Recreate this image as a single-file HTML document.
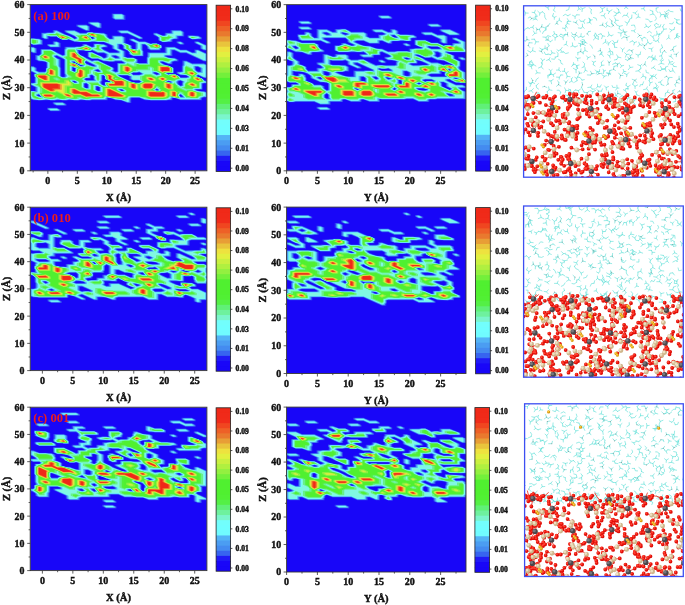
<!DOCTYPE html><html><head><meta charset="utf-8"><style>html,body{margin:0;padding:0;background:#fff;}svg{display:block;}</style></head><body><svg width="685" height="605" viewBox="0 0 685 605" font-family="'Liberation Serif', 'Times New Roman', serif">
<rect width="685" height="605" fill="#ffffff"/>
<clipPath id="cp0L"><rect x="30.20" y="4.60" width="176.70" height="166.20"/></clipPath>
<g clip-path="url(#cp0L)"><rect x="30.20" y="4.60" width="176.70" height="166.20" fill="#1806f8"/>
<path transform="scale(.25)" d="M462 54l24 0 16 7 0 19-40 0-15-8 0-18zM368 87l24 0 15 7 0 19-15 0-40-19 0-7zM321 98l24 0 15 8 0 18-15 0-40-18 0-8zM227 120l39 19 8 2 24 13 5-2 0-2-5-4-40-18 0-8 40 0 23 11 24 0 2-2 68 2 16 8 0 7 3 4 5 4 8 0 0-12 39 0 16 8 0 22 26 11 0 11 10 3 3-3 0-22-24-11 0-7 16 0 24 11 23 0 24 9 3-1 20 0 21 10 0 10-5 1 0 8-39 0-16-8 0-7-2-4-6-4-8 0 0 23 3 3 0 20-42 0-18-9 0-8-5-5-19-9 0-11-5-4-8 0 0 15 24 11 0 22 8 3 23 0 18 8 0 9-2 3 8 2 29 0 0-22 2-3 0-18 71 0 0-22 39 0 24 11 23 0 24 11 8 0 0-11 15 0 40 18 0 30-16 0-71-33-23 0-24-11-8 0 0 22-23 0 0 3 15 4 16 0 16 7 0 8-16 0-5 1-3 3 0 7-16 0-23-10-5 0 0 3 21 11 7 1 21 10 0 21-23 0-3 1 5 2 3-1 21 0 21 10 3 4 23 0 5-2 0-2-5-3-23-1-16-7 0-8 16 0 5-1 0-22 2-2 0-19 16 0 24 11 47 0 16 8 0 51-16 0-24-11-5 4 26 11 3 4 16 7 0 7-16 0-5 2 0 22-24 0-3 2 16 4 16 0 16 7 0 19-16 0-5 1-3 3 0 7-86 0-16-7-13-3-3 3 0 7-16 0-5 1-65 0-24-1-23-10-29 0-3 3 0 18-15 0-24-10-24-1-15-7-13-3-3 3 0 7-63 0-5 1-26-1-16 0-5 1-26-1-16 0-5 1-26-1-16 0-5 1-27-1-39 1-23-1-16-7 0-8-3-4 0-19 26 1 0-15-23-11 0-7 16 0 5-1 0-23-3-2 0-10 5-1-23-11 0-19 16 0 15 8 0 11 8 3 24 0 3-2 0-11 2-1 0-22-5-3-8-1-16 0-16-8 0-18 16 0 5-4 0-19 42 0 47 23 6-1 0-22 2-3 0-7 63-1 8-3 0-7 16 0 23 11 5-1 0-12 19 0 23 2 16 7 0 7-16 0-5 2 0 2 29 15 31 0 0-4-23-11 0-11-32-14-23 0-8-1-63 1-23-1-24-10-3 2-21 0-20-10-3-3-24 0-8-1 0 11-15 0-16-7 0-19 45-1 2-2 0-8zM486 120l24 0 62 30 0 7-15 0-47-22-24 0-16-7 0-8zM698 120l24 0 15 8 0 18-23 0 0 11-16 0-5 1-3 3 0 7-39 1-18-8 0-11-21-11 0-8 15 0 16 8 8 2 5 0 3-2 0-8 23 0 0-11zM360 146l8 8 5-2 0-2zM769 141l23 1 16 8 0 7-39 1-19-8 0-9zM133 152l23 2 16 7 0 18-39 2-19-9 0-20zM227 165l16 7 0 18-40 0-15-7 0-7 23 0 0-11zM722 165l15 7 0 7-15 0-16-7 0-7zM792 165l40 18 0 19-16 0-16-8 0-11-23-11 0-7zM133 187l15 7 0 19-15 0-16-8 0-18zM313 202l3 3 0 9 5 5 47 23 5-1 19 0 65 31 0 8-2 3 7 3 6-1 0-33 23 0 3-2-8-4-24 0-5 1-42-1-23-10-24 0-18-9 0-19 18 0 42 19 5 4 6-1 2-3 0-11-8-3-23 0-24-11-3 2-20 0zM222 225l0 2 5 4 16 7 0 30 2 4 0 33 5 2 6 0 2-2 0-7-2-4 0-56-29-14zM455 224l0 3 7 4 8 0 0-4-8-3zM292 247l0 3 26 11 3 2 5 0 3-2-8-2-21-9-2-3zM342 248l3 5 15 8 16 3 0-3-31-15zM292 269l0 14 6 2 2-1 0-11 3-1zM784 268l0 11 3 4 5 3 8 0 0-14-8-4zM386 280l-2 3 8 2 5 0 0-2-5-4zM530 293l-2 1 5 4 24 0 5-2 3-2-8-4-6 1-18 0zM619 290l0 4 8 4 6-2 0-2-6-3zM363 302l0 12-18 0-6 2 6 4 31 0-3-4 0-11-5-4zM410 302l0 23-3 2 0 7 3 4 5 3 6 0-3-3 0-10 24 0 0-1-24-11 0-11-3-3zM478 301l3 4 47 22 10 3 19 0 5-3-5-4-24 0-16-7 0-11-7-3-24 0zM292 325l6 5 5 0 0-3-5-2zM672 326l-3 1 11 3 2-3-8-2zM716 325l-2 2 0 7 2 4 6 4 5-1 0-11 2-3-7-4zM339 336l0 13 6 3 5 0 0-14-5-4zM386 347l0 13 6 3 5 0 0-14-5-2zM481 358l0 2 5 3 5 0 0-3-5-2zM625 359l-3 1 5 2 6-2-6-3zM151 380l0 2 5 3 8 1-8-7zM719 381l3 5 7 0-2-4-5-3zM227 408l23 0 16 8 0 7-39 0-16-7 0-8zM203 431l24 0 16 7 0 7-40 0-15-7 0-7z" fill="#2c40f0" fill-rule="evenodd"/>
<path transform="scale(.25)" d="M462 56l24 0 11 5 0 17-35 0-11-6 0-16zM368 89l24 0 11 5 0 17-11 0-35-17 0-5zM321 100l24 0 11 6 0 16-11 0-35-16 0-6zM227 122l35 17 12 4 15 7 9 6 8-2 0-4-8-6-36-16 0-6 36 0 23 11 24 0 4-3 19 0 8 1 39 2 12 6 0 5 4 6 8 6 12 0 0-12 35 0 11 6 0 22 13 4 15 7 0 11 16 4 4-4 0-22-23-11 0-5 11 0 24 11 23 0 24 9 4-2 19 0 20 9 0 9-8 2 0 6-35 0-12-6 0-5-4-6-8-6-12 0 0 23 4 5 0 19-39 0-15-8 0-7-4-4-4-4-16-7 0-11-8-6-12 0 0 17 23 11 0 22 13 4 23 0 16 7 0 8-4 4 12 3 31 0 0-22 4-4 0-16 71 0 0-22 35 0 24 11 23 0 24 11 12 0 0-11 11 0 35 16 0 28-11 0-71-33-23 0-24-11-12 0 0 22-24 0 0 5 12 4 13 2 11 0 11 5 0 6-11 0-8 2-4 4 0 5-12 0-23-9-8 0 0 4 8 5 11 6 12 2 20 9 0 20-24 0-4 2 8 4 5-2 19 0 19 9 5 6 23 0 8-2 0-4-8-4-12-2-11 0-12-5 0-6 12 0 8-1 0-23 4-3 0-17 11 0 24 11 47 0 11 6 0 49-11 0-24-11-8 6 8 2 19 9 5 6 11 5 0 5-11 0-8 2 0 23-24 0-4 3 12 4 12 2 12 0 11 5 0 17-11 0-8 2-4 4 0 5-82 0-12-5-20-4-4 4 0 5-12 0-8 2-62 0-12-2-12 0-23-9-32 0-4 4 0 16-11 0-24-9-12-2-12 0-11-5-20-4-4 4 0 5-59 0-8 2-15 0-12-2-12 0-8 2-15 0-13-2-11 0-8 2-16 0-12-2-11 0-8 2-16 0-12-2-35 2-12-2-11 0-12-5 0-6-4-5 0-19 16 0 12 2 0-17-24-11 0-5 12 0 8-2 0-22-4-4 0-9 8-2-24-11 0-17 12 0 11 6 0 11 12 5 24 0 4-3 0-11 4-2 0-22-8-4-12-2-12 0-11-6 0-16 11 0 8-6 0-18 39 0 47 24 9-2 0-22 3-4 0-5 36 0 8-2 15 0 12-4 0-5 12 0 23 11 8-2 0-11 16 0 12 2 11 0 12 5 0 5-12 0-8 2 0 4 8 6 24 11 36 0 0-6-24-11 0-11-24-11-12-4-23 0-12-2-12 0-8 2-39 0-12-2-11 0-24-9-4 2-20 0-19-9-4-4-24 0-12-2 0 11-11 0-12-5 0-17 12 0 8-2 23 0 4-3 0-6zM486 122l24 0 58 28 0 5-11 0-47-22-24 0-11-5 0-6zM698 122l24 0 11 6 0 16-24 0 0 11-11 0-8 2-4 4 0 5-35 2-16-7 0-11-8-6-11-5 0-6 11 0 24 10 8 0 4-4 0-6 24 0 0-11zM356 144l8 6 4 6 8-2 0-4zM769 143l12 1 11 0 12 6 0 5-35 2-16-7 0-7zM133 154l12 2 11 0 12 5 0 16-35 2-16-7 0-18zM227 167l11 5 0 16-35 0-11-5 0-5 23 0 0-11zM722 167l11 5 0 5-11 0-12-5 0-5zM792 167l35 16 0 17-11 0-12-6 0-11-23-11 0-5zM133 189l11 5 0 17-11 0-12-6 0-16zM309 200l4 5 0 7 8 8 47 24 8-2 16 0 62 30 0 7-4 4 12 5 9-1 0-34 23 0 4-3-12-6-24 0-8 2-15 0-12-2-12 0-23-9-24 0-15-8 0-18 15 0 39 18 8 6 8-2 4-4 0-11-12-5-23 0-24-11-4 3-19 0-9-2-15 0zM219 224l0 3 8 6 11 5 0 28 4 6 0 33 8 4 9 0 3-4 0-5-3-6 0-56-9-5-23-11zM450 222l0 5 12 6 13 0 0-6-13-5zM289 246l0 4 9 2 19 9 4 3 8 0 4-3-12-2-19-9-4-4zM340 247l0 3 5 5 23 9 12 2 0-5-35-17zM289 268l0 15 9 4 4-2 0-11 4-2zM780 266l0 11 4 6 8 5 12 0 0-16-12-6zM384 279l-4 4 12 4 8 0 0-4-8-6zM529 292l-4 2 8 6 24 0 8-2 4-4-12-6-8 2-16 0zM615 288l0 6 12 6 8-2 0-4-8-4zM360 301l0 11-15 0-9 4 9 6 35 0-4-6 0-11-8-6zM407 301l0 22-4 4 0 5 4 6 8 4 8 0-3-4 0-9 23 0 0-2-23-11 0-11-5-4zM474 299l4 6 47 22 16 4 16 0 8-4-8-6-24 0-11-5 0-11-12-4-24 0zM289 323l3 4 6 4 8 0 0-4-8-4zM670 325l-4 2 17 4 4-4-13-4zM713 323l-4 4 0 5 4 6 9 6 8-2 0-11 4-4-12-6zM336 334l0 15 9 4 8 0 0-15-8-6zM384 345l0 15 8 4 8 0 0-15-8-4zM478 357l0 3 8 4 8 0 0-4-8-3zM623 358l-4 2 8 2 5 0 3-2-8-5zM148 379l0 4 8 3 12 2-7-5-5-6zM717 380l0 3 5 5 12 0-4-5-8-6zM227 410l23 0 12 6 0 5-35 0-12-5 0-6zM203 433l24 0 11 5 0 5-35 0-11-5 0-5z" fill="#4793f0" fill-rule="evenodd"/>
<path transform="scale(.25)" d="M462 57l24 0 8 4 0 15-32 0-7-4 0-15zM368 91l24 0 8 3 0 15-8 0-32-15 0-3zM321 102l24 0 7 4 0 14-7 0-32-14 0-4zM227 124l31 15 16 5 13 6 11 7 10-2 0-5-10-8-32-14 0-4 32 0 23 11 24 0 5-5 18 0 11 3 36 2 8 4 0 3 5 8 11 7 16 0 0-11 31 0 8 4 0 22 16 5 13 6 0 11 21 5 5-5 0-22-24-11 0-4 8 0 24 11 23 0 24 9 5-2 18 0 18 8 0 8-10 3 0 4-31 0-8-4 0-4-5-7-11-7-15 0 0 22 5 7 0 17-37 0-13-6 0-6-10-10-13-6 0-11-11-7-16 0 0 18 24 11 0 22 16 5 23 0 13 6 0 7-5 5 16 5 34 0 0-23 5-5 0-14 71 0 0-23 31 0 24 12 23 0 24 11 15 0 0-11 8 0 32 14 0 26-8 0-71-33-23 0-24-11-16 0 0 22-23 0 0 7 15 5 24 3 8 3 0 4-8 0-11 3-5 5 0 3-8 0-23-8-11 0 0 5 11 7 8 4 15 2 18 9 0 19-23 0-5 3 10 5 6-2 18 0 18 8 6 7 23 0 11-2 0-5-11-5-23-2-8-4 0-4 8 0 10-2 0-22 5-5 0-15 8 0 24 11 47 0 8 4 0 48-8 0-24-11-10 7 10 3 18 8 6 7 8 4 0 4-8 0-11 2 0 22-23 0-5 5 15 5 24 3 8 3 0 15-8 0-11 3-5 5 0 3-78 0-8-3-27-5-5 5 0 3-8 0-10 3-60 0-24-3-23-8-34 0-6 5 0 14-7 0-24-8-24-3-7-3-27-5-5 5 0 3-55 0-10 3-13 0-16-3-8 0-11 3-12 0-16-3-8 0-11 3-13 0-15-3-8 0-11 3-13 0-15-3-8 0-11 3-13 0-23-3-8-3 0-4-5-7 0-18 13 0 15 3 0-19-23-11 0-4 8 0 10-2 0-22-5-5 0-8 10-3-23-11 0-15 8 0 7 4 0 11 16 7 24 0 5-5 0-11 5-2 0-22-10-5-24-3-8-4 0-14 8 0 11-8 0-17 36 0 13 6 11 8 23 11 11-3 0-22 5-5 0-4 32 0 10-2 13 0 16-5 0-4 8 0 23 11 11-2 0-11 13 0 23 2 8 4 0 4-8 0-10 2 0 5 10 8 24 11 39 0 0-8-23-11 0-11-24-11-16-5-23 0-16-2-8 0-10 2-37 0-23-2-24-9-6 2-18 0-18-8-5-5-24 0-15-3 0 12-8 0-8-4 0-15 8 0 10-2 24 0 5-5 0-4zM486 124l24 0 55 26 0 4-8 0-47-23-24 0-8-3 0-4zM698 124l24 0 7 4 0 14-23 0 0 12-8 0-11 2-5 5 0 4-8 0-10 2-13 0-13-6 0-11-11-8-8-3 0-4 8 0 24 9 10 0 6-5 0-4 23 0 0-11zM352 142l11 8 5 7 11-2 0-5zM769 144l23 2 8 4 0 4-8 0-10 2-13 0-13-6 0-6zM133 155l23 2 8 4 0 15-8 0-10 2-13 0-13-6 0-17zM227 168l8 4 0 15-32 0-8-4 0-4 24 0 0-11zM722 168l7 4 0 4-7 0-8-4 0-4zM792 168l32 15 0 15-8 0-8-4 0-11-24-11 0-4zM133 190l7 4 0 15-7 0-8-4 0-15zM305 198l5 7 0 6 11 10 13 6 11 8 23 11 11-3 13 0 60 29 0 6-5 5 15 7 11-2 0-33 24 0 5-5-16-8-24 0-10 3-13 0-24-3-23-9-24 0-13-6 0-17 13 0 37 17 10 8 11-3 5-5 0-11-16-7-23 0-24-11-5 5-18 0-11-3-13 0zM216 222l0 5 11 8 8 3 0 26 5 8 0 33 10 5 11 0 5-5 0-4-5-7 0-56-11-7-23-11zM447 220l0 7 15 8 16 0 0-8-16-7zM287 245l0 5 11 2 17 9 6 5 11 0 5-5-16-3-18-8-5-5zM339 247l0 3 6 7 23 9 16 2 0-7-39-19zM287 267l0 16 11 5 5-3 0-11 5-2zM777 264l0 11 5 8 10 7 16 0 0-18-16-8zM381 278l-5 5 16 5 10 0 0-5-10-8zM527 291l-4 3 10 7 24 0 10-2 5-5-15-8-11 3-13 0zM612 286l0 8 15 7 11-2 0-5-11-5zM358 300l0 11-13 0-11 5 11 7 39 0-5-7 0-11-11-7zM405 300l0 22-5 5 0 4 5 7 10 5 11 0-5-5 0-8 24 0 0-3-24-11 0-11-6-5zM470 298l5 7 48 22 21 5 13 0 10-5-10-7-24 0-8-4 0-11-15-5-24 0zM287 322l3 5 8 5 10 0 0-5-10-5zM669 324l-5 3 21 5 5-5-16-5zM711 322l-5 5 0 4 5 7 11 8 10-3 0-11 5-5-15-7zM334 333l0 16 11 5 10 0 0-16-10-7zM381 344l0 16 11 5 10 0 0-16-10-5zM475 355l0 5 11 5 11 0 0-5-11-5zM622 358l-5 2 10 3 6 0 5-3-11-7zM146 378l0 5 10 4 16 3-10-7-6-8zM716 380l0 3 6 7 15 0-5-7-10-8zM227 412l23 0 8 4 0 3-31 0-8-3 0-4zM203 434l24 0 8 4 0 4-32 0-8-4 0-4z" fill="#5bc7f7" fill-rule="evenodd"/>
<path transform="scale(.25)" d="M462 59l24 0 4 2 0 13-28 0-4-2 0-13zM368 92l24 0 4 2 0 13-4 0-28-13 0-2zM321 104l24 0 4 1 0 14-4 0-28-14 0-1zM227 126l28 13 19 6 11 5 13 9 12-3 0-6-12-9-28-13 0-2 28 0 23 11 24 0 7-6 16 0 13 3 11 0 23 3 5 2 0 2 6 9 13 9 19 0 0-11 28 0 4 2 0 22 20 6 10 5 0 11 26 6 6-6 0-22-23-11 0-2 4 0 24 11 23 0 24 8 7-3 16 0 17 8 0 8-12 3 0 2-28 0-4-2 0-2-7-9-13-9-19 0 0 22 6 9 0 16-34 0-10-5 0-5-6-6-7-6-11-5 0-11-13-9-19 0 0 20 23 11 0 22 20 6 23 0 11 5 0 5-7 7 20 6 36 0 0-23 7-6 0-13 70 0 0-22 28 0 24 11 23 0 24 11 19 0 0-11 4 0 28 13 0 24-4 0-71-33-23 0-24-11-19 0 0 22-24 0 0 9 19 6 24 3 4 2 0 2-17 3-6 7 0 2-5 0-23-9-13 0 0 7 17 11 19 3 17 8 0 19-24 0-6 3 13 6 7-3 17 0 17 8 7 9 23 0 13-3 0-6-13-6-23-3-5-2 0-2 18-3 0-22 6-6 0-13 4 0 24 11 47 0 4 2 0 46-4 0-24-11-13 9 13 3 17 8 7 9 4 2 0 2-17 3 0 22-24 0-6 6 19 6 24 3 4 2 0 13-17 3-7 7 0 2-74 0-5-2-32-7-6 7 0 2-18 3-57 0-24-3-23-9-37 0-6 7 0 13-4 0-24-8-24-3-4-2-32-7-6 7 0 2-52 0-13 3-10 0-20-3-17 3-10 0-20-3-17 3-11 0-19-3-17 3-11 0-19-3-17 3-11 0-23-3-5-2 0-2-6-9 0-17 11 0 19 3 0-20-24-11 0-2 18-3 0-22-6-6 0-8 12-3-24-11 0-13 5 0 4 2 0 11 19 9 24 0 7-6 0-11 6-3 0-22-13-7-24-3-4-2 0-13 4 0 13-9 0-16 34 0 11 5 13 9 23 11 13-3 0-22 7-6 0-2 28 0 12-3 11 0 19-6 0-2 5 0 23 11 13-3 0-11 11 0 23 3 5 2 0 2-18 3 0 6 13 9 24 11 43 0 0-9-24-11 0-11-23-11-20-6-23 0-20-3-17 3-34 0-23-3-24-8-7 3-17 0-16-8-7-6-24 0-19-3 0 11-4 0-5-2 0-13 18-3 23 0 7-6 0-2zM486 126l24 0 51 24 0 2-4 0-47-22-24 0-4-2 0-2zM698 126l24 0 4 2 0 13-24 0 0 11-17 3-6 6 0 2-18 3-10 0-11-5 0-11-17-11 0-2 4 0 24 8 13 0 6-6 0-2 24 0 0-11zM349 141l12 9 7 9 13-3 0-6zM769 145l23 3 4 2 0 2-17 3-10 0-11-5 0-5zM133 156l23 3 4 2 0 13-17 3-10 0-11-5 0-16zM227 170l4 2 0 13-28 0-4-2 0-2 24 0 0-11zM722 170l4 2 0 2-4 0-5-2 0-2zM792 170l28 13 0 13-4 0-4-2 0-11-24-11 0-2zM133 192l4 2 0 13-4 0-5-2 0-13zM302 196l6 9 0 5 6 6 7 6 11 5 13 9 23 12 13-3 11 0 57 27 0 5-6 6 19 9 13-3 0-33 24 0 6-6-19-10-24 0-13 3-10 0-24-3-23-8-24 0-10-5 0-16 10 0 34 16 13 9 13-3 7-6 0-11-20-9-23 0-24-11-7 6-16 0-13-3-11 0zM214 221l0 6 17 11 0 25 6 9 0 33 13 6 13 0 7-6 0-2-7-9 0-56-13-9-23-11zM443 218l0 9 19 9 20 0 0-9-20-9zM285 243l0 7 13 3 16 8 7 6 13 0 6-6-19-4-17-7-6-7zM338 246l0 4 7 9 4 2 19 6 20 3 0-9-43-21zM285 266l0 17 13 6 6-3 0-11 6-3zM773 263l0 11 6 9 13 9 20 0 0-20-20-9zM379 277l-7 6 20 6 13 0 0-6-13-9zM526 291l-6 3 13 9 24 0 13-3 6-6-19-9-13 3-11 0zM608 285l0 9 19 9 13-3 0-6-13-6zM355 299l0 11-10 0-13 6 13 9 43 0-7-9 0-11-13-9zM402 299l0 22-6 6 0 2 6 9 13 6 13 0-6-6 0-8 24 0 0-3-24-11 0-11-7-6zM467 296l6 9 47 22 26 6 11 0 13-6-13-9-24 0-4-2 0-11-19-6-24 0zM285 321l3 6 10 6 12 0 0-6-12-6zM667 324l-6 3 26 6 7-6-20-6zM709 321l-7 6 0 2 7 9 13 9 13-3 0-11 6-6-19-9zM332 332l0 17 13 6 13 0 0-17-13-9zM379 343l0 17 13 6 13 0 0-17-13-6zM473 354l0 6 13 6 13 0 0-6-13-6zM620 357l-6 3 13 4 7 0 6-4-13-9zM143 376l0 7 13 6 19 3-12-10-7-9zM715 379l0 3 7 10 19 0-6-9-13-10zM227 414l23 0 5 2 0 2-28 0-4-2 0-2zM203 436l24 0 4 2 0 2-28 0-4-2 0-2z" fill="#70feff" fill-rule="evenodd"/>
<path transform="scale(.25)" d="M462 61l25 0 0 12-26-1 0-11zM368 94l25 0 0 12-26-12zM321 105l25 1 0 11-26-11zM227 127l25 12 22 7 8 4 16 10 15-3 0-7-15-11-25-12 25 0 23 11 24 0 8-7 15 0 15 4 9 0 23 3 9 12 15 10 22 0 0-11 25 0 1 1 0 22 23 7 8 4 0 11 30 7 7-7 0-22-23-12 25 11 23 0 24 8 8-3 15 0 16 7 0 7-14 5-25 0-9-12-15-10-22 0 0 22 7 10 0 15-32 0-8-4 0-4-15-14-9-4 0-11-15-10-22 0 0 21 23 11 0 22 23 7 23 0 9 4 0 4-8 8 23 7 38 0 0-23 8-7 0-11 70 0 0-22 25 0 24 11 23 0 24 11 22 0 0-11 1 0 25 11 0 23-1 0-71-33-23 0-24-11-22 0 0 22-24 0 0 10 22 7 24 4 1 1-16 3-7 8-25-8-15 0 0 8 16 11 22 3 16 8 0 18-24 0-7 4 15 7 9-3 15 0 16 7 8 10 23 0 15-3 0-7-15-7-25-4 17-4 0-22 7-7 0-12 25 11 48 1 0 45-25-12-15 11 15 4 16 7 9 12-16 3 0 22-24 0-7 7 22 7 25 4 0 12-16 4-8 7-71 0-39-7-7 7-17 4-55 0-24-4-23-7-39 0-7 7 0 11-25-7-62-11-7 7-49 0-15 4-8 0-23-4-16 4-8 0-23-4-16 4-9 0-22-4-16 4-9 0-22-4-16 4-9 0-23-4-9-11 0-16 9 0 22 4 0-22-24-11 17-4 0-22-7-7 0-7 14-4-24-11 0-12 3 1 0 11 22 10 24 0 8-6 0-12 7-3 0-22-15-8-25-4 0-11 16-11 0-15 32 0 9 4 15 11 23 11 15-4 0-22 8-7 25 0 15-4 8 0 22-8 25 12 15-4 0-11 9 0 25 4-17 4 0 7 15 11 24 11 46 0 0-11-24-11 0-11-23-11-23-7-23 0-23-4-16 4-32 0-23-4-24-7-8 3-16 0-15-7-8-7-24 0-22-4 0 11-1 0-2 0 0-12 17-3 23 0zM486 127l24 0 48 23-48-22-24 0-1 0zM698 127l25 1 0 11-24 0 0 11-16 4-7 7-17 4-8 0-9-4 0-11-16-11 25 7 15 0 7-8 24 0 0-11zM346 139l14 11 8 10 15-3 0-7zM769 146l23 3 1 1-16 4-8 0-9-4 0-4zM133 157l24 4 0 12-16 3-8 0-9-4 0-15zM227 171l1 1 0 12-26-1 24-1 0-11zM722 171l1 2-3-1zM792 171l25 12 0 12-2-1 0-11-24-11zM133 194l1 0 0 12-3-1 0-11zM299 195l7 10 0 4 7 7 8 7 9 4 15 11 23 11 15-3 9 0 32 15 23 11 0 4-7 7 22 10 15-3 0-33 24 0 7-7-22-11-24 0-15 3-8 0-24-3-23-8-24 0-8-4 0-15 8 0 32 15 15 11 15-4 8-7 0-11-23-10-23 0-24-11-8 6-15 0-15-3-9 0zM212 220l0 7 16 11 0 23 7 11 0 33 15 7 15 0 8-7-8-11 0-56-15-10-23-11zM440 217l0 10 22 11 23 0 0-11-23-10zM282 242l0 8 16 3 15 8 8 7 15 0 7-7-22-4-15-7-8-8zM337 246l0 4 9 11 22 7 23 3 0-10-46-22zM282 265l0 18 16 7 8-3 0-12 7-3zM770 261l0 11 7 11 15 10 23 0 0-21-23-11zM377 276l-8 7 23 7 15 0 0-7-15-11zM525 290l-7 4 15 10 24 0 15-3 7-7-22-11-15 4-9 0zM605 283l0 11 22 10 15-3 0-7-15-7zM353 298l0 11-8 0-15 7 15 11 46 0-8-11 0-11-15-11zM400 298l0 22-7 8 7 10 15 7 15 0-7-7 0-7 24 0 0-4-24-11 0-11-8-7zM464 294l7 11 47 22 30 7 9 0 15-7-15-10-25-1 0-11-22-7-24 0zM282 320l5 7 11 7 15 0 0-7-15-7zM666 323l-7 4 30 7 8-7-23-7zM707 320l-8 7 8 11 15 11 15-4 0-11 7-7-22-10zM330 331l0 18 15 7 15 0 0-18-15-10zM377 342l0 18 15 7 15 0 0-18-15-7zM471 353l0 7 15 7 15 0 0-7-15-7zM619 357l-7 3 15 4 8 0 7-4-15-10zM141 375l0 8 15 7 22 3-14-10-8-11zM714 379l0 4 8 10 22 0-7-10-15-11zM227 415l23 0 2 1-25 0-1 0zM203 437l24 0 1 1-25 0-1 0z" fill="#80f8e2" fill-rule="evenodd"/>
<path transform="scale(.25)" d="M203 136l17 0 7-7 20 10 27 8 20 12-20-6-9 4-15 0-14-7-9-8-24 0-20-3 14-3zM368 132l17 4 27 3 3 1 7 10 13 9 0 11-20-6-23 0-20-3 13-3 0-8-39-11 8-7zM321 140l1-1 23 0 14 11 8 10-16 4-30 0-20-3 14-3 0-8-14-10zM651 147l17 0 6-7 20 10-13 3-7 6-3 0 0 2-14 3-6 0-7-3 0-11-13-10zM769 147l20 3-14 3-6 0-7-3 0-3zM133 158l19 3 0 11-13 3-6 0-7-3 0-14zM392 180l20 3-14 3 0 8 14 9-20 0-20-9 13-3 0-11zM510 180l6 3 0 11 34 8 7-6 6 9 0 14-30 0-6-3 0-3-8-8-9-8-7-3 0-11-13-9zM604 180l9-4 14 0 15 7 0 7-15 4-3-2-20 0-7-9-13-9zM321 191l24-7 22 10-8 7-14 0-17-4-27-3 14-3zM180 202l23 0 20 13 0 1-13 3 0 8 13 10 0 24 4 1 6 10 0 33 17 8 17 0 7-6 4 0 0-2-4-2-7-9 0-56-13-9 0-2 13-3 0-22 7-6 24 0 6 9 0 3 8 8 9 8 23 14-9 7 0 5 9 10-23-4-14-6-9-8-18 0 0 8 18 4 14 7 9 8 17 0 7-7 3 0 20 7 20 3-13 3-7 6-4 0 0 13-13 3 0 11-6 0-17 8 13 9 0 2-13 3 0 19 17 8 17 0 0-19-14-9 44 0 6 9 17 8 17 0-8-8 0-7 24 0 0-4-24-11 0-11-9-8-17 0 0 22-6 6-7-9 0-11-13-9 0-11 20 6 17 0 0-8-14-10 0-12-23-11 13-4 7 0 53 26 0 3-6 6-4 0 0 2 27 13 7 9 47 22 34 8 7 0 17-8-14-9 0-13 14-3 6-6 24 0 23 11 1-2 16-3 0-8-17-8-19-3 0-11-4-2-4 0 0 11-47 0 0 2-13 3-7 0-9 4-8 4 13 9-19-6-24 0-20-3 13-3 0-33 24 0 7-7 23 11 4 0 0-11 20 7 40 0 0-23 7-6 51 0 19 6 20 3-13 4-7 6-3 0-20-6-17 0 0 8 13 9 0 2 27 4 15 7 0 18-24 0-8 4 17 8 10-4 14 0 14 7 9 11-16 3-7 6-4 0-20-6-17 8 35 8 6-6 7 9 13 10 0 1 27 13 1-1 23 0 23 7 20 3 0 12-13 3-8 7-46-1-6-9-14-10 0-2-7-1 3 1-9 7 0 5 9 10-40-7-8 7-16 4-53 0-20-3-27-8-41 0-7 7-3 1 0 9-20-6-64-11-8 7-47 0-16 4-26-3-4-2-4 0 0 2-13 3-6 0-28-5 0 2-13 3-26-3-4-2-1 1-16 4-30-4-15-10-8-11 3-1 0-20-4-3-20-10 14-3 0-22-8-8 0-7 14-4 24 0 3 2-2-2 8-7 0-11 8-4 0-22-17-8-20-4 0-9-3-2 8-6 8-5 0-14zM368 213l30 14 14 10-20-7-24 0-6-3 0-14zM439 229l20 9-14 4-26-4 13-3zM510 235l23 0 7 3 0 4-7 6-23 0-20-10 0-9zM280 264l0 19 18 8 9-4 0-11 8-4zM745 262l24 11 6 10 16 11-8 7-8 4 17 4 15 7 8 11-16 3 0 22-24 0-6 7-24 0-20-10 14-3 0-11 7-7 3-1 0-11 13-3 0-8-17-8-20-3 14-3 0-22zM223 314l0 2 4 2 4 0 0-2zM461 316l5 0-4-2zM280 319l5 8 13 8 17 0 0-8-17-8zM375 341l0 19 17 8 17 0 0-19-17-8zM626 349l-8 7-8 4 17 5 10 0 7-5-13-9 0-2-4-1zM469 352l0 8 17 8 17 0 0-8-17-8zM133 368l19 3-13 3 0 9 17 8 20 3-13 3-7 0-20-3-3-2-7-9 0-15z" fill="#67f18b" fill-rule="evenodd"/>
<path transform="scale(.25)" d="M203 137l20 0 4-4 11 6 12 1 24 8 11 7-11-3-11 4-13 0-12-6-11-10-24 0-11-1zM368 133l35 6 12 6 4 5 7 5 0 11-11-3-23 0-11-2 7-2 0-9-40-11 7-6zM321 145l3-5 21 0 12 10 8 9-17 4-27 0-11-2 7-2 0-9-7-5zM651 148l20 0 3-3 12 5-8 2-4 3-12 0 0 6-11 2-4-2 0-11-7-5zM769 148l11 2-11 2-4-2 0-2zM133 159l11 2 0 11-8 2-7-2 0-13zM392 181l11 2-8 2 0 9 8 5-11 0-11-5 7-2 0-11zM510 181l3 2 0 11 40 10 4-4 3 5 0 13-27 0-4-2 0-1-9-10-14-11 0-11-8-5zM604 181l10-4 13 0 13 6 0 6-13 4-12-5-11 0-4-5-7-5zM321 192l24-7 20 9-8 6-12 0-35-6zM180 204l23 0 11 6 0 6-7 2 0 9 7 6 0 28 13 5 3 6 0 33 20 9 20 0 4-3 12 0 0-6-12-6-4-5 0-56-7-5 0-6 7-1 0-22 4-4 24 0 3 7 9 9 11 10 20 12-7 7 0 5 7 9-20-3-13-6-10-10-20 0 0 10 20 5 12 6 11 9 20 0 4-4 12 0 11 4 11 2-7 1-4 4-12 0 0 17-8 2 0 11-3 0-20 9 7 5 0 6-7 2 0 20 20 10 20 0 0-21-8-5 35 0 3 5 20 10 20 0-9-10 0-6 24 0 0-5-24-11 0-11-11-9-20 0 0 22-3 3-4-5 0-11-7-5 0-11 11 3 20 0 0-9-8-5 0-17-23-11 11-2 51 24 0 1-4 4-13 0 0 6 36 17 4 5 47 22 44 9 20-9-8-5 0-17 8-2 3-3 24 0 23 11 4-4 16-4 0-9-20-10-11-1 0-11-12-6-13 0 0 11-47 0 0 6-11 1-20 10 8 5-11-3-24 0-11-2 7-2 0-33 24 0 4-4 23 11 13 0 0-11 11 4 43 0 0-22 4-4 59 0 11 4 12 1-8 2-4 4-12 0-11-4-20 0 0 10 7 5 0 6 36 5 13 6 0 17-23 0-9 5 19 9 11-4 13 0 13 6 7 9-16 4-4 3-12 0-12-3-19 9 39 9 4-3 4 5 7 5 0 6 36 17 4-4 20 0 23 8 11 1 0 12-7 1-7 8-20 0-13-4-11 0-4-5-7-6 0-6-12-5-13 0 9 5-7 6 0 6 7 9-40-8-7 8-16 3-51 0-11-1-13-6-12 0-11-4-44 0-7 8-9 2 0 5-11-4-27-3-40-8-7 8-47 0-17 3-15-1-12-6-12 0 0 6-8 1-27-3-12-4 0 6-8 1-15-1-12-6-4 4-16 3-27-3-13-9-7-10 9-2 0-16-9-6-4-6-11-5 7-2 0-22-9-9 0-6 13-4 24 0 12 5-9-6 7-6 0-11 10-5 0-22-20-10-11-2 0-5-9-6 7-6 9-5 0-12zM368 215l27 12 8 6-11-4-24 0-3-2 0-12zM439 233l11 5-7 2-15-2 7-1zM510 237l23 0 4 1 0 2-4 4-23 0-12-6 0-5zM278 262l0 21 20 9 10-4 0-11 9-5zM745 266l24 12 3 5 17 11-7 6-10 5 20 5 13 6 7 9-16 4 0 22-24 0-3 4-24 0-11-6 7-1 0-12 8-7 9-2 0-11 7-2 0-9-20-9-11-2 7-2 0-22zM214 310l0 6 13 6 12 0 0-6-12-6zM459 314l0 2 3 2 13-2-13-6zM278 318l5 9 15 9 19 0 0-9-19-9zM372 340l0 20 20 10 20 0 0-21-20-9zM624 348l0 1-7 6-10 5 20 5 11 0 9-5-7-5 0-6-13-6zM466 351l0 9 20 10 20 0 0-10-20-9zM133 370l11 1-8 2 0 10 20 9 11 2-7 1-15-1-12-6-4-5 0-13z" fill="#52f03b" fill-rule="evenodd"/>
<path transform="scale(.25)" d="M203 138l23 0 1-1 4 2 19 2 28 11-4-2-12 5-12 0-11-5-12-11-24 0-3 0zM368 133l27 6 20 9 4 4 0 11-4-2-27 0 3-1 0-10-41-11 7-6zM321 148l6-7 18 0 11 9 7 8-17 3-29 0 3-1 0-10-3-2zM651 149l22 0 1-1 4 2-4 2-19 0 0 9-4 0-1 0 0-11-3-2zM769 149l3 1-3 0-2 0zM133 160l3 1 0 11-2 1-3-1 0-12zM392 182l3 1-2 1 0 10 2 2-7-2 3 0 0-12zM510 182l1 1 0 11 44 11 2-2 1 2 0 12-26-1-10-11-14-11 0-11-2-2zM604 182l12-4 11 0 12 5 0 5-12 4-19-7-4 0-4-4zM321 194l24-8 18 8-7 6-11 0-28-6zM180 205l23 0 4 2 0 9-3 1 0 10 3 2 0 32 20 9 1 2 0 33 22 10 44-1 0-9-20-9-1-2 0-56-3-1 0-10 3 0 0-22 1-2 24 0 11 13 12 11 18 11-6 6 0 6 6 8-18-3-12-5-11-11-23 0 0 11 23 5 11 6 12 10 43-1 8 2-4 1-20 0 0 21-2 0 0 12-13 4-11 6 3 2 0 9-3 1 0 21 23 11 22 0 0-22-3-2 28 0 1 2 22 11 23 0-11-11 0-5 24 0 0-6-24-11 0-11-12-11-22 0 0 23-1 1-1-2 0-11-3-2 0-11 4 1 22 0 0-10-2-2 0-20-24-11 4-1 48 23-1 1-20 0 0 10 92 44 46 11 22-11-3-2 0-20 4-2 24 0 23 11 6-6 17-4 0-10-23-11-3 0 0-11-20-10-20 0 0 11-47 0 0 10-16 5-10 6 2 2-3-2-28 0 3-1 0-33 23 0 2-1 23 11 20 0 0-11 4 1 46 0 0-22 1-1 67 0 7 1-4 2-45-1 0 11 2 1 0 10 43 5 12 6 0 16-24 0-10 6 22 10 12-4 12 0 12 5 6 8-18 5-20 0-4-1-22 10 45 11 1-2 4 4 0 9 43 21 6-7 18 0 27 8 0 12-3 0-6 8-18 0-20-7-4 0-4-3 0-10-19-9-20 0 14 9-6 6 0 6 6 8-40-8-7 8-17 3-48 0-4 0-20-10-20 0-3-1-46 0-7 8-14 3 0 1-33-4-40-8-7 8-47 0-17 3-5 0-20-10-20 0 0 10-2 0-25-3-20-7 0 10-2 0-5 0-20-10-6 7-17 3-24-3-12-8-6-9 14-3 0-12-14-10-6-9-4-2 3 0 0-23-10-10 0-5 11-4 24 0 20 7-15-9 7-6 0-11 10-5 0-22-22-11-4-1 0-1-14-10 6-5 10-6 0-11zM368 216l27 13-3-1-25-1 0-11zM439 237l4 1-8 0zM510 238l23 0 1 1-1 1-23 0-4-2 0-1zM275 261l0 22 23 10 11-5 0-11 11-5zM745 270l24 11 18 13-7 5-10 6 22 6 12 5 6 9-17 3 0 22-48 1-4-2 3 0 0-11 7-8 14-3 0-11 2-1 0-10-22-11-4 0 3-1 0-22zM207 307l0 9 20 9 20 0 0-9-20-9zM457 313l0 3 5 3 20-3-20-9zM275 317l6 10 17 11 22 0 0-11-22-10zM369 339l0 21 23 11 22 0 0-22-22-10zM622 347l0 2-7 6-10 5 22 6 12 0 11-6-3-1 0-10-20-9zM464 350l0 10 22 11 22 0 0-11-22-10zM133 371l3 0-2 1 0 11 22 10 4 1-8 0-19-10-2-1 0-12z" fill="#50f030" fill-rule="evenodd"/>
<path transform="scale(.25)" d="M368 134l21 5 0 9-36-9 6-5zM250 143l21 7-11 4-10 0-9-4-11-10zM345 143l9 7 6 7-15 3-21-10 6-7zM627 179l10 4 0 5-10 2-20-7 11-4zM345 187l15 7-6 5-9 0-21-5zM533 201l21 4 0 10-21 0-21-20zM298 207l20 19 0 1 18 11-5 5 0 7 5 7-15-3-10-4-11-10 0-2-23-11 0-20zM180 218l20 9 0 10-20 0-15-10zM298 256l9 5 11 9-41-9 0-10zM510 262l20 10 0 11-20 10-21-10 0-21zM651 265l8 0 15 2 10 5 0 15-24 0-9 6-21-10 0-21zM203 273l21 10 0 21-21 0-15-10 6-5 0-11zM321 273l21 10 0 22-21 10-21-10 0-11 11-5 0-11zM769 284l15 10-15 10-21-10 0-10zM156 298l24 0 20 7 0 21-20 0-24-11-9-10 0-5zM439 295l21 10-6 7 0 4 8 4 9 0 15-3 21 10 0 21-68 0-10-10 0-4 24 0 0-7-24-11 0-11-11-10zM698 300l10 5 5 7-15 3-21-10 11-5zM604 306l21 10 0 10-21 0-21-10 0-10zM651 306l21 10-21 10-21-10 6-7zM792 312l10 4 5 7-15 3-20-10 0-10zM274 319l5 8 12 8 0 11-23 0 0 25 6 2 21 10 0 9-21-2-21-7-3-4-23-11-3 2-21 0-23-11-15-10-6-9 0-12 68 0 6 2 24 0 0-11zM533 334l21 4 0 21-21 0-21-10 0-21zM580 328l24 0 21 10-6 7 0 4-15 10-24 0-21-10 0-11zM674 334l21 4 0 21-21 0-20-10 0-21zM769 328l20 10 0 10-20 0-21-10 6-7zM298 351l23 11 24 0 23 11 24 0 20 10-5 7-47 0-15 2-24-11-23 0-21-10 0-20zM439 351l68 32-6 7-15 2-32-2-36-7 0-32zM604 362l23 5 14 0 10-5 21 9 0 12-6 7-15 2-47 0-21-9 0-21zM698 362l15 9-5 5 0 7 5 7-36-7 0-21zM769 364l20 7 0 12-5 7-15 0-21-7 0-12 6-7zM180 373l23 0 21 10-6 7-15 2-23-2-10-7-5-8z" fill="#8bf040" fill-rule="evenodd"/>
<path transform="scale(.25)" d="M368 135l17 4 0 8-29-8 4-4zM250 144l17 6-9 4-8 0-7-4-10-8zM345 144l7 6 5 6-12 2-17-8 4-6zM627 179l8 4 0 4-8 2-17-6 9-4zM345 188l12 6-5 4-7 0-17-4zM533 202l17 3 0 8-17 0-17-16zM298 208l16 16 0 3 19 11-4 4 0 8 4 5-12-2-8-3-9-8 0-4-23-11 0-19zM180 219l17 8 0 8-17 0-13-8zM298 257l7 4 9 8-33-8 0-8zM510 264l17 8 0 11-17 8-17-8 0-19zM651 266l11 0 12 2 8 4 0 14-23 0-8 5-17-8 0-19zM203 275l17 8 0 19-17 0-12-8 4-4 0-11zM321 275l17 8 0 22-17 8-17-8 0-11 9-4 0-11zM769 286l12 8-12 8-17-8 0-8zM156 299l24 0 17 6 0 19-17 0-24-11-8-8 0-4zM439 297l17 8-5 6 0 5 11 5 12 0 12-2 17 8 0 19-64 0-8-8 0-4 24 0 0-7-24-11 0-11-9-8zM698 301l8 4 4 6-12 2-17-8 9-4zM604 308l17 8 0 8-17 0-17-8 0-8zM651 308l17 8-17 8-17-8 5-6zM792 312l8 4 5 6-13 2-17-8 0-8zM274 323l2 4 7 4 0 11-24 0 0 29 15 4 17 8 0 7-17-2-17-5-7-8-23-11-7 4-17 0-23-11-13-8-4-8 0-11 64 0 15 4 23 0 0-11zM533 334l17 4 0 19-17 0-17-8 0-19zM580 330l24 0 17 8-5 6 0 5-12 8-24 0-17-8 0-11zM674 334l17 4 0 19-17 0-17-8 0-19zM769 330l17 8 0 8-17 0-17-8 4-6zM298 352l23 11 24 0 23 12 24 0 17 8-5 5-47 0-12 2-24-11-23 0-17-8 0-19zM439 352l64 31-5 5-12 2-35-2-29-5 0-31zM604 363l6 0 17 5 16 0 8-5 17 8 0 12-5 5-12 2-47 0-17-7 0-20zM698 363l12 8-4 4 0 8 4 5-29-5 0-20zM769 366l17 5 0 12-5 5-12 0-17-5 0-12 4-5zM180 375l23 0 17 8-4 5-13 2-23-2-8-5-5-6z" fill="#c8f040" fill-rule="evenodd"/>
<path transform="scale(.25)" d="M368 136l14 3 0 6-24-6 4-3zM250 145l15 5-8 3-7 0-6-3-8-7zM345 145l6 5 4 5-10 1-15-6 4-5zM627 180l7 3 0 3-7 2-14-5 8-3zM345 189l10 5-4 3-6 0-15-3zM533 202l14 3 0 7-14 0-14-13zM298 210l14 13 0 4 19 11-3 4 0 8 3 4-10-1-6-3-8-7 0-5-24-11 0-17zM180 221l14 6 0 7-14 0-11-7zM298 258l6 3 8 6-29-6 0-7zM510 265l14 7 0 11-14 6-15-6 0-18zM651 267l13 0 10 2 7 3 0 14-24 0-6 3-14-6 0-18zM203 276l14 7 0 18-14 0-10-7 4-3 0-11zM321 276l14 7 0 22-14 7-14-7 0-11 8-3 0-11zM769 287l10 7-10 7-14-7 0-7zM156 300l24 0 14 5 0 18-14 0-24-11-6-7 0-3zM439 298l14 7-4 5 0 6 13 6 14 0 10-2 14 7 0 18-61 0-7-7 0-3 24 0 0-8-24-11 0-11-7-7zM698 302l7 3 3 5-10 2-14-7 7-3zM604 309l14 7 0 7-14 0-14-7 0-7zM651 309l14 7-14 7-14-7 4-5zM792 313l7 3 4 5-11 2-14-7 0-7zM274 326l2 2 0 11-23 0 0 32 21 5 14 7 0 6-14-2-14-4-10-11-23-11-10 6-14 0-23-11-11-7-3-6 0-11 61 0 21 5 24 0 0-11zM533 335l14 3 0 18-14 0-14-7 0-17zM580 332l24 0 14 6-4 5 0 6-10 7-24 0-14-7 0-11zM674 335l15 3 0 18-15 0-14-7 0-17zM769 332l14 6 0 7-14 0-14-7 3-5zM298 354l23 11 24 0 23 11 24 0 14 7-4 4-47 0-10 2-24-11-23 0-15-7 0-17zM439 354l61 29-4 4-10 2-37-2-24-4 0-29zM604 365l9 0 14 3 17 0 7-3 14 6 0 12-4 4-10 2-47 0-14-6 0-18zM698 365l10 6-3 3 0 9 3 4-24-4 0-18zM769 367l14 4 0 12-4 4-10 0-14-4 0-12 3-4zM180 376l23 0 14 7-3 4-11 2-23-2-7-4-4-5z" fill="#eee63f" fill-rule="evenodd"/>
<path transform="scale(.25)" d="M368 136l11 3 0 5-19-5 3-3zM250 146l12 4-6 2-6 0-5-2-6-5zM345 146l8 8-8 1-12-5 3-4zM627 181l6 2 0 3-6 1-11-4 6-2zM345 190l8 4-3 3-17-3zM533 203l11 2 0 6-11 0-11-11zM298 211l11 11 0 5 20 11-3 3 0 9 3 3-8-1-5-2-6-6 0-6-24-11 0-16zM180 222l11 5 0 6-11 0-8-6zM298 258l5 3 6 5-23-5 0-6zM510 266l11 6 0 11-11 5-12-5 0-17zM651 268l15 0 8 1 6 3 0 13-24 0-5 3-11-5 0-17zM203 277l12 6 0 16-12 0-8-5 3-3 0-11zM321 277l11 6 0 22-11 5-11-5 0-11 6-3 0-11zM769 289l8 5-8 5-12-5 0-5zM156 301l24 0 11 4 0 16-11 0-24-11-5-5 0-3zM439 300l11 5-3 4 0 7 15 7 16 0 8-1 11 5 0 16-58 0-5-5 0-2 23 0 0-9-23-11 0-11-6-5zM698 302l5 3 3 4-8 1-11-5 6-3zM604 311l11 5 0 5-11 0-12-5 0-5zM651 311l11 5-11 5-11-5 3-4zM792 314l5 2 3 4-8 1-11-5 0-5zM180 333l47 0 20 5 0 21-24 0 0 1-8 6-12 0-23-11-8-6-4-5 0-11zM533 336l11 2 0 17-11 0-11-6 0-16zM580 333l24 0 11 5-3 4 0 7-8 6-24 0-11-6 0-11zM674 336l12 2 0 17-12 0-11-6 0-16zM769 333l11 5 0 5-11 0-12-5 4-4zM298 355l23 11 24 0 23 11 24 0 11 6-3 3-47 0-8 2-24-11-23 0-12-6 0-16zM439 355l58 28-3 3-8 2-39-2-19-3 0-28zM604 366l12 0 11 3 19 0 5-3 11 5 0 12-3 3-8 2-47 0-12-5 0-17zM698 366l8 5-3 3 0 9 3 3-19-3 0-17zM769 368l11 3 0 12-3 3-8 0-12-3 0-12 4-3zM180 377l23 0 12 6-4 3-8 2-23-2-8-7zM274 377l11 6 0 5-11-2-11-3-9-10z" fill="#e89a35" fill-rule="evenodd"/>
<path transform="scale(.25)" d="M368 137l8 2 0 3-13-3 2-2zM250 147l8 3-8 1-7-5zM345 147l5 5-5 1-8-3 2-3zM627 181l4 2 0 2-4 1-7-3zM345 192l5 2-2 2-11-2zM533 204l8 1 0 4-8 0-7-7zM298 213l7 7 0 7 22 11-2 2 0 10 2 2-9-2-4-4 0-8-24-11 0-14zM180 224l7 3 0 4-7 0-6-4zM298 259l7 5-15-3 0-4zM510 268l7 4 0 11-7 3-8-3 0-15zM651 269l18 0 9 3 0 12-24 0-3 2-8-3 0-15zM203 279l8 4 0 14-8 0-5-3 2-2 0-11zM321 279l8 4 0 22-8 3-7-3 0-11 4-2 0-11zM769 290l5 4-5 3-8-3 0-4zM156 302l24 0 7 3 0 15-7 0-24-12-3-3 0-2zM439 301l7 4-2 3 0 8 18 9 24-1 8 3 0 15-55 0-4-4 0-1 24 0 0-10-24-11 0-11-4-4zM698 303l5 5-5 0-8-3zM604 312l7 4 0 4-7 0-8-4 0-4zM651 312l7 4-7 4-8-4 2-3zM792 314l6 5-6 1-7-4 0-4zM180 335l47 0 13 3 0 18-23 0 0 4-6 4-8 0-29-15-2-3 0-11zM533 337l8 1 0 15-8 0-7-4 0-14zM580 335l24 0 7 3-2 3 0 8-5 4-24 0-7-4 0-11zM674 337l8 1 0 15-8 0-7-4 0-14zM769 335l7 3 0 4-7 0-8-4 2-2zM298 357l23 11 24 0 23 11 24 0 7 4-2 2-52 1-24-11-23 0-8-4 0-14zM439 357l55 26-3 2-5 1-42-1-13-2 0-26zM604 368l16 0 7 2 20 0 4-2 7 3 0 12-2 2-5 1-47 0-8-3 0-15zM698 368l5 3-1 2 0 10 1 2-13-2 0-15zM769 369l7 2 0 12-2 2-5 0-8-2 0-12 2-2zM180 379l23 0 8 4-2 2-6 1-16 0-7-1-4-2-2-3zM274 379l7 4 0 3-7-1-8-2-6-7z" fill="#f04f22" fill-rule="evenodd"/>
<path transform="scale(.25)" d="M368 138l4 1 0 2-7-2zM250 149l4 1-4 1-3-3zM345 149l2 2-2 1-4-2 1-1zM627 182l2 1-2 1-3-1zM345 193l2 1-1 1-5-1zM533 204l4 1 0 2-4 0-4-4zM298 215l3 3 0 9 23 11-1 1 1 12-7-3 0-10-23-11 0-12zM180 226l3 1 0 2-3 0-3-2zM298 260l3 2-7-1 0-2zM510 270l3 2 0 11-3 2-4-2 0-13zM651 270l21 0 4 2 0 12-23 0-2 1-4-2 0-13zM203 281l4 2 0 13-4 0-2-2 1-1 0-11zM321 281l4 2 0 22-4 2-4-2 0-11 2-1 0-11zM769 292l2 2-2 2-4-2 0-2zM156 304l24 0 3 1 0 13-3 0-24-11-2-2zM439 303l4 2-1 1 0 10 20 10 24-1 4 2 0 13-51 0-2-3 24 0 0-10-24-11 0-11-2-2zM698 304l3 2-3 1-4-2zM604 314l4 2 0 2-8-2 0-2zM651 314l4 2-4 2-4-2zM792 315l3 2-3 1-4-2 0-2zM180 336l47 0 7 2 0 14-24 0 0 8-3 2-4 0-26-13-1-2 0-11zM533 337l4 1 0 13-8-2 0-13zM580 336l24 0 4 2-1 1 0 10-3 2-24 0-4-2 0-11zM674 337l4 1 0 13-7-2 0-13zM769 336l3 2 0 2-7-2zM298 359l23 11 24 0 23 11 24 0 4 2-2 1-49 0-24-11-23 0-4-2 0-12zM439 359l51 24-4 1-44 0-7-1 0-24zM604 370l23 1 22 0 2-1 4 1 0 12-4 1-47 0-4-1 0-13zM698 370l3 1-1 1 1 12-7-1 0-13zM769 370l3 1 0 12-1 1-6-1 0-12 1-1zM180 381l23 0 4 2-4 1-20 0-5-1-1-2zM274 381l4 2 0 1-4 0-4-1-3-4z" fill="#f02b19" fill-rule="evenodd"/>
<path transform="scale(.25)" d="M368 138l2 2-3-1zM345 149l1 1-3 0zM627 183l0 1-1-1zM533 205l2 1-2 0-2-2zM298 216l1 1 0 10 23 11 0 12-3-1 0-11-23-11 0-11zM180 227l1 1-2-1zM298 260l1 1-3 0zM510 271l1 1 0 11-1 1-2-1 0-12zM651 271l24 1 0 11-26 0 0-12zM203 282l2 1 0 12-3-1zM321 282l2 1 0 22-2 1-2-1zM769 293l1 1-1 1-2-1zM156 304l25 1 0 12-25-11zM439 304l2 1-1 11 22 11 26 0 0 12-49 0-1-1 24 0 0-11-24-11-1-12zM698 305l1 1-3-1zM604 315l1 2-3-1zM651 315l2 1-4 0zM792 316l1 1-1 0-1-2zM180 337l50 1 0 13-24 0 0 9-3 1-24-12-1-12zM533 338l2 0 0 12-4-1 0-12zM580 337l25 1 0 11-26 0 0-11zM674 338l2 0 0 12-3-1 0-12zM769 337l1 2-3-1zM298 360l23 11 24 0 23 11 25 1-48 0-24-11-23 0-2-1 0-11zM439 360l49 23-51 0 0-23zM604 371l47 0 2 0 0 12-49 0-2 0 0-12zM698 371l1 0 0 12-3 0 0-12zM769 371l1 0 0 12-3 0 0-12zM180 382l25 1-24 0-2 0zM274 382l2 1-2 0-3-2z" fill="#f02818" fill-rule="evenodd"/>
</g>
<rect x="30.20" y="4.60" width="176.70" height="166.20" fill="none" stroke="#333" stroke-width="0.9"/>
<line x1="27.20" y1="170.80" x2="30.20" y2="170.80" stroke="#333" stroke-width="0.8"/>
<text x="24.40" y="174.20" font-size="9.9" text-anchor="end" fill="#111" stroke="#111" stroke-width="0.42" font-weight="bold">0</text>
<line x1="28.60" y1="156.95" x2="30.20" y2="156.95" stroke="#333" stroke-width="0.8"/>
<line x1="27.20" y1="143.10" x2="30.20" y2="143.10" stroke="#333" stroke-width="0.8"/>
<text x="24.40" y="146.50" font-size="9.9" text-anchor="end" fill="#111" stroke="#111" stroke-width="0.42" font-weight="bold">10</text>
<line x1="28.60" y1="129.25" x2="30.20" y2="129.25" stroke="#333" stroke-width="0.8"/>
<line x1="27.20" y1="115.40" x2="30.20" y2="115.40" stroke="#333" stroke-width="0.8"/>
<text x="24.40" y="118.80" font-size="9.9" text-anchor="end" fill="#111" stroke="#111" stroke-width="0.42" font-weight="bold">20</text>
<line x1="28.60" y1="101.55" x2="30.20" y2="101.55" stroke="#333" stroke-width="0.8"/>
<line x1="27.20" y1="87.70" x2="30.20" y2="87.70" stroke="#333" stroke-width="0.8"/>
<text x="24.40" y="91.10" font-size="9.9" text-anchor="end" fill="#111" stroke="#111" stroke-width="0.42" font-weight="bold">30</text>
<line x1="28.60" y1="73.85" x2="30.20" y2="73.85" stroke="#333" stroke-width="0.8"/>
<line x1="27.20" y1="60.00" x2="30.20" y2="60.00" stroke="#333" stroke-width="0.8"/>
<text x="24.40" y="63.40" font-size="9.9" text-anchor="end" fill="#111" stroke="#111" stroke-width="0.42" font-weight="bold">40</text>
<line x1="28.60" y1="46.15" x2="30.20" y2="46.15" stroke="#333" stroke-width="0.8"/>
<line x1="27.20" y1="32.30" x2="30.20" y2="32.30" stroke="#333" stroke-width="0.8"/>
<text x="24.40" y="35.70" font-size="9.9" text-anchor="end" fill="#111" stroke="#111" stroke-width="0.42" font-weight="bold">50</text>
<line x1="28.60" y1="18.45" x2="30.20" y2="18.45" stroke="#333" stroke-width="0.8"/>
<line x1="27.20" y1="4.60" x2="30.20" y2="4.60" stroke="#333" stroke-width="0.8"/>
<text x="24.40" y="8.00" font-size="9.9" text-anchor="end" fill="#111" stroke="#111" stroke-width="0.42" font-weight="bold">60</text>
<line x1="47.87" y1="170.80" x2="47.87" y2="173.80" stroke="#333" stroke-width="0.8"/>
<text x="47.87" y="184.20" font-size="10.0" text-anchor="middle" fill="#111" stroke="#111" stroke-width="0.42" font-weight="bold">0</text>
<line x1="77.32" y1="170.80" x2="77.32" y2="173.80" stroke="#333" stroke-width="0.8"/>
<text x="77.32" y="184.20" font-size="10.0" text-anchor="middle" fill="#111" stroke="#111" stroke-width="0.42" font-weight="bold">5</text>
<line x1="106.77" y1="170.80" x2="106.77" y2="173.80" stroke="#333" stroke-width="0.8"/>
<text x="106.77" y="184.20" font-size="10.0" text-anchor="middle" fill="#111" stroke="#111" stroke-width="0.42" font-weight="bold">10</text>
<line x1="136.22" y1="170.80" x2="136.22" y2="173.80" stroke="#333" stroke-width="0.8"/>
<text x="136.22" y="184.20" font-size="10.0" text-anchor="middle" fill="#111" stroke="#111" stroke-width="0.42" font-weight="bold">15</text>
<line x1="165.67" y1="170.80" x2="165.67" y2="173.80" stroke="#333" stroke-width="0.8"/>
<text x="165.67" y="184.20" font-size="10.0" text-anchor="middle" fill="#111" stroke="#111" stroke-width="0.42" font-weight="bold">20</text>
<line x1="195.12" y1="170.80" x2="195.12" y2="173.80" stroke="#333" stroke-width="0.8"/>
<text x="195.12" y="184.20" font-size="10.0" text-anchor="middle" fill="#111" stroke="#111" stroke-width="0.42" font-weight="bold">25</text>
<line x1="33.14" y1="170.80" x2="33.14" y2="172.40" stroke="#333" stroke-width="0.8"/>
<line x1="62.59" y1="170.80" x2="62.59" y2="172.40" stroke="#333" stroke-width="0.8"/>
<line x1="92.05" y1="170.80" x2="92.05" y2="172.40" stroke="#333" stroke-width="0.8"/>
<line x1="121.50" y1="170.80" x2="121.50" y2="172.40" stroke="#333" stroke-width="0.8"/>
<line x1="150.94" y1="170.80" x2="150.94" y2="172.40" stroke="#333" stroke-width="0.8"/>
<line x1="180.40" y1="170.80" x2="180.40" y2="172.40" stroke="#333" stroke-width="0.8"/>
<text x="118.55" y="201.20" font-size="10.6" text-anchor="middle" fill="#111" stroke="#111" stroke-width="0.42" font-weight="bold">X (Å)</text>
<text x="0" y="0" font-size="10.6" font-weight="bold" text-anchor="middle" fill="#111" stroke="#111" stroke-width="0.42" transform="translate(10.30,87.70) rotate(-90)">Z (Å)</text>
<clipPath id="cp0R"><rect x="286.60" y="4.65" width="179.40" height="166.15"/></clipPath>
<g clip-path="url(#cp0R)"><rect x="286.60" y="4.65" width="179.40" height="166.15" fill="#1806f8"/>
<path transform="scale(.25)" d="M1528 61l25 0 16 7 0 8-41 0-16-8 0-7zM1208 83l25 0 16 7 0 8-41 0-16-8 0-7zM1726 94l24 0 17 8 0 7-41 0-17-7 0-8zM1208 105l25 0 16 8 0 7-41 0-16-7 0-8zM1282 116l25 0 24 11 8 0 0-11 17 0 5-1 20 0 24 12 49 0 17 8 0 11 8 4 33 0 0-12 16 0 6-1 3-2-9-4-24 0-17-7 0-8 41 0 25 11 8 0 0-11 17 0 16 8 0 11 8 2 50 1 16 8 0 7-16 0-6 1 0 11-27-1-47 1-3 3 0 7-16 0-25-11-8 0 0 11-41 0-25-11-24 0-6 1-2 3 24 11 17 4 16 0 25 10 24 1 25 11 25 0 5-1 44 0 8 1 0-11 47-1 2-3-27-11 0-20 44 0 25 11 24 0 25 12 3-2 21 0 6 2 3-3 0-7 24 0 0-4-24-11 0-7 16 0 41 18 0 30 3 3 0 9-69 0-8-1 0 3 28 11 0 11 24 12 0 19-2 3 0 7 2 4 6 3 16 8 0 29 5 4 0 10-46-1-25-13-8 0 0 4 33 15 25 0 16 7 0 8-24 0 2 3 6 4 16 7 0 30-115 0-5 1-25 0-3 3 0 7-41 0-24-11-25 0-6 1-93 0-8-1 0 11-41 0-25-10-5 0-3 3 0 7-41 0-16-7-8-3-6 0-3 3 0 7-49 0 0 11-41 0-25-11-74 0-5 1-19 0-19-8 0-9 2-2 0-8-2-3 0-9 2-3 0-7-2-4 0-8 19 0 3-1 2-2 0-8 25 0 0-3-6-2-24 0-19-9 0-20 2-2 0-41 17 0 5-1 3-2 0-11-27-12 0-8 2-3 0-18 17 0 16 7 0 19 3 3 22 12 0 11 27 11 0 8 6 6 33 0 0-11 16 0 5-1 0-2-5-4-16-7 0-8 24 0 0-33 17 0 24 10 6 0 2-3 0-7 42 0 16 7 0 11 8 4 49-1 50 23 5-1 28 1 41 0 5-1 0-11 3-2-17-4-16 0-16-8 0-7 16 0 6-1 0-3-6-3-25-11-5 1 0 11-25 0-2 2 0 8-42 0-16-8 0-7 25 0-3-4-6-3-5 1-27-1-66 1-19-9 0-19 19 0 8-3 0-7 17 0 24 10 6 0 2-3-24-11 0-7-3-4-5-4-83 0 0 4 25 11 0 7-16 0-25-11-74 0-16-7 0-7-3-4 0-9 25 0 2-2 0-8 17 0 16 8 0 7 3 4 5 4 9 0 0-34zM1775 116l24 0 42 19 0 7-42 0-41-18 0-8zM1298 131l0 4 9 3 8 0 0-3-8-4zM1372 131l0 4 9 3 5-1 3-2zM1701 127l25 0 24 11 25 0 16 8 0 29-16 0-17-7 0-11-32-15-25 0-17-7 0-8zM1569 142l3 4 6 2 8 2-3-4-5-4zM1159 159l24 2 25 9 49 0 19 9 0 9 6 6 16 7 0 8-46 1-3 2 0 8-16 0-25-10-25-1-43-19 0-8 2-3 0-7-2-4 0-9zM1627 172l16 7 0 7-16 0-16-7 0-7zM1175 186l3 4 5 4 6-1 0-3-6-4zM1717 186l0 4 9 4 32 0-2-4-6-2-24 0zM1742 209l3 3 0 9-3 2 8 4 6-1 2-3 0-11-8-3zM1668 220l0 3 27 11 6 4 25 11 24 0 25 10 3-1 21 0 9 2-3-3-30-14-25-1-24-11-6 1-19 0-25-11zM1621 232l0 2 6 3 5 0 3-3-8-2zM1849 227l16 7 0 8-16 0-17-8 0-7zM1323 242l0 15 8 2 50 1 16 8 0 18-16 0-4 2-25 0-4 2 33 13 8 2 24 0 0-23 41 0 6-1 27 1 0-3-57-26-8 0 0 4 24 11 0 7-16 0-41-18 0-11-8-4-6 1-44 0zM1528 238l17 8 0 7-17 0-16-7 0-8zM1668 242l3 4 0 8-25 0-3 3 9 3 54-1 3-2-25-11zM1520 275l0 4 8 2 25 0 8 1 0-3-8-4-6 1zM1794 276l5 5 6-2zM1175 286l0 15 14 2 3-2 0-7 16 0 16 7 0 7 3 4 0 11 26 11 4 4 25 0 16 7 0 8 3 3 6 4 5-1 0-25-5-2-9-2-16 0-41-18 0-7-3-4-22-11-14-3zM1298 286l0 11 3 4 6 1 8-1 0-11zM1619 286l0 15 8 2 5 0 3-2 0-11-8-4zM1767 286l0 11-41 0-6 1-3 3 9 4 57 0-5-4 0-10 2-1zM1276 310l-2 2 8 4 5-1-5-5zM1446 308l0 15 14 3 0-14-6-4zM1496 308l2 4 6 4 5-1 0-3-5-4zM1547 310l0 2 6 4 6-1 2-3zM1821 311l-5 1 8 3 8-3zM1594 319l3 4 0 9-3 2 11 2 0-12 3-1zM1695 321l0 2 6 3 3-2 22 0 5 2 3-3-8-4-25 0zM1673 333l-2 1 5 3 6-3-6-2zM1767 330l2 4 0 11 30 14 6-3-22-11 0-11-8-4zM1424 354l0 2 6 3 5-3zM1575 355l-3 1 6 3 5-3-5-3zM1671 354l0 2 5 3 8 1 17 0 5-1 0-3-11-2zM1304 377l-3 2 0 11 6 3 8 0-3-3 0-11-5-4zM1791 375l3 4 5 3 9 0 0-3zM1282 427l25 0 16 7 0 7-41 0-16-7 0-7z" fill="#2c40f0" fill-rule="evenodd"/>
<path transform="scale(.25)" d="M1528 63l25 0 12 5 0 6-37 0-12-6 0-5zM1208 85l25 0 12 5 0 6-37 0-12-6 0-5zM1726 96l24 0 12 6 0 5-36 0-12-5 0-6zM1208 107l25 0 12 6 0 5-37 0-12-5 0-6zM1282 118l25 0 24 11 13 0 0-11 37-2 16 8 8 5 49 0 12 6 0 11 13 6 37 0 0-12 12 0 9-1 4-4-13-6-24 0-12-5 0-6 36 0 25 11 13 0 0-11 12 0 12 6 0 11 12 4 25 0 13 1 12 0 12 6 0 5-12 0-9 2 0 11-16 0-13-2-12 0-8 2-25 0-4 4 0 5-12 0-25-11-12 0 0 11-37 0-25-11-24 0-9 2-4 4 25 11 12 4 13 2 12 0 25 9 12 2 12 0 25 11 25 0 8-2 41 0 13 2 0-11 12 0 8-2 25 0 4-4-13-4-16-7 0-18 41 0 25 11 24 0 25 11 4-2 20 0 9 2 4-4 0-5 25 0 0-6-25-11 0-5 12 0 37 16 0 28 4 5 0 7-66 0-12-1 0 5 12 4 17 7 0 11 24 12 0 18-4 4 0 5 4 6 9 5 12 6 0 27 8 6 0 9-45-2-16-7-9-6-12 0 0 6 37 17 25 0 12 5 0 6-25 0 4 5 9 6 12 5 0 28-111 0-8 2-25 0-4 4 0 5-37 0-24-11-25 0-9 2-90 0-12-2 0 11-37 0-25-9-8 0-4 4 0 5-37 0-24-9-9 0-4 4 0 5-49 0 0 11-37 0-25-11-74 0-8 2-16 0-16-7 0-8 4-3 0-6-4-5 0-8 4-4 0-5-4-6 0-7 16 0 4-2 4-2 0-7 25 0 0-4-9-4-24 0-16-7 0-18 4-4 0-39 12 0 8-2 4-3 0-11-12-4-16-8 0-7 4-4 0-16 12 0 12 5 0 17 4 5 8 6 12 6 0 11 13 3 16 8 0 7 9 9 37 0 0-11 12 0 8-1 0-4-8-6-12-5 0-6 25 0 0-33 12 0 24 9 9 0 4-4 0-5 37 0 12 5 0 11 12 6 25 0 8-2 16 0 50 24 8-2 16 0 13 2 37 0 8-2 0-11 4-3-12-4-13-2-12 0-12-6 0-5 12 0 9-2 0-4-9-5-25-11-8 1 0 12-25 0-4 3 0 6-37 0-12-6 0-5 25 0-4-6-9-5-8 1-16 0-13-1-12 0-8 1-41 0-16-7 0-18 16 0 13-4 0-5 12 0 24 9 9 0 4-4-25-11 0-5-4-6-8-6-87 0 0 6 25 11 0 5-12 0-25-11-74 0-12-5 0-5-4-6 0-7 25 0 4-4 0-6 12 0 12 6 0 5 4 6 8 6 13 0 0-34zM1775 118l24 0 37 17 0 5-37 0-36-16 0-6zM1294 129l0 6 13 5 12 0 0-5-12-6zM1368 129l0 6 13 5 8-1 4-4-12-4zM1701 129l25 0 24 11 25 0 12 6 0 27-12 0-12-5 0-11-37-17-25 0-12-5 0-6zM1565 140l4 6 9 4 12 2-4-6-8-6zM1159 161l12 2 12 0 25 9 49 0 16 7 0 7 9 10 12 5 0 6-12 0-9 1-24 0-4 4 0 6-12 0-25-10-13-1-12 0-40-17 0-7 4-4 0-5-4-6 0-7zM1627 174l12 5 0 5-12 0-12-5 0-5zM1171 184l4 6 8 6 9-2 0-4-9-6zM1713 184l0 6 13 6 37 0-4-6-9-4-24 0zM1738 207l4 5 0 8-4 3 12 6 9-2 4-4 0-11-13-5zM1664 218l0 5 12 4 16 7 9 6 25 11 24 0 25 9 4-1 20 0 13 3-4-5-33-15-13-2-12 0-24-11-9 2-16 0-25-11zM1618 231l0 3 9 4 8 0 5-4-13-3zM1849 229l12 5 0 6-12 0-12-6 0-5zM1319 240l0 17 12 3 25 0 13 2 12 0 12 6 0 16-12 0-7 3-24 0-7 3 25 11 13 4 12 2 25 0 0-23 36 0 9-1 16 0 13 1 0-5-62-28-13 0 0 6 25 11 0 5-12 0-37-16 0-11-12-6-9 2-41 0zM1528 240l12 6 0 5-12 0-12-5 0-6zM1664 240l4 6 0 7-25 0-4 4 13 5 57-2 5-3-25-11-13-4zM1516 273l0 6 12 4 25 0 13 1 0-5-13-6-8 2-17 0zM1791 275l8 8 9-4zM1171 284l0 17 21 4 4-4 0-5 12 0 12 5 0 5 4 6 0 11 27 11 6 6 25 0 12 5 0 6 4 5 9 6 8-2 0-26-8-4-13-2-12 0-37-16 0-5-4-6-8-6-12-5-21-4-17 0zM1294 284l0 11 4 6 9 2 12-2 0-11-12-4zM1614 284l0 17 13 4 8 0 5-4 0-11-13-6zM1762 284l0 11-36 0-9 2-4 4 13 6 61 0-8-6 0-9 4-2zM1273 308l-4 4 13 6 8-2-8-8zM1442 306l0 17 21 4 0-15-9-6zM1491 306l4 6 9 6 8-2 0-4-8-6zM1545 308l0 4 8 6 9-2 4-4zM1820 310l-9 2 13 4 13-4zM1590 317l4 6 0 7-4 4 17 2 0-11 4-2zM1692 319l0 4 9 4 4-2 21 0 8 2 4-4-12-6-25 0zM1672 332l-4 2 8 4 9-4-9-4zM1762 328l4 6 0 11 33 15 9-4-9-5-12-6 0-11-12-6zM1421 353l0 3 9 4 8-4zM1573 354l-4 2 9 4 8-4-8-5zM1668 353l0 3 8 4 13 2 12 0 8-2 0-4-17-3zM1302 376l-4 3 0 11 9 5 12 0-4-5 0-11-8-6zM1787 373l4 6 8 5 13 0 0-6-13-3zM1282 429l25 0 12 5 0 5-37 0-12-5 0-5z" fill="#4793f0" fill-rule="evenodd"/>
<path transform="scale(.25)" d="M1528 65l25 0 8 3 0 4-33 0-8-4 0-3zM1208 87l25 0 8 3 0 4-33 0-8-4 0-3zM1726 98l24 0 8 4 0 3-32 0-9-3 0-4zM1208 109l25 0 8 4 0 3-33 0-8-3 0-4zM1282 120l25 0 24 11 17 0 0-11 8 0 11-2 14 0 13 6 11 7 49 0 9 4 0 11 16 7 41 0 0-11 8 0 11-2 6-5-17-8-24 0-8-3 0-4 32 0 25 11 16 0 0-11 9 0 8 4 0 11 16 5 25 0 25 2 8 4 0 4-8 0-11 2 0 11-14 0-16-2-9 0-11 2-24 0-6 5 0 4-8 0-25-11-16 0 0 11-33 0-25-11-24 0-11 2-6 5 25 11 16 5 25 2 25 9 24 3 25 11 25 0 11-3 38 0 16 3 0-11 9 0 11-3 24 0 6-5-17-5-13-6 0-17 38 0 25 11 24 0 25 11 6-2 18 0 11 2 6-5 0-4 25 0 0-7-25-11 0-4 8 0 33 15 0 26 5 7 0 6-63 0-16-2 0 7 16 5 14 6 0 11 25 12 0 17-6 5 0 3 6 8 11 7 8 4 0 26 10 7 0 9-18 0-11-3-14 0-14-6-11-7-16 0 0 7 41 19 25 0 8 3 0 4-25 0 6 7 11 8 8 3 0 26-107 0-11 3-25 0-5 5 0 3-33 0-24-11-25 0-11 3-88 0-16-3 0 11-33 0-25-8-11 0-5 5 0 3-33 0-24-8-12 0-5 5 0 3-49 0 0 11-33 0-25-11-74 0-11 3-13 0-14-6 0-6 6-5 0-4-6-7 0-7 6-5 0-3-6-8 0-6 14 0 6-2 5-3 0-6 24 0 0-5-11-5-24 0-14-6 0-17 6-5 0-37 8 0 11-2 5-5 0-11-16-5-14-7 0-6 6-5 0-14 8 0 8 3 0 15 5 7 11 8 9 4 0 11 16 5 14 6 0 6 3 5 8 7 41 0 0-11 8 0 11-2 0-5-11-8-8-3 0-4 24 0 0-33 9 0 24 8 11 0 6-5 0-3 33 0 8 3 0 11 16 8 25 0 11-3 13 0 14 7 11 7 25 11 11-2 13 0 17 2 33 0 11-2 0-11 5-5-16-5-25-3-8-4 0-3 8 0 11-3 0-5-11-7-25-11-11 2 0 11-24 0-6 5 0 4-33 0-8-4 0-3 25 0-6-8-11-7-11 2-13 0-17-2-8 0-11 2-38 0-14-6 0-17 14 0 16-5 0-4 9 0 24 9 11 0 6-5-25-11 0-4-5-7-11-7-91 0 0 7 25 11 0 4-8 0-25-11-74 0-8-4 0-4-6-7 0-6 25 0 5-5 0-4 9 0 8 4 0 3 5 8 11 7 17 0 0-33zM1775 120l24 0 33 15 0 3-33 0-32-14 0-4zM1290 127l0 8 17 7 16 0 0-7-16-8zM1364 127l0 8 17 7 11-2 5-5-16-5zM1701 131l25 0 24 11 25 0 8 4 0 26-8 0-8-4 0-11-41-19-25 0-8-3 0-4zM1561 138l6 8 11 5 16 2-5-7-11-8zM1159 162l24 2 25 9 49 0 14 6 0 6 11 13 8 3 0 4-8 0-11 2-25 0-5 5 0 4-8 0-25-9-25-2-38-15 0-6 6-5 0-4-6-7 0-6zM1627 175l8 4 0 4-8 0-8-4 0-4zM1167 183l5 7 11 8 11-3 0-5-11-7zM1709 183l0 7 17 8 41 0-6-8-11-5-24 0zM1734 205l5 7 0 6-5 5 16 8 11-3 6-5 0-11-17-7zM1660 216l0 7 16 5 14 6 11 8 25 11 24 0 25 9 6-3 18 0 17 5-6-7-35-16-25-3-24-11-12 2-13 0-25-11zM1616 229l0 5 11 5 11 0 5-5-16-5zM1849 231l8 3 0 4-8 0-8-4 0-3zM1315 238l0 19 16 5 25 0 25 2 8 4 0 14-8 0-9 4-24 0-9 4 25 11 17 5 16 2 25 0 0-22 32 0 11-2 14 0 17 2 0-7-66-30-17 0 0 8 25 11 0 3-8 0-33-14 0-11-16-8-12 3-38 0zM1528 242l9 4 0 3-9 0-8-3 0-4zM1660 238l5 8 0 6-24 0-6 5 17 7 24 0 11-2 25 0 5-5-24-11-17-5zM1512 271l0 8 16 5 25 0 16 2 0-7-16-8-11 3-14 0zM1788 274l11 10 11-5zM1167 282l0 19 27 5 6-5 0-4 8 0 8 4 0 4 6 7 0 11 27 11 8 8 25 0 8 3 0 4 6 7 11 8 11-3 0-27-11-5-25-2-33-15 0-4-5-7-11-7-9-4-16-4-25-1zM1290 282l0 12 6 7 11 3 6 0 10-3 0-11-16-5zM1611 282l0 19 16 5 11 0 5-5 0-11-16-8zM1758 282l0 12-32 0-12 2-5 5 17 7 65 0-10-7 0-8 5-3zM1271 307l-5 5 16 7 11-2-11-10zM1438 305l0 18 27 5 0-16-11-7zM1487 305l6 7 11 7 11-2 0-5-11-7zM1542 307l0 5 11 7 11-2 5-5zM1818 309l-10 3 16 5 17-5zM1586 316l5 7 0 6-5 5 22 3 0-11 5-3zM1690 318l0 5 11 5 6-2 19 0 11 2 5-5-16-7-25 0zM1670 332l-5 2 11 5 11-5-11-5zM1758 327l6 7 0 11 35 16 11-5-11-7-8-4 0-11-16-7zM1419 351l0 5 11 5 11-5zM1572 354l-5 2 11 5 11-5-11-7zM1665 351l0 5 11 5 17 3 8 0 11-3 0-5-11-2-11-3zM1301 376l-5 3 0 11 11 7 16 0-5-7 0-11-11-8zM1783 371l5 8 11 7 17 0 0-7-17-5zM1282 430l25 0 8 4 0 4-33 0-8-4 0-4z" fill="#5bc7f7" fill-rule="evenodd"/>
<path transform="scale(.25)" d="M1528 66l25 0 4 2 0 2-29 0-4-2 0-2zM1208 88l25 0 4 2 0 2-29 0-4-2 0-2zM1726 100l24 0 5 2 0 1-29 0-5-1 0-2zM1208 111l25 0 4 2 0 2-29 0-4-2 0-2zM1282 122l25 0 24 11 20 0 0-11 18-3 12 0 11 5 13 9 49 0 5 2 0 11 20 9 45 0 0-11 18-3 7-6-21-9-24 0-5-2 0-2 29 0 25 11 20 0 0-11 5 0 4 2 0 11 20 6 25 0 25 3 4 2 0 2-18 3 0 11-11 0-20-3-18 3-25 0-7 6 0 2-4 0-25-11-20 0 0 11-29 0-25-11-24 0-14 3-6 6 24 11 20 6 25 3 25 8 24 3 25 11 25 0 13-3 36 0 20 3 0-11 18-3 25 0 6-6-20-6-11-5 0-16 36 0 25 11 24 0 25 11 7-3 17 0 14 3 7-6 0-2 24 0 0-9-24-11 0-2 4 0 29 13 0 24 7 9 0 5-61 0-20-3 0 9 20 6 11 5 0 11 25 12 0 16-6 6 0 2 6 9 18 11 0 24 13 9 0 8-17 0-14-3-11 0-11-5-14-9-20 0 0 9 45 20 25 0 4 2 0 2-24 0 6 9 18 11 0 25-103 0-13 3-25 0-7 6 0 2-29 0-24-11-25 0-14 3-85 0-20-3 0 11-29 0-25-8-13 0-7 6 0 2-29 0-24-8-14 0-7 6 0 2-49 0 0 11-29 0-25-11-74 0-13 3-11 0-11-5 0-5 6-6 0-2-6-9 0-5 6-7 0-2-6-9 0-5 11 0 7-2 6-4 0-5 25 0 0-6-14-6-24 0-11-5 0-16 6-6 0-35 18-3 7-6 0-11-20-7-11-5 0-5 6-6 0-13 5 0 4 2 0 13 7 9 18 12 0 11 20 6 11 5 0 5 4 6 10 9 45 0 0-11 18-3 0-6-18-11 0-2 24 0 0-34 5 0 24 8 14 0 6-6 0-2 30 0 4 2 0 11 20 10 25 0 13-3 11 0 11 5 14 9 25 11 13-3 11 0 21 3 29 0 13-3 0-11 7-6-20-7-25-3-4-2 0-2 18-3 0-6-14-9-25-11-13 3 0 11-25 0-6 6 0 2-30 0-4-2 0-2 25 0-7-9-14-9-13 3-11 0-20-3-18 3-36 0-11-5 0-16 11 0 20-6 0-2 5 0 24 8 14 0 6-6-24-11 0-2-7-9-13-9-95 0 0 9 25 11 0 2-4 0-25-11-74 0-4-2 0-2-7-9 0-5 25 0 6-6 0-2 5 0 4 2 0 2 7 9 13 9 21 0 0-33zM1775 122l24 0 30 13 0 2-30 0-29-13 0-2zM1286 126l0 9 21 9 20 0 0-9-20-9zM1360 126l0 9 21 9 13-3 7-6-20-6zM1701 133l25 0 24 11 25 0 4 2 0 24-4 0-5-2 0-11-44-20-25 0-5-2 0-2zM1557 137l7 9 14 6 20 3-7-9-13-9zM1159 163l24 3 25 8 49 0 11 5 0 5 14 15 4 2 0 2-18 3-24 0-7 6 0 2-4 0-25-8-25-3-35-13 0-5 6-6 0-2-6-9 0-5zM1627 177l4 2 0 2-4 0-4-2 0-2zM1163 181l7 9 13 9 14-3 0-6-14-9zM1705 181l0 9 21 9 44 0-6-9-14-6-24 0zM1730 203l7 9 0 5-7 6 20 9 14-3 6-6 0-11-20-9zM1656 214l0 9 20 6 11 5 14 10 25 11 24 0 25 8 7-3 17 0 21 6-7-9-38-18-25-3-24-11-14 3-11 0-25-11zM1613 228l0 6 14 7 14 0 6-7-20-6zM1849 232l4 2 0 2-4 0-5-2 0-2zM1311 236l0 21 20 6 25 0 25 3 4 2 0 13-4 0-10 4-25 0-10 5 24 11 21 6 20 3 24 0 0-22 29 0 14-3 11 0 20 3 0-9-69-31-20 0 0 9 24 11 0 2-4 0-29-13 0-11-20-10-14 3-36 0zM1528 244l5 2 0 2-5 0-4-2 0-2zM1656 236l7 10 0 5-25 0-7 6 21 9 24 0 14-3 24 0 7-6-25-11-20-7zM1508 270l0 9 20 6 25 0 20 3 0-9-20-9-14 3-11 0zM1786 273l13 12 14-6zM1163 281l0 20 34 6 7-6 0-2 4 0 4 2 0 2 7 9 0 11 28 11 10 9 25 0 4 2 0 2 7 9 14 9 13-3 0-28-13-6-25-3-29-13 0-2-7-9-18-11-20-5zM1286 281l0 11 7 9 14 3 7 0 13-3 0-11-20-6zM1607 281l0 20 20 6 14 0 6-6 0-11-20-9zM1755 281l0 11-29 0-14 3-7 6 21 9 69 0-13-9 0-8 6-3zM1268 306l-6 6 20 9 14-3-14-12zM1434 303l0 20 34 6 0-17-14-9zM1484 303l6 9 14 9 13-3 0-6-13-9zM1539 306l0 6 14 9 14-3 6-6zM1817 309l-13 3 20 6 20-6zM1582 314l7 9 0 5-7 6 28 3 0-11 6-3zM1687 317l0 6 14 6 7-3 18 0 13 3 7-6-20-9-25 0zM1669 331l-6 3 13 6 14-6-14-6zM1755 325l6 9 0 11 38 17 14-6-18-11 0-11-20-9zM1416 350l0 6 14 6 13-6zM1570 353l-6 3 14 6 13-6-13-9zM1663 350l0 6 13 6 20 3 18-3 0-6-13-3-14-3zM1299 375l-6 4 0 11 14 9 20 0-7-9 0-11-13-10zM1779 369l7 10 13 9 21 0 0-9-21-7zM1282 432l25 0 4 2 0 2-29 0-4-2 0-2z" fill="#70feff" fill-rule="evenodd"/>
<path transform="scale(.25)" d="M1528 68l25 0 1 1-26 0-1-1zM1208 90l25 0 1 1-26 0-1-1zM1726 101l24 0 1 1-25 0-2 0zM1208 112l25 0 1 1-26 0-1 0zM1282 123l25 0 24 11 24 0 0-11 17-3 9 0 8 4 16 10 49 0 2 1 0 11 23 10 48 0 0-11 17-3 8-7-24-11-24 0-2-1 26 0 25 11 23 0 0-11 2 0 1 1 0 11 23 7 25 0 25 3 1 1-17 4 0 11-9 0-23-4-17 4-25 0-8 8-26-12-23 0 0 12-26 0-25-12-24 0-16 4-8 7 25 11 23 7 25 4 25 7 24 4 25 11 25 0 15-4 34 0 23 4 0-11 17-4 25 0 8-7-24-7-9-4 0-15 34 0 25 11 24 0 25 11 8-3 16 0 16 3 8-8 24 0 0-10-24-12 27 12 0 23 8 10 0 4-59 0-23-3 0 10 23 7 9 4 0 11 25 12 0 15-8 7 8 11 17 11 0 23 15 10 0 7-16 0-16-3-9 0-9-4-16-10-23 0 0 10 48 22 26 0-25 1 8 10 17 11 0 23-100 0-16 4-24 0-8 7-26 0-24-11-25 0-16 4-83 0-23-4 0 11-26 0-25-7-15 0-8 7-26 0-24-7-16 0-8 7-49 0 0 11-26 0-25-11-74 0-15 4-9 0-9-4 0-4 7-7-7-11 0-5 7-7-7-11 0-4 9 0 8-3 7-4 0-4 25 0 0-7-16-7-24 0-9-4 0-15 7-7 0-34 17-3 8-7 0-11-23-8-9-4 0-4 7-7 0-11 3 0 0 12 8 10 17 12 0 11 23 7 9 4 0 4 4 7 12 10 48 0 0-11 17-3 0-7-17-12 24 0 0-33 26 7 16 0 8-7 26 0 1 0 0 11 23 11 25 0 16-3 8 0 9 4 16 10 25 11 15-3 9 0 24 3 26 0 15-3 0-11 8-7-23-8-26-4 17-4 0-7-16-10-25-11-15 3 0 11-25 0-8 8-26 0-1-1 25 0-8-11-16-10-15 3-9 0-24-3-17 3-33 0-9-4 0-15 9 0 23-8 26 8 16 0 8-7-25-11-8-11-15-11-98 0 0 11 25 12-26-12-75 0-8-11 0-4 25 0 7-8 3 1 8 11 15 10 24 0 0-33zM1775 123l24 0 26 12-26 0-25-11zM1283 124l0 11 24 10 23 0 0-10-23-11zM1357 124l0 11 24 10 15-3 8-7-23-7zM1701 134l25 0 24 11 26 1 0 23-2-1 0-11-48-22-25 0-1 0zM1554 135l8 11 16 7 23 3-8-10-15-11zM1159 164l24 3 25 8 49 0 9 4 0 4 17 19-17 3-24 0-8 8-26-8-25-3-33-12 0-4 7-7-7-11 0-4zM1627 178l1 2-2-1zM1160 180l8 10 15 11 16-4 0-7-16-10zM1702 180l0 10 24 11 48 0-8-11-16-7-24 0zM1727 202l7 10 0 4-7 7 23 11 16-4 8-7 0-11-24-10zM1653 213l0 10 23 7 9 4 16 11 25 11 24 0 25 8 8-4 16 0 24 7-8-10-40-19-25-3-24-11-16 3-9 0-25-11zM1611 227l0 7 16 8 16 0 7-8-23-7zM1849 234l1 1-3-1zM1308 235l0 22 23 7 25 0 26 4 0 11-13 6-25 0-12 5 25 11 24 7 23 3 25 0 0-22 25 0 16-3 9 0 23 3 0-10-72-33-24 0 0 11 25 11-1 0-26-11 0-11-23-11-16 3-34 0zM1528 245l2 1-3 0zM1653 235l8 11 0 4-25 0-8 7 24 10 24 0 16-3 25 0 7-7-24-11-24-8zM1505 268l0 11 23 7 25 0 23 3 0-10-23-11-16 4-9 0zM1784 272l15 14 16-7zM1160 279l0 22 39 7 9-8 9 12 0 11 29 11 11 11 26 0 8 11 16 11 15-4 0-29-15-7-25-3-26-12-8-11-17-11-23-5zM1283 279l0 11 8 11 16 4 8 0 15-4 0-11-23-7zM1604 279l0 22 23 7 16 0 7-7 0-11-23-11zM1751 279l0 11-25 0-16 4-8 7 24 10 72 0-15-10 0-7 8-4zM1266 305l-7 7 23 11 16-4-16-14zM1431 302l0 21 39 7 0-18-16-10zM1480 302l8 10 16 11 15-4 0-7-15-10zM1537 305l0 7 16 11 16-4 7-7zM1816 308l-15 4 23 7 23-7-23-4zM1579 313l8 10 0 4-8 7 23 4 9 0 0-11 7-4zM1685 316l0 7 16 7 8-3 17 0 15 3 8-7-23-10-25 0zM1668 330l-7 4 15 7 16-7-16-7zM1751 324l8 10 0 11 40 18 16-7-17-11 0-11-23-10zM1414 349l0 7 16 7 16-7zM1569 353l-7 3 16 7 15-7-15-10zM1661 349l0 7 15 7 24 4 17-4 0-7-32-7zM1298 375l-7 4 0 11 16 10 23 0-8-10 0-11-15-11zM1776 368l8 11 15 10 24 0 0-10-24-8zM1282 433l25 0 1 1-26 0-1 0z" fill="#80f8e2" fill-rule="evenodd"/>
<path transform="scale(.25)" d="M1381 121l20 12-20-6-21-3 14-3zM1208 143l18 0 7-7 6 10 14 9-45 0-7-9 0-3zM1405 136l25 0 21 10 0 9-25 0 0 2-14 3-7 6-7-9-14-9 0-2 14-3zM1553 136l7 10 18 8 20 3-14 3-24 0-7 6-21-9 0-11 14-3zM1602 143l25 0 21 3-14 3 0 11-7 0-21-3-4-2-7-9-13-10zM1159 165l20 3 0 9-20 0-7-9 0-3zM1676 165l25 0 25 11 24 0 25 11 9-4 15 0 18 4 7-6 25 11 7 9 0 3-57 0-20-3-4-2-7-9-18-8-24 0-29-5 0 11-28-9 0-14zM1208 176l49 0 7 3 0 3 17 19-17 3-25 0-6 7-4 0-21-7-21-3 14-3 0-8-14-9 0-11zM1159 181l7 9 13 9-27-9 0-3zM1356 187l25-7 24 7 18 0 7-6 4 0 20 6 21 3 0 9-24 0 0 2-14 3-28-3-4-2-1 2-17 3-31 0-7-3 0-14zM1504 198l20 3-13 3 0 11-25 0-7 7-7-10-14-9 25 0 0-11zM1676 198l18 0 7-6 25 11 6 9 0 3-6 7-4 0 0 1-14 3-7 0-25-11-21-3 0-11 14-3zM1602 209l25 0 21 3 0 21-21-7-18 0 0 8 18 8 18 0 7-6 6 10 0 3-24 0-7 6-25-11-4 0-20-6-21-4 14-3 0-8-14-9 25 0 0-2 13-3zM1799 220l7 3 0 11 25 12 0 14-7 6-7-9-18-8-24-11-21-4 14-3 7-6 4 0 0-11zM1159 225l7 9 13 10-27-10 0-3zM1331 231l18 0 7-6 21 9-14 4-32 0-21-4 0-9zM1676 231l21 13-21-6-21-4 0-9zM1454 242l21 13-21 0-20-9 14-4zM1602 247l21 10 0 20-21 0-20-9 13-3 0-11zM1183 258l4 0 28 10 0 3 5 8 11 10-23-5-45-5 0-11 14-3zM1307 258l3 0 21 7 25 0 21 3 0 9 2 2-11 5-25 0-12 5-24-7-21-3 14-3 0-8-14-10zM1528 265l21 3-14 3-27-3 14-3zM1701 265l18 0 7-7 20 10 0 20-20 0-2 1-16 4-7 6-25 0-21-9 0-9 25 0-3-2 0-11 17-3zM1775 265l9-4 15 0 24 7 8 11 17 11 0 22-24-4-10 0-15 4-15-11 0-7 9-4-42-11 0-11 3 0 0-10zM1782 271l17 16 18-8zM1479 287l21 3 0 9-21 0-21-9 14-3zM1528 287l25 0 21 3 24 11 29 8 18 0 7-6 24 0 21 9-14 3 0 8 18 8 9-4 16 0 17 4 7-6 7 9 0 11 42 19 18-8-14-9 21 0 7 9 17 11 0 11-24 0-25-8-28-4 0 1 4 2 7 9 14 10-46 0-1 1-17 4-24 0-7 6-25 0-24-11-29 0 0 2-14 3-81 0-20-3-4-2-4 2 0 9-25 0-21-6-17 0-7 6-29 0-20-6-18 0-7 6-25 0-7-9 0-12-14-9 0-2 14-3 0-30-17-8-21-3 14-3-18-16-18 0-7 6-7-9-13-9 45 0 7 9 18 4 9 0 15-4 4 2 25 0 21 6 20 3 0 9 4 4 1-1 25 0 41 7 0-19-14-9 21 0 7 9 14 9 0 2 8 2 0-2 14-3 0-8-14-9 0-22zM1159 303l1-2 41 8 7-6 7 9 0 11 29 11 11 10-2 1 4 2 25 0 7 9 17 11-9 7-8 4 0 12 14 9-70 0-21-9 0-11-25-12-8-1-20 0-7-10 0-3 7 0 9-3 9-5 0-3 24 0 0-8-18-8-24 0-7-3 0-14zM1535 304l0 8 14 9 0 2 25 11 0 10 3 1-9 7-8 4 18 8 17-8-16-11 0-10 23 3 10 0 0-11 8-4-41-11-1-2-1 2zM1578 314l6 9 0 3-6 6-21-9 14-3zM1824 320l25-7 15 10 0 7-15 0-18-4-7 0-21-12zM1667 330l-9 4 18 8 18-8-18-8zM1412 348l0 8 18 8 18-8zM1500 355l0 11 4 3 4 0 0-13zM1658 348l0 8 18 8 21 3 4 2 1-1 17-4 0-8-36-8zM1159 369l20 10 0 9-20 0-7-10 0-3zM1159 391l20 10-13 3-7 0-7-3 0-3z" fill="#67f18b" fill-rule="evenodd"/>
<path transform="scale(.25)" d="M1381 122l11 7-11-4-12-1zM1208 144l21 0 4-3 3 5 8 5-36 0-4-5 0-2zM1405 141l25 0 11 5 0 5-24 0 0 6-8 2-4 3-4-5-8-5 0-6 8-2zM1553 141l4 5 21 9 11 2-8 2-24 0-4 3-12-5 0-11 8-2zM1602 144l25 0 12 2-8 2 0 11-4 0-12-2-13-6-4-5-7-5zM1159 166l11 2 0 5-11 0-4-5 0-2zM1676 166l25 0 25 11 24 0 25 11 11-4 13 0 21 4 4-3 25 11 4 7-54 0-11-2-13-6-4-5-21-9-24 0-12-2-13-6-13 0 0 11-16-5 0-13zM1208 177l49 0 4 2 0 2 17 19-17 3-25 0-3 3-13 0-12-3-12-2 8-1 0-10-8-5 0-11zM1159 185l4 5 7 5-15-5 0-2zM1356 188l25-7 24 7 21 0 4-3 13 0 11 3 12 2 0 5-25 0 0 6-7 2-16-2-13-6-3 5-18 3-28 0-4-2 0-13zM1504 200l11 1-7 2 0 11-25 0-4 4-4-6-8-5 25 0 0-11zM1676 200l21 0 4-4 25 11 3 7-3 4-13 0 0 5-12 2-25-11-11-2 0-11zM1602 211l25 0 12 1 0 17-12-4-21 0 0 9 21 10 21 0 4-4 3 7-24 0-4 4-25-11-13 0-11-4-12-2 8-1 0-10-8-5 25 0 0-6zM1799 222l4 1 0 11 25 12 0 12-4 4-4-5-45-21-12-2 8-1 4-4 13 0 0-11zM1159 229l4 5 7 6-15-6 0-1zM1331 233l21 0 4-4 12 5-8 2-29 0-11-2 0-5zM1676 233l12 7-12-4-11-2 0-5zM1454 244l12 7-12 0-11-5zM1602 251l12 6 0 16-12 0-11-5 7-2 0-11zM1183 262l13 0 16 6 6 11 9 8-19-4-36-4 0-11 8-2zM1307 262l13 0 11 4 25 0 12 2 0 5 6 6-9 4-24 0-10 4-24-7-12-1 8-2 0-9-8-6zM1528 266l12 2-8 1-15-1zM1701 266l21 0 4-4 11 6 0 16-11 0-4 4-17 4-4 3-25 0-11-5 0-5 24 0-9-6 0-10zM1775 266l11-4 13 0 22 6 7 11 17 11 0 20-21-3-11 0-14 3-13-9 0-6 10-5-42-11 0-10 9-1 0-6zM1779 269l20 19 21-9zM1479 288l12 2 0 5-12 0-12-5zM1528 288l25 0 12 2 24 11 13 2 25 7 21 0 4-3 24 0 12 5-8 2 0 9 21 9 11-4 14 0 20 4 4-3 4 5 0 11 45 21 21-10-8-5 12 0 4 5 17 11 0 10-21 0-25-8-11-2-13-5-13 0 0 5 13 6 4 6 7 5-36 0-3 4-18 3-24 0-4 4-25 0-24-11-38 0 0 6-8 1-78 0-11-1-13-6-4 4-9 2 0 5-25 0-12-4-20 0-4 4-38 0-11-4-21 0-4 4-25 0-4-5 0-11-7-6 0-6 7-1 0-32-20-9-12-2 8-2-21-18-21 0-4 3-4-5-7-5 36 0 4 5 21 5 11 0 13-3 13 4 25 0 12 3 11 2 0 5 13 12 4-4 24 0 42 7 0-20-8-5 12 0 4 5 8 5 0 6 13 6 13 0 0-6 8-2 0-9-8-5 0-22zM1159 307l3-4 42 7 4-3 4 5 0 11 30 11 9 9-7 2 13 6 25 0 4 5 17 11-8 6-9 6 0 11 8 5-61 0-12-5 0-11-25-12-13-1-13-4-11 0-4-7 4 0 11-5 10-5 0-1 24 0 0-10-21-9-24 0-4-2 0-13zM1532 303l0 9 8 5 0 6 25 11 0 5 9 6-8 6-9 5 21 10 20-10-17-11 0-9 21 3 11 0 0-11 10-5-42-11-3-6-4 4zM1578 318l3 5 0 2-3 3-12-5 8-2zM1824 321l25-7 13 9 0 6-13 0-25-4-12-7zM1665 329l-10 5 21 10 21-10-21-9zM1409 347l0 9 21 10 21-10zM1491 351l0 11 9 5 4 6 13 0 0-17-13-1zM1655 347l0 9 21 10 12 1 13 6 3-4 18-3 0-10-42-9zM1159 373l11 6 0 5-11 0-4-5 0-2zM1159 395l11 6-11 1-4-1 0-2z" fill="#52f03b" fill-rule="evenodd"/>
<path transform="scale(.25)" d="M1381 123l3 2-7-1zM1208 145l23 0 2-1 4 4-29 0-1-2zM1405 144l25 0 4 2 0 2-25 0 0 9-4 2-4-4 0-9zM1553 144l1 2 24 10 4 1-28 0-1 2-4-2 0-11zM1602 145l29 1-3 0 0 11-5 0-21-9-4-4zM1159 167l4 1 0 2-4 0-2-2zM1676 167l25 0 25 11 24 0 25 12 12-5 12 0 24 5 1-2 25 11 1 3-54-1-46-21-28-1-21-9-21 0 0 11-5-2 0-12zM1208 178l49 0 19 21-17 3-25 0-1 1-21 0-8-2 3 0 0-11-3-2 0-11zM1159 188l4 4-6-2zM1356 190l25-8 24 8 46-2 7 2 0 2-24 0 0 9-3 1-5-1-21-9-6 7-17 3-26 0-1-1 0-11zM1504 201l4 0-3 1 0 11-25 0-1 1-4-3 25 0 0-12zM1676 201l24 0 1-2 25 12 1 2-1 1-21 0 0 9-4 1-25-11-4-1 0-11zM1602 212l29 0 0 13-4-1-23 0 0 10 23 11 23 0 2-1 1 2-25 0-1 1-25-11-20 0-8-2 2 0 0-11-2-1 24 0 0-10zM1799 223l2 0 0 11 24 12 0 11-1 1-1-1-24-11-24-11-4-1 4-1 21 0 0-11zM1159 233l4 3-6-2zM1331 234l24 0 1-1 4 1-29 1-4-1 0-1zM1676 234l4 2-8-2 0-1zM1454 245l4 2-7-1zM1602 255l4 2 0 12-8-1 3-1 0-11zM1183 266l21 0 5 2 7 11 7 7-15-4-29-3 0-11zM1307 266l53 2 0 1 11 10-7 3-25 0-8 4-28-7 2-1 0-10-2-2zM1528 267l4 1-2 0-6 0zM1701 267l23 0 2-1 3 2 0 13-3 0-6 6-19 5-25 0-4-2 0-2 25 0-15-9 0-9zM1775 267l12-5 12 0 19 6 7 11 18 11 0 19-19-3-12 0-13 3-12-8 0-5 11-6-42-11 0-9 15-2 0-2zM1776 268l23 21 24-10zM1479 289l4 1 0 2-8-2zM1528 289l29 1 25 11 20 3 25 7 49-1 4 2-3 1 0 10 24 11 12-5 13 0 23 5 1-2 1 2 0 11 48 22 24-11-3-1 4 0 19 12 0 9-19 0-28-9-21-9-21 0 0 9 21 10 4 3-29 0-6 7-17 3-51 1-24-11-46 0 0 10-2 0-76 0-4 0-20-10-6 7-15 3 0 1-25 0-4-1-23 0-1 1-46 0-3-1-50 1-1-1 0-11-3-2 0-10 3 0 0-33-23-10-4-1 2 0-23-21-23 0-2 1-4-4 29 0 1 2 24 6 12 0 12-3 21 6 25 0 7 2 0 2 21 18 6-6 25 0 42 8 0-22-3-2 4 0 4 4 0 9 21 9 20 0 0-9 3 0 0-11-3-2 0-22zM1159 310l5-6 43 7 1-1 1 2 0 11 31 11 8 7-11 4 20 10 25 0 19 12-7 6-11 6 0 11 3 1-53 0-4-1 0-12-21-9-4-2-21-2-20-7-4 0-2-2 14-5 11-6 25 0 0-11-24-10-26-1 0-12zM1530 302l0 10 2 2 0 9 25 11 0 2 15 9-7 6-11 5 24 11 23-11-18-11 0-8 19 3 13 0 0-11 11-6-43-11-5-9-6 6zM1578 321l1 2-1 2-4-2zM1824 323l25-8 12 8 0 6-12 0-25-5-4-3zM1664 329l-11 5 23 11 24-11-24-10zM1406 346l0 10 24 11 23-11zM1483 347l0 11 15 9 6 10 20 0 0-21-20-2zM1653 346l0 10 48 21 6-7 17-3 0-11-47-10zM1159 377l4 1 0 2-4 0-2-1zM1159 399l4 2-4 0-2 0z" fill="#50f030" fill-rule="evenodd"/>
<path transform="scale(.25)" d="M1257 180l16 17-16 3-21-10 0-10zM1381 183l21 7-6 7-15 3-22-10zM1799 186l22 4 0 10-22 0-21-10 11-4zM1799 263l16 5 6 9-43-9 11-5zM1208 271l5 8 5 4-28-4 0-8zM1331 271l25 0 9 8-4 2-25 0-5 2-18-4 0-8zM1701 269l22 10-6 7-16 3-16-10 0-7zM1775 269l21 20-37-10 0-7zM1824 280l16 10 0 18-16-3-15 0-10 3-10-7 0-5zM1553 291l22 10-6 7-38-7 0-10zM1183 308l22 4 0 10-22 0-21-10 6-7zM1307 308l14 0 10-3 22 7 3 3 25 0 17 16-42 0-3 2-22 0-24-11-22-20zM1602 305l22 7 0 10-37-10-6-10zM1652 313l21 10-21 10-22-10 0-10zM1849 316l10 7 0 5-10 0-22-5zM1233 332l5 2 4 5-9 3-18-8 0-8zM1430 327l9 0 37 7 0 10-25 0 0 11-43-10 0-11 6-7zM1627 324l22 10 0 21-47 0-15-10 0-7 15 3 15 0 0-11zM1726 330l21 4 0 10-21 0-22-10 11-4zM1356 336l22 9 0 10-22 0-22-10 0-9zM1504 336l49 0 16 9-16 10-28 0-21-3-22-7 0-9zM1701 336l22 9 0 10-44-10zM1183 347l22 9 0 10-22-3-21-7zM1233 358l49 0 16 9-6 5-10 5-3 0 0 11-22 0-46-21 0-9zM1381 358l24 0 22 9 0 21-46 0-22-10 0-20zM1454 358l25 0 16 9 6 11-6 8-16 2-25 0-21-10 0-11zM1602 358l22 9 0 10-22 0-21-10zM1824 358l16 9 0 7-16 0-22-7zM1553 369l25 0 21 9 0 10-46 0-22-10 0-9zM1676 369l22 9 0 10-22 0-21-10 0-9zM1726 369l21 9-6 8-15 2-22-10 6-7z" fill="#8bf040" fill-rule="evenodd"/>
<path transform="scale(.25)" d="M1257 182l13 14-13 2-17-8 0-8zM1381 184l17 6-5 6-12 2-18-8zM1799 186l18 4 0 8-18 0-17-8 9-4zM1799 264l13 4 5 8-35-8 9-4zM1208 275l5 6-14-2 0-4zM1331 275l25 0 5 4-3 1-24 0-3 1-9-2 0-4zM1701 271l18 8-5 6-13 2-13-8 0-6zM1775 271l18 16-31-8 0-6zM1824 282l13 8 0 17-13-2-16 0-9 2-8-6 0-4 8-4 7 0 0-3zM1553 293l18 8-5 6-31-6 0-8zM1183 308l18 4 0 8-18 0-17-8 5-6zM1307 308l16 0 8-2 18 6 7 7 25 0 8 8-33 0-7 4-18 0-24-11-18-16zM1602 306l18 6 0 8-31-8-4-8zM1652 315l17 8-17 8-18-8 0-8zM1849 317l8 6 0 4-8 0-18-4zM1233 333l4 3-4 2-9-4 0-4zM1430 328l12 0 30 6 0 8-24 0 0 11-36-8 0-11 5-6zM1627 326l18 8 0 19-43 0-13-8 0-6 13 3 17 0 0-12zM1726 330l17 4 0 8-17 0-18-8 9-4zM1356 337l18 8 0 8-18 0-18-8 0-8zM1504 337l49 0 13 8-13 8-32 0-17-2-18-6 0-8zM1701 337l18 8 0 8-36-8zM1183 348l18 8 0 8-18-2-17-6zM1233 359l49 0 13 8-13 8-7 0 0 11-18 0-42-19 0-8zM1381 359l24 0 18 8 0 19-42 0-18-7 0-20zM1454 359l25 0 13 8 5 8 0 4-5 5-13 2-25 0-17-7 0-12zM1602 359l18 8 0 8-18 0-17-8zM1824 359l13 8 0 6-13 0-18-6zM1553 371l25 0 17 8 0 7-42 0-18-7 0-8zM1676 371l18 8 0 7-18 0-18-7 0-8zM1726 371l17 8-5 5-12 2-18-7 5-6z" fill="#c8f040" fill-rule="evenodd"/>
<path transform="scale(.25)" d="M1257 183l11 12-11 2-14-7 0-7zM1381 185l14 5-4 5-10 2-15-7zM1799 187l15 3 0 7-15 0-14-7 8-3zM1799 265l11 3 4 6-29-6 8-3zM1208 278l1 1-3 0 0-1zM1331 278l25 0 1 1-26 0-2 0 0-1zM1701 272l15 7-4 5-11 1-11-6 0-5zM1775 272l15 13-26-6 0-5zM1824 283l11 7 0 16-11-2-18 0-7 2-6-5 0-3 6-4 10 0 0-4zM1553 294l15 7-4 5-26-5 0-7zM1183 309l15 3 0 7-15 0-14-7 4-5zM1307 309l17 0 7-2 15 5 10 10 25 0 2 2-27 0-10 6-15 0-24-11-15-14zM1602 307l15 5 0 7-25-7-4-7zM1652 316l14 7-14 7-15-7 0-7zM1849 318l7 5 0 3-7 0-15-3zM1233 334l1 1-1 0-3-2zM1430 329l14 0 25 5 0 7-24 0 0 11-30-7 0-11 4-5zM1627 328l15 6 0 18-40 0-10-7 0-5 10 2 18 0 0-11zM1726 331l14 3 0 7-14 0-15-7 8-3zM1356 339l15 6 0 7-15 0-15-7 0-6zM1504 339l49 0 11 6-11 7-34 0-15-2-15-5 0-6zM1701 339l15 6 0 7-30-7zM1183 350l15 6 0 7-15-2-14-5zM1233 361l49 0 11 6-11 7-10 0 0 11-15 0-39-18 0-6zM1381 361l24 0 15 6 0 18-39 0-15-6 0-18zM1454 361l25 0 11 6 4 7 0 5-4 4-11 2-25 0-14-6 0-12zM1602 361l15 6 0 7-15 0-14-7zM1824 361l11 6 0 5-11 0-15-5zM1553 372l25 0 14 7 0 6-39 0-15-6 0-7zM1676 372l15 7 0 6-15 0-15-6 0-7zM1726 372l14 7-4 4-10 2-15-6 4-5z" fill="#eee63f" fill-rule="evenodd"/>
<path transform="scale(.25)" d="M1257 185l9 9-9 1-12-5 0-5zM1381 186l11 4-3 4-8 1-12-5zM1799 188l12 2 0 5-12 0-11-5 6-2zM1799 265l9 3 3 5-23-5 6-3zM1701 273l12 6-4 4-8 1-9-5 0-4zM1775 273l12 11-21-5 0-4zM1824 285l9 5 0 15-9-2-19 0-6 2-5-4 0-3 5-2 13 0 0-6zM1553 296l12 5-3 4-21-4 0-5zM1183 310l12 2 0 5-12 0-11-5 3-4zM1307 310l19 0 5-2 12 4 9 10 0 1-9 5-12 0-24-11-12-10zM1602 308l12 4 0 5-20-5-4-5zM1652 318l11 5-11 5-12-5 0-5zM1849 319l5 4 0 3-17-3zM1430 330l16 0 20 4 0 5-24 0 0 12-24-6 0-11 3-4zM1627 329l12 5 0 17-37 0-8-6 0-4 8 2 19 0 0-11zM1726 332l11 2 0 5-11 0-12-5 6-2zM1356 340l12 5 0 6-12 0-12-6 0-5zM1504 340l49 0 9 5-9 6-37 0-12-2-12-4 0-5zM1701 340l12 5 0 6-24-6zM1183 351l12 5 0 6-12-2-11-4zM1233 362l49 0 9 5-9 6-13 0 0 11-12 0-36-17 0-5zM1381 362l24 0 12 5 0 17-36 0-12-5 0-17zM1454 362l25 0 9 5 3 6 0 6-3 3-9 2-25 0-11-5 0-12zM1602 362l12 5 0 6-12 0-12-6zM1824 362l9 5 0 4-9 0-12-4zM1553 373l25 0 11 6 0 5-36 0-12-5 0-6zM1676 373l12 6 0 5-12 0-12-5 0-6zM1726 373l11 6-3 3-8 2-12-5 3-4z" fill="#e89a35" fill-rule="evenodd"/>
<path transform="scale(.25)" d="M1257 187l6 6-6 1-8-4 0-3zM1381 188l7 2-2 3-5 1-8-4zM1799 188l8 2 0 4-8 0-7-4zM1799 266l6 2 2 3-15-3zM1701 275l8 4-2 2-6 1-6-3 0-3zM1775 275l8 7-14-3 0-3zM1824 286l6 4 0 14-6-1-25 1-3-3 0-2 3-2 17 0 0-7zM1553 297l8 4-2 3-14-3 0-4zM1183 310l8 2 0 4-8 0-8-4 3-3zM1307 310l24-1 8 3 6 6 0 5-6 4-8 0-24-11-8-8zM1602 309l8 3 0 4-13-4-3-4zM1652 320l7 3-7 4-8-4 0-3zM1849 321l3 2 0 2-11-2zM1430 332l24 1 8 1 0 4-24 0 0 11-16-4 0-11 2-2zM1627 331l8 3 0 15-33 0-5-4 0-2 26 1 0-11zM1726 333l7 1 0 4-7 0-8-4zM1356 342l8 3 0 4-8 0-8-4 0-3zM1504 342l49 0 6 3-6 4-41 0-16-4 0-3zM1701 342l8 3 0 4-16-4zM1183 353l8 3 0 4-16-4zM1233 364l49 0 6 3-6 4-17 0 0 11-8 0-32-15 0-3zM1381 364l24 0 8 3 0 15-32 0-8-3 0-15zM1454 364l25 0 6 3 2 4 0 8-2 2-6 1-25 0-7-3 0-12zM1602 364l8 3 0 4-8 0-8-4zM1824 364l6 3 0 3-6 0-8-3zM1553 375l25 0 8 4 0 3-33 0-8-3 0-4zM1676 375l8 4 0 3-8 0-8-3 0-4zM1726 375l7 4-2 2-5 1-8-3 2-3z" fill="#f04f22" fill-rule="evenodd"/>
<path transform="scale(.25)" d="M1257 188l3 3-3 1-4-2 0-2zM1381 189l3 1-3 2-4-2zM1799 189l4 1 0 2-8-2zM1799 267l3 1 1 1-8-1zM1701 277l4 2-4 2-3-2 0-2zM1775 277l4 4-7-2 0-2zM1824 288l3 2 0 12-28 0-1-1 1-2 21 0 0-9zM1553 299l4 2-1 1-7-1 0-2zM1183 311l4 1 0 2-8-2 2-1zM1307 311l24 0 4 1 3 3 0 8-3 2-4 0-24-11-4-4zM1602 311l4 1 0 2-7-2-1-2zM1652 321l4 2-4 2-4-2 0-2zM1849 322l2 2-6-1zM1430 333l22 0 6 1 0 2-24 0 0 11-8-2 0-11 1-1zM1627 332l4 2 0 13-29 0-3-2 0-1 26 0 0-11zM1726 333l3 1 0 2-7-2zM1356 343l4 2 0 2-8-2 0-2zM1504 343l49 0 3 2-3 2-45 0-8-2 0-2zM1701 343l4 2 0 2-8-2zM1183 355l4 1 0 2-8-2zM1233 366l49 0 3 1-3 2-21 0 0 11-4 0-28-13 0-1zM1381 366l24 0 4 1 0 13-28 0-4-1 0-13zM1454 366l25 0 4 3 0 10-4 1-25 0-4-1 0-12zM1602 366l4 1 0 2-8-2zM1824 366l3 3-7-2zM1553 377l25 0 4 2 0 1-29 0-4-1 0-2zM1676 377l4 2 0 1-8-1 0-2zM1726 377l3 2-3 1-4-1z" fill="#f02b19" fill-rule="evenodd"/>
<path transform="scale(.25)" d="M1257 189l2 2-3-1zM1381 190l1 0-1 1-2-1zM1799 190l2 1-3-1zM1799 267l2 1-3 0zM1701 278l2 1-2 1-1-1zM1775 278l2 2-3-1zM1824 289l1 1 0 12-26-1 23-1 0-10zM1553 300l1 2-3-1zM1183 312l2 1-3-1zM1307 312l26 0 1 1 0 10-3 1-24-11-2-2zM1602 311l2 2-3-1 0-1zM1652 322l1 1-1 1-2-1zM1849 323l1 0-3 0zM1430 334l23 0 3 1-24 0 0 11-4-1 0-11zM1627 333l2 1 0 12-28-1 25 0zM1726 334l1 1-3-1zM1356 344l2 2-4-1zM1504 344l50 1-49 1-3-1zM1701 344l2 2-4-1zM1183 356l2 1-3-1zM1233 367l50 0-24 1 0 11-2 0-26-12zM1381 367l26 0 0 12-28 0 0-12zM1454 367l25 0 2 1 0 11-27 0-1 0 0-12zM1602 367l2 1-3-1zM1824 367l1 1-3-1zM1553 378l25 0 1 1-26 0-2 0zM1676 378l2 1-4 0zM1726 378l1 1-3 0z" fill="#f02818" fill-rule="evenodd"/>
</g>
<rect x="286.60" y="4.65" width="179.40" height="166.15" fill="none" stroke="#333" stroke-width="0.9"/>
<line x1="283.60" y1="170.80" x2="286.60" y2="170.80" stroke="#333" stroke-width="0.8"/>
<text x="281.20" y="174.20" font-size="9.9" text-anchor="end" fill="#111" stroke="#111" stroke-width="0.42" font-weight="bold">0</text>
<line x1="285.00" y1="156.95" x2="286.60" y2="156.95" stroke="#333" stroke-width="0.8"/>
<line x1="283.60" y1="143.11" x2="286.60" y2="143.11" stroke="#333" stroke-width="0.8"/>
<text x="281.20" y="146.51" font-size="9.9" text-anchor="end" fill="#111" stroke="#111" stroke-width="0.42" font-weight="bold">10</text>
<line x1="285.00" y1="129.26" x2="286.60" y2="129.26" stroke="#333" stroke-width="0.8"/>
<line x1="283.60" y1="115.42" x2="286.60" y2="115.42" stroke="#333" stroke-width="0.8"/>
<text x="281.20" y="118.82" font-size="9.9" text-anchor="end" fill="#111" stroke="#111" stroke-width="0.42" font-weight="bold">20</text>
<line x1="285.00" y1="101.57" x2="286.60" y2="101.57" stroke="#333" stroke-width="0.8"/>
<line x1="283.60" y1="87.73" x2="286.60" y2="87.73" stroke="#333" stroke-width="0.8"/>
<text x="281.20" y="91.13" font-size="9.9" text-anchor="end" fill="#111" stroke="#111" stroke-width="0.42" font-weight="bold">30</text>
<line x1="285.00" y1="73.88" x2="286.60" y2="73.88" stroke="#333" stroke-width="0.8"/>
<line x1="283.60" y1="60.03" x2="286.60" y2="60.03" stroke="#333" stroke-width="0.8"/>
<text x="281.20" y="63.43" font-size="9.9" text-anchor="end" fill="#111" stroke="#111" stroke-width="0.42" font-weight="bold">40</text>
<line x1="285.00" y1="46.19" x2="286.60" y2="46.19" stroke="#333" stroke-width="0.8"/>
<line x1="283.60" y1="32.34" x2="286.60" y2="32.34" stroke="#333" stroke-width="0.8"/>
<text x="281.20" y="35.74" font-size="9.9" text-anchor="end" fill="#111" stroke="#111" stroke-width="0.42" font-weight="bold">50</text>
<line x1="285.00" y1="18.50" x2="286.60" y2="18.50" stroke="#333" stroke-width="0.8"/>
<line x1="283.60" y1="4.65" x2="286.60" y2="4.65" stroke="#333" stroke-width="0.8"/>
<text x="281.20" y="8.05" font-size="9.9" text-anchor="end" fill="#111" stroke="#111" stroke-width="0.42" font-weight="bold">60</text>
<line x1="286.60" y1="170.80" x2="286.60" y2="173.80" stroke="#333" stroke-width="0.8"/>
<text x="286.60" y="184.20" font-size="10.0" text-anchor="middle" fill="#111" stroke="#111" stroke-width="0.42" font-weight="bold">0</text>
<line x1="317.40" y1="170.80" x2="317.40" y2="173.80" stroke="#333" stroke-width="0.8"/>
<text x="317.40" y="184.20" font-size="10.0" text-anchor="middle" fill="#111" stroke="#111" stroke-width="0.42" font-weight="bold">5</text>
<line x1="348.21" y1="170.80" x2="348.21" y2="173.80" stroke="#333" stroke-width="0.8"/>
<text x="348.21" y="184.20" font-size="10.0" text-anchor="middle" fill="#111" stroke="#111" stroke-width="0.42" font-weight="bold">10</text>
<line x1="379.01" y1="170.80" x2="379.01" y2="173.80" stroke="#333" stroke-width="0.8"/>
<text x="379.01" y="184.20" font-size="10.0" text-anchor="middle" fill="#111" stroke="#111" stroke-width="0.42" font-weight="bold">15</text>
<line x1="409.81" y1="170.80" x2="409.81" y2="173.80" stroke="#333" stroke-width="0.8"/>
<text x="409.81" y="184.20" font-size="10.0" text-anchor="middle" fill="#111" stroke="#111" stroke-width="0.42" font-weight="bold">20</text>
<line x1="440.62" y1="170.80" x2="440.62" y2="173.80" stroke="#333" stroke-width="0.8"/>
<text x="440.62" y="184.20" font-size="10.0" text-anchor="middle" fill="#111" stroke="#111" stroke-width="0.42" font-weight="bold">25</text>
<line x1="302.00" y1="170.80" x2="302.00" y2="172.40" stroke="#333" stroke-width="0.8"/>
<line x1="332.81" y1="170.80" x2="332.81" y2="172.40" stroke="#333" stroke-width="0.8"/>
<line x1="363.61" y1="170.80" x2="363.61" y2="172.40" stroke="#333" stroke-width="0.8"/>
<line x1="394.41" y1="170.80" x2="394.41" y2="172.40" stroke="#333" stroke-width="0.8"/>
<line x1="425.22" y1="170.80" x2="425.22" y2="172.40" stroke="#333" stroke-width="0.8"/>
<line x1="456.02" y1="170.80" x2="456.02" y2="172.40" stroke="#333" stroke-width="0.8"/>
<text x="376.30" y="201.20" font-size="10.6" text-anchor="middle" fill="#111" stroke="#111" stroke-width="0.42" font-weight="bold">Y (Å)</text>
<text x="0" y="0" font-size="10.6" font-weight="bold" text-anchor="middle" fill="#111" stroke="#111" stroke-width="0.42" transform="translate(266.30,87.73) rotate(-90)">Z (Å)</text>
<rect x="216.10" y="5.20" width="14.50" height="6.19" fill="#f02918"/>
<rect x="216.10" y="10.39" width="14.50" height="6.19" fill="#f02a19"/>
<rect x="216.10" y="15.59" width="14.50" height="6.19" fill="#f02c1a"/>
<rect x="216.10" y="20.78" width="14.50" height="6.19" fill="#f04620"/>
<rect x="216.10" y="25.98" width="14.50" height="6.19" fill="#ee6027"/>
<rect x="216.10" y="31.17" width="14.50" height="6.19" fill="#e9792e"/>
<rect x="216.10" y="36.36" width="14.50" height="6.19" fill="#e89e36"/>
<rect x="216.10" y="41.56" width="14.50" height="6.19" fill="#e9c43c"/>
<rect x="216.10" y="46.75" width="14.50" height="6.19" fill="#eee23f"/>
<rect x="216.10" y="51.94" width="14.50" height="6.19" fill="#e2f040"/>
<rect x="216.10" y="57.14" width="14.50" height="6.19" fill="#caf040"/>
<rect x="216.10" y="62.33" width="14.50" height="6.19" fill="#b0f040"/>
<rect x="216.10" y="67.53" width="14.50" height="6.19" fill="#93f040"/>
<rect x="216.10" y="72.72" width="14.50" height="6.19" fill="#73f03b"/>
<rect x="216.10" y="77.91" width="14.50" height="6.19" fill="#50f030"/>
<rect x="216.10" y="83.11" width="14.50" height="6.19" fill="#50f030"/>
<rect x="216.10" y="88.30" width="14.50" height="6.19" fill="#50f030"/>
<rect x="216.10" y="93.49" width="14.50" height="6.19" fill="#51f034"/>
<rect x="216.10" y="98.69" width="14.50" height="6.19" fill="#54f045"/>
<rect x="216.10" y="103.88" width="14.50" height="6.19" fill="#60f077"/>
<rect x="216.10" y="109.08" width="14.50" height="6.19" fill="#6ef19e"/>
<rect x="216.10" y="114.27" width="14.50" height="6.19" fill="#7bf5cc"/>
<rect x="216.10" y="119.46" width="14.50" height="6.19" fill="#72fefc"/>
<rect x="216.10" y="124.66" width="14.50" height="6.19" fill="#70feff"/>
<rect x="216.10" y="129.85" width="14.50" height="6.19" fill="#70fbff"/>
<rect x="216.10" y="135.04" width="14.50" height="6.19" fill="#53b3f6"/>
<rect x="216.10" y="140.24" width="14.50" height="6.19" fill="#4b9df2"/>
<rect x="216.10" y="145.43" width="14.50" height="6.19" fill="#448bf0"/>
<rect x="216.10" y="150.62" width="14.50" height="6.19" fill="#3764f0"/>
<rect x="216.10" y="155.82" width="14.50" height="6.19" fill="#201af6"/>
<rect x="216.10" y="161.01" width="14.50" height="6.19" fill="#1907f8"/>
<rect x="216.10" y="166.21" width="14.50" height="5.19" fill="#1806f8"/>
<rect x="216.10" y="5.20" width="14.50" height="166.20" fill="none" stroke="#222" stroke-width="0.8"/>
<line x1="230.60" y1="8.80" x2="232.40" y2="8.80" stroke="#222" stroke-width="0.8"/>
<text x="235.60" y="11.50" font-size="7.6" text-anchor="start" fill="#111" stroke="#111" stroke-width="0.42" font-weight="bold">0.10</text>
<line x1="230.60" y1="28.73" x2="232.40" y2="28.73" stroke="#222" stroke-width="0.8"/>
<text x="235.60" y="31.43" font-size="7.6" text-anchor="start" fill="#111" stroke="#111" stroke-width="0.42" font-weight="bold">0.09</text>
<line x1="230.60" y1="48.65" x2="232.40" y2="48.65" stroke="#222" stroke-width="0.8"/>
<text x="235.60" y="51.35" font-size="7.6" text-anchor="start" fill="#111" stroke="#111" stroke-width="0.42" font-weight="bold">0.08</text>
<line x1="230.60" y1="68.58" x2="232.40" y2="68.58" stroke="#222" stroke-width="0.8"/>
<text x="235.60" y="71.28" font-size="7.6" text-anchor="start" fill="#111" stroke="#111" stroke-width="0.42" font-weight="bold">0.06</text>
<line x1="230.60" y1="88.50" x2="232.40" y2="88.50" stroke="#222" stroke-width="0.8"/>
<text x="235.60" y="91.20" font-size="7.6" text-anchor="start" fill="#111" stroke="#111" stroke-width="0.42" font-weight="bold">0.05</text>
<line x1="230.60" y1="108.42" x2="232.40" y2="108.42" stroke="#222" stroke-width="0.8"/>
<text x="235.60" y="111.12" font-size="7.6" text-anchor="start" fill="#111" stroke="#111" stroke-width="0.42" font-weight="bold">0.04</text>
<line x1="230.60" y1="128.35" x2="232.40" y2="128.35" stroke="#222" stroke-width="0.8"/>
<text x="235.60" y="131.05" font-size="7.6" text-anchor="start" fill="#111" stroke="#111" stroke-width="0.42" font-weight="bold">0.03</text>
<line x1="230.60" y1="148.28" x2="232.40" y2="148.28" stroke="#222" stroke-width="0.8"/>
<text x="235.60" y="150.97" font-size="7.6" text-anchor="start" fill="#111" stroke="#111" stroke-width="0.42" font-weight="bold">0.01</text>
<line x1="230.60" y1="168.20" x2="232.40" y2="168.20" stroke="#222" stroke-width="0.8"/>
<text x="235.60" y="170.90" font-size="7.6" text-anchor="start" fill="#111" stroke="#111" stroke-width="0.42" font-weight="bold">0.00</text>
<rect x="475.60" y="5.15" width="14.70" height="6.19" fill="#f02918"/>
<rect x="475.60" y="10.34" width="14.70" height="6.19" fill="#f02a19"/>
<rect x="475.60" y="15.52" width="14.70" height="6.19" fill="#f02c1a"/>
<rect x="475.60" y="20.71" width="14.70" height="6.19" fill="#f04620"/>
<rect x="475.60" y="25.89" width="14.70" height="6.19" fill="#ee6027"/>
<rect x="475.60" y="31.08" width="14.70" height="6.19" fill="#e9792e"/>
<rect x="475.60" y="36.27" width="14.70" height="6.19" fill="#e89e36"/>
<rect x="475.60" y="41.45" width="14.70" height="6.19" fill="#e9c43c"/>
<rect x="475.60" y="46.64" width="14.70" height="6.19" fill="#eee23f"/>
<rect x="475.60" y="51.82" width="14.70" height="6.19" fill="#e2f040"/>
<rect x="475.60" y="57.01" width="14.70" height="6.19" fill="#caf040"/>
<rect x="475.60" y="62.20" width="14.70" height="6.19" fill="#b0f040"/>
<rect x="475.60" y="67.38" width="14.70" height="6.19" fill="#93f040"/>
<rect x="475.60" y="72.57" width="14.70" height="6.19" fill="#73f03b"/>
<rect x="475.60" y="77.75" width="14.70" height="6.19" fill="#50f030"/>
<rect x="475.60" y="82.94" width="14.70" height="6.19" fill="#50f030"/>
<rect x="475.60" y="88.13" width="14.70" height="6.19" fill="#50f030"/>
<rect x="475.60" y="93.31" width="14.70" height="6.19" fill="#51f034"/>
<rect x="475.60" y="98.50" width="14.70" height="6.19" fill="#54f045"/>
<rect x="475.60" y="103.68" width="14.70" height="6.19" fill="#60f077"/>
<rect x="475.60" y="108.87" width="14.70" height="6.19" fill="#6ef19e"/>
<rect x="475.60" y="114.05" width="14.70" height="6.19" fill="#7bf5cc"/>
<rect x="475.60" y="119.24" width="14.70" height="6.19" fill="#72fefc"/>
<rect x="475.60" y="124.43" width="14.70" height="6.19" fill="#70feff"/>
<rect x="475.60" y="129.61" width="14.70" height="6.19" fill="#70fbff"/>
<rect x="475.60" y="134.80" width="14.70" height="6.19" fill="#53b3f6"/>
<rect x="475.60" y="139.98" width="14.70" height="6.19" fill="#4b9df2"/>
<rect x="475.60" y="145.17" width="14.70" height="6.19" fill="#448bf0"/>
<rect x="475.60" y="150.36" width="14.70" height="6.19" fill="#3764f0"/>
<rect x="475.60" y="155.54" width="14.70" height="6.19" fill="#201af6"/>
<rect x="475.60" y="160.73" width="14.70" height="6.19" fill="#1907f8"/>
<rect x="475.60" y="165.91" width="14.70" height="5.19" fill="#1806f8"/>
<rect x="475.60" y="5.15" width="14.70" height="165.95" fill="none" stroke="#222" stroke-width="0.8"/>
<line x1="490.30" y1="8.75" x2="492.10" y2="8.75" stroke="#222" stroke-width="0.8"/>
<text x="495.30" y="11.45" font-size="7.6" text-anchor="start" fill="#111" stroke="#111" stroke-width="0.42" font-weight="bold">0.10</text>
<line x1="490.30" y1="28.64" x2="492.10" y2="28.64" stroke="#222" stroke-width="0.8"/>
<text x="495.30" y="31.34" font-size="7.6" text-anchor="start" fill="#111" stroke="#111" stroke-width="0.42" font-weight="bold">0.09</text>
<line x1="490.30" y1="48.54" x2="492.10" y2="48.54" stroke="#222" stroke-width="0.8"/>
<text x="495.30" y="51.24" font-size="7.6" text-anchor="start" fill="#111" stroke="#111" stroke-width="0.42" font-weight="bold">0.08</text>
<line x1="490.30" y1="68.43" x2="492.10" y2="68.43" stroke="#222" stroke-width="0.8"/>
<text x="495.30" y="71.13" font-size="7.6" text-anchor="start" fill="#111" stroke="#111" stroke-width="0.42" font-weight="bold">0.06</text>
<line x1="490.30" y1="88.33" x2="492.10" y2="88.33" stroke="#222" stroke-width="0.8"/>
<text x="495.30" y="91.03" font-size="7.6" text-anchor="start" fill="#111" stroke="#111" stroke-width="0.42" font-weight="bold">0.05</text>
<line x1="490.30" y1="108.22" x2="492.10" y2="108.22" stroke="#222" stroke-width="0.8"/>
<text x="495.30" y="110.92" font-size="7.6" text-anchor="start" fill="#111" stroke="#111" stroke-width="0.42" font-weight="bold">0.04</text>
<line x1="490.30" y1="128.11" x2="492.10" y2="128.11" stroke="#222" stroke-width="0.8"/>
<text x="495.30" y="130.81" font-size="7.6" text-anchor="start" fill="#111" stroke="#111" stroke-width="0.42" font-weight="bold">0.03</text>
<line x1="490.30" y1="148.01" x2="492.10" y2="148.01" stroke="#222" stroke-width="0.8"/>
<text x="495.30" y="150.71" font-size="7.6" text-anchor="start" fill="#111" stroke="#111" stroke-width="0.42" font-weight="bold">0.01</text>
<line x1="490.30" y1="167.90" x2="492.10" y2="167.90" stroke="#222" stroke-width="0.8"/>
<text x="495.30" y="170.60" font-size="7.6" text-anchor="start" fill="#111" stroke="#111" stroke-width="0.42" font-weight="bold">0.00</text>
<text x="33.3" y="19.60" font-size="12.6" fill="#ee1c1c" font-weight="bold">(a) 100</text>
<clipPath id="mdclip100"><rect x="523.60" y="5.80" width="158.50" height="171.40"/></clipPath>
<rect x="523.60" y="5.80" width="158.50" height="171.40" fill="#ffffff"/>
<g clip-path="url(#mdclip100)">
<path transform="scale(.1)" d="M5245 108L5254 130 5282 131M5254 130l-4 22M5362 151L5344 127 5321 123M5344 127l9-25M5362 151l-11 17M5424 118L5399 132 5395 152M5399 132l-22-21M5424 118l23 19M5492 60L5479 79 5487 98M5479 79l-27-14M5536 101L5548 77 5545 51M5536 101l16 18M5679 157L5653 143 5632 157M5679 157l24-13M5662 105L5687 96 5693 66M5782 62L5789 88 5808 94M5789 88l-13 17M5851 76L5823 87 5820 116M5823 87l-18-15M5914 97L5908 119 5915 138M5914 97l-21-21M6026 112L6022 88 6002 71M6022 88l27-14M6026 112l-26 15M6071 103L6095 114 6120 98M6095 114l-11 23M6071 103l0-22M6158 153L6165 133 6140 118M6165 133l21-8M6158 153l-19 7M6185 94L6190 121 6206 132M6190 121l-13 16M6185 94l-17-11M6254 46L6261 73 6279 86M6261 73l-17 12M6254 46l-21-5M6364 147L6352 130 6331 126M6352 130l21-20M6449 108L6437 87 6413 88M6437 87l6-19M6527 113L6529 140 6550 153M6529 140l-28 8M6527 113l-26-11M6562 82L6562 106 6580 127M6562 82l20-7M6648 165L6662 139 6647 116M6662 139l24-12M6648 165l9 24M6687 101L6702 114 6730 118M6687 101l-25 15M6809 108L6831 118 6848 108M6831 118l8 24M6809 108l-7-20M5301 170L5317 184 5345 180M5317 184l-14 16M5301 170l-19 10M5358 168L5358 190 5374 201M5358 190l-27 9M5358 168l18-7M5447 147L5448 172 5461 194M5526 161L5543 173 5562 165M5543 173l0 20M5526 161l9-27M5594 181L5592 202 5616 217M5592 202l-19 17M5708 214L5687 212 5669 220M5687 212l-13-25M5768 148L5750 165 5751 186M5750 165l-25-12M5768 148l26 1M5809 213L5836 213 5850 193M5836 213l9 21M5809 213l-15-17M5893 183L5901 203 5923 198M5901 203l-7 19M5966 202L5961 183 5935 175M6054 184L6039 157 6012 157M6039 157l11-23M6117 238L6119 210 6096 189M6117 238l21 22M6147 227L6158 202 6147 178M6158 202l25 2M6147 227l21 18M6240 153L6268 155 6277 130M6268 155l21 20M6240 153l-15 14M6317 180L6298 190 6287 219M6317 180l2-30M6401 175L6382 169 6361 183M6382 169l1-30M6502 219L6482 194 6458 191M6502 219l19-5M6550 206L6564 188 6557 167M6640 144L6610 147 6601 170M6610 147l-12-25M6640 144l14 24M6682 142L6669 161 6680 180M6669 161l-27-1M6765 227L6770 199 6745 185M6770 199l24-1M6765 227l17 12M5279 278L5254 289 5235 313M5279 278l18 9M5305 275L5328 272 5337 253M5328 272l8 18M5394 288L5416 268 5421 245M5416 268l29 9M5459 271L5480 260 5498 235M5459 271l3 28M5581 247L5569 232 5552 243M5569 232l1-20M5658 309L5649 284 5624 281M5649 284l13-23M5657 253L5672 235 5677 215M5672 235l20 6M5657 253l16 27M5733 219L5759 227 5770 206M5759 227l22 21M5811 283L5825 267 5824 241M5825 267l18 17M5811 283l-28-4M5902 196L5898 225 5912 238M5898 225l-27 4M5902 196l-15-12M6029 230L6026 250 6049 268M6026 250l-28 5M6060 237L6072 255 6101 267M6072 255l-12 19M6060 237l11-17M6118 270L6133 253 6116 229M6191 287L6196 263 6169 251M6196 263l28-7M6191 287l23 17M6251 218L6274 231 6290 216M6274 231l-6 22M6351 273L6344 250 6314 254M6486 273L6466 264 6445 275M6466 264l-10-23M6486 273l22-18M6563 235L6542 249 6560 273M6563 235l23 13M6599 269L6568 272 6553 290M6599 269l9-22M6627 268L6637 293 6666 289M6637 293l-12 28M6627 268l15-25M6697 236L6724 240 6735 221M6769 221L6789 242 6813 240M5327 355L5347 334 5334 309M5347 334l21-4M5395 295L5371 294 5364 312M5371 294l-10-17M5395 295l9 24M5452 304L5434 315 5426 335M5452 304l5-22M5567 346L5545 339 5522 359M5545 339l-6-25M5567 346l2 21M5609 342L5632 354 5656 341M5609 342l-19 16M5679 362L5673 343 5642 349M5673 343l4-19M5728 346L5752 347 5765 324M5752 347l25 15M5728 346l-12-19M5828 372L5808 365 5783 373M5808 365l4-29M5828 372l18-11M5886 316L5871 339 5886 352M5886 316l20-3M5982 364L5966 352 5954 374M5966 352l-12-22M5982 364l2 30M6010 338L6026 359 6048 363M6026 359l-10 28M6010 338l-26 8M6113 358L6090 347 6076 367M6090 347l-6-27M6113 358l18-9M6233 319L6210 331 6208 361M6210 331l-29-5M6233 319l-1-27M6249 346L6249 322 6232 305M6249 322l20-5M6249 346l19 9M6354 289L6340 309 6352 326M6340 309l-26-2M6414 354L6395 355 6377 373M6395 355l-16-19M6515 329L6494 313 6473 327M6558 358L6572 340 6566 312M6572 340l28 7M6593 339L6613 336 6617 317M6593 339l-8 28M6740 295L6717 302 6703 321M6717 302l-22-13M6740 295l6-22M6798 366L6771 357 6759 374M6771 357l-1-20M5257 410L5270 396 5267 366M5270 396l22 5M5257 410l-30-6M5345 392L5359 419 5387 418M5359 419l-9 23M5345 392l-28 1M5479 358L5459 373 5465 398M5459 373l-30-3M5479 358l27 8M5503 417L5479 399 5456 403M5479 399l5-25M5503 417l22-15M5577 364L5551 378 5551 402M5551 378l-19-19M5633 397L5630 373 5602 364M5630 373l21-21M5716 359L5738 374 5760 361M5738 374l10 27M5827 417L5807 438 5805 468M5807 438l-21-5M5827 417l28 6M5842 400L5853 423 5870 432M5853 423l-20 22M5842 400l-21-5M5943 356L5955 379 5979 391M5955 379l-22 21M5943 356l8-20M6030 436L6053 421 6056 395M6053 421l20 17M6084 452L6089 432 6069 415M6089 432l22-21M6174 421L6144 428 6141 448M6144 428l-17-23M6174 421l5-19M6238 369L6267 375 6293 364M6267 375l5 28M6238 369l-23 17M6323 409L6345 425 6366 418M6345 425l-7 24M6323 409l-24 13M6441 374L6418 388 6423 409M6418 388l-16-17M6441 374l19 7M6501 439L6480 424 6460 439M6480 424l-7-28M6501 439l19-11M6545 349L6528 370 6541 393M6528 370l-25-18M6559 413L6579 404 6589 379M6579 404l10 21M6559 413l-26-11M6688 351L6688 376 6702 390M6688 376l-21 16M6765 350L6767 371 6786 380M6767 371l-24 18M6765 350l15-17M5292 427L5282 455 5299 475M5292 427l30 2M5305 522L5325 507 5330 477M5325 507l29 10M5305 522l-27-15M5423 497L5451 484 5451 459M5451 484l25 15M5423 497l-25-16M5491 458L5470 479 5475 499M5491 458l-13-23M5585 508L5606 497 5621 475M5606 497l16 23M5585 508l-15-11M5677 460L5661 443 5641 450M5661 443l6-30M5750 469L5727 458 5708 466M5727 458l-3-29M5750 469l25-10M5824 415L5828 441 5854 455M5828 441l-28 11M5824 415l-21-7M5831 520L5851 505 5847 475M5851 505l23 10M5831 520l2 19M5924 482L5917 462 5900 448M6014 526L6003 505 5981 513M6003 505l1-20M6014 526l-14 15M6126 521L6102 509 6081 521M6102 509l-8-25M6126 521l3 27M6146 472L6143 447 6123 434M6146 472l23 3M6208 479L6226 497 6244 481M6226 497l-2 21M6292 498L6318 509 6332 494M6318 509l8 20M6292 498l-23 18M6420 456L6397 446 6379 467M6397 446l-9-24M6438 478L6445 455 6421 439M6445 455l22-9M6438 478l17 16M6489 484L6515 489 6531 476M6515 489l4 27M6625 477L6600 496 6607 526M6625 477l-9-29M6662 527L6645 507 6624 525M6736 471L6728 495 6738 518M6728 495l-23 10M6736 471l25-11M5258 566L5278 554 5266 532M5392 509L5413 514 5424 491M5413 514l13 20M5443 520L5455 545 5479 545M5506 548L5521 528 5512 505M5521 528l28 5M5506 548l-26-9M5578 564L5581 533 5567 520M5578 564l-29 7M5636 519L5657 536 5684 528M5636 519l-29 4M5757 572L5776 584 5803 579M5776 584l2 25M5779 525L5807 516 5810 489M5807 516l23 16M5779 525l-1 24M5866 559L5880 577 5904 568M5880 577l-7 17M5949 585L5948 563 5931 549M6034 564L6016 540 5997 548M6016 540l5-21M6110 543L6095 559 6102 580M6095 559l-19-12M6110 543l-13-28M6167 595L6181 571 6167 548M6181 571l28 6M6167 595l-24 5M6246 527L6265 544 6291 543M6265 544l-11 28M6301 557L6305 576 6334 585M6305 576l-16 16M6301 557l18-11M6401 544L6380 551 6382 572M6380 551l-21-9M6401 544l5-25M6489 568L6516 572 6525 551M6516 572l18 12M6489 568l-17 21M6570 602L6548 582 6529 590M6548 582l5-23M6623 583L6615 557 6594 562M6615 557l12-29M6623 583l-20 23M6731 588L6709 567 6691 561M6709 567l4-22M6741 542L6764 543 6785 523M6764 543l-1 24M5295 622L5298 642 5325 649M5298 642l-22 6M5295 622l21-18M5320 620L5333 644 5359 660M5333 644l-25 14M5320 620l-20 0M5447 592L5425 606 5418 634M5425 606l-16-22M5508 619L5490 595 5466 604M5490 595l10-19M5516 589L5545 593 5557 574M5605 605L5610 633 5628 642M5605 605l-19-11M5715 664L5733 649 5735 626M5749 643L5766 657 5791 650M5766 657l-3 22M5749 643l-22 6M5840 668L5847 638 5830 620M5840 668l-20 8M5932 646L5938 622 5921 612M5938 622l19-9M5932 646l19 14M6013 624L6017 653 6040 652M6017 653l-15 19M6013 624l19-18M6108 612L6091 625 6091 653M6091 625l-12-16M6154 630L6176 642 6195 630M6176 642l-2 26M6154 630l-28 13M6237 654L6217 659 6206 676M6217 659l-18-21M6277 604L6292 590 6278 570M6292 590l21-2M6277 604l-24-11M6409 682L6403 657 6378 647M6403 657l16-15M6409 682l-12 18M6428 656L6448 643 6455 616M6448 643l14 18M6551 597L6532 595 6515 611M6532 595l-1-21M6613 612L6612 634 6640 641M6612 634l-24 10M6613 612l24-14M6688 598L6697 623 6726 615M6697 623l-11 21M6739 664L6725 644 6702 640M6725 644l15-18M6739 664l25 3M5288 658L5311 664 5333 653M5311 664l8 25M5356 738L5372 728 5361 702M5372 728l30 2M5423 641L5413 668 5432 690M5413 668l-28 12M5423 641l-10-17M5512 738L5506 709 5490 692M5506 709l16-14M5512 738l-17 13M5606 716L5589 700 5564 701M5589 700l2-23M5622 713L5643 713 5647 684M5643 713l18 15M5777 683L5760 698 5761 728M5760 698l-27-15M5777 683l-7-25M5818 730L5794 732 5785 749M5794 732l-5-19M5839 724L5853 702 5851 676M5853 702l19 9M5993 716L5970 719 5961 738M5970 719l-17-19M5993 716l3-20M6056 703L6038 711 6034 736M6038 711l-7-19M6099 705L6092 732 6108 747M6092 732l-24 0M6099 705l23-6M6141 664L6135 692 6155 705M6141 664l25-7M6232 694L6239 714 6259 716M6239 714l-14 22M6329 671L6301 675 6283 697M6301 675l-8-22M6398 691L6385 708 6403 726M6385 708l-27 4M6459 701L6464 725 6488 731M6545 660L6534 676 6558 695M6534 676l-20 7M6607 706L6619 689 6605 663M6619 689l30-1M6607 706l-29-5M6657 671L6651 690 6661 713M6651 690l-28 5M6657 671l22-9M6702 715L6731 708 6724 682M6731 708l19 18M6702 715l-13-19M5321 826L5328 805 5313 782M5321 826l-25 10M5384 779L5362 796 5356 816M5500 747L5477 752 5480 780M5500 747l7-25M5504 744L5531 747 5555 731M5531 747l6 19M5504 744l-21 18M5608 750L5594 773 5592 792M5594 773l-29-2M5608 750l20 0M5662 734L5672 763 5700 767M5672 763l-7 18M5662 734l20-20M5771 807L5767 784 5748 773M5767 784l15-26M5771 807l-25 15M5820 801L5801 776 5774 770M5820 801l23-5M5903 751L5919 737 5905 712M5919 737l23-2M5903 751l-30-2M5973 711L5990 736 6020 733M5990 736l-19 11M6064 757L6042 762 6034 780M6042 762l-22-14M6068 727L6089 740 6108 732M6089 740l-6 19M6229 755L6205 754 6198 783M6205 754l-18-23M6287 727L6269 746 6266 767M6269 746l-27-14M6366 824L6349 803 6322 793M6349 803l17-12M6458 772L6431 761 6410 778M6431 761l-1-21M6458 772l-2 20M6501 751L6518 760 6538 748M6518 760l3 30M6518 765L6547 765 6563 742M6547 765l18 21M6518 765l-17 23M6685 781L6667 763 6646 773M6685 781l-6 30M6721 775L6695 774 6682 790M6791 762L6791 790 6803 806M6791 790l-18 12M5326 825L5310 838 5300 866M5310 838l-25-17M5326 825l21 9M5362 856L5368 880 5386 891M5362 856l22-20M5469 875L5445 864 5426 869M5533 794L5509 809 5516 838M5509 809l-19-1M5589 823L5585 846 5609 861M5585 846l-20 17M5589 823l-15-15M5653 842L5659 823 5642 806M5659 823l21-20M5714 788L5717 811 5733 825M5717 811l-23 13M5714 788l14-13M5815 873L5826 847 5820 823M5815 873l10 23M5921 890L5907 871 5878 875M5907 871l11-21M5921 890l25 1M6000 870L5976 866 5959 885M5976 866l-1-24M6000 870l12-21M6085 866L6060 875 6065 900M6060 875l-15-16M6121 856L6128 874 6153 874M6169 852L6170 881 6189 881M6170 881l-13 20M6260 853L6279 868 6302 853M6279 868l1 29M6260 853l5-21M6327 843L6350 863 6376 850M6350 863l1 23M6327 843l12-28M6425 847L6405 846 6398 865M6425 847l11-29M6491 807L6502 829 6524 821M6502 829l-7 27M6491 807l8-23M6570 857L6557 876 6575 892M6557 876l-25 12M6570 857l-16-26M6613 846L6605 819 6584 824M6605 819l17-19M6613 846l26 9M6663 854L6682 840 6677 819M6750 844L6768 825 6763 803M6768 825l23 7M6750 844l6 20M5264 896L5240 916 5237 941M5240 916l-18-6M5264 896l0-24M5290 912L5314 907 5334 886M5314 907l14 18M5395 949L5389 928 5362 932M5395 949l-12 18M5472 916L5492 898 5486 868M5492 898l27 5M5472 916l5 20M5606 922L5591 902 5571 903M5606 922l-5 20M5688 907L5658 903 5652 927M5658 903l-12-25M5688 907l11 20M5705 898L5709 925 5735 924M5705 898l-21-7M5754 900L5783 906 5804 892M5783 906l7 22M5754 900l-21 16M5841 923L5871 927 5892 912M5871 927l5 28M5841 923l-12-23M5956 904L5929 917 5920 942M5929 917l-24-10M6014 912L5984 911 5979 938M5984 911l-14-16M6014 912l11-24M6080 952L6088 933 6085 910M6088 933l19 1M6080 952l-22 5M6176 910L6178 935 6207 942M6178 935l-17 22M6261 886L6252 905 6268 929M6252 905l-18-8M6261 886l20-1M6287 976L6278 955 6259 958M6278 955l8-19M6368 949L6361 924 6349 909M6361 924l14-15M6368 949l27 10M6435 896L6464 891 6473 868M6489 947L6488 916 6473 893M6489 947l21 12M6576 913L6567 886 6539 874M6567 886l21-19M6655 933L6674 922 6681 900M6674 922l22 7M6655 933l-4 30M6729 905L6730 928 6753 943M6730 928l-24 14M6729 905l19-9M6813 920L6794 910 6776 923M6813 920l6 23M5277 1009L5280 989 5263 970M5277 1009l-19 6M5328 975L5349 995 5371 980M5349 995l-5 20M5443 963L5422 958 5408 974M5535 1007L5510 1010 5495 1028M5510 1010l-4-19M5515 998L5536 1009 5565 1002M5536 1009l1 25M5515 998l-16 11M5624 985L5643 1009 5669 1006M5643 1009l-9 18M5651 949L5680 957 5685 933M5680 957l6 24M5767 987L5788 996 5810 979M5788 996l4 22M5767 987l-5-25M5833 988L5832 1010 5852 1025M5833 988l21-17M5912 1032L5905 1010 5884 1012M5905 1010l14-20M6007 998L6025 1008 6041 995M6081 996L6103 976 6109 950M6103 976l12 18M6081 996l-28-10M6140 971L6160 956 6151 929M6160 956l18 9M6140 971l-24-11M6220 958L6242 968 6266 948M6220 958l-24 17M6278 981L6270 1010 6275 1034M6278 981l26-2M6334 1026L6344 1002 6326 988M6344 1002l20-9M6334 1026l22 20M6468 1018L6477 995 6471 976M6477 995l20 7M6502 1009L6523 1010 6539 994M6523 1010l12 24M6502 1009l-5-19M6638 986L6609 992 6602 1021M6609 992l-14-18M6631 991L6637 1010 6660 1006M6637 1010l-17 15M6631 991l-21-10M6753 1016L6755 990 6738 977M6753 1016l-22 4" fill="none" stroke="#4fdcd3" stroke-width="7" stroke-linecap="round" stroke-linejoin="round" opacity="0.82"/>
<path transform="scale(.1)" d="M6662 139h0M6831 118h0M5317 184h0M6119 210h0M5416 268h0M5480 260h0M5569 232h0M5759 227h0M6026 250h0M6133 253h0M5371 294h0M5673 343h0M5752 347h0M5871 339h0M6249 322h0M6395 355h0M5270 396h0M5479 399h0M6267 375h0M5282 455h0M5470 479h0M5828 441h0M6003 505h0M6318 509h0M6445 455h0M6645 507h0M6728 495h0M5278 554h0M5413 514h0M5807 516h0M5948 563h0M6305 576h0M6764 543h0M6091 625h0M6176 642h0M6292 590h0M6448 643h0M5794 732h0M6135 692h0M5328 805h0M5919 737h0M5990 736h0M6089 740h0M6205 754h0M6349 803h0M6667 763h0M6791 790h0M5445 864h0M5585 846h0M5659 823h0M5826 847h0M6682 840h0M6768 825h0M5871 927h0M5984 911h0M6178 935h0M6794 910h0M5349 995h0M5832 1010h0M6755 990h0" stroke="#8a9898" stroke-width="10" stroke-linecap="round" fill="none"/>
<path transform="scale(.1)" d="M4957 985l-38-13M4957 985l13-38M4957 985l8 39M4957 985l12-67M4957 985l63 11M4957 985l-14 62M4957 985l-80-17M5156 1080l-26 37M5156 1080l-5-54M5156 1080l37 20M5156 1080l34-54M5156 1080l62 44M5156 1080l-58 57M5156 1080l-43-47M5122 1206l-54 20M5122 1206l46-10M5312 1203l47-30M5312 1203l-39 35M5174 1237l14 51M5174 1237l-28-46M5224 1038l39 38M5224 1038l-40-44M5215 1146l-27-52M5215 1146l36 38M5244 1016l-3 44M5244 1016l9-45M5276 1087l-17-42M5276 1087l2 54M5111 1208l52 31M5111 1208l-37-23M5332 985l-50-23M5332 985l48-21M5332 985l4 44M5332 985l34-67M5332 985l67 42M5332 985l-32 69M5332 985l-62-13M5525 1077l-37 27M5525 1077l-10-38M5525 1077l41 37M5525 1077l62 1M5525 1077l1 68M5525 1077l-66-26M5525 1077l3-64M5675 1143l3-52M5675 1143l-18 41M5436 1128l45 4M5436 1128l-46-1M5378 1216l55-2M5378 1216l-47 5M5638 1212l52 22M5638 1212l-46-6M5547 1156l-29-35M5547 1156l15 54M5380 1124l45 3M5380 1124l-46 7M5486 1194l-25-46M5486 1194l25 38M5701 994l-3-54M5701 994l37 34M5701 994l-45 6M5701 994l81-4M5701 994l-8 74M5701 994l-81-18M5701 994l-3-74M5908 1086l27 37M5908 1086l-44 11M5908 1086l9-48M5908 1086l-13 80M5908 1086l-77 16M5908 1086l9-79M5908 1086l68 3M6004 987l-38 43M6004 987l37-33M5922 1144l-48-36M5922 1144l39 30M5765 1004l17 45M5765 1004l0-59M5799 1015l49 8M5799 1015l-54 16M6025 1223l48-17M6025 1223l-48 9M5959 1115l-40-21M5959 1115l46 32M5789 1140l-8-44M5789 1140l-7 45M6005 977l-32-33M6005 977l24 48M5896 1081l-28-49M5896 1081l21 51M6091 997l-53-3M6091 997l29-46M6091 997l21 34M6091 997l-73-19M6091 997l-7-78M6091 997l58 15M6091 997l-30 76M6263 1097l44 26M6263 1097l-34 31M6263 1097l5-48M6263 1097l-3 61M6263 1097l-70 1M6263 1097l-13-63M6263 1097l76-33M6225 1209l-41 12M6225 1209l51-6M6436 1014l-35 38M6436 1014l28-49M6181 1056l-40-45M6181 1056l44 23M6207 1007l38-23M6207 1007l-42 32M6107 1026l22 45M6107 1026l-34-40M6315 1012l33-38M6315 1012l-28 52M6281 1178l-26 51M6281 1178l-0-59M6458 993l9-48M6458 993l33 25M6458 993l-49 19M6458 993l-27 72M6458 993l-61 1M6458 993l-2-68M6458 993l80-3M6655 1087l40-17M6655 1087l-26 38M6655 1087l-33-22M6655 1087l37-64M6655 1087l35 57M6655 1087l-31 54M6655 1087l-37-55M6533 1034l32-33M6533 1034l-37 39M6768 1058l-46 33M6768 1058l25-37M6648 1195l8-47M6648 1195l-1 48M6462 1156l-43 22M6462 1156l32-35M6530 1194l-32 38M6530 1194l28-33M6691 958l38-24M6691 958l-33 44M6671 1149l-17 40M6671 1149l30-46M6705 1112l43 31M6705 1112l-51-17M6602 1113l52-7M6602 1113l-56 15M6820 993l-28-30M6820 993l39 10M6820 993l-14 48M6820 993l3 73M6820 993l-76-22M6820 993l5-82M6820 993l77 12M7029 1086l-27 36M7029 1086l-1-48M7029 1086l49 21M7029 1086l-9-71M7029 1086l57 18M7029 1086l2 72M7029 1086l-72-2M6900 958l-44-12M6900 958l45 20M6972 975l42 9M6972 975l-42-16M7027 1044l41 37M7027 1044l-53-19M6869 960l45 8M6869 960l-53 12M7150 958l-33-45M7150 958l26 41M7039 1097l48-8M7039 1097l-47 12M6979 1242l22 46M6979 1242l-31-32M7102 1207l50-16M7102 1207l-42 8M6953 1141l-11-48M6953 1141l18 49M4978 1309l-55-6M4978 1309l22-45M4978 1309l9 41M4978 1309l-31 69M4978 1309l-45-44M4978 1309l39-58M4978 1309l61 54M5150 1416l12-43M5150 1416l39 32M5150 1416l-46 10M5150 1416l70-34M5150 1416l68 44M5150 1416l-60 45M5150 1416l-57-56M4986 1461l-47 26M4986 1461l46-12M5292 1469l46 17M5292 1469l-52 6M5140 1463l-43-4M5140 1463l46 15M5134 1475l17-42M5134 1475l-2 51M5005 1507l-31-45M5005 1507l39 39M5109 1298l24-40M5109 1298l-49 33M5097 1276l-37 28M5097 1276l53-24M5176 1347l-44 27M5176 1347l53-10M5244 1542l17 44M5244 1542l-9-56M5334 1304l-7-54M5334 1304l49 24M5334 1304l-52 19M5334 1304l46 56M5334 1304l-36 49M5334 1304l-54-48M5334 1304l41-60M5512 1416l25 44M5512 1416l-50-10M5512 1416l24-49M5512 1416l27 58M5512 1416l-64 33M5512 1416l-26-71M5512 1416l63-17M5571 1280l-24 39M5571 1280l30-47M5507 1562l36-41M5507 1562l-52 28M5687 1286l42-17M5687 1286l-42 10M5452 1529l30-31M5452 1529l-27 39M5570 1365l50 22M5570 1365l-53-3M5353 1249l42 28M5353 1249l-34-37M5442 1314l-28-47M5442 1314l39 29M5540 1492l-49 9M5540 1492l50-24M5673 1359l20-47M5673 1359l-15 42M5723 1296l29 46M5723 1296l-53 2M5723 1296l35-33M5723 1296l51-36M5723 1296l40 69M5723 1296l-44 46M5723 1296l-28-75M5890 1410l-12-51M5890 1410l35 21M5890 1410l-31 24M5890 1410l-4-75M5890 1410l76-18M5890 1410l-4 78M5890 1410l-60 11M5996 1394l-44 31M5996 1394l47-32M6055 1502l-9 57M6055 1502l-11-55M5906 1466l-43-32M5906 1466l45 30M5726 1344l50-15M5726 1344l-56 7M5728 1364l-40-25M5728 1364l33 28M5768 1500l-54-22M5768 1500l59-6M5727 1307l-51 25M5727 1307l43-21M5913 1337l52 15M5913 1337l-57-13M5935 1379l-33-50M5935 1379l7 44M6099 1313l-17 52M6099 1313l-31-45M6099 1313l50 1M6099 1313l64 30M6099 1313l-41 67M6099 1313l-52-34M6099 1313l49-60M6258 1397l29 38M6258 1397l-46 15M6258 1397l12-39M6258 1397l42 67M6258 1397l-50 34M6258 1397l-47-65M6258 1397l51-51M6247 1286l-58-4M6247 1286l58-7M6181 1465l53 23M6181 1465l-47-29M6397 1514l-26-37M6397 1514l26 39M6111 1475l13 47M6111 1475l11-57M6226 1439l28-50M6226 1439l-15 44M6345 1408l-56-10M6345 1408l50-3M6315 1342l-55-23M6315 1342l44 31M6206 1392l49 9M6206 1392l-58-14M6259 1388l25 49M6259 1388l4-52M6470 1309l-22-41M6470 1309l40-10M6470 1309l-21 49M6470 1309l43 54M6470 1309l-68 45M6470 1309l-42-54M6470 1309l36-52M6652 1401l-46-19M6652 1401l31-25M6652 1401l28 45M6652 1401l-43 44M6652 1401l-56-37M6652 1401l52-53M6652 1401l76 35M6565 1523l-44 26M6565 1523l42-33M6745 1529l38 33M6745 1529l-45-35M6490 1407l-40 18M6490 1407l45-15M6614 1398l9 42M6614 1398l-3-48M6720 1516l-45 23M6720 1516l43-7M6697 1381l-48 5M6697 1381l41-18M6692 1413l-50-2M6692 1413l54-3M6679 1528l-49 2M6679 1528l45 12M6492 1295l-19-54M6492 1295l30 36M6838 1295l35 22M6838 1295l-41 13M6838 1295l13-46M6838 1295l-61 33M6838 1295l-60-58M6838 1295l51-40M6838 1295l45 44M7033 1404l29 29M7033 1404l-43 13M7033 1404l11-42M7033 1404l-47 46M7033 1404l-41-57M7033 1404l57-56M7033 1404l48 47M6879 1499l36-31M6879 1499l-27 41M7169 1563l-48-25M7169 1563l39 19M6997 1453l-48-30M6997 1453l39 19M7169 1321l-7-46M7169 1321l27 51M7117 1331l-53 10M7117 1331l48 17M7151 1562l33 43M7151 1562l-10-55M6925 1420l0-46M6925 1420l-5 57M7188 1492l-17 53M7188 1492l12-49M7129 1514l37 29M7129 1514l-57-5M4956 1623l37-38M4956 1623l11 40M4956 1623l-47-21M4956 1623l-58 26M4956 1623l-18-79M4956 1623l62-31M4956 1623l26 69M5150 1725l-54-1M5150 1725l34-41M5150 1725l23 38M5150 1725l59 40M5150 1725l-68 30M5150 1725l-30-56M5150 1725l56-42M5198 1852l48-28M5198 1852l-56 10M5005 1638l-55 12M5005 1638l49 12M5280 1657l37-28M5280 1657l-30 33M5066 1627l-8-42M5066 1627l18 46M5055 1811l30-39M5055 1811l-41 18M5301 1862l54-15M5301 1862l-41 41M5120 1609l22 44M5120 1609l-18-52M5179 1719l-45 16M5179 1719l45-27M5157 1635l52-9M5157 1635l-56-15M5320 1614l-39-25M5320 1614l39-16M5320 1614l-3 48M5320 1614l-35-57M5320 1614l48-41M5320 1614l21 72M5320 1614l-67 41M5518 1715l20 39M5518 1715l-41 8M5518 1715l38-39M5518 1715l-70-3M5518 1715l14-60M5518 1715l58 34M5518 1715l-15 75M5661 1780l-54 7M5661 1780l50-7M5502 1721l29-31M5502 1721l-31 30M5558 1871l-7-58M5558 1871l19 41M5455 1675l23-36M5455 1675l-14 46M5698 1852l57 10M5698 1852l-47 6M5414 1635l-41 28M5414 1635l34-30M5416 1701l-57-3M5416 1701l48 1M5620 1847l-43-3M5620 1847l51-1M5596 1703l-49-5M5596 1703l42 21M5708 1635l43 7M5708 1635l-15 48M5708 1635l-27-47M5708 1635l80 11M5708 1635l-3 81M5708 1635l-66 23M5708 1635l-18-81M5914 1716l50-23M5914 1716l4 54M5914 1716l-47-26M5914 1716l-59-31M5914 1716l57-56M5914 1716l65 30M5914 1716l-33 63M5788 1632l-32 30M5788 1632l27-44M5750 1763l43 24M5750 1763l-39-19M5870 1587l-25 48M5870 1587l20-45M6019 1600l-5 47M6019 1600l1-50M5873 1796l-54-0M5873 1796l53-2M5860 1817l-36-38M5860 1817l14 52M5914 1671l-50-25M5914 1671l44 19M5738 1622l-46-33M5738 1622l39 20M6070 1856l7-49M6070 1856l-16 46M6088 1622l-3 51M6088 1622l-38-24M6088 1622l47-28M6088 1622l35 54M6088 1622l-57 49M6088 1622l-44-66M6088 1622l45-48M6283 1729l-6-45M6283 1729l44-3M6283 1729l-39 34M6283 1729l55 33M6283 1729l-53 31M6283 1729l-61-53M6283 1729l59-44M6342 1662l-22-54M6342 1662l-1 57M6385 1618l18-41M6385 1618l-22 48M6447 1667l47-34M6447 1667l-32 30M6197 1769l-53-5M6197 1769l49-4M6109 1679l-22 44M6109 1679l12-44M6233 1653l-48 10M6233 1653l50-15M6228 1611l-53 7M6228 1611l45-19M6121 1661l52 6M6121 1661l-45 10M6159 1700l8-47M6159 1700l-25 42M6448 1633l-40-22M6448 1633l43-31M6448 1633l20 45M6448 1633l-49-49M6448 1633l48-37M6448 1633l56 27M6448 1633l-32 74M6642 1717l47 28M6642 1717l-47 9M6642 1717l25-40M6642 1717l59-51M6642 1717l38 52M6642 1717l-55 35M6642 1717l-44-54M6575 1613l16-54M6575 1613l-19 41M6805 1882l-59-10M6805 1882l59-3M6743 1734l-3 43M6743 1734l-14-53M6710 1640l-22-40M6710 1640l32 30M6722 1695l-42 37M6722 1695l54-22M6692 1852l42-12M6692 1852l-40 15M6647 1637l-7-50M6647 1637l18 47M6657 1612l-40-27M6657 1612l53 15M6592 1731l-22-49M6592 1731l37 47M6836 1619l-34-42M6836 1619l41-13M6836 1619l-20 48M6836 1619l-76-1M6836 1619l9-62M6836 1619l59 14M6836 1619l-20 76M7017 1716l24 46M7017 1716l-40-3M7017 1716l31-38M7017 1716l68-3M7017 1716l-13 71M7017 1716l-66 14M7017 1716l1-71M6979 1845l-44 23M6979 1845l53-10M6917 1637l35 25M6917 1637l-51-12M6867 1821l-7-43M6867 1821l-14 42M6830 1656l-5-46M6830 1656l-5 45M6950 1710l36-25M6950 1710l-40 24M6873 1656l-22 49M6873 1656l21-50M7016 1738l-46-37M7016 1738l21 42M6864 1869l8-46M6864 1869l18 52M6941 1860l42-18M6941 1860l-54 12" stroke="#ee3a2a" stroke-width="9" fill="none"/>
<path transform="scale(.1)" d="M4919 972h0M4970 948h0M4965 1024h0M5019 996h0M4943 1047h0M4877 969h0M5130 1117h0M5151 1025h0M5192 1099h0M5189 1026h0M5217 1124h0M5097 1137h0M5112 1032h0M5068 1226h0M5168 1196h0M5359 1173h0M5273 1238h0M5189 1289h0M5146 1192h0M5263 1076h0M5184 995h0M5006 967h0M5188 1094h0M5251 1184h0M5241 1060h0M5253 971h0M5259 1045h0M5278 1142h0M5163 1239h0M5075 1185h0M5249 1023h0M5268 1051h0M4990 1040h0M4965 1060h0M4971 1011h0M4944 1036h0M5189 996h0M5205 1021h0M4962 1016h0M4942 1041h0M5282 1050h0M5295 1071h0M5282 962h0M5380 965h0M5336 1030h0M5400 1027h0M5300 1055h0M5270 973h0M5488 1104h0M5515 1039h0M5566 1114h0M5587 1078h0M5526 1145h0M5459 1051h0M5528 1013h0M5741 942h0M5434 976h0M5678 1090h0M5657 1184h0M5481 1132h0M5390 1127h0M5433 1215h0M5331 1221h0M5689 1234h0M5591 1206h0M5518 1121h0M5562 1210h0M5425 1126h0M5334 1131h0M5461 1149h0M5510 1233h0M5689 1027h0M5703 1054h0M5501 1132h0M5498 1157h0M5646 1139h0M5627 1160h0M5515 1233h0M5531 1253h0M5539 1072h0M5518 1095h0M5626 1147h0M5628 1170h0M5698 940h0M5738 1028h0M5656 1000h0M5782 991h0M5693 1068h0M5620 976h0M5935 1123h0M5863 1097h0M5917 1037h0M5895 1165h0M5830 1102h0M5917 1007h0M5976 1089h0M5965 1030h0M6040 953h0M5874 1108h0M5960 1174h0M5781 1049h0M5765 945h0M5848 1023h0M5746 1031h0M6073 1206h0M5978 1232h0M5919 1093h0M6005 1147h0M5781 1095h0M5782 1184h0M5973 944h0M6029 1024h0M5867 1032h0M5917 1132h0M6065 1065h0M6084 1091h0M5745 1017h0M5758 1041h0M5701 1054h0M5677 1080h0M5798 1168h0M5773 1193h0M5871 1115h0M5868 1140h0M5984 1174h0M5998 1201h0M6038 994h0M6120 951h0M6112 1031h0M6018 978h0M6149 1011h0M6061 1073h0M6308 1122h0M6229 1128h0M6268 1049h0M6260 1158h0M6193 1098h0M6250 1034h0M6340 1064h0M6183 1221h0M6276 1203h0M6401 1052h0M6464 965h0M6151 988h0M6141 1012h0M6225 1079h0M6244 984h0M6165 1039h0M6129 1071h0M6073 987h0M6443 954h0M6348 974h0M6286 1064h0M6255 1229h0M6280 1120h0M6278 1158h0M6272 1184h0M6178 1159h0M6159 1179h0M6149 1042h0M6159 1065h0M6275 952h0M6252 974h0M6321 1076h0M6307 1105h0M6273 952h0M6245 981h0M6468 945h0M6491 1018h0M6410 1012h0M6432 1065h0M6397 995h0M6538 990h0M6695 1070h0M6629 1125h0M6623 1065h0M6692 1023h0M6691 1144h0M6625 1141h0M6619 1031h0M6565 1001h0M6497 1072h0M6723 1091h0M6793 1021h0M6656 1149h0M6647 1243h0M6419 1178h0M6494 1121h0M6498 1231h0M6558 1161h0M6659 1002h0M6654 1189h0M6702 1103h0M6748 1142h0M6654 1094h0M6654 1106h0M6546 1128h0M6731 1102h0M6732 1121h0M6674 1179h0M6701 1205h0M6515 945h0M6503 970h0M6490 1024h0M6477 1052h0M6815 1142h0M6785 1162h0M6713 1244h0M6740 1271h0M6792 963h0M6859 1002h0M6805 1041h0M6823 1066h0M6744 971h0M6897 1005h0M7002 1122h0M7028 1038h0M7078 1107h0M7020 1015h0M7086 1104h0M7031 1158h0M6957 1084h0M6857 945h0M6946 978h0M7014 984h0M6930 958h0M7068 1081h0M6974 1025h0M6914 968h0M6816 972h0M7175 999h0M7088 1088h0M6992 1108h0M7001 1288h0M6947 1210h0M7151 1191h0M7059 1215h0M6942 1093h0M6971 1191h0M7019 1008h0M7046 1037h0M6969 1155h0M6962 1173h0M7068 1122h0M7079 1151h0M6981 1244h0M6963 1265h0M7087 1146h0M7110 1169h0M7113 974h0M7142 994h0M4924 1303h0M5001 1264h0M4987 1350h0M4948 1378h0M4933 1265h0M5017 1251h0M5039 1363h0M5162 1373h0M5189 1448h0M5104 1427h0M5221 1382h0M5219 1461h0M5090 1461h0M5093 1360h0M4938 1487h0M5032 1449h0M5338 1486h0M5239 1476h0M5098 1458h0M5186 1478h0M5151 1433h0M5132 1527h0M4974 1462h0M5044 1546h0M5133 1257h0M5059 1330h0M5060 1304h0M5150 1252h0M5132 1374h0M5228 1337h0M5261 1586h0M5235 1486h0M5027 1390h0M5033 1411h0M4985 1522h0M4981 1547h0M5221 1538h0M5195 1561h0M5260 1474h0M5285 1502h0M5256 1294h0M5230 1324h0M5100 1345h0M5106 1375h0M5327 1251h0M5383 1328h0M5283 1323h0M5380 1361h0M5298 1354h0M5281 1257h0M5376 1244h0M5537 1460h0M5462 1406h0M5536 1367h0M5539 1474h0M5447 1450h0M5486 1345h0M5575 1399h0M5548 1319h0M5602 1233h0M5543 1521h0M5455 1590h0M5729 1269h0M5645 1296h0M5482 1498h0M5425 1568h0M5619 1386h0M5517 1362h0M5395 1277h0M5320 1212h0M5414 1267h0M5481 1343h0M5491 1501h0M5590 1468h0M5693 1312h0M5658 1401h0M5618 1353h0M5626 1383h0M5624 1377h0M5649 1399h0M5694 1539h0M5664 1560h0M5566 1537h0M5543 1559h0M5502 1415h0M5514 1434h0M5554 1358h0M5553 1380h0M5752 1343h0M5669 1299h0M5758 1264h0M5774 1260h0M5762 1366h0M5679 1342h0M5694 1222h0M5878 1359h0M5924 1431h0M5858 1433h0M5886 1335h0M5966 1391h0M5886 1487h0M5830 1421h0M5951 1425h0M6042 1361h0M6046 1559h0M6045 1447h0M5863 1434h0M5951 1496h0M5776 1329h0M5671 1351h0M5688 1339h0M5762 1392h0M5714 1477h0M5827 1493h0M5677 1332h0M5771 1286h0M5965 1352h0M5856 1324h0M5903 1330h0M5942 1423h0M5836 1424h0M5816 1453h0M6005 1423h0M6014 1449h0M5724 1265h0M5732 1291h0M6062 1533h0M6069 1552h0M5904 1279h0M5928 1302h0M5869 1345h0M5896 1373h0M6082 1365h0M6068 1268h0M6149 1314h0M6163 1343h0M6058 1381h0M6047 1279h0M6148 1253h0M6287 1435h0M6212 1412h0M6270 1359h0M6300 1464h0M6208 1431h0M6211 1333h0M6309 1347h0M6189 1282h0M6304 1279h0M6234 1489h0M6133 1436h0M6371 1478h0M6423 1553h0M6125 1522h0M6122 1418h0M6254 1389h0M6212 1484h0M6289 1398h0M6394 1405h0M6260 1319h0M6359 1374h0M6255 1402h0M6148 1378h0M6284 1437h0M6263 1336h0M6461 1389h0M6432 1414h0M6142 1300h0M6138 1325h0M6457 1250h0M6448 1272h0M6197 1432h0M6221 1454h0M6370 1426h0M6368 1449h0M6410 1537h0M6422 1558h0M6448 1268h0M6510 1299h0M6449 1358h0M6514 1363h0M6402 1354h0M6429 1256h0M6506 1257h0M6605 1382h0M6683 1375h0M6680 1445h0M6609 1445h0M6595 1363h0M6704 1348h0M6728 1435h0M6521 1549h0M6607 1490h0M6783 1561h0M6699 1493h0M6451 1425h0M6535 1392h0M6622 1439h0M6611 1349h0M6675 1539h0M6763 1509h0M6648 1385h0M6738 1363h0M6642 1411h0M6746 1411h0M6631 1530h0M6725 1540h0M6473 1241h0M6523 1332h0M6785 1269h0M6800 1296h0M6783 1362h0M6757 1385h0M6611 1250h0M6626 1276h0M6486 1252h0M6477 1274h0M6795 1415h0M6800 1434h0M6729 1379h0M6739 1407h0M6873 1317h0M6797 1308h0M6851 1249h0M6777 1328h0M6778 1237h0M6889 1254h0M6883 1339h0M7062 1433h0M6990 1416h0M7045 1362h0M6986 1450h0M6992 1347h0M7090 1348h0M7081 1451h0M6914 1468h0M6851 1540h0M7121 1538h0M7208 1582h0M6949 1422h0M7036 1472h0M7163 1276h0M7196 1372h0M7064 1340h0M7166 1348h0M7183 1605h0M7140 1508h0M6925 1374h0M6920 1477h0M7171 1545h0M7200 1444h0M7166 1543h0M7072 1509h0M6913 1556h0M6890 1579h0M7059 1415h0M7034 1438h0M7100 1337h0M7106 1363h0M7074 1483h0M7046 1513h0M7068 1278h0M7089 1308h0M6932 1476h0M6903 1496h0M4993 1585h0M4966 1663h0M4909 1602h0M4897 1649h0M4937 1544h0M5017 1592h0M4981 1692h0M5096 1724h0M5184 1684h0M5173 1764h0M5209 1766h0M5082 1755h0M5120 1669h0M5206 1683h0M5246 1824h0M5141 1862h0M4949 1650h0M5054 1651h0M5317 1629h0M5249 1690h0M5058 1585h0M5085 1673h0M5085 1772h0M5014 1829h0M5355 1848h0M5260 1903h0M5142 1653h0M5102 1556h0M5134 1736h0M5224 1693h0M5209 1625h0M5101 1619h0M5064 1844h0M5065 1873h0M5102 1696h0M5101 1717h0M5129 1856h0M5130 1884h0M5101 1843h0M5112 1872h0M5101 1775h0M5082 1799h0M5187 1587h0M5163 1611h0M5280 1589h0M5358 1599h0M5317 1662h0M5285 1558h0M5368 1573h0M5340 1686h0M5253 1655h0M5538 1755h0M5477 1723h0M5556 1676h0M5448 1713h0M5532 1655h0M5576 1749h0M5503 1790h0M5607 1786h0M5711 1772h0M5532 1690h0M5471 1750h0M5551 1813h0M5577 1912h0M5477 1638h0M5441 1721h0M5755 1862h0M5651 1858h0M5373 1663h0M5448 1605h0M5358 1698h0M5463 1702h0M5576 1844h0M5670 1847h0M5547 1698h0M5638 1723h0M5608 1569h0M5583 1598h0M5685 1579h0M5697 1608h0M5616 1571h0M5628 1594h0M5681 1698h0M5656 1720h0M5335 1701h0M5349 1722h0M5620 1610h0M5612 1638h0M5751 1642h0M5693 1684h0M5681 1589h0M5788 1647h0M5705 1716h0M5642 1658h0M5691 1554h0M5963 1693h0M5917 1771h0M5867 1690h0M5855 1686h0M5971 1661h0M5979 1747h0M5881 1779h0M5755 1662h0M5815 1587h0M5793 1787h0M5711 1744h0M5845 1634h0M5890 1542h0M6014 1647h0M6020 1551h0M5819 1796h0M5926 1794h0M5824 1779h0M5874 1869h0M5864 1646h0M5958 1690h0M5693 1589h0M5778 1642h0M6077 1807h0M6054 1902h0M5862 1653h0M5891 1675h0M5853 1689h0M5826 1717h0M6035 1797h0M6009 1824h0M5789 1702h0M5813 1727h0M6040 1638h0M6015 1658h0M5757 1733h0M5748 1754h0M6086 1674h0M6051 1598h0M6135 1595h0M6123 1677h0M6031 1671h0M6044 1556h0M6133 1575h0M6277 1684h0M6327 1727h0M6244 1763h0M6338 1762h0M6230 1760h0M6222 1677h0M6342 1685h0M6320 1608h0M6341 1719h0M6403 1577h0M6363 1666h0M6494 1633h0M6415 1697h0M6144 1764h0M6246 1765h0M6087 1723h0M6121 1636h0M6185 1663h0M6283 1637h0M6175 1618h0M6273 1593h0M6173 1667h0M6076 1671h0M6167 1653h0M6134 1742h0M6369 1756h0M6359 1784h0M6111 1812h0M6114 1838h0M6373 1705h0M6377 1730h0M6427 1762h0M6431 1787h0M6432 1781h0M6420 1808h0M6364 1851h0M6354 1876h0M6408 1611h0M6490 1602h0M6468 1678h0M6398 1584h0M6496 1596h0M6504 1659h0M6416 1707h0M6689 1744h0M6595 1725h0M6667 1676h0M6701 1665h0M6680 1768h0M6587 1752h0M6597 1663h0M6592 1559h0M6556 1653h0M6746 1872h0M6864 1879h0M6740 1777h0M6729 1681h0M6688 1600h0M6742 1670h0M6681 1731h0M6776 1673h0M6734 1841h0M6651 1867h0M6640 1588h0M6665 1684h0M6617 1585h0M6710 1627h0M6570 1682h0M6629 1778h0M6557 1826h0M6554 1853h0M6557 1693h0M6559 1715h0M6617 1659h0M6597 1681h0M6574 1720h0M6598 1745h0M6477 1603h0M6450 1629h0M6627 1648h0M6631 1671h0M6802 1577h0M6877 1605h0M6816 1667h0M6760 1618h0M6845 1557h0M6895 1633h0M6816 1695h0M7041 1762h0M6977 1712h0M7048 1678h0M7085 1713h0M7004 1787h0M6951 1730h0M7018 1645h0M6936 1868h0M7033 1835h0M6952 1662h0M6866 1625h0M6860 1779h0M6853 1863h0M6825 1610h0M6825 1700h0M6986 1685h0M6910 1734h0M6852 1705h0M6894 1606h0M6970 1701h0M7038 1779h0M6872 1823h0M6882 1921h0M6983 1842h0M6887 1872h0M7184 1639h0M7168 1660h0M7165 1841h0M7188 1861h0M7119 1754h0M7128 1773h0M6979 1773h0M6955 1794h0M6854 1701h0M6850 1720h0M6880 1679h0M6899 1709h0M5634 965h0M5996 969h0M5536 978h0M6027 980h0M6096 960h0M5457 975h0M5857 994h0M6804 956h0M5550 964h0M5465 959h0M5866 963h0M5499 989h0M6230 994h0M6545 975h0M5821 958h0M5738 968h0M5632 978h0M5370 973h0M6087 963h0M5901 962h0M5386 959h0M6134 984h0" stroke="#e00e08" stroke-width="38" stroke-linecap="round" fill="none"/>
<path transform="scale(.1)" d="M4913 966h0M4964 942h0M4959 1018h0M5013 990h0M4937 1041h0M4871 963h0M5124 1111h0M5145 1019h0M5186 1093h0M5183 1020h0M5211 1118h0M5091 1131h0M5106 1026h0M5063 1220h0M5163 1190h0M5353 1167h0M5267 1232h0M5183 1283h0M5141 1186h0M5258 1071h0M5178 989h0M5000 962h0M5182 1088h0M5246 1179h0M5235 1055h0M5248 965h0M5253 1039h0M5273 1136h0M5157 1233h0M5069 1179h0M5243 1017h0M5263 1046h0M4984 1035h0M4960 1055h0M4965 1006h0M4939 1030h0M5183 990h0M5199 1016h0M4957 1010h0M4937 1035h0M5277 1045h0M5290 1066h0M5276 956h0M5374 959h0M5330 1024h0M5394 1021h0M5294 1049h0M5264 967h0M5482 1098h0M5509 1033h0M5560 1108h0M5581 1072h0M5520 1139h0M5453 1045h0M5522 1007h0M5735 937h0M5428 971h0M5673 1085h0M5651 1178h0M5476 1127h0M5385 1122h0M5427 1209h0M5325 1215h0M5684 1228h0M5586 1200h0M5512 1116h0M5556 1204h0M5419 1121h0M5329 1125h0M5456 1143h0M5505 1227h0M5683 1022h0M5697 1048h0M5496 1126h0M5493 1152h0M5641 1134h0M5621 1154h0M5509 1228h0M5526 1248h0M5533 1066h0M5513 1090h0M5621 1141h0M5623 1164h0M5692 934h0M5732 1022h0M5650 994h0M5776 985h0M5687 1062h0M5614 970h0M5929 1117h0M5857 1091h0M5911 1031h0M5889 1159h0M5824 1096h0M5911 1001h0M5970 1083h0M5960 1024h0M6034 948h0M5869 1103h0M5955 1169h0M5776 1043h0M5759 939h0M5842 1018h0M5740 1026h0M6067 1201h0M5972 1227h0M5913 1088h0M5999 1141h0M5776 1090h0M5777 1179h0M5967 938h0M6023 1019h0M5862 1027h0M5911 1126h0M6060 1060h0M6079 1086h0M5739 1012h0M5753 1036h0M5696 1048h0M5672 1075h0M5792 1162h0M5767 1188h0M5866 1109h0M5863 1135h0M5978 1169h0M5993 1196h0M6032 988h0M6114 945h0M6106 1025h0M6012 972h0M6143 1005h0M6055 1067h0M6302 1116h0M6223 1122h0M6262 1043h0M6254 1152h0M6187 1092h0M6244 1028h0M6334 1058h0M6178 1215h0M6270 1198h0M6395 1046h0M6458 959h0M6146 983h0M6136 1006h0M6219 1074h0M6239 978h0M6160 1033h0M6123 1066h0M6068 981h0M6437 949h0M6343 969h0M6281 1058h0M6249 1224h0M6275 1114h0M6273 1152h0M6267 1179h0M6172 1153h0M6154 1174h0M6144 1036h0M6154 1059h0M6270 947h0M6247 969h0M6315 1071h0M6301 1099h0M6267 946h0M6240 975h0M6462 939h0M6485 1012h0M6404 1006h0M6426 1059h0M6391 989h0M6532 984h0M6689 1064h0M6623 1119h0M6617 1059h0M6686 1017h0M6685 1138h0M6619 1135h0M6613 1025h0M6560 996h0M6491 1067h0M6717 1086h0M6788 1015h0M6650 1143h0M6642 1238h0M6413 1173h0M6488 1116h0M6493 1226h0M6553 1155h0M6653 997h0M6649 1184h0M6696 1098h0M6742 1137h0M6649 1089h0M6648 1100h0M6540 1122h0M6726 1097h0M6726 1116h0M6668 1173h0M6696 1200h0M6509 939h0M6498 965h0M6485 1018h0M6472 1047h0M6809 1136h0M6780 1157h0M6707 1238h0M6734 1266h0M6786 957h0M6853 996h0M6799 1035h0M6817 1060h0M6738 965h0M6891 999h0M6996 1116h0M7022 1032h0M7072 1101h0M7014 1009h0M7080 1098h0M7025 1152h0M6951 1078h0M6851 940h0M6940 972h0M7008 978h0M6925 953h0M7063 1076h0M6968 1020h0M6909 962h0M6811 966h0M7170 994h0M7082 1083h0M6987 1103h0M6995 1282h0M6942 1204h0M7146 1186h0M7054 1209h0M6937 1088h0M6965 1185h0M7013 1002h0M7041 1032h0M6963 1149h0M6957 1168h0M7063 1116h0M7074 1146h0M6975 1239h0M6958 1260h0M7081 1141h0M7104 1164h0M7108 968h0M7136 989h0M4918 1297h0M4995 1258h0M4981 1344h0M4942 1372h0M4927 1259h0M5011 1245h0M5033 1357h0M5156 1367h0M5183 1442h0M5098 1421h0M5215 1376h0M5213 1455h0M5084 1455h0M5087 1354h0M4933 1481h0M5026 1443h0M5332 1481h0M5234 1470h0M5092 1453h0M5181 1472h0M5145 1428h0M5127 1521h0M4968 1457h0M5039 1541h0M5127 1252h0M5054 1325h0M5054 1298h0M5145 1247h0M5126 1368h0M5223 1331h0M5256 1580h0M5230 1481h0M5022 1385h0M5028 1405h0M4979 1517h0M4976 1542h0M5215 1532h0M5190 1555h0M5254 1469h0M5280 1497h0M5250 1288h0M5224 1319h0M5094 1340h0M5100 1370h0M5321 1245h0M5377 1322h0M5277 1317h0M5374 1355h0M5292 1348h0M5275 1251h0M5370 1238h0M5531 1454h0M5456 1400h0M5530 1361h0M5533 1468h0M5441 1444h0M5480 1339h0M5569 1393h0M5542 1314h0M5596 1227h0M5537 1516h0M5449 1584h0M5723 1264h0M5640 1291h0M5476 1493h0M5419 1562h0M5614 1381h0M5511 1356h0M5389 1271h0M5314 1206h0M5409 1261h0M5476 1338h0M5486 1495h0M5584 1463h0M5687 1307h0M5652 1395h0M5613 1348h0M5620 1377h0M5619 1371h0M5644 1393h0M5688 1534h0M5659 1555h0M5561 1532h0M5538 1553h0M5497 1410h0M5509 1429h0M5548 1352h0M5548 1375h0M5746 1337h0M5663 1293h0M5752 1258h0M5768 1254h0M5756 1360h0M5673 1336h0M5688 1216h0M5872 1353h0M5918 1425h0M5852 1427h0M5880 1329h0M5960 1385h0M5880 1481h0M5824 1415h0M5946 1419h0M6037 1356h0M6040 1553h0M6039 1441h0M5858 1428h0M5946 1491h0M5771 1323h0M5665 1346h0M5682 1333h0M5756 1387h0M5709 1472h0M5821 1488h0M5671 1327h0M5765 1280h0M5959 1347h0M5850 1318h0M5897 1324h0M5936 1418h0M5831 1419h0M5810 1448h0M5999 1417h0M6009 1444h0M5718 1259h0M5727 1286h0M6056 1528h0M6064 1546h0M5898 1273h0M5922 1297h0M5863 1339h0M5891 1368h0M6076 1359h0M6062 1262h0M6143 1308h0M6157 1337h0M6052 1375h0M6041 1273h0M6142 1247h0M6281 1429h0M6206 1406h0M6264 1353h0M6294 1458h0M6202 1425h0M6205 1327h0M6303 1341h0M6184 1277h0M6299 1273h0M6229 1483h0M6128 1431h0M6365 1472h0M6417 1547h0M6119 1516h0M6116 1412h0M6248 1383h0M6206 1478h0M6284 1392h0M6389 1400h0M6254 1314h0M6354 1368h0M6249 1396h0M6142 1373h0M6279 1432h0M6258 1330h0M6455 1383h0M6426 1409h0M6137 1294h0M6133 1320h0M6451 1245h0M6443 1267h0M6192 1427h0M6216 1449h0M6364 1421h0M6362 1444h0M6405 1532h0M6417 1553h0M6442 1262h0M6504 1293h0M6443 1352h0M6508 1357h0M6396 1348h0M6423 1250h0M6500 1251h0M6599 1376h0M6677 1369h0M6674 1439h0M6603 1439h0M6589 1357h0M6698 1342h0M6722 1429h0M6516 1544h0M6601 1484h0M6778 1556h0M6694 1488h0M6445 1420h0M6530 1387h0M6617 1434h0M6605 1344h0M6670 1533h0M6758 1503h0M6643 1380h0M6732 1357h0M6637 1405h0M6740 1405h0M6625 1524h0M6719 1535h0M6467 1236h0M6517 1326h0M6779 1263h0M6795 1291h0M6778 1357h0M6752 1380h0M6605 1244h0M6620 1270h0M6480 1246h0M6471 1269h0M6789 1409h0M6795 1428h0M6723 1373h0M6734 1401h0M6867 1311h0M6791 1302h0M6845 1243h0M6771 1322h0M6772 1231h0M6883 1248h0M6877 1333h0M7056 1427h0M6984 1410h0M7039 1356h0M6980 1444h0M6986 1341h0M7084 1342h0M7075 1445h0M6909 1462h0M6846 1535h0M7116 1532h0M7203 1576h0M6943 1417h0M7030 1466h0M7157 1270h0M7190 1367h0M7059 1335h0M7160 1342h0M7178 1600h0M7135 1502h0M6920 1368h0M6914 1471h0M7165 1540h0M7194 1438h0M7160 1538h0M7066 1503h0M6908 1550h0M6885 1574h0M7054 1410h0M7028 1433h0M7095 1331h0M7100 1357h0M7069 1478h0M7040 1508h0M7063 1272h0M7084 1302h0M6926 1470h0M6898 1491h0M4987 1579h0M4960 1657h0M4903 1596h0M4891 1643h0M4931 1538h0M5011 1586h0M4975 1686h0M5090 1718h0M5178 1678h0M5167 1758h0M5203 1760h0M5076 1749h0M5114 1663h0M5200 1677h0M5241 1819h0M5136 1857h0M4944 1644h0M5049 1645h0M5311 1623h0M5244 1684h0M5053 1579h0M5079 1668h0M5080 1766h0M5008 1823h0M5350 1842h0M5254 1898h0M5136 1647h0M5096 1551h0M5129 1730h0M5218 1687h0M5204 1620h0M5095 1613h0M5058 1838h0M5059 1868h0M5096 1691h0M5096 1712h0M5124 1851h0M5125 1879h0M5096 1837h0M5107 1866h0M5096 1770h0M5076 1794h0M5182 1581h0M5158 1606h0M5274 1583h0M5352 1593h0M5311 1656h0M5279 1552h0M5362 1567h0M5334 1680h0M5247 1649h0M5532 1749h0M5471 1717h0M5550 1670h0M5442 1707h0M5526 1649h0M5570 1743h0M5497 1784h0M5602 1781h0M5706 1767h0M5526 1684h0M5465 1745h0M5545 1807h0M5572 1906h0M5472 1633h0M5435 1715h0M5750 1856h0M5645 1853h0M5368 1657h0M5442 1600h0M5353 1693h0M5458 1697h0M5571 1838h0M5665 1841h0M5542 1693h0M5633 1718h0M5602 1564h0M5578 1593h0M5679 1573h0M5692 1603h0M5611 1565h0M5622 1589h0M5675 1692h0M5650 1715h0M5330 1695h0M5344 1717h0M5614 1605h0M5607 1632h0M5745 1636h0M5687 1678h0M5675 1583h0M5782 1641h0M5699 1710h0M5636 1652h0M5685 1548h0M5957 1687h0M5911 1765h0M5861 1684h0M5849 1680h0M5965 1655h0M5973 1741h0M5875 1773h0M5750 1656h0M5809 1582h0M5788 1782h0M5705 1738h0M5839 1629h0M5884 1536h0M6008 1642h0M6014 1545h0M5813 1790h0M5921 1788h0M5819 1773h0M5868 1863h0M5859 1641h0M5952 1685h0M5687 1583h0M5772 1637h0M6072 1801h0M6048 1897h0M5856 1647h0M5885 1670h0M5848 1684h0M5821 1712h0M6030 1791h0M6003 1819h0M5783 1696h0M5807 1722h0M6034 1632h0M6009 1653h0M5752 1728h0M5742 1749h0M6080 1668h0M6045 1592h0M6129 1589h0M6117 1671h0M6025 1665h0M6038 1550h0M6127 1569h0M6271 1678h0M6321 1721h0M6238 1757h0M6332 1756h0M6224 1754h0M6216 1671h0M6336 1679h0M6314 1602h0M6335 1714h0M6398 1572h0M6357 1660h0M6488 1627h0M6409 1691h0M6138 1758h0M6240 1760h0M6082 1718h0M6115 1630h0M6180 1657h0M6277 1632h0M6169 1612h0M6268 1587h0M6167 1661h0M6070 1665h0M6161 1648h0M6128 1737h0M6363 1750h0M6354 1779h0M6105 1807h0M6109 1833h0M6367 1699h0M6372 1725h0M6421 1756h0M6425 1782h0M6426 1775h0M6415 1802h0M6358 1846h0M6349 1871h0M6402 1605h0M6484 1596h0M6462 1672h0M6392 1578h0M6490 1590h0M6498 1653h0M6410 1701h0M6683 1738h0M6589 1719h0M6661 1670h0M6695 1659h0M6674 1762h0M6581 1746h0M6591 1657h0M6586 1553h0M6551 1648h0M6741 1866h0M6859 1874h0M6735 1772h0M6723 1676h0M6682 1595h0M6737 1664h0M6675 1726h0M6770 1667h0M6728 1835h0M6646 1862h0M6634 1582h0M6660 1679h0M6611 1580h0M6704 1621h0M6565 1677h0M6623 1772h0M6551 1820h0M6549 1847h0M6552 1688h0M6554 1710h0M6611 1654h0M6591 1676h0M6568 1714h0M6593 1739h0M6472 1598h0M6445 1624h0M6621 1643h0M6626 1666h0M6796 1571h0M6871 1599h0M6810 1661h0M6754 1612h0M6839 1551h0M6889 1627h0M6810 1689h0M7035 1756h0M6971 1706h0M7042 1672h0M7079 1707h0M6998 1781h0M6945 1724h0M7012 1639h0M6930 1862h0M7027 1830h0M6947 1657h0M6861 1620h0M6854 1773h0M6847 1858h0M6819 1604h0M6819 1695h0M6980 1679h0M6904 1728h0M6846 1700h0M6888 1601h0M6965 1695h0M7032 1774h0M6866 1817h0M6876 1916h0M6978 1837h0M6882 1866h0M7178 1633h0M7163 1654h0M7159 1835h0M7182 1855h0M7113 1749h0M7123 1767h0M6974 1767h0M6950 1789h0M6849 1695h0M6845 1715h0M6874 1674h0M6894 1704h0M5629 960h0M5991 964h0M5531 972h0M6022 974h0M6090 955h0M5452 969h0M5852 989h0M6798 951h0M5545 959h0M5459 953h0M5860 958h0M5494 983h0M6225 989h0M6539 969h0M5815 953h0M5733 962h0M5626 972h0M5364 968h0M6082 958h0M5896 956h0M5380 953h0M6128 978h0" stroke="#ff4030" stroke-width="21" stroke-linecap="round" fill="none"/>
<path transform="scale(.1)" d="M5122 1206h0M5312 1203h0M5174 1237h0M5224 1038h0M5215 1146h0M5244 1016h0M5276 1087h0M5111 1208h0M5675 1143h0M5436 1128h0M5378 1216h0M5638 1212h0M5547 1156h0M5380 1124h0M5486 1194h0M6004 987h0M5922 1144h0M5765 1004h0M5799 1015h0M6025 1223h0M5959 1115h0M5789 1140h0M6005 977h0M5896 1081h0M6225 1209h0M6436 1014h0M6181 1056h0M6207 1007h0M6107 1026h0M6315 1012h0M6281 1178h0M6533 1034h0M6768 1058h0M6648 1195h0M6462 1156h0M6530 1194h0M6671 1149h0M6705 1112h0M6602 1113h0M6972 975h0M7027 1044h0M7039 1097h0M6979 1242h0M7102 1207h0M6953 1141h0M4986 1461h0M5292 1469h0M5140 1463h0M5134 1475h0M5005 1507h0M5109 1298h0M5097 1276h0M5176 1347h0M5244 1542h0M5571 1280h0M5507 1562h0M5687 1286h0M5452 1529h0M5570 1365h0M5353 1249h0M5442 1314h0M5540 1492h0M5673 1359h0M5996 1394h0M6055 1502h0M5906 1466h0M5726 1344h0M5728 1364h0M5768 1500h0M5727 1307h0M5913 1337h0M5935 1379h0M6247 1286h0M6181 1465h0M6397 1514h0M6111 1475h0M6226 1439h0M6345 1408h0M6315 1342h0M6206 1392h0M6259 1388h0M6565 1523h0M6745 1529h0M6490 1407h0M6614 1398h0M6720 1516h0M6697 1381h0M6692 1413h0M6679 1528h0M6492 1295h0M6879 1499h0M7169 1563h0M6997 1453h0M7169 1321h0M7117 1331h0M7151 1562h0M6925 1420h0M7188 1492h0M7129 1514h0M5198 1852h0M5005 1638h0M5280 1657h0M5066 1627h0M5055 1811h0M5301 1862h0M5120 1609h0M5179 1719h0M5157 1635h0M5661 1780h0M5502 1721h0M5558 1871h0M5455 1675h0M5698 1852h0M5414 1635h0M5416 1701h0M5620 1847h0M5596 1703h0M5788 1632h0M5750 1763h0M5870 1587h0M6019 1600h0M5873 1796h0M5860 1817h0M5914 1671h0M5738 1622h0M6070 1856h0M6342 1662h0M6385 1618h0M6447 1667h0M6197 1769h0M6109 1679h0M6233 1653h0M6228 1611h0M6121 1661h0M6159 1700h0M6575 1613h0M6805 1882h0M6743 1734h0M6710 1640h0M6722 1695h0M6692 1852h0M6647 1637h0M6657 1612h0M6592 1731h0M6979 1845h0M6917 1637h0M6867 1821h0M6830 1656h0M6950 1710h0M6873 1656h0M7016 1738h0M6864 1869h0M6941 1860h0" stroke="#cfb68c" stroke-width="49" stroke-linecap="round" fill="none"/>
<path transform="scale(.1)" d="M5115 1199h0M5304 1195h0M5167 1230h0M5217 1031h0M5208 1139h0M5237 1009h0M5269 1080h0M5104 1201h0M5668 1135h0M5429 1121h0M5370 1209h0M5630 1204h0M5539 1148h0M5373 1116h0M5478 1187h0M5996 979h0M5914 1137h0M5757 996h0M5792 1008h0M6018 1216h0M5951 1107h0M5782 1133h0M5997 969h0M5888 1074h0M6217 1202h0M6428 1006h0M6174 1049h0M6199 1000h0M6100 1019h0M6308 1005h0M6273 1171h0M6526 1026h0M6761 1051h0M6640 1188h0M6455 1149h0M6523 1186h0M6664 1142h0M6698 1104h0M6594 1105h0M6965 967h0M7020 1037h0M7032 1089h0M6971 1234h0M7094 1199h0M6946 1134h0M4978 1454h0M5284 1462h0M5133 1455h0M5127 1468h0M4998 1500h0M5102 1290h0M5090 1269h0M5168 1339h0M5237 1535h0M5564 1273h0M5500 1555h0M5679 1279h0M5445 1522h0M5563 1357h0M5346 1241h0M5434 1307h0M5533 1484h0M5666 1352h0M5988 1386h0M6048 1495h0M5899 1459h0M5719 1337h0M5721 1357h0M5761 1492h0M5720 1300h0M5906 1330h0M5928 1372h0M6240 1279h0M6174 1458h0M6390 1507h0M6104 1468h0M6219 1432h0M6337 1401h0M6308 1335h0M6199 1385h0M6252 1381h0M6558 1516h0M6737 1521h0M6483 1400h0M6606 1390h0M6713 1508h0M6689 1373h0M6685 1406h0M6672 1521h0M6485 1288h0M6871 1491h0M7162 1555h0M6989 1445h0M7162 1314h0M7110 1323h0M7143 1555h0M6917 1413h0M7181 1485h0M7121 1507h0M5191 1845h0M4997 1631h0M5272 1649h0M5059 1620h0M5047 1803h0M5294 1855h0M5112 1601h0M5171 1712h0M5150 1627h0M5654 1772h0M5495 1713h0M5551 1864h0M5447 1667h0M5691 1845h0M5407 1627h0M5408 1694h0M5612 1840h0M5589 1695h0M5780 1624h0M5743 1756h0M5862 1579h0M6011 1593h0M5865 1789h0M5852 1809h0M5907 1664h0M5731 1615h0M6063 1848h0M6334 1655h0M6378 1611h0M6439 1659h0M6189 1761h0M6102 1672h0M6226 1645h0M6221 1604h0M6114 1654h0M6151 1693h0M6568 1605h0M6798 1875h0M6736 1727h0M6702 1633h0M6715 1687h0M6684 1845h0M6640 1630h0M6650 1605h0M6585 1724h0M6972 1838h0M6910 1630h0M6859 1814h0M6823 1648h0M6942 1702h0M6866 1649h0M7009 1730h0M6857 1862h0M6934 1852h0" stroke="#eee0c2" stroke-width="27" stroke-linecap="round" fill="none"/>
<path transform="scale(.1)" d="M4957 985h0M5156 1080h0M5332 985h0M5525 1077h0M5701 994h0M5908 1086h0M6091 997h0M6263 1097h0M6458 993h0M6655 1087h0M6820 993h0M7029 1086h0M4978 1309h0M5150 1416h0M5334 1304h0M5512 1416h0M5723 1296h0M5890 1410h0M6099 1313h0M6258 1397h0M6470 1309h0M6652 1401h0M6838 1295h0M7033 1404h0M4956 1623h0M5150 1725h0M5320 1614h0M5518 1715h0M5708 1635h0M5914 1716h0M6088 1622h0M6283 1729h0M6448 1633h0M6642 1717h0M6836 1619h0M7017 1716h0" stroke="#48484c" stroke-width="54" stroke-linecap="round" fill="none"/>
<path transform="scale(.1)" d="M4949 977h0M5147 1072h0M5324 977h0M5517 1069h0M5693 986h0M5900 1077h0M6083 989h0M6255 1088h0M6450 985h0M6647 1079h0M6812 985h0M7021 1078h0M4970 1301h0M5142 1408h0M5326 1296h0M5504 1408h0M5715 1288h0M5882 1402h0M6091 1305h0M6250 1389h0M6462 1301h0M6644 1392h0M6830 1287h0M7025 1396h0M4948 1615h0M5142 1717h0M5311 1606h0M5510 1707h0M5700 1627h0M5906 1708h0M6080 1614h0M6275 1721h0M6440 1625h0M6634 1708h0M6828 1611h0M7009 1708h0" stroke="#77777d" stroke-width="30" stroke-linecap="round" fill="none"/>
<path transform="scale(.1)" d="M5315 1048h0M5329 1066h0M5556 1064h0M5570 1082h0M5985 1159h0M5999 1177h0M6122 1147h0M6136 1165h0M6431 1237h0M6445 1255h0M6579 1140h0M6593 1158h0M6933 1127h0M6947 1145h0M5100 1443h0M5114 1461h0M5421 1450h0M5435 1468h0M6040 1358h0M6054 1376h0M5839 1339h0M5853 1357h0M6273 1323h0M6287 1341h0M6619 1501h0M6633 1519h0M6956 1510h0M6970 1528h0M5111 1693h0M5125 1711h0M5402 1652h0M5416 1670h0M5419 1722h0M5433 1740h0M5829 1866h0M5843 1884h0M6012 1841h0M6026 1859h0M6410 1692h0M6424 1710h0M6556 1695h0M6570 1713h0M7035 1868h0M7049 1886h0" stroke="#d99a12" stroke-width="32" stroke-linecap="round" fill="none"/>
<path transform="scale(.1)" d="M5310 1043h0M5324 1061h0M5551 1059h0M5565 1077h0M5981 1154h0M5995 1172h0M6117 1143h0M6131 1161h0M6426 1232h0M6440 1250h0M6575 1135h0M6589 1153h0M6928 1122h0M6942 1140h0M5095 1438h0M5109 1456h0M5416 1445h0M5430 1463h0M6035 1353h0M6049 1371h0M5834 1334h0M5848 1352h0M6268 1318h0M6282 1336h0M6615 1496h0M6629 1514h0M6951 1505h0M6965 1523h0M5106 1688h0M5120 1706h0M5397 1648h0M5411 1666h0M5414 1717h0M5428 1735h0M5825 1861h0M5839 1879h0M6007 1836h0M6021 1854h0M6405 1687h0M6419 1705h0M6551 1690h0M6565 1708h0M7030 1863h0M7044 1881h0" stroke="#ffcf48" stroke-width="18" stroke-linecap="round" fill="none"/>
</g>
<rect x="523.60" y="5.80" width="158.50" height="171.40" fill="none" stroke="#3c4ff2" stroke-width="1.3"/>
<clipPath id="cp1L"><rect x="30.20" y="207.20" width="176.70" height="163.40"/></clipPath>
<g clip-path="url(#cp1L)"><rect x="30.20" y="207.20" width="176.70" height="163.40" fill="#1806f8"/>
<path transform="scale(.25)" d="M767 849l16 7 0 7-16 0-17-7 0-7zM425 860l49 0 16 7 0 7-65 0-16-7 0-7zM718 860l24 0 17 7 0 7-41 0-16-7 0-7zM815 871l17 7 0 18-17 0-16-7 0-18zM133 881l65 29 0 8-16 0-65-29 0-8zM401 881l24 0 17 8 0 7-41 0-16-7 0-8zM596 892l24 11 25 0 16 7 0 8-24 0 0 11-25 0 0 3 25 11 8 1 21 10 0 10-21 0-22-10-3-4-40-18 0-18 24 0 0-4-24-10 0-8zM767 892l24 0 16 8 0 7-40 0-17-7 0-8zM401 903l24 0 17 7 0 8-41 0-16-8 0-7zM547 903l17 7 0 8-17 0-16-8 0-7zM230 914l41 18 0 8-16 0-41-19 0-7zM304 914l24 0 16 7 0 8-40 0-17-8 0-7zM499 914l24 0 16 7 0 8-40 0-17-8 0-7zM718 914l16 7 0 8-16 0-16-8 0-7zM133 924l24 0 19 8 0 9-2 2 0 7-17 0-43-18 0-8zM377 925l16 7 0 8-16 0-17-8 0-7zM450 925l24 0 16 7 0 11 25 11 0 7-25 0 0 4 25 11 0 7-16 0-41-18 0-11-8-4-25 0-16-7 0-7 25 0 0-11zM669 924l25 1 24 11 5-1 44 0 24 12 24 0 17 7 0 7-65 0-6 2-2 2 0 18-49 0 0 4 32 14 55-1 2-2 0-8 16 0 17 8 0 7 2 4 0 8-24 0-3 2 27 11 0 9-2 2 0 7-49 0 3 4 5 3 24 0 19 8 0 8-2 3 0 18 2 4 0 8-2 3 0 7 2 3 0 9-2 2 0 8-41 0-16-8 0-7-3-4 0-10-5-3-3 1-22 0-5-1 0 22-52-1 0 3 33 14 5 0-2-3 0-9 46 1 19 8 0 9-19 0-6 2 6 4 24 0 41 18 0 29-25 0 0 11-16 0-16-7 0-11-33-14-5 3 0 8-19 0-8-1-41 0-24-11-8 0 0 22-41 0-24-11-98 0-5 1-3 3 0 7-16 0-25-10-8-1-24 0 0 11-16 0-49-22-5 1-3 3 24 11 0 7-16 0-41-18-13-3 0 11-117 0-24-1-16-7 0-29 16 0 5-1 3-3 0-18-3-4 0-19-5-5-19-8 0-9 27 1-3-3 0-9-2-2 0-10 2-1 0-8 3-3-24-11 0-29 46-1 2-2-8-4-24 0-16-7 0-29-3-4 0-8 3-3 0-7 16 0 24 10 8 1 25 0 0-22 40-1 19 8 0 9-27-2 0 37 8 2 25 0 40 20 0 7-73 0 0 11-16 0-5 1 0 2 5 4 24 0 17 7 0 7-25 0 0 11 3 4 11 2 27 2 0-11 24 0 0-11 17 0 5-1 0-3-5-3-17-8 0-7 17 0 24 10 30 0 2-3-8-2-24 0-19-9 0-8 24 0-2-2 0-10 2-1-5-4-5 1-44 0-43-19 0-9 3-2 0-7 40 0 16 7 0 7 3 4 6 2 8 1 0-21 40 0 17 7 0 7-25 0 0 15 16 3 41 0 16 8 0 7-24 0 3 4 5 3 6-1 27 1-3-3 0-9 3-2 0-8-3-3-6-4-16-7 0-11-8-4-5 2-19 0-19-9 0-8 43 1 41 18 0 11 8 2 24 0 19 9 0 8-24 0-3 3 8 3 25 0 5-1 0-11 19 0 43 20 6 3 8 0 0-11 24 0-2-3-6-3-24 0-19-8 0-9 43 0 43 20 0 8-2 3 8 3 8 0 0-11 16 0 16 8 0 18-24 0 3 3 5 4 16 7 9 3 2-1 22 0 5 1 0-3-5-3-16-8 0-18 16 0 49 22 8 0-3-4-5-3-73-33-49 1-19-8 0-20 43 0 8 2-2-4 0-8 51 1-3-4-5-4-24-10-6 1-19 0-19-9 0-8zM572 947l24 0 16 7 0 7-40 0-17-7 0-7zM547 958l17 7 0 7-17 0-16-7 0-7zM152 973l-3 3 0 11 8 3 33 0 0-14-8-4-6 1zM815 969l17 7 0 7-17 0-16-7 0-7zM374 1018l-3 1 6 4 8 0 0-4-8-2zM469 1017l-3 2 0 8 3 3 0 20 5 6 8 0 0-11-2-4 0-8-2-3 0-9 2-2-6-3zM515 1016l2 3 0 9 2 2 28 15 6-1 2-3-24-11 0-7 24 0 0-4-8-2-24 0zM255 1023l16 7 0 8-16 0-16-8 0-7zM588 1027l0 3 8 4 6-1 2-3-8-3zM149 1038l0 3 8 4 33 0 0-4-8-2-25 0zM371 1050l6 5 5 0-5-5zM588 1048l3 4 5 3 8 1 25 0 0-4-9-2-8-2zM423 1062l-3 1 0 19-3 3 0 7-40 0-6 1 3 3 0 9-5 2 0 7-17 0-5 1 0 2 5 4 6-1 24 0 3-3 0-7 24 0 0-11 16 0 3-2 6-1 0-33-9-4zM515 1059l0 4 8 4 5-2 0-2-5-2zM593 1073l-2 1 5 2 3-1 21 0 6 1 0-2-6-4zM466 1081l0 15 8 2 25 0 24 11 5 0 0-11 3-2-16-4-16 0-25-11zM690 1083l-5 2 9 3 5-1 3-2zM734 1081l0 4 14 2 2-2zM788 1083l-5 2 8 3 6-1 2-2-8-4zM274 1093l-3 3 8 1 22 10 3 3 5-1 0-13-5-4-25 0zM564 1092l0 4 8 2 5 0-5-6zM642 1094l-3 2 6 3 16 8 8 3 8 0 0-14-8-4zM471 1116l-2 1 0 9-52-1 3 3 0 9-3 2 8 4 9 0 0-11 40 0 49 22 5-1 3-3-27-11 0-8 3-3-8-1-25-12zM176 1126l0 2 6 4 5-1 0-3-5-2zM301 1127l-6 1 9 4 32 0 0-4-16-3-16 0zM539 1136l3 3 5 4 6-1 2-3zM639 1137l0 2 6 4 16 7 8 4 8 0 0-4-24-11-8-2zM320 1147l0 14 8 4 5-2 27 2 0-4-8-4-24-10zM201 1159l-3 2 8 1 8-1-8-4zM615 1159l0 2 5 4 25 0 5-2 3-2-8-4-25 0zM710 1157l0 4 13 2 25 0 2-2-8-2-24 0zM206 1197l24 0 17 8 0 7-41 0-16-7 0-8z" fill="#2c40f0" fill-rule="evenodd"/>
<path transform="scale(.25)" d="M767 851l12 5 0 5-12 0-12-5 0-5zM425 862l49 0 12 5 0 5-61 0-11-5 0-5zM718 862l24 0 12 5 0 5-36 0-12-5 0-5zM815 873l12 5 0 16-12 0-11-5 0-16zM133 883l61 27 0 6-12 0-61-27 0-6zM401 883l24 0 12 6 0 5-36 0-12-5 0-6zM596 894l24 11 25 0 12 5 0 6-25 0 0 11-24 0 0 5 24 11 13 2 20 9 0 9-20 0-20-9-5-6-36-16 0-16 25 0 0-6-25-10 0-6zM767 894l24 0 12 6 0 5-36 0-12-5 0-6zM401 905l24 0 12 5 0 6-36 0-12-6 0-5zM547 905l12 5 0 6-12 0-12-6 0-5zM230 916l37 16 0 6-12 0-36-17 0-5zM304 916l24 0 12 5 0 6-36 0-12-6 0-5zM499 916l24 0 12 5 0 6-36 0-12-6 0-5zM718 916l12 5 0 6-12 0-12-6 0-5zM133 925l24 0 16 7 0 7-4 4 0 5-12 0-40-16 0-7zM377 927l12 5 0 6-12 0-12-6 0-5zM450 927l24 0 12 5 0 11 24 11 0 5-24 0 0 6 24 11 0 5-11 0-37-16 0-11-12-6-25 0-11-5 0-5 24 0 0-11zM669 925l13 2 12 0 24 11 8-2 41 0 16 7 8 6 24 0 12 5 0 5-60 0-9 2-4 4 0 16-49 0 0 6 37 16 57-2 5-3 0-6 11 0 12 6 0 5 4 6 0 7-24 0-4 3 12 4 16 7 0 7-4 4 0 6-48 0 4 5 8 4 24 0 16 7 0 7-4 4 0 16 4 6 0 7-4 4 0 5 4 5 0 8-4 3 0 6-36 0-12-6 0-5-4-6 0-10-8-4-5 2-20 0-8-2 0 22-53-2 0 5 24 11 13 4 8 0-4-4 0-9 45 2 16 7 0 7-16 0-9 4 9 6 24 0 36 16 0 27-24 0 0 11-12 0-12-5 0-11-24-11-13-4-8 4 0 7-16 0-13-2-36 0-24-11-13 0 0 22-36 0-24-11-98 0-8 2-4 4 0 5-12 0-25-9-12-2-24 0 0 11-12 0-49-22-8 2-5 4 25 11 0 5-12 0-36-16-21-4 0 11-114 0-12-2-12 0-12-5 0-27 12 0 8-2 4-4 0-16-4-6 0-18-8-7-16-7 0-7 16 0 12 1-4-5 0-7-4-4 0-9 4-2 0-7 4-4-24-11 0-27 12 0 8-2 25 0 4-3-13-6-24 0-12-5 0-27-4-6 0-7 4-4 0-5 12 0 24 9 13 2 24 0 0-22 36-2 16 7 0 7-16 0-12-2 0 39 12 4 25 0 36 18 0 5-73 0 0 11-12 0-8 2 0 3 8 6 24 0 12 5 0 6-24 0 0 10 4 6 17 4 16 0 12 2 0-11 25 0 0-11 12 0 8-2 0-4-8-5-12-6 0-5 12 0 24 9 33 0 4-4-13-3-24 0-16-8 0-7 24 0-4-3 0-9 4-2-8-6-8 2-41 0-40-18 0-7 4-4 0-5 36 0 12 5 0 5 4 6 9 4 12 1 0-21 36 0 12 5 0 5-24 0 0 17 12 4 13 1 36 0 12 6 0 5-24 0 4 6 8 5 8-2 16 0 13 2-4-5 0-8 4-3 0-6-4-5-9-6-11-5 0-11-13-6-8 2-16 0-16-7 0-7 40 2 36 16 0 11 13 4 24 0 16 7 0 7-24 0-4 4 12 5 25 0 8-2 0-10 16 0 40 18 9 5 12 0 0-11 25 0-5-5-8-4-24 0-16-7 0-7 40 0 40 18 0 7-4 4 13 5 12 0 0-11 12 0 12 6 0 16-24 0 4 5 8 6 12 5 13 4 4-2 20 0 8 2 0-4-8-5-12-6 0-16 12 0 49 22 12 0-4-6-8-5-73-33-25 0-8 2-16 0-16-7 0-18 40 0 13 2-4-6 0-7 52 2-4-6-8-6-24-10-9 1-16 0-16-7 0-7zM572 949l24 0 12 5 0 5-36 0-12-5 0-5zM547 960l12 5 0 5-12 0-12-5 0-5zM149 972l-4 4 0 11 12 5 37 0 0-16-12-6-9 2zM815 971l12 5 0 5-12 0-11-5 0-5zM372 1017l-4 2 9 6 12 0 0-6-12-3zM466 1016l-4 3 0 6 4 5 0 18 8 10 13 0 0-11-4-6 0-7-3-4 0-8 3-3-9-5zM510 1014l5 5 0 8 2 3 6 4 16 7 8 6 9-2 4-4-25-11 0-5 25 0 0-6-13-3-24 0zM255 1025l12 5 0 6-12 0-12-6 0-5zM584 1025l0 5 12 6 8-2 5-4-13-5zM145 1036l0 5 12 6 37 0 0-6-12-4-25 0zM368 1048l9 8 8 0-8-8zM584 1047l4 5 8 4 13 2 24 0 0-6-13-4-12-1zM421 1061l-4 2 0 18-4 4 0 5-36 0-9 2 4 4 0 9-8 2 0 5-12 0-8 2 0 3 8 6 9-2 24 0 4-4 0-5 25 0 0-11 11 0 5-3 8-2 0-33-13-6zM510 1057l0 6 13 6 8-2 0-4-8-4zM592 1072l-4 2 8 4 5-2 19 0 9 2 0-4-9-6-8 2-16 0zM462 1079l0 17 12 3 25 0 24 11 8 0 0-11 4-3-12-4-13-2-11 0-25-11zM687 1082l-6 3 13 5 8-1 4-4zM730 1079l0 6 21 4 4-4zM787 1083l-8 2 12 5 8-1 5-4-13-6zM271 1092l-4 4 12 2 20 9 5 5 8-2 0-14-8-6-25 0zM559 1090l0 6 13 3 8 0-8-9zM640 1094l-4 2 9 5 24 11 13 0 0-16-13-6-8 2-16 0zM470 1115l-4 2 0 8-53-2 4 5 0 8-4 3 12 6 13 0 0-11 36 0 49 22 8-2 4-4-12-4-16-7 0-7 4-4-12-2-25-12zM173 1125l0 3 9 6 8-2 0-4-8-3zM299 1126l-8 2 13 6 36 0 0-6-12-3-13-2-11 0zM535 1134l4 5 8 6 9-2 4-4-13-3zM636 1136l0 3 9 6 24 11 13 0 0-6-25-11-12-3zM315 1145l0 16 13 6 8-2 16 0 13 2 0-6-25-11-12-5zM198 1157l-4 4 12 2 13-2-13-6zM612 1157l0 4 8 6 25 0 8-2 4-4-12-6-25 0zM705 1155l0 6 21 4 25 0 4-4-13-4-24 0zM206 1199l24 0 12 6 0 5-36 0-12-5 0-6z" fill="#4793f0" fill-rule="evenodd"/>
<path transform="scale(.25)" d="M767 852l8 4 0 4-8 0-8-4 0-4zM425 863l49 0 8 4 0 4-57 0-8-4 0-4zM718 863l24 0 8 4 0 4-32 0-8-4 0-4zM815 874l9 4 0 14-9 0-8-3 0-15zM133 885l57 26 0 3-8 0-57-25 0-4zM401 885l24 0 9 4 0 3-33 0-8-3 0-4zM596 896l24 11 25 0 8 4 0 3-24 0 0 11-25 0 0 7 25 11 16 3 18 8 0 8-18 0-19-8-6-7-32-15 0-14 24 0 0-7-24-11 0-4zM767 896l24 0 8 4 0 3-32 0-8-3 0-4zM401 907l24 0 9 4 0 3-33 0-8-3 0-4zM547 907l8 4 0 3-8 0-8-3 0-4zM230 918l33 14 0 4-8 0-33-15 0-3zM304 918l24 0 8 3 0 4-32 0-9-4 0-3zM499 918l24 0 8 3 0 4-32 0-9-4 0-3zM718 918l8 3 0 4-8 0-8-4 0-3zM133 926l24 0 14 6 0 6-6 5 0 4-8 0-37-15 0-6zM377 929l8 3 0 4-8 0-8-4 0-3zM450 929l24 0 8 3 0 11 25 11 0 4-25 0 0 7 25 11 0 3-8 0-33-14 0-11-16-7-25 0-8-4 0-3 25 0 0-11zM669 926l25 3 24 11 11-3 38 0 13 6 11 7 24 0 9 4 0 4-57 0-11 2-6 5 0 14-48 0 0 8 40 18 25 0 11-2 24 0 5-5 0-4 8 0 9 4 0 3 5 8 0 6-25 0-5 4 16 5 14 6 0 6-5 5 0 4-49 0 5 7 11 5 24 0 14 6 0 6-5 5 0 14 5 8 0 6-5 5 0 3 5 7 0 6-5 5 0 4-33 0-8-4 0-3-5-8 0-10-11-5-6 2-19 0-11-2 0 21-13 0-16-2-25 0 0 7 25 11 16 5 11 0-5-5 0-8 18 0 11 2 14 0 13 6 0 6-13 0-11 5 11 7 24 0 33 15 0 25-25 0 0 11-8 0-8-3 0-11-24-11-17-5-11 5 0 6-13 0-16-3-33 0-24-10-16 0 0 21-33 0-24-11-98 0-11 3-5 5 0 3-8 0-25-8-16-3-24 0 0 11-8 0-49-21-11 2-5 5 24 11 0 3-8 0-33-14-27-5 0 11-111 0-24-3-8-3 0-26 8 0 11-2 5-5 0-14-5-8 0-17-11-9-13-6 0-6 13 0 16 2-5-7 0-6-5-5 0-8 5-3 0-6 5-5-24-11 0-25 8 0 11-3 24 0 6-4-17-8-24 0-8-3 0-26-5-7 0-6 5-5 0-4 8 0 24 9 17 2 24 0 0-21 8 0 11-3 13 0 14 6 0 6-14 0-16-2 0 40 16 5 25 0 32 17 0 3-73 0 0 11-8 0-11 2 0 5 11 8 24 0 9 3 0 4-25 0 0 11 6 7 21 5 14 0 16 2 0-11 24 0 0-11 9 0 11-2 0-5-11-7-9-4 0-3 9 0 24 8 35 0 6-5-17-5-24 0-13-6 0-6 24 0-5-4 0-9 5-2-11-8-11 3-38 0-38-17 0-6 6-5 0-4 32 0 8 4 0 4 6 7 11 5 16 2 0-22 32 0 8 4 0 4-24 0 0 18 16 5 17 2 32 0 8 4 0 3-24 0 5 8 11 7 11-3 13 0 17 3-6-7 0-6 6-5 0-4-6-7-11-8-8-3 0-11-16-7-11 2-13 0-14-6 0-6 38 2 33 15 0 11 16 5 24 0 14 6 0 6-25 0-5 5 16 7 25 0 10-2 0-11 14 0 38 17 11 7 16 0 0-11 24 0-5-7-11-5-24 0-14-6 0-6 38 0 38 17 0 6-5 5 16 7 16 0 0-11 8 0 8 4 0 14-24 0 5 7 11 8 8 3 17 5 5-2 19 0 11 2 0-5-11-7-8-4 0-14 8 0 49 22 16 0-5-8-11-7-73-33-25 0-11 3-13 0-14-6 0-17 38 0 16 2-5-7 0-6 14 0 16 2 24 0-5-7-11-7-24-11-11 2-14 0-13-6 0-6zM572 950l24 0 8 4 0 4-32 0-8-4 0-4zM547 961l8 4 0 4-8 0-8-4 0-4zM146 971l-5 5 0 11 16 7 41 0 0-18-16-7-11 2zM815 972l9 4 0 3-9 0-8-3 0-4zM371 1017l-5 2 11 8 16 0 0-8-16-4zM463 1015l-5 4 0 4 5 7 0 17 11 12 16 0 0-11-5-7 0-6-3-5 0-7 3-4-11-7zM507 1012l5 7 0 6 3 5 21 11 11 7 11-2 6-5-25-11 0-3 25 0 0-8-17-4-24 0zM255 1027l8 3 0 4-8 0-8-4 0-3zM580 1023l0 7 16 8 11-3 5-5-16-7zM141 1034l0 7 16 7 41 0 0-7-16-5-25 0zM366 1047l11 10 11 0-11-10zM580 1045l5 7 11 5 16 2 25 0 0-7-17-5-16-2zM420 1060l-5 3 0 17-6 5 0 3-32 0-11 3 5 5 0 8-11 3 0 3-8 0-11 3 0 4 11 8 11-3 25 0 5-5 0-3 24 0 0-11 8 0 6-5 11-2 0-33-17-7zM507 1056l0 7 16 7 11-2 0-5-11-5zM590 1071l-5 3 11 5 6-2 18 0 11 2 0-5-11-7-10 2-14 0zM458 1078l0 18 16 5 25 0 24 10 11 0 0-10 5-5-16-5-24-3-25-10zM686 1081l-9 4 17 7 10-2 6-5zM726 1078l0 7 27 5 6-5-17-3zM785 1082l-10 3 16 7 11-2 5-5-16-7zM268 1091l-5 5 16 2 19 9 6 7 11-3 0-15-11-8-25 0zM555 1088l0 8 17 5 11 0-11-13zM639 1093l-5 3 11 7 24 11 16 0 0-18-16-8-11 3-13 0zM468 1115l-5 2 0 6-13 0-16-2-25 0 6 7 0 6-6 5 16 8 17 0 0-11 32 0 49 21 11-2 5-5-16-5-14-6 0-6 6-5-16-3-25-12zM171 1123l0 5 11 8 11-3 0-5-11-5zM298 1126l-11 2 17 8 40 0 0-8-16-5-24-2zM531 1132l5 7 11 8 11-3 6-5-17-5zM634 1134l0 5 11 8 24 10 16 0 0-7-24-11-16-5zM312 1143l0 18 16 7 11-2 13 0 17 2 0-7-41-18zM195 1156l-5 5 16 3 6 0 10-3-16-7zM610 1156l0 5 10 7 25 0 11-2 5-5-16-7-25 0zM702 1154l0 7 27 5 24 0 6-5-17-5-24 0zM206 1201l24 0 9 4 0 3-33 0-8-3 0-4z" fill="#5bc7f7" fill-rule="evenodd"/>
<path transform="scale(.25)" d="M767 854l4 2 0 2-4 0-5-2 0-2zM425 865l49 0 5 2 0 2-54 0-4-2 0-2zM718 865l24 0 5 2 0 2-29 0-4-2 0-2zM815 876l5 2 0 13-5 0-4-2 0-13zM133 887l53 23 0 2-4 0-53-23 0-2zM401 887l24 0 5 2 0 2-29 0-4-2 0-2zM596 898l24 11 25 0 4 1 0 2-24 0 0 11-25 0 0 9 25 11 20 3 17 8 0 8-17 0-17-8-8-9-28-13 0-13 24 0 0-9-24-10 0-2zM767 898l24 0 4 2 0 2-28 0-5-2 0-2zM401 909l24 0 5 1 0 2-29 0-4-2 0-1zM547 909l5 1 0 2-5 0-4-2 0-1zM230 919l29 13 0 2-4 0-29-13 0-2zM304 919l24 0 4 2 0 2-28 0-5-2 0-2zM499 919l24 0 4 2 0 2-28 0-5-2 0-2zM718 919l4 2 0 2-4 0-4-2 0-2zM133 927l24 0 11 5 0 5-6 6 0 2-5 0-35-13 0-5zM377 930l4 2 0 2-4 0-5-2 0-2zM450 930l24 0 5 2 0 11 24 11 0 2-24 0 0 9 24 11 0 2-4 0-29-13 0-11-20-9-25 0-4-2 0-2 24 0 0-11zM669 927l25 3 24 11 13-3 36 0 11 5 13 9 24 0 5 2 0 2-53 0-14 3-6 6 0 13-49 0 0 9 44 20 25 0 13-3 24 0 7-6 0-2 4 0 5 2 0 2 6 9 0 4-24 0-7 6 20 6 11 5 0 5-6 6 0 2-49 0 7 9 13 6 24 0 11 5 0 5-6 6 0 13 6 9 0 5-6 6 0 2 6 8 0 5-6 6 0 2-29 0-4-2 0-2-7-9 0-10-13-6-8 2-17 0-13-2 0 21-11 0-20-3-24 0 0 9 24 11 20 6 13 0-6-6 0-7 17 0 14 2 11 0 11 5 0 5-11 0-14 6 14 9 24 0 29 13 0 24-25 0 0 11-4 0-4-2 0-11-25-11-20-6-13 6 0 5-11 0-20-3-29 0-24-11-20 0 0 22-29 0-24-11-98 0-13 3-7 6 0 2-4 0-25-8-20-3-24 0 0 11-4 0-49-22-13 3-7 6 24 11 0 2-4 0-29-13-33-6 0 11-109 0-24-3-4-2 0-24 17-3 7-6 0-13-7-9 0-15-13-12-11-5 0-5 11 0 20 3-7-9 0-5-6-6 0-8 6-3 0-5 7-6-24-11 0-24 17-2 25 0 6-6-20-9-24 0-4-2 0-24-7-9 0-5 7-6 0-2 4 0 24 8 20 3 25 0 0-22 18-3 10 0 11 5 0 5-11 0-20-3 0 42 20 6 25 0 11 5 18 11 0 1-74 0 0 11-17 3 0 6 13 9 24 0 5 2 0 2-25 0 0 11 7 9 27 6 11 0 20 3 0-11 24 0 0-11 18-3 0-6-18-11 0-2 5 0 24 8 38 0 6-6-20-6-24 0-11-5 0-4 24 0-6-6 0-8 6-3-13-9-13 3-36 0-35-16 0-5 6-6 0-2 29 0 5 2 0 2 6 9 14 6 20 3 0-22 28 0 5 2 0 2-25 0 0 20 20 6 20 3 29 0 4 2 0 2-24 0 7 9 13 8 14-2 10 0 20 2-6-8 0-5 6-6 0-2-6-9-18-11 0-11-20-9-13 3-11 0-11-5 0-5 11 0 24 3 29 13 0 11 20 6 24 0 11 5 0 5-24 0-7 6 20 9 25 0 13-3 0-11 11 0 35 16 14 8 20 0 0-10 24 0-6-9-14-6-24 0-11-5 0-5 35 0 35 16 0 5-6 6 20 8 20 0 0-10 4 0 5 2 0 12-25 0 7 9 18 11 20 6 7-3 17 0 13 3 0-6-17-11 0-13 4 0 49 22 20 0-7-9-13-9-73-32-25 0-13 3-11 0-11-5 0-16 35 0 20 3-6-9 0-5 11 0 20 3 24 0-7-9-13-9-24-11-14 3-11 0-11-5 0-5zM572 952l24 0 4 2 0 2-28 0-5-2 0-2zM547 963l5 2 0 2-5 0-4-2 0-2zM144 970l-7 6 0 11 20 9 45 0 0-20-20-9-14 3zM815 974l5 2 0 2-5 0-4-2 0-2zM369 1016l-6 3 14 9 20 0 0-9-20-6zM461 1013l-7 6 0 2 7 9 0 16 13 15 20 0 0-11-6-9 0-5-4-6 0-6 4-5-14-9zM503 1010l6 9 0 5 4 6 21 11 13 9 14-3 6-6-24-11 0-2 24 0 0-9-20-6-24 0zM255 1028l4 2 0 2-4 0-5-2 0-2zM576 1021l0 9 20 9 14-3 6-6-20-9zM137 1032l0 9 20 9 45 0 0-9-20-6-25 0zM363 1046l14 12 13 0-13-12zM576 1043l7 9 13 6 20 3 24 0 0-9-20-6-20-3zM418 1060l-6 3 0 16-7 6 0 2-28 0-14 3 6 6 0 7-12 4 0 2-18 2 0 6 13 9 14-3 24 0 7-6 0-1 24 0 0-11 4 0 8-6 12-3 0-33-20-9zM503 1054l0 9 20 9 13-3 0-6-13-6zM589 1071l-6 3 13 6 7-3 17 0 14 3 0-6-14-9-13 3-11 0zM454 1076l0 20 20 6 25 0 24 11 13 0 0-11 7-6-20-6-24-3-25-11zM684 1080l-10 5 20 9 13-3 7-6zM722 1076l0 9 34 6 6-6-20-3zM784 1082l-13 3 20 9 13-3 7-6-20-9zM266 1090l-7 6 20 3 17 8 8 9 13-3 0-17-13-9-25 0zM552 1087l0 9 20 6 13 0-13-15zM638 1092l-7 4 14 9 24 11 20 0 0-20-20-9-13 3-11 0zM467 1114l-6 3 0 5-11 0-20-3-25 0 7 9 0 5-7 6 20 9 20 0 0-11 29 0 49 22 13-3 7-6-20-6-11-5 0-5 7-6-20-4-15-7-10-6zM168 1122l0 6 14 9 13-3 0-6-13-6zM296 1125l-12 3 20 9 44 0 0-9-20-6-24-3zM527 1130l7 9 13 9 14-3 6-6-20-6zM631 1133l0 6 14 9 24 11 20 0 0-9-24-11-20-6zM308 1141l0 20 20 9 13-3 11 0 20 3 0-9-44-20zM193 1155l-7 6 20 3 7 0 13-3-20-9zM607 1155l0 6 13 9 25 0 13-3 7-6-20-9-25 0zM698 1152l0 9 33 6 25 0 6-6-20-6-24 0zM206 1203l24 0 5 2 0 2-29 0-4-2 0-2z" fill="#70feff" fill-rule="evenodd"/>
<path transform="scale(.25)" d="M767 855l1 2-3-1zM425 866l49 0 1 1-50 0-1 0zM718 866l24 0 2 1-26 0-1 0zM815 877l2 1 0 11-3 0 0-12zM133 888l50 23-51-22zM401 888l24 0 2 1-26 0-1 0zM596 899l24 11 26 0-24 1 0 11-25 0 0 10 25 11 23 4 16 7 0 7-16 0-16-7-9-10-25-12 0-11 24 0 0-11-24-10zM767 899l24 0 1 1-25 0-2 0zM401 910l24 0 2 1-26 0-1-1zM547 910l2 1-3-1zM230 921l26 12-27-12zM304 921l24 0 1 1-25 0-2-1zM499 921l24 0 1 1-25 0-2-1zM718 921l1 1-2-1zM133 928l24 0 9 4 0 4-9 8-33-12 0-4zM377 932l1 1-3-1zM450 932l24 0 1 0 0 11 25 11-25 1 0 10 25 11-27-11 0-11-23-10-26-1 25 0 0-11zM669 928l25 4 24 11 15-4 34 0 8 4 16 11 26 0-50 1-16 3-7 7 0 11-49 0 0 11 47 21 25 0 15-3 25 0 7-8 3 1 7 11 0 3-24 0-8 7 23 7 9 4 0 4-7 8-49 0 7 10 16 7 24 0 9 4 0 4-7 7 0 11 7 11 0 4-7 7 7 10 0 4-7 8-26 0-9-12 0-10-15-7-9 3-16 0-15-3 0 21-9 0-23-3-25 0 0 10 25 11 23 7 15 0-7-7 0-7 16 0 16 3 9 0 8 4 0 4-8 0-16 7 16 10 24 0 26 12 0 22-25 0 0 11-1 0-1 0 0-11-25-11-23-7-15 7 0 4-9 0-23-4-26 0-24-11-23 0 0 22-26 0-24-11-98 0-15 4-8 7-26-7-23-4-24 0 0 11-1 0-49-22-16 4-7 7 24 11-27-11-38-7 0 11-107 0-25-4 0-23 17-3 7-7 0-11-7-11 0-14-16-14-9-4 0-4 9 0 23 3-7-10 0-4-8-7 0-7 8-4 0-4 7-7-24-11 0-22 17-4 24 0 7-6-23-11-25 0 0-23-8-10 0-4 8-7 25 7 23 3 25 0 0-21 17-4 8 0 9 4 0 4-9 0-23-3 0 43 23 7 25 0 9 4 16 11-73 0 0 11-16 3 0 7 15 11 26 0-25 1 0 11 8 10 31 7 9 0 23 3 0-11 24 0 0-10 17-4 0-7-17-11 26 7 40 0 7-7-23-7-24 0-9-4 0-4 25 0-8-6 0-8 8-3-16-11-16 4-33 0-33-15 0-4 8-8 25 0 9 12 16 7 23 3 0-22 25 0 2 2-25 0 0 21 23 7 23 3 26 0 1 1-24 0 8 11 15 10 16-4 8 0 24 4-8-10 0-4 8-8-8-10-17-11 0-11-23-10-15 3-9 0-9-4 0-4 9 0 24 4 26 11 0 11 23 7 24 0 9 4 0 4-24 0-8 7 23 10 25 0 15-3 0-11 9 0 33 15 16 10 23 0 0-11 24 0-7-10-16-7-24 0-9-4 0-4 33 0 33 15 0 4-7 7 23 10 23 0 0-11 2 1 0 11-24 0 8 10 15 11 25 7 8-3 16 0 15 3 0-7-16-11 0-11 50 22 23 0-8-11-15-10-73-33-25 0-15 4-9 0-9-4 0-15 33 0 23 3-7-10 0-4 9 0 23 3 24 0-8-10-15-10-24-11-16 3-9 0-9-4 0-4zM572 954l24 0 1 1-25 0-2-1zM547 964l2 2-3-1zM142 969l-8 7 0 11 23 10 48 0 0-21-23-10-16 3zM815 975l2 1-3 0zM368 1016l-7 3 16 11 23 0 0-11-23-7zM459 1012l-8 7 8 11 0 15 15 17 23 0 0-10-7-11 0-4-5-7 0-6 5-5-16-10zM500 1009l7 10 0 4 5 7 20 11 15 11 16-4 7-7-24-11 24 0 0-11-23-7-24 0zM255 1030l1 1-2-1zM573 1020l0 10 23 11 16-4 7-7-23-10zM134 1031l0 10 23 11 48 0 0-11-23-7-25 0zM361 1045l16 14 15 0-15-14zM573 1042l8 10 15 7 23 3 25 0 0-10-24-7-23-3zM417 1059l-7 4 0 15-8 7-25 0-16 4 7 7 0 7-31 8 0 6 15 11 16-4 24 0 8-7 24 0 0-11 10-7 15-3 0-33-24-10zM500 1053l0 10 23 10 15-3 0-7-15-7zM588 1070l-7 4 15 7 8-3 16 0 16 3 0-7-16-10-15 3-9 0zM451 1074l0 22 23 7 25 0 24 11 15 0 0-11 8-7-23-7-24-4-25-11zM682 1080l-12 5 24 10 15-3 8-7zM719 1074l0 11 39 7 7-7-23-4zM783 1081l-15 4 23 10 16-3 7-7-23-11zM264 1089l-8 7 23 3 16 8 9 10 15-3 0-18-15-11-25 0zM549 1085l0 11 23 7 15 0-15-18zM636 1092l-7 4 16 10 24 11 23 0 0-21-23-11-15 4-9 0zM466 1114l-7 3 0 4-9 0-23-3-25 0 8 10 0 4-8 7 23 11 24 0 0-11 25 0 49 21 15-3 8-7-23-7-9-4 0-4 8-7-23-5-14-6-11-6zM166 1121l0 7 16 11 15-4 0-7-15-7zM295 1125l-15 3 24 11 47 0 0-11-23-7-24-3zM524 1129l8 10 15 11 16-4 7-7-23-7zM629 1132l0 7 17 11 23 10 23 0 0-10-23-10-24-8zM305 1140l0 21 23 10 16-3 8 0 23 3 0-10-47-21zM191 1154l-8 7 23 4 8 0 15-4-23-10zM605 1154l0 7 15 10 25 0 15-3 8-7-23-10-25 0zM695 1151l0 10 38 7 25 0 7-7-23-7-24 0zM206 1204l24 0 2 1-26 0-1 0z" fill="#80f8e2" fill-rule="evenodd"/>
<path transform="scale(.25)" d="M133 929l24 0 7 3 0 3-7 6-3 0-28-9 0-3zM669 929l21 3-14 3-7 0-7-3 0-3zM230 940l7 3 0 3-27-3 14-3zM742 940l25 0 20 12-24 0 0 2-14 3-7 6-6-9-14-9 0-2 14-3zM377 951l20 3-14 3-6 0-7-3 0-3zM645 947l15 7 0 7-15 0-15-7-9-10zM133 956l4 0 20 6 21 3-14 3-24 0-7 6-7-9 0-3zM694 962l20 3 0 9-20 0-7-9 0-3zM255 967l24 0 7 9 18 8 20 3-14 3-31 0-31-14 0-3zM645 973l24 0 21 3 0 9-25 0 0 2-13 3-7 0-7-3 0-14zM450 984l24 0 7 3 0 3-24 0-7 6-7-9-14-9zM572 984l24 0 31 14 0 3-7 6-6-9-18-8-24 0-7-3 0-3zM230 995l25 0 20 12-45 0-20-9 0-10zM352 995l21 3 4 1 6 10 14 9-20-6-10 3-8 4 14 10-21-7-24 0-7-3 0-3 25 0-9-7 0-7 9-4-14-10zM523 995l31 14 14 9-21-6-24 0-21-3 14-3 0-11zM450 999l20 10-13 3-7 6-7-9 0-3zM791 1006l18 0 6-7 7 10 0 3-24 0-7 6-20-9 13-3zM157 1016l18 0 7-6 20 9-14 3 0 8 14 10-20-7-25 0-20-3 0-11 14-3zM425 1016l21 3 4 2 7 9 0 14 16 19-23 0-48-22 0-21 17-4zM499 1010l6 9 0 3 5 8 20 11 17 13 1-1 17-4 7-6 6 9 18 8 21 3-14 3-7 0-18 8 18 8 10-4 14 0 18 4 0-8-14-9 21 0 4-2 0-11-4-2-4 0-21-6-20-3 14-3 6-6 4 0 0-11 21 0 7 9 13 10 0 1 29 8 9-4 15 0 18 4 0-8-14-9 20 0 25 11 6 9 18 8 24 0 7 3 0 3-7 6-24 0-9 9-15 3-25-3-26-8 1 11-36-5-12 5-4-1 0 2-13 3-7 0-18 8 14 9 0 12 24 11 0 10-20-7-18 0 0 8 14 9-21 0-1 2-16 3 0 8 14 9 0 22-21 0-20-9-8-2-21 0-20-9 0-11 14-3 7-7 17-4 7-6 4 0-4-3-4 0-21-7-48-8-12-6-13-7-17 7 0 3-28-3 0-9-2-1 8-7 15-4 24 8 25 0 24 10 18 0 0-10 6-7 4 0 21 7 17 0-16-19 3 0-4-2-25 0-20-9 14-3 0-8-18-8-21-3-3-2-7-9 0-3-5-8 0-5 5-6-14-9zM791 1021l4 0 20 6 7 3 0 3-7 7-24 0-7-10-13-9zM328 1038l42 0 7-6 47 20-8 7-8 4 0 14-7 6-24 0-21-9-8-2-20 0-21-9 0-11 14-3 0-8-14-9zM359 1044l18 16 17 0-17-16zM157 1054l1-1 48 1 7 9 35 8 27 3 0 11-13 3-8 7-3 1 28 4 15 7 9 10-9 7-19 4 25 11 0 9-21 0-4 2 49 22-14 3-7 7-41-7 0 11-105 0-20-3 0-9-3-2 0-10 17-4 6-6 25 11 1-1 23 3 10 0 14-3 4 1 0-2-48-22 13-3 0-8-17-8-18 0 0 8 14 10-21 0-6-10 0-14-18-15-7-3 0-3 35 3-4-2-6-9 0-3-9-8 0-7 9-4 0-3zM304 1064l22 10 0 10-22 0-23-10 0-10zM352 1076l21 9-14 3 8 8 0 6-15 4-4-1 0 2-13 3 0 7 13 10-20-7-21-3 14-3 0-18-14-9 21 0 4-2 0-9zM523 1076l20 9 0 9-20-6-21-3 0-9zM718 1087l1-2 41 8 7-6 48 21 7 9 0 3-7 7-24 0-7-10 0-10-17-8-10 3-15 0-17-3 0 21-28-3 0-21 14-3zM815 1087l7 9 0 3-7 6-20-9 14-3zM377 1125l17 0 7-6 7 9 0 3-7 7-24 0-21-10 14-3zM523 1130l7 9 13 9-27-9 0-3zM742 1133l18 3 7 0 6 3 0 3-6 0-18 8 14 9-21-6-24 0-21-3 0-9 21 6 18 0-9-8 0-6zM182 1141l20 9-14 3-6 6-21-9 0-9zM401 1152l21 9 3 1 74 1 20 9 0 9-45 0-1 1-16 4-7 6-4 0-21-6-20-3-24-11 0-20zM352 1169l21 3 0 9-21 0-20-9 14-3zM669 1163l21 9 0 9-21 0-20-9 13-3zM718 1165l18 4 24 0 7-6 20 9 0 9-24 0-21-6-17 8 0 3-28-3 0-9-2-2 0-10z" fill="#67f18b" fill-rule="evenodd"/>
<path transform="scale(.25)" d="M133 931l24 0 4 1 0 2-4 3-12 0-16-5 0-1zM669 931l12 1-12 2-4-2 0-1zM230 941l4 2 0 2-15-2zM742 941l25 0 11 7-24 0 0 6-8 2-4 3-3-5-8-5 0-6zM377 952l11 2-11 2-4-2 0-2zM645 948l13 6 0 6-13 0-14-6-7-9zM133 960l13 0 23 5-8 2-24 0-4 3-4-5 0-2zM694 963l11 2 0 5-11 0-4-5 0-2zM255 971l24 0 4 5 21 9 11 2-8 1-28 0-28-12 0-2zM645 974l24 0 12 2 0 5-25 0 0 6-11 1-4-1 0-13zM450 985l24 0 4 2 0 1-24 0-4 4-4-5-8-5zM572 985l24 0 28 13 0 1-4 4-3-5-21-10-24 0-4-1 0-2zM230 996l25 0 11 7-36 0-11-5 0-6zM352 996l12 2 13 5 3 6 8 5-11-4-11 4-10 5 8 6-12-4-24 0-4-2 0-1 25 0-10-9 0-6 10-5-8-6zM523 996l28 13 8 5-12-4-24 0-12-1 8-2 0-11zM450 1003l11 6-7 1-4 4-4-5 0-2zM791 1007l21 0 3-4 4 7-24 0-4 4-12-5zM157 1018l21 0 4-4 11 5-7 2 0 9 7 5-11-3-25 0-11-2 0-11zM425 1018l12 1 13 6 4 5 0 13 17 18-21 0-45-20 0-20zM499 1014l9 16 26 16 0 6 13 6 4-4 17-4 4-3 3 5 21 9 12 2-12 2-21 9 21 9 11-4 13 0 21 4 0-9-8-5 12 0 13-6 0-11-13-6-13 0-23-5 8-1 3-4 13 0 0-11 12 0 4 5 7 5 0 6 13 6 13 0 12 3 11-4 13 0 21 4 0-9-8-5 11 0 25 11 3 5 21 9 24 0 4 2 0 2-4 3-24 0-3 6-8 6-13 3-25-3-30-9 2 3 0 9-35-5-10 4-13-3 0 6-11 1-21 10 8 5 0 16 24 11 0 6-11-4-21 0 0 9 8 5-12 0-3 5-17 3 0 9 8 5 0 22-12 0-11-5-13-2-13-4-12 0-11-5 0-11 8-2 7-7 17-4 4-3 13 0-10-6-3-5-13 0-23-6-13-5-6 3-18-4-25-14-20 9 0 2-16-2 0-5-9-5 8-6 13-4 24 8 25 0 24 11 21 0 0-11 3-4 13 0 12 4 20 0-17-19 10-1-13-6-25 0-11-5 8-2 0-9-21-9-12-2-12-6-10-16 0-4 6-7-8-5zM791 1025l13 0 15 5 0 2-4 3-24 0-4-5-8-5zM328 1040l45 0 4-4 11 5 13 2 21 9-8 6-9 5 0 13-4 3-24 0-12-5-13-2-12-4-12 0-12-5 0-11 8-2 0-9-8-5zM356 1043l21 18 20 0-20-18zM157 1058l4-4 21 0 13 4 11 0 4 5 20 5 36 6 0 11-7 1-8 8-9 2 37 5 14 6 7 9 0 1-7 6-27 5 25 11 0 5-12 0-3 5-10 1 49 22-8 2-7 7-41-7 0 11-102 0-11-2 0-5-9-6 0-9 17-4 3-3 25 11 3-4 21 3 11 0 13-3 13 4 0-6-48-22 7-1 0-10-20-9-21 0 0 9 8 6-12 0-3-6 0-12-21-19-4-1 0-2 28 3 13-1-13-6-3-7-10-9 0-6 10-5 0-2zM304 1066l18 8 0 8-18 0-19-8 0-8zM352 1080l12 5-8 1 10 10 0 6-14 3-12-4 0 6-8 1 0 9 8 6-24-6 8-1 0-20-8-5 12 0 3-5 10-1 0-5zM523 1080l11 5 0 5-23-5 0-5zM718 1091l3-5 42 8 4-3 48 21 4 7-4 4-24 0-4-6 0-10-20-10-11 5-14 0-20-5 0 22-16-2 0-21 8-2zM815 1091l4 5 0 1-4 4-11-5 8-2zM377 1127l20 0 4-4 4 7-4 4-24 0-12-6zM523 1134l4 5 7 5-15-5 0-1zM742 1133l28 6 0 2-3 0-21 9 8 5-12-3-24 0-12-2 0-5 12 3 21 0-10-9 0-6zM182 1145l11 5-7 2-4 3-12-5 0-5zM401 1156l12 5 12 2 25 0 13 4 36 0 11 5 0 5-36 0-3 4-17 4-4 3-13 0-23-5-24-11 0-16zM352 1170l12 2 0 5-12 0-11-5zM669 1167l12 5 0 5-12 0-11-5 7-2zM718 1166l21 4 24 0 4-3 11 5 0 5-24 0-12-3-20 9 0 2-16-2 0-5-9-6 0-9z" fill="#52f03b" fill-rule="evenodd"/>
<path transform="scale(.25)" d="M133 932l24 0 2 1-2 1-20 0-5-2zM669 932l4 0-4 1-1-1zM230 943l2 1-5-1zM742 943l25 0 4 2-25 0 0 9-4 2-4-4 0-9zM377 954l4 0-4 1-2-1zM645 949l12 5 0 5-12 0-12-5-7-8zM133 963l21 0 7 2-27 1-1 1-1-2zM694 964l3 1 0 2-3 0-2-3zM255 974l24 0 1 2 24 10 3 1-28 0-25-11zM645 975l24 0 4 1 0 2-24 0 0 9-4 0-1 0 0-12zM450 986l24 0 1 1-24 0-1 1-4-3zM572 986l24 0 26 12-2 1-1-1-23-11-24 0-2 0zM230 997l25 0 4 2-29 0-3-1 0-2zM352 997l4 1 21 9 4 3-4-1-13 5-10 5 2 2-4-1-25-1 24 0-11-10 0-6 11-5-3-2zM523 997l28 13-4-1-28 0 3-1 0-11zM450 1007l4 2-4 1-1-2zM791 1008l23 0 1-1 2 2-25 0-1 1-4-1zM157 1019l23 0 2-1 4 1-3 1 0 10 3 2-4-1-28-1 0-11zM425 1019l4 0 21 10 1 1 0 12 18 18-19 0-43-19 0-19zM499 1018l7 12 21 13 0 9 20 9 6-6 19-5 1 2 23 10 4 1-16 5-11 6 23 10 12-5 12 0 24 5 0-10-3-2 4 0 20-9 0-11-20-9-21 0-7-2 3-1 21 0 0-11 4 0 4 3 0 9 20 9 21 0 4 2 12-5 12 0 23 5 0-11-3-1 4 0 49 22 24 0 2 2-2 1-24 0-6 6 0 3-6 5-12 3-25-3-24-8-10-1 4 4 0 8-35-5-8 4-20-5 0 9-17 5-10 6 2 1 0 20 25 11 0 2-4-1-23 0 0 10 2 2-4 0-5 7-18 3 0 10 3 2 0 22-4 0-4-2-20-3-29-8 0-11 3-1 7-7 19-5 20 0-15-9-5-9-21 0-8-2-20-9-10 5-14-3-25-14-12 5-11 6-5-1 0-1-15-9 7-6 12-3 24 8 25 0 24 11 23 0 0-11 1-1 48 1-18-19 15-2-20-9-25 0-4-2 3-1 0-10-47-20-8-13 0-3 6-8-2-1zM791 1029l21 0 5 2-2 1-24 0-4-3zM328 1041l47 0 2-1 4 1 20 3 19 8-7 5-11 6 0 11-1 2-24 0-4-2-21-3-28-8 0-11 3 0 0-11-3-1zM354 1042l23 20 23 0-23-20zM157 1061l6-6 19 0 20 6 4 0 1 2 52 11 0 11-3 0-7 8-15 3 45 5 12 6 7 8 0 2-7 6-12 3-20 2 24 11 0 2-4 0-5 7-15 2 48 22-2 1-7 7-42-7 0 10-99 0-3 0 0-2-15-9 0-8 18-5 25 11 5-6 19 3 13 0 11-3 21 6 0-9-49-22 3 0 0-11-23-10-23 0 0 10 2 2-4 0-1-2 0-11-24-21 25 2 21-2-21-9-12-13 0-5zM304 1067l14 7 0 7-14 0-15-7 0-7zM352 1083l4 2-2 0 10 11 0 5-12 3-20-7 0 10-3 0 0 10 3 2-8-2 3 0 0-21-3-2 4 0 6-7zM523 1083l4 2 0 2-8-2 0-2zM718 1094l6-7 41 8 2-1 48 22 2 2-2 1-24 0-1-2 0-10-23-11-13 5-12 0-23-5 0 22-5-1 0-21zM815 1094l2 2-2 1-3-1zM377 1128l23 0 1-1 1 2-1 1-24 0-4-2zM523 1138l4 3-5-2zM742 1134l26 6-14 5-10 5 2 2-4-1-28-1 0-2 4 2 23 0-11-11 0-5zM182 1148l4 2-4 2-4-2 0-2zM401 1159l4 2 20 3 25 0 20 6 29 0 3 2 0 2-28 0-5 6-19 5-21 0-7-2-25-11 0-13zM352 1171l4 1 0 2-8-2zM669 1170l4 2 0 2-8-2zM718 1167l23 4 24 0 2-1 4 2 0 2-25 0-4-1-24 10-4 0 0-2-15-9 0-8z" fill="#50f030" fill-rule="evenodd"/>
<path transform="scale(.25)" d="M645 950l10 4 0 5-10 0-10-5-6-7zM352 999l22 10-22 9-10-9 0-5zM425 1021l22 9 0 11 3 2 10 9 5 7-15 0-40-18 0-18zM499 1022l4 8 13 8-17 0-5-8 0-2zM352 1043l22 19 0 11-22-3-21-7 0-20zM401 1045l16 7-16 10-21-19zM718 1048l24 5 25 0 21 10-6 7 0 4-5 4-10 3-9 0-16-3-24-8-15-3 6 7 0 7-35-5-5 2-18-4 25-11 0-8 18 0 2-2 0-1 12-4zM182 1056l21 7 0 20-46 0-10-9 0-5 10-5 3 0 6-8zM572 1053l21 10-21 10-22-10 6-7zM230 1069l22 5 0 11-6 7-16 2-21-9 0-21zM304 1070l9 4 0 4-9 0-10-4 0-4zM620 1080l22 5-22 9-21-9 12-5zM352 1086l10 10 0 4-10 3-21-7 6-7zM596 1086l22 10 0 9-22 0-15-16zM742 1091l22 5-12 4-10 0-21-4 6-7zM157 1100l9 0 16-3 21 10 0 9-46 0-21-19zM255 1100l9 0 15 2 10 5 6 7 0 3-6 5-10 2-9 0-15 3-22-10 0-20zM450 1100l21 7-21 9-16-9 6-5zM499 1110l17 7-8 5-14-5-13-7zM572 1108l24 0 22 9 0 10-46 0-22-10 0-9zM255 1130l21 9-6 7-15 3-22-10 0-9zM596 1130l22 9-6 7-16 3-15-10-6-9zM742 1135l22 4-22 10-10-10 0-4zM572 1151l21 10 0 21-21-3-22-7 0-11 6-7zM157 1162l22 10 0 10-22 0-15-10 0-7zM206 1168l15 0 9-3 22 7 0 10-46 0-21-10 6-7zM279 1162l22 10-6 7-37-7 0-10zM425 1165l25 0 21 7-6 7-15 3-25 0-21-10 0-10zM718 1168l21 4-21 10-16-10 0-7z" fill="#8bf040" fill-rule="evenodd"/>
<path transform="scale(.25)" d="M645 950l8 4 0 4-8 0-8-4-5-6zM352 1001l18 8-18 7-8-7 0-4zM425 1022l18 8 0 11 7 3 13 14-13 0-37-17 0-16zM499 1026l2 4 6 4-8 0-3-5zM352 1044l18 16 0 11-18-2-17-6 0-19zM401 1046l13 6-13 8-17-16zM718 1048l17 4 7 3 25 0 17 8-5 6 0 5-4 4-8 2-12 0-13-2-12-4-12-5-20-4 8 9 0 6-34-5-3 1-9-2 25-11 0-4 9 0 6-4 0-3 10-4zM182 1057l17 6 0 19-42 0-8-8 0-4 8-4 7 0 0-3 5-6zM572 1055l17 8-17 8-18-8 5-6zM230 1070l18 4 0 11-5 5-13 3-17-8 0-19zM304 1072l4 2 0 2-4 0-5-2 0-2zM620 1081l18 4-18 8-17-8 9-4zM352 1088l8 8 0 3-8 2-17-5 5-6zM596 1088l18 8 0 8-18 0-13-14zM742 1092l18 4-10 3-8 0-17-3 5-6zM157 1101l12 0 13-2 17 8 0 7-42 0-17-15zM255 1101l12 0 12 2 8 4 5 5 0 5-5 4-8 2-11 0-13 2-18-8 0-18zM450 1101l17 6-17 7-13-7 5-4zM499 1114l8 3-4 3-7-3-6-3zM572 1110l24 0 18 7 0 8-42 0-18-8 0-7zM255 1131l17 8-4 6-13 2-18-8 0-8zM596 1131l18 8-5 6-13 2-13-8-4-8zM742 1136l18 3-18 8-8-8 0-3zM572 1153l17 8 0 19-17-2-18-6 0-11 5-6zM157 1164l18 8 0 8-18 0-12-8 0-6zM206 1168l16 0 8-2 18 6 0 8-42 0-17-8 4-6zM279 1164l18 8-5 6-30-6 0-8zM425 1166l25 0 17 6-4 6-13 2-25 0-17-8 0-8zM718 1168l17 4-17 8-13-8 0-6z" fill="#c8f040" fill-rule="evenodd"/>
<path transform="scale(.25)" d="M645 951l7 3 0 3-7 0-7-3-4-5zM352 1002l15 7-15 6-6-6 0-3zM425 1024l15 6 0 11 10 5 10 11-10 0-35-16 0-15zM499 1029l2 2-2 0zM352 1046l15 13 0 11-15-2-14-5 0-17zM401 1047l11 5-11 7-15-13zM718 1049l15 3 9 4 25 0 14 7-4 5 0 6-4 3-6 2-14 0-11-2-10-3-14-6-23-4 9 10 0 5-35-5-2 0 12-7 15-5 9-6 0-4 8-3zM182 1058l14 5 0 17-39 0-6-6 0-3 6-4 10 0 0-4 4-5zM572 1056l14 7-14 7-15-7 4-5zM230 1071l15 3 0 11-4 5-11 1-14-6 0-18zM304 1073l1 1-3 0zM620 1082l15 3-15 6-14-6 8-3zM352 1089l7 7 0 3-7 1-14-4 4-5zM596 1089l15 7 0 6-15 0-11-11zM742 1093l15 3-8 3-7 0-14-3 4-5zM157 1102l14 0 11-2 14 7 0 6-39 0-14-13zM255 1102l14 0 10 2 7 3 4 4 0 6-4 3-7 2-14 0-10 2-15-7 0-17zM450 1102l14 5-14 6-11-6 4-3zM499 1116l2 1-3 0-2-1zM572 1111l24 0 15 6 0 7-39 0-15-7 0-6zM255 1133l14 6-4 5-10 2-15-7 0-6zM596 1133l15 6-4 5-11 2-11-7-4-6zM742 1136l15 3-15 7-6-7 0-3zM572 1155l14 6 0 17-14-1-15-5 0-11 4-5zM157 1165l15 7 0 6-15 0-10-6 0-5zM206 1169l18 0 6-2 15 5 0 6-39 0-15-6 5-5zM279 1165l15 7-4 5-25-5 0-7zM425 1167l25 0 14 5-4 5-10 1-25 0-14-6 0-7zM718 1169l15 3-15 6-11-6 0-5z" fill="#eee63f" fill-rule="evenodd"/>
<path transform="scale(.25)" d="M645 952l5 2 0 2-5 0-6-2-3-4zM352 1003l12 6-12 5-5-5 0-3zM425 1025l12 5 0 11 13 6 8 9-8 0-33-15 0-14zM352 1047l12 10 0 11-12-1-11-4 0-16zM401 1048l9 4-9 5-12-10zM718 1050l12 2 12 6 25 0 11 5-3 4 0 7-3 2-5 2-16 0-17-4-16-7-21-4 9-5 0-6 7-2zM182 1059l11 4 0 16-36 0-5-5 0-3 5-2 13 0 0-6 3-4zM572 1058l11 5-11 5-12-5 3-4zM230 1071l12 3 0 11-3 4-9 1-11-5 0-16zM694 1065l8 9 0 4-29-4 9-5zM620 1082l12 3-12 5-11-5 6-3zM352 1090l6 6 0 2-6 1-11-3 3-4zM596 1090l12 6 0 5-12 0-8-9zM742 1093l12 3-6 2-6 0-11-2 3-4zM157 1103l16 0 9-2 11 6 0 5-36 0-11-11zM255 1103l16 0 8 1 6 3 3 3 0 7-3 3-6 1-16 0-8 2-12-6 0-16zM450 1103l12 4-12 5-9-5 3-3zM572 1112l24 0 12 5 0 6-36 0-12-6 0-5zM255 1134l12 5-4 4-8 1-12-5 0-5zM596 1134l12 5-3 4-9 1-8-5-4-5zM742 1137l12 2-12 5-5-5 0-2zM572 1156l11 5 0 16-11-1-12-4 0-11 3-4zM157 1167l12 5 0 5-12 0-8-5 0-4zM206 1170l19 0 5-2 12 4 0 5-36 0-12-5 4-4zM279 1167l12 5-3 4-20-4 0-5zM425 1168l25 0 12 4-4 4-8 1-25 0-11-5 0-5zM718 1170l12 2-12 5-9-5 0-4z" fill="#e89a35" fill-rule="evenodd"/>
<path transform="scale(.25)" d="M645 952l3 2 0 2-3 0-6-4zM352 1005l8 4-8 3-3-3 0-2zM425 1027l8 3 0 11 17 8 5 6-5 0-30-14 0-13zM352 1049l8 7 0 10-15-3 0-14zM401 1050l6 2-6 4-8-7zM718 1050l8 2 16 8 25 0 7 3-2 3 0 8-5 2-19 0-11-2-19-8-14-3 6-3 0-8zM182 1060l8 3 0 14-33 0-3-3 0-2 3-2 17 0 0-7 2-3zM572 1060l7 3-7 3-8-3 2-3zM230 1072l8 2 0 11-2 2-6 1-7-3 0-15zM694 1068l5 6 0 2-19-2zM620 1083l8 2-8 3-7-3zM352 1092l4 4 0 1-4 1-7-2 2-3zM596 1092l8 4 0 3-8 0-6-6zM742 1094l8 2-4 1-12-1 3-3zM157 1104l25-1 8 4 0 3-33 0-7-7zM255 1104l24 1 6 4 0 8-6 3-24 1-8-4 0-14zM450 1104l8 3-8 3-6-3zM572 1114l24 0 8 3 0 4-32 0-8-4 0-3zM255 1136l8 3-3 3-5 1-8-4 0-3zM596 1136l8 3-2 3-6 1-6-4-2-3zM742 1138l8 1-8 4-3-4 0-1zM572 1158l7 3 0 14-15-3 0-11 2-2zM157 1168l8 4 0 3-8 0-5-3 0-3zM206 1170l24-1 8 3 0 3-32 0-8-3 2-3zM279 1168l8 4-2 2-14-2 0-4zM425 1169l25 0 8 3-3 2-5 1-25 0-7-3 0-4zM718 1170l8 2-8 3-6-3 0-3z" fill="#f04f22" fill-rule="evenodd"/>
<path transform="scale(.25)" d="M645 953l2 2-2 0-3-2zM352 1007l4 2-4 1-1-1zM425 1029l4 1 0 11 21 9 3 3-3 0-27-12 0-12zM352 1050l4 4 0 11-8-2 0-13zM401 1051l3 1-3 2-4-4zM718 1051l24 10 25 0 4 2-2 1 0 10-2 1-25 0-24-11-7-1 3-2 0-9zM182 1062l4 1 0 13-29 0-1-2 1-2 21 0 0-9zM572 1061l4 2-4 2-4-2zM230 1073l4 1 0 11-4 2-3-2 0-13zM694 1071l2 4-9-1zM620 1084l4 1-4 2-3-2zM352 1094l2 2-6 0zM596 1094l4 2 0 1-4 0-3-3zM742 1095l4 1-8 0 1-2zM157 1105l25 0 4 2 0 1-29 0-4-3zM255 1105l21 0 5 2 1 1 0 9-3 2-24 0-4-2 0-12zM450 1105l4 2-4 1-3-1zM572 1116l24 0 4 1 0 2-28 0-4-2 0-1zM255 1138l4 1-4 2-4-2 0-1zM596 1138l4 1-4 2-4-3zM742 1138l4 1-4 2-2-2zM572 1159l4 2 0 13-8-2 0-11zM157 1170l4 2 0 2-4 0-2-2 0-1zM206 1171l24 0 4 1 0 2-28 0-4-2 1-1zM279 1170l4 2-1 1-7-1 0-2zM425 1171l25 0 4 1-4 2-25 0-3-2 0-2zM718 1171l4 1-4 2-3-2 0-1z" fill="#f02b19" fill-rule="evenodd"/>
<path transform="scale(.25)" d="M352 1008l2 1-2 0zM425 1030l2 0 0 11 24 12-27-12 0-11zM352 1051l2 2 0 11-3-1 0-12zM401 1052l1 0-1 1-2-2zM718 1052l24 10 25 0 1 1 0 11-26 0-27-11 1-1 0-10zM182 1062l1 1 0 12-26-1 23-1 0-10zM572 1062l1 1-1 1-2-1zM230 1074l2 0 0 11-2 1-1-1 0-12zM694 1073l1 1-4 0zM620 1084l2 1-2 1-1-1zM352 1095l1 1-2 0zM596 1095l2 1-2 0-1-1zM157 1106l25 0 1 1-26 0-1-1zM255 1106l24 0 1 1 0 10-27 0 0-11zM450 1106l2 1-2 0-1 0zM572 1117l24 0 2 1-26 0-2-1zM255 1138l2 1-2 1-2-1zM596 1138l2 1-2 1-2-2zM742 1139l2 0-2 1zM572 1160l1 1 0 12-3-1 0-11zM157 1171l2 2-3-1zM206 1172l24-1 2 2-26 0-2-1zM279 1171l1 1-2 0zM425 1171l27 1-27 1-1-1zM718 1172l2 0-2 1-1-1z" fill="#f02818" fill-rule="evenodd"/>
</g>
<rect x="30.20" y="207.20" width="176.70" height="163.40" fill="none" stroke="#333" stroke-width="0.9"/>
<line x1="27.20" y1="370.60" x2="30.20" y2="370.60" stroke="#333" stroke-width="0.8"/>
<text x="24.40" y="374.00" font-size="9.9" text-anchor="end" fill="#111" stroke="#111" stroke-width="0.42" font-weight="bold">0</text>
<line x1="28.60" y1="356.98" x2="30.20" y2="356.98" stroke="#333" stroke-width="0.8"/>
<line x1="27.20" y1="343.37" x2="30.20" y2="343.37" stroke="#333" stroke-width="0.8"/>
<text x="24.40" y="346.77" font-size="9.9" text-anchor="end" fill="#111" stroke="#111" stroke-width="0.42" font-weight="bold">10</text>
<line x1="28.60" y1="329.75" x2="30.20" y2="329.75" stroke="#333" stroke-width="0.8"/>
<line x1="27.20" y1="316.13" x2="30.20" y2="316.13" stroke="#333" stroke-width="0.8"/>
<text x="24.40" y="319.53" font-size="9.9" text-anchor="end" fill="#111" stroke="#111" stroke-width="0.42" font-weight="bold">20</text>
<line x1="28.60" y1="302.52" x2="30.20" y2="302.52" stroke="#333" stroke-width="0.8"/>
<line x1="27.20" y1="288.90" x2="30.20" y2="288.90" stroke="#333" stroke-width="0.8"/>
<text x="24.40" y="292.30" font-size="9.9" text-anchor="end" fill="#111" stroke="#111" stroke-width="0.42" font-weight="bold">30</text>
<line x1="28.60" y1="275.28" x2="30.20" y2="275.28" stroke="#333" stroke-width="0.8"/>
<line x1="27.20" y1="261.67" x2="30.20" y2="261.67" stroke="#333" stroke-width="0.8"/>
<text x="24.40" y="265.07" font-size="9.9" text-anchor="end" fill="#111" stroke="#111" stroke-width="0.42" font-weight="bold">40</text>
<line x1="28.60" y1="248.05" x2="30.20" y2="248.05" stroke="#333" stroke-width="0.8"/>
<line x1="27.20" y1="234.43" x2="30.20" y2="234.43" stroke="#333" stroke-width="0.8"/>
<text x="24.40" y="237.83" font-size="9.9" text-anchor="end" fill="#111" stroke="#111" stroke-width="0.42" font-weight="bold">50</text>
<line x1="28.60" y1="220.82" x2="30.20" y2="220.82" stroke="#333" stroke-width="0.8"/>
<line x1="27.20" y1="207.20" x2="30.20" y2="207.20" stroke="#333" stroke-width="0.8"/>
<text x="24.40" y="210.60" font-size="9.9" text-anchor="end" fill="#111" stroke="#111" stroke-width="0.42" font-weight="bold">60</text>
<line x1="42.39" y1="370.60" x2="42.39" y2="373.60" stroke="#333" stroke-width="0.8"/>
<text x="42.39" y="384.00" font-size="10.0" text-anchor="middle" fill="#111" stroke="#111" stroke-width="0.42" font-weight="bold">0</text>
<line x1="72.85" y1="370.60" x2="72.85" y2="373.60" stroke="#333" stroke-width="0.8"/>
<text x="72.85" y="384.00" font-size="10.0" text-anchor="middle" fill="#111" stroke="#111" stroke-width="0.42" font-weight="bold">5</text>
<line x1="103.32" y1="370.60" x2="103.32" y2="373.60" stroke="#333" stroke-width="0.8"/>
<text x="103.32" y="384.00" font-size="10.0" text-anchor="middle" fill="#111" stroke="#111" stroke-width="0.42" font-weight="bold">10</text>
<line x1="133.78" y1="370.60" x2="133.78" y2="373.60" stroke="#333" stroke-width="0.8"/>
<text x="133.78" y="384.00" font-size="10.0" text-anchor="middle" fill="#111" stroke="#111" stroke-width="0.42" font-weight="bold">15</text>
<line x1="164.25" y1="370.60" x2="164.25" y2="373.60" stroke="#333" stroke-width="0.8"/>
<text x="164.25" y="384.00" font-size="10.0" text-anchor="middle" fill="#111" stroke="#111" stroke-width="0.42" font-weight="bold">20</text>
<line x1="194.71" y1="370.60" x2="194.71" y2="373.60" stroke="#333" stroke-width="0.8"/>
<text x="194.71" y="384.00" font-size="10.0" text-anchor="middle" fill="#111" stroke="#111" stroke-width="0.42" font-weight="bold">25</text>
<line x1="57.62" y1="370.60" x2="57.62" y2="372.20" stroke="#333" stroke-width="0.8"/>
<line x1="88.08" y1="370.60" x2="88.08" y2="372.20" stroke="#333" stroke-width="0.8"/>
<line x1="118.55" y1="370.60" x2="118.55" y2="372.20" stroke="#333" stroke-width="0.8"/>
<line x1="149.02" y1="370.60" x2="149.02" y2="372.20" stroke="#333" stroke-width="0.8"/>
<line x1="179.48" y1="370.60" x2="179.48" y2="372.20" stroke="#333" stroke-width="0.8"/>
<text x="118.55" y="401.00" font-size="10.6" text-anchor="middle" fill="#111" stroke="#111" stroke-width="0.42" font-weight="bold">X (Å)</text>
<text x="0" y="0" font-size="10.6" font-weight="bold" text-anchor="middle" fill="#111" stroke="#111" stroke-width="0.42" transform="translate(10.30,288.90) rotate(-90)">Z (Å)</text>
<clipPath id="cp1R"><rect x="286.60" y="207.10" width="179.40" height="166.40"/></clipPath>
<g clip-path="url(#cp1R)"><rect x="286.60" y="207.10" width="179.40" height="166.40" fill="#1806f8"/>
<path transform="scale(.25)" d="M1627 849l16 7 0 7-16 0-16-7 0-7zM1183 860l50 0 16 7 0 7-66 0-16-7 0-7zM1676 860l17 7 0 7-17 0-16-7 0-7zM1775 871l24 0 42 18 0 7-42 0-41-18 0-7zM1159 881l24 0 17 8 0 7-41 0-17-7 0-8zM1381 881l16 8 0 7-16 0-17-7 0-8zM1356 892l16 8 0 18-16 0-17-8 0-18zM1183 902l25 1 66 29 0 8-17 0-5 1-44-1-25-11-24 0-17-8 0-7 25 0-3-4 0-8zM1282 903l16 7 0 19-16 0-16-8 0-18zM1676 903l25 0 41 18 0 8-16 0-25-11-25 0-16-8 0-7zM1750 903l25 0 16 7 0 8-41 0-16-8 0-7zM1202 919l-2 2 8 4 6-1 2-3-8-3zM1528 914l25 0 25 11 24 0 17 7 0 8-41 0-25-11-25 0-16-8 0-7zM1381 925l49 0 41 18 8 1 22 10 0 10-3 1 0 8-24 0 0 3 5 3 25 0 5-1 3-2 0-7 16 0 25 9 25 1 16 8 0 11 17 3 0-11 24 0 0-11 66 0 25 11 8 0 0-3-25-11 0-18 17 0 16 7 0 11 8 3 49 0 17 8 0 7 3 4 0 8-25 0-3 3 0 21 25 11 0 7 4 4 0 9-4 2 25 11 0 7-42 0-5 1-3 3 25 11 0 7-17 0-24-11-8 0 0 4 24 11 0 10 25 11 0 19 4 3 0 9-4 2 0 7 3 4 24 11 0 8-24 0-3 3 0 7-17 0-5 1-44-1-16-7-8-3-4 1-5 2 25 11 0 7-66 0-24-11-99 0-6 1 0 11-2 3 0 7-17 0-74-33-49 0-5 1-48 1-45-1-9-1-49 0 0 11-90 0-17-7 0-8-5-3 0-10 5-1 0-18 25 0-3-4 0-19 3-3-25-11 0-7-2-3 0-9 2-2 0-18 17 0 5-2 3-2 0-7 25 0-5-4 0-9 2-2-6-4-24 0-17-7 0-40 41 0 6-1 68 1 17 8 0 32 8 4 5-1 3-3 0-18 41 0 6-1-2-3 0-9 4-1 0-8 25 0 0-11 17 0 5-1 0-2-5-4-6 1-25 0-2 3 0 7-17 0-5 1 0 11-44 0-41-19 0-8 41 0 5-1 28 1-3-3-5-4-17-7 0-7 41-1 3-2 22 0 8 3 17 0 16 7 0 11 8 2 25 0 8 1-3-3 0-22-5-4-25-10-8 0 0 10-16 0-17-7 0-18zM1701 925l16 7 0 8-16 0-17-8 0-7zM1750 936l25 0 44 18 0 9-69-2-16-7 0-18zM1159 947l24 0 17 7 0 7 2 4 22 11 0 18-41 0-41-18 0-7 17 0 24 10 9 0 0-3-9-3-41-19 0-7zM1233 947l41 18 0 7-41 0-17-7 0-18zM1578 947l24 10 6 0 0-11 68 1 17 7 0 7-47 2 0 10-68-1-17-7 0-18zM1424 995l0 3 6 2 5 0 3-2-8-3zM1668 994l0 4 8 2 8 1 25 0 0-3-8-4zM1397 1005l0 4 8 2 6 0 0-2-6-3zM1471 1005l3 4 5 3 17 7 16 4 16 0 17 7 0 8 2 3 6 3 3-1 22 0 5 1 0-11 25 0 3-3 0-7 24 0 0-4-8-3-6 1-24 0-3 2 0 8-41 0-16-8 0-10-9-4zM1175 1016l0 14 8 4 6-1 3-3 0-7-3-4-6-3zM1695 1017l-2 2 0 8-25 0 0 11 3 3 5 4 8 0-2-4 0-8 44 0 19 8 0 9-3 2 14 3 0-11 2-3-24-11-8-1-22-10-3-3zM1824 1012l17 7 0 8-17 0-16-8 0-7zM1227 1028l-3 2 9 4 8 0 0-4-8-2zM1449 1028l-3 2 8 4 6-1 0-3-6-2zM1424 1039l6 5 8 1 0-4-8-3zM1449 1061l0 2 5 4 17 7 8 4 8 0 0-4-8-3-25-12zM1276 1071l-2 3 8 4 5-2 3-2-8-4zM1673 1073l-2 1 5 4 8 0 0-4zM1400 1082l-3 3 25 11 8 2 8-2-25-11zM1574 1083l-2 2 6 3 5-1 0-2-5-3zM1375 1093l0 3 6 3 5-1 3-2-8-4zM1693 1092l0 4 8 3 33 0 0-3-8-3-9-1zM1252 1115l-3 2 8 4 6-1 19 0 66 30 0 11 13 2 44 0 8 2 0-4-8-2-24-2-66-29-8-1-22-10-3-2-8-1-17 0zM1646 1115l-3 2 0 11 17 4 0-15-8-3zM1227 1126l0 2 6 4 41 18 8 4 8 0-3-4-30-14-24-11zM1375 1126l-3 2 9 4 2-2-2-5zM1449 1126l0 2 5 4 3-2 22 0 8 2 0-4-8-1-25 0zM1597 1126l0 2 5 3 9-3-9-3zM1745 1126l-3 2 25 11 8 3 8-3 0-11-8-3-6 1zM1200 1136l2 3 6 4 8 0 0-4zM1693 1147l0 14 33 13 5 0 0-11 25 0 2-2 0-7-2-4-6-3-5 1zM1202 1159l-2 2 16 4 50 0 0-4-9-4-49 0zM1569 1157l0 4 9 2 5 0 3-2-8-4zM1496 1168l0 4 8 2 4 0 1-2-5-3zM1673 1192l-5 2 8 3 8 0 0-3-8-3z" fill="#2c40f0" fill-rule="evenodd"/>
<path transform="scale(.25)" d="M1627 851l12 5 0 5-12 0-12-5 0-5zM1183 862l50 0 12 5 0 5-62 0-12-5 0-5zM1676 862l12 5 0 5-12 0-12-5 0-5zM1775 873l24 0 37 16 0 5-37 0-36-16 0-5zM1159 883l24 0 12 6 0 5-36 0-12-5 0-6zM1381 883l12 6 0 5-12 0-12-5 0-6zM1356 894l12 6 0 16-12 0-12-6 0-16zM1183 903l13 2 12 0 61 27 0 6-12 0-8 1-41-1-25-11-24 0-12-6 0-5 24 0-4-6 0-7zM1282 905l12 5 0 17-12 0-12-6 0-16zM1676 905l25 0 37 16 0 6-12 0-25-11-25 0-12-6 0-5zM1750 905l25 0 12 5 0 6-37 0-12-6 0-5zM1200 918l-5 3 13 6 9-2 4-4-13-5zM1528 916l25 0 25 11 24 0 12 5 0 6-36 0-25-11-25 0-12-6 0-5zM1381 927l49 0 36 16 13 2 20 9 0 9-4 2 0 7-24 0 0 4 8 5 25 0 8-1 4-4 0-5 12 0 25 9 13 1 12 0 12 6 0 11 12 3 13 2 0-11 25 0 0-11 61 0 25 11 12 0 0-5-24-11 0-16 12 0 12 5 0 11 12 5 49 0 12 6 0 5 5 6 0 7-25 0-4 4 0 21 24 11 0 6 7 5 0 8-7 3 25 11 0 5-37 0-8 2-4 4 24 11 0 5-12 0-24-11-13 0 0 6 25 11 0 10 24 11 0 17 7 5 0 8-7 3 0 5 5 6 24 11 0 7-24 0-5 4 0 5-12 0-8 2-41-2-24-9-7 1-6 3 25 11 0 5-62 0-24-11-99 0-8 2 0 11-5 4 0 5-12 0-74-33-49 0-8 2-41 0-6 1-43-1-13-2-49 0 0 11-86 0-12-5 0-6-8-5 0-9 8-2 0-16 24 0-4-6 0-18 4-4-24-11 0-5-4-5 0-8 4-3 0-17 12 0 8-1 4-4 0-5 25 0-6-6 0-8 2-3-9-5-24 0-12-6 0-38 36 0 9-2 41 0 12 2 12 0 12 6 0 32 13 6 8-2 5-4 0-16 36 0 9-2-3-4 0-8 7-2 0-6 25 0 0-11 12 0 8-1 0-4-8-6-9 2-25 0-4 4 0 5-12 0-8 2 0 11-41 0-37-18 0-6 37 0 8-1 17 0 12 1-4-5-8-6-12-5 0-5 36-2 5-2 20 0 13 4 12 0 12 5 0 11 12 4 25 0 12 1-4-5 0-22-8-6-25-10-12 0 0 10-12 0-12-5 0-16zM1701 927l12 5 0 6-12 0-12-6 0-5zM1750 938l25 0 41 16 0 7-41 0-13-2-12 0-12-5 0-16zM1159 949l24 0 12 5 0 5 5 6 8 6 12 5 0 16-37 0-36-16 0-5 12 0 24 10 13 0 0-5-13-4-16-7-8-6-12-5 0-5zM1233 949l36 16 0 5-36 0-12-5 0-16zM1578 949l24 9 9 0 0-11 41 0 12 2 12 0 12 5 0 5-12 0-8 2-25 0 0 11-41 0-12-2-12 0-12-5 0-16zM1421 994l0 4 9 3 8 0 4-3-12-4zM1664 992l0 6 12 3 13 2 25 0 0-5-13-6zM1393 1003l0 6 12 3 9 0 0-3-9-4zM1466 1003l5 6 8 5 12 5 13 4 12 2 12 0 12 5 0 6 5 5 8 4 5-2 20 0 8 2 0-11 25 0 4-4 0-5 25 0 0-6-13-5-9 2-24 0-4 3 0 6-37 0-12-6 0-10-13-6zM1171 1014l0 16 12 6 9-2 4-4 0-5-4-6-9-5zM1692 1016l-4 3 0 6-24 0 0 11 4 5 8 6 13 0-4-6 0-7 41 0 16 7 0 7-4 4 21 4 0-11 4-4-25-11-12-2-21-9-4-5zM1824 1014l12 5 0 6-12 0-12-6 0-5zM1224 1027l-4 3 13 6 12 0 0-6-12-3zM1446 1027l-4 3 12 6 9-2 0-4-9-3zM1421 1037l9 8 12 2 0-6-12-5zM1446 1059l0 4 8 6 12 5 13 5 13 0 0-5-13-4-16-7-9-6zM1273 1070l-4 4 13 5 8-1 5-4-13-6zM1672 1072l-4 2 8 5 13 0 0-5zM1397 1081l-4 4 24 11 13 3 12-3-24-11zM1571 1082l-2 3 9 5 8-1 0-4-8-4zM1372 1092l0 4 9 5 8-2 4-3-12-6zM1688 1090l0 6 13 5 37 0 0-5-12-4-13-2zM1249 1114l-4 3 12 6 9-2 16 0 16 7 9 6 36 16 0 11 21 4 41 0 13 2 0-6-13-4-12-2-12 0-62-27-12-2-21-9-4-3-13-2-12 0zM1643 1114l-4 3 0 11 13 4 12 2 0-17-12-5zM1224 1125l0 3 9 6 12 5 37 17 13 0-5-6-57-27zM1372 1125l-4 3 13 6 4-4 0-2-4-5zM1446 1125l0 3 8 6 5-4 20 0 13 4 0-6-13-2-25 0zM1594 1125l0 3 8 4 13-4-13-5zM1742 1125l-4 3 24 11 13 4 12-4 0-11-12-5-9 2zM1195 1134l5 5 8 6 13 0 0-6-13-3zM1688 1145l0 16 13 4 25 11 8 0 0-11 25 0 4-4 0-5-4-6-9-5-8 1zM1200 1157l-5 4 13 4 13 2 49 0 0-6-13-6-49 0zM1565 1155l0 6 13 4 8 0 4-4-12-6zM1491 1166l0 6 13 4 6-1 2-3-8-4zM1672 1192l-8 2 12 5 13 0 0-5-13-4z" fill="#4793f0" fill-rule="evenodd"/>
<path transform="scale(.25)" d="M1627 852l8 4 0 4-8 0-8-4 0-4zM1183 863l50 0 8 4 0 4-58 0-8-4 0-4zM1676 863l8 4 0 4-8 0-8-4 0-4zM1775 874l24 0 33 15 0 3-33 0-32-14 0-4zM1159 885l24 0 9 4 0 3-33 0-8-3 0-4zM1381 885l8 4 0 3-8 0-9-3 0-4zM1356 896l8 4 0 14-8 0-8-3 0-15zM1183 904l25 3 58 25 0 4-9 0-11 2-38-2-25-11-24 0-8-4 0-3 24 0-5-8 0-6zM1282 907l8 4 0 14-8 0-8-4 0-14zM1676 907l25 0 33 14 0 4-8 0-25-11-25 0-8-3 0-4zM1750 907l25 0 8 4 0 3-33 0-8-3 0-4zM1197 917l-5 4 16 8 11-3 5-5-16-7zM1528 918l25 0 25 11 24 0 9 3 0 4-33 0-25-11-25 0-8-4 0-3zM1381 929l49 0 33 14 16 3 19 8 0 8-5 3 0 6-25 0 0 5 11 7 25 0 11-2 5-5 0-4 8 0 25 9 25 2 8 4 0 11 16 5 17 2 0-11 24 0 0-11 58 0 25 11 16 0 0-7-25-11 0-15 9 0 8 4 0 11 16 7 49 0 9 4 0 3 5 8 0 6-25 0-5 5 0 21 25 11 0 4 8 7 0 7-8 4 24 11 0 4-33 0-11 2-5 5 25 11 0 3-9 0-24-11-17 0 0 8 25 11 0 10 25 11 0 15 8 7 0 8-8 3 0 4 5 7 25 11 0 6-25 0-5 5 0 3-9 0-11 3-38-3-24-8-9 1-8 4 25 11 0 3-58 0-24-11-99 0-11 3 0 11-5 5 0 3-9 0-74-33-49 0-11 3-38 0-8 1-41-1-17-3-49 0 0 11-82 0-8-3 0-4-11-7 0-8 11-3 0-15 24 0-5-7 0-17 5-5-24-11 0-3-6-7 0-6 6-5 0-15 8 0 11-2 5-5 0-4 25 0-9-7 0-7 3-4-11-7-24 0-8-4 0-36 32 0 11-2 39 0 24 2 9 4 0 32 16 7 11-2 5-5 0-14 33 0 11-3-3-5 0-7 9-3 0-4 24 0 0-11 9 0 11-2 0-5-11-8-12 3-24 0-6 5 0 3-8 0-11 3 0 11-38 0-33-17 0-4 33 0 11-2 14 0 16 2-5-7-11-7-9-4 0-4 9 0 11-2 13 0 6-2 19 0 16 4 9 0 8 4 0 11 16 5 25 0 16 2-5-7 0-22-11-7-25-11-16 0 0 11-8 0-9-4 0-14zM1701 929l8 3 0 4-8 0-8-4 0-3zM1750 940l25 0 38 14 0 6-38 0-25-2-8-4 0-14zM1159 950l24 0 9 4 0 4 5 7 11 7 8 4 0 14-33 0-32-14 0-4 8 0 24 11 17 0 0-7-17-5-32-17 0-4zM1233 950l33 15 0 4-33 0-9-4 0-15zM1578 950l24 9 11 0 0-11 39 0 24 2 8 4 0 4-8 0-11 2-24 0 0 11-39 0-24-2-9-4 0-15zM1419 993l0 5 11 5 11 0 5-5-16-5zM1660 990l0 8 16 5 17 2 24 0 0-7-16-8zM1389 1001l0 8 16 4 11 0 0-4-11-5zM1463 1001l5 8 11 7 8 3 17 5 24 3 9 3 0 4 5 7 11 5 6-2 19 0 11 2 0-11 24 0 6-5 0-3 24 0 0-8-16-7-11 3-25 0-5 4 0 4-33 0-8-4 0-10-17-8zM1167 1012l0 18 16 8 11-3 6-5 0-3-6-8-11-7zM1690 1015l-6 4 0 4-24 0 0 11 5 7 11 7 17 0-6-7 0-6 39 0 13 6 0 6-5 5 27 5 0-11 6-5-25-11-16-2-19-9-6-7zM1824 1016l8 3 0 4-8 0-8-4 0-3zM1222 1025l-6 5 17 8 16 0 0-8-16-5zM1443 1025l-5 5 16 8 11-3 0-5-11-5zM1419 1036l11 10 16 2 0-7-16-7zM1443 1058l0 5 11 7 25 11 17 0 0-7-17-5-14-6-11-7zM1271 1069l-5 5 16 7 11-2 5-5-16-7zM1670 1071l-5 3 11 7 17 0 0-7zM1394 1080l-5 5 24 11 17 5 16-5-24-11zM1570 1081l-3 4 11 7 11-2 0-5-11-5zM1369 1091l0 5 12 7 11-2 5-5-16-8zM1684 1088l0 8 17 7 41 0 0-7-16-5-17-3zM1246 1113l-5 4 16 8 11-3 14 0 14 6 11 8 32 14 0 11 28 5 38 0 17 2 0-7-17-5-24-2-58-26-16-2-19-9-6-4-25-3zM1641 1113l-6 4 0 11 17 5 16 3 0-19-16-7zM1222 1123l0 5 11 8 8 3 41 18 16 0-5-7-25-11-11-7-8-4-16-7zM1369 1123l-5 5 17 8 5-5 0-3-5-7zM1443 1123l0 5 11 8 6-5 19 0 17 5 0-8-17-2-25 0zM1591 1123l0 5 11 5 8-1 9-4-17-7zM1739 1123l-5 5 24 11 17 5 8-1 8-4 0-11-16-7-11 2zM1192 1132l5 7 11 8 16 0 0-8-16-5zM1684 1143l0 18 17 5 25 11 11 0 0-11 24 0 6-5 0-4-6-7-11-7-11 2-13 0-17-2zM1197 1156l-5 5 16 5 16 2 50 0 0-7-17-7-49 0zM1561 1154l0 7 17 5 11 0 5-5-16-7zM1487 1165l0 7 17 5 8-2 3-3-11-5zM1670 1191l-10 3 16 7 17 0 0-7-17-5z" fill="#5bc7f7" fill-rule="evenodd"/>
<path transform="scale(.25)" d="M1627 854l4 2 0 2-4 0-4-2 0-2zM1183 865l50 0 4 2 0 2-54 0-4-2 0-2zM1676 865l5 2 0 2-5 0-4-2 0-2zM1775 876l24 0 30 13 0 2-30 0-29-13 0-2zM1159 887l24 0 5 2 0 2-29 0-5-2 0-2zM1381 887l4 2 0 2-4 0-5-2 0-2zM1356 898l4 2 0 12-4 0-5-2 0-12zM1183 906l25 3 54 23 0 2-18 3-11 0-25-3-25-11-24 0-5-2 0-2 25 0-7-9 0-4zM1282 909l4 1 0 13-4 0-4-2 0-12zM1676 909l25 0 29 12 0 2-4 0-25-11-25 0-4-2 0-1zM1750 909l25 0 4 1 0 2-29 0-4-2 0-1zM1194 915l-6 6 20 9 14-3 6-6-20-9zM1528 919l25 0 25 11 24 0 5 2 0 2-29 0-25-11-25 0-4-2 0-2zM1381 930l49 0 29 13 20 3 17 8 0 8-6 3 0 5-25 0 0 6 14 9 25 0 13-3 7-6 0-2 4 0 25 8 25 3 4 2 0 11 20 6 21 3 0-11 24 0 0-11 54 0 25 11 20 0 0-9-25-11 0-13 5 0 4 2 0 11 20 9 49 0 5 2 0 2 6 9 0 5-24 0-7 6 0 21 25 11 0 2 10 9 0 7-10 4 25 11 0 2-30 0-13 3-7 6 25 11 0 2-5 0-24-11-20 0 0 9 24 11 0 10 25 11 0 13 10 9 0 7-10 4 0 2 6 9 25 11 0 5-25 0-6 6 0 2-18 3-11 0-25-3-24-8-10 1-11 5 25 11 0 2-54 0-24-11-99 0-14 3 0 11-6 6 0 1-5 0-74-32-49 0-13 3-36 0-10 1-39-1-21-3-49 0 0 11-78 0-5-2 0-2-13-9 0-8 13-3 0-13 25 0-7-9 0-16 7-6-25-11 0-1-6-9 0-5 6-6 0-13 18-3 7-6 0-2 25 0-11-9 0-7 4-4-14-9-24 0-5-2 0-34 29 0 14-3 36 0 24 3 5 2 0 32 20 9 14-3 6-6 0-13 29 0 14-3-4-6 0-6 10-4 0-2 25 0 0-11 18-3 0-6-13-9-14 3-25 0-6 6 0 2-18 3 0 11-36 0-11-5-18-11 0-2 29 0 14-3 11 0 20 3-7-9-18-11 0-2 18-3 11 0 8-3 17 0 29 8 0 11 20 6 25 0 20 3-7-9 0-22-13-9-25-11-20 0 0 11-4 0-5-2 0-13zM1701 930l4 2 0 2-4 0-5-2 0-2zM1750 941l25 0 35 13 0 5-35 0-25-3-4-2 0-13zM1159 952l24 0 5 2 0 2 6 9 18 11 0 13-29 0-29-13 0-2 5 0 24 11 21 0 0-9-21-6-11-5-18-11 0-2zM1233 952l29 13 0 2-29 0-5-2 0-13zM1578 952l24 8 14 0 0-11 36 0 24 3 5 2 0 2-18 3-25 0 0 11-36 0-24-3-5-2 0-13zM1416 992l0 6 14 6 13 0 7-6-20-6zM1656 989l0 9 20 6 20 3 25 0 0-9-20-9zM1385 1000l0 9 20 6 14 0 0-6-14-6zM1459 1000l6 9 14 8 25 8 24 3 5 2 0 2 6 9 14 6 7-3 18 0 13 3 0-11 25 0 7-6 0-2 24 0 0-9-20-9-14 3-24 0-7 6 0 2-29 0-4-2 0-10-21-9zM1163 1010l0 20 20 9 14-3 7-6 0-2-7-9-14-9zM1687 1013l-6 6 0 2-25 0 0 11 7 9 13 9 20 0-6-9 0-5 36 0 11 5 0 5-7 6 34 6 0-11 6-6-24-11-20-3-18-8-7-9zM1824 1017l5 2 0 2-5 0-4-2 0-2zM1219 1024l-7 6 21 9 20 0 0-9-20-6zM1441 1024l-7 6 20 9 14-3 0-6-14-6zM1416 1035l14 12 20 3 0-9-20-9zM1441 1057l0 6 18 11 20 9 20 0 0-9-20-6-11-5-14-9zM1268 1068l-6 6 20 9 14-3 6-6-20-9zM1669 1071l-6 3 13 9 20 0 0-9zM1392 1079l-7 6 25 11 20 6 20-6-25-11zM1568 1080l-4 5 14 9 13-3 0-6-13-6zM1367 1090l0 6 14 9 13-3 7-6-20-9zM1681 1087l0 9 20 9 45 0 0-9-20-6-21-3zM1244 1111l-7 6 20 9 14-3 11 0 11 5 14 9 29 13 0 11 33 6 36 0 20 3 0-9-20-6-24-3-54-24-20-3-18-8-7-6-20-2zM1638 1111l-7 6 0 11 21 6 20 3 0-20-20-8zM1219 1122l0 6 14 9 24 11 25 11 20 0-6-9-25-11-14-9-24-11zM1367 1122l-7 6 21 9 7-5 0-4-7-9zM1441 1122l0 6 13 9 8-5 17 0 20 5 0-9-20-3-25 0zM1589 1122l0 6 13 6 10-1 11-5-21-9zM1737 1122l-7 6 25 11 20 6 10-1 10-5 0-11-20-9-14 3zM1188 1130l6 9 14 9 20 0 0-9-20-6zM1681 1141l0 20 20 6 25 11 13 0 0-11 25 0 6-6 0-2-6-9-14-9-13 3-11 0-21-3zM1194 1155l-6 6 20 6 20 3 50 0 0-9-21-9-49 0zM1557 1152l0 9 21 6 13 0 7-6-20-9zM1484 1163l0 9 20 6 10-2 3-4-13-6zM1669 1190l-13 4 20 9 20 0 0-9-20-6z" fill="#70feff" fill-rule="evenodd"/>
<path transform="scale(.25)" d="M1627 855l1 2-2-1zM1183 866l50 0 1 1-51 0-1 0zM1676 866l1 1-2 0zM1775 877l24 0 26 12-26 0-25-11zM1159 888l24 0 2 1-26 0-2 0zM1381 888l1 1-3 0zM1356 899l1 1 0 11-2-1 0-11zM1183 907l25 3 51 23-17 3-9 0-25-3-25-11-24 0-2-1 25 0-8-11 0-3zM1282 910l1 0 0 12-2-1 0-11zM1676 910l25 0 26 12-26-11-25 0-1-1zM1750 910l25 0 1 1-26 0-1-1zM1192 914l-7 7 23 11 16-4 7-7-23-10zM1528 921l25 0 25 11 24 0 2 1-26 0-25-11-25 0-1-1zM1381 932l49 0 26 11 23 4 16 7 0 7-7 4 0 4-25 0 0 7 16 10 25 0 15-3 9-8 25 8 25 3 1 1 0 11 23 7 24 3 0-11 24 0 0-11 51 0 25 11 23 0 0-10-25-11 0-12 3 1 0 11 23 10 51 1 7 11 0 4-24 0-8 7 0 21 25 11 12 11 0 6-12 5 24 11-26 0-15 4-8 7 25 11-26-11-24 0 0 11 25 11 0 10 25 11 0 12 12 10 0 6-12 6 7 10 25 11 0 4-25 0-7 7-17 4-9 0-25-4-24-7-12 2-12 5 25 11-51 0-24-11-99 0-16 4 0 11-7 7-76-33-49 0-16 4-33 0-12 2-37-2-24-4-49 0 0 11-77 0-14-11 0-7 14-4 0-12 25 0-8-10 0-15 8-7-25-11-7-10 0-4 7-7 0-12 17-3 8-8 25 0-12-10 0-6 4-5-16-10-26-1 0-33 26 0 16-3 34 0 24 3 2 1 0 32 23 11 16-4 7-7 0-11 26 0 16-4-4-7 0-5 12-6 24 0 0-11 17-3 0-7-15-11-16 4-25 0-8 7-16 4 0 11-34 0-9-4-17-12 26 0 16-3 9 0 23 3-8-10-17-12 17-3 9 0 9-3 16 0 26 7 0 11 23 7 25 0 23 3-7-10 0-22-16-10-25-11-23 0 0 11-1 0-2-1 0-11zM1701 932l1 1-2-1zM1750 943l25 0 33 11 0 4-33 0-25-3-1-1 0-11zM1159 954l26 0 7 11 17 11 0 11-26 0-26-11 2-1 24 11 24 0 0-10-24-7-9-4-17-11zM1233 954l26 12-28-1 0-11zM1578 954l24 7 16 0 0-11 34 0 24 4 1 1-16 3-25 0 0 11-34 0-26-4 0-11zM1414 991l0 7 16 7 16 0 7-7-23-7zM1653 987l0 11 23 7 24 3 24 0 0-10-23-11zM1382 998l0 11 23 6 16 0 0-6-16-7zM1456 998l7 11 16 10 25 7 24 4 9 11 16 7 8-3 17 0 15 3 0-11 25 0 8-7 24 0 0-11-23-10-16 3-24 0-8 8-26 0-1-1 0-10-24-11zM1160 1009l0 21 23 11 16-4 8-7-8-11-16-10zM1685 1012l-8 8-24 0 0 11 8 10 15 11 24 0-8-11 0-4 34 0 8 4 0 4-7 7 39 7 0-11 8-7-25-11-23-3-17-8-8-10zM1824 1019l1 1-2-1zM1217 1023l-8 7 24 11 23 0 0-11-23-7zM1439 1023l-8 7 23 11 16-4 0-7-16-7zM1414 1034l16 14 23 4 0-11-23-10zM1439 1056l0 7 15 10 25 11 23 0 0-10-23-7-9-4-16-10zM1266 1067l-7 7 23 10 16-3 7-7-23-10zM1668 1070l-7 4 15 10 24 0 0-10-24-4zM1389 1078l-7 7 24 11 24 7 23-7-24-11zM1566 1080l-4 5 16 10 15-3 0-7-15-7zM1365 1089l0 7 16 10 15-3 8-7-23-11zM1677 1085l0 11 24 10 48 0 0-10-23-7-24-4zM1242 1111l-8 6 23 11 16-4 9 0 9 4 16 11 25 11 0 11 40 7 33 0 24 3 0-10-24-7-24-3-51-23-23-3-17-8-8-6-23-4zM1636 1111l-8 6 0 11 24 7 23 4 0-22-23-10zM1217 1121l0 7 16 11 24 11 25 10 23 0-7-10-25-11-16-10-24-11zM1365 1121l-8 7 24 11 8-7 0-4-8-10zM1439 1121l0 7 15 11 9-7 16 0 23 7 0-11-23-3-25 0zM1587 1121l0 7 15 7 12-2 12-5-24-10zM1734 1121l-7 7 24 11 24 7 11-2 12-5 0-11-23-10-16 3zM1185 1129l7 10 16 11 23 0 0-11-23-7zM1677 1140l0 21 24 7 25 11 15 0 0-11 25 0 8-7-8-11-16-10-16 3-8 0-24-3zM1192 1154l-7 7 23 7 23 3 50 0 0-10-24-10-49 0zM1554 1151l0 10 24 7 15 0 8-7-23-10zM1480 1162l0 10 24 7 11-2 4-5-15-7zM1668 1190l-15 4 23 10 24 0 0-10-24-7z" fill="#80f8e2" fill-rule="evenodd"/>
<path transform="scale(.25)" d="M1183 907l21 3-14 4-7 6-6-10 0-3zM1233 923l20 9-14 3-27-3 14-3zM1454 945l2-1 23 3 15 7 0 7-8 4 0 3-25 0 0 8 14 9-21 0-6-9 0-22-14-9zM1627 951l25 0 20 3-14 3-24 0 0 11-32 0-20-3 0-9 20 6 18 0 0-11zM1775 945l4 0 20 6 7 3 0 3-31 0-21-3 0-9zM1183 956l7 9 14 9-21-6-20-12zM1331 962l10-4 15 0 23 7 0 10-16 4-25 0-7 6-7-9-14-9 0-2 14-3zM1307 984l20 3-14 3 0 11-31 0-21-13 25 0 0-1 14-3zM1405 984l25 0 21 3 0 9-21-6-18 0 0 8 18 8 18 0 6-7 7 10 14 9 0 1 29 8 20 3 4 2 7 9 18 8 10-4 15 0 17 4 0-11 25 0 7-6 25 0 6 9 14 9 0 2 4 1 24 10 0 10-24-3-9 0-9 4 14 9-45 0-4 2 0 11 25 11-14 3-8 7-24 0-23-10 0-11 16-3 0-8-17-8-13 2-5 6 14 9-46 0-20-9 0-11-36-11-16-11 0-10 16-4 0-8-18-8-17 0-7 7-4 0 0 1-14 3 18 16 21 3-14 3 0 8 14 9 0 2 28 13 25 0 24 10 25 0 45 20-14 3 0 8 18 8 13-2 12-5 25 7 20 3 0 20-24 0 0 11-21 0-49-22-50 0-20-9 0-11-4-1-1 1-24-4-25 0-17-4 0 8 14 10 0 21-25 0-21-6-21-3 0-9-2-2 8-6 0-5-8-10 2-1 0-10 14-3 7-7 4 0 21 7 9-4 19-4-28-13-1 1-42-7-6 6-4 0 0 2-14 3 0 8 14 9 0 12-14 3-8 8-25 0-23-4-15-7-10-7-21-3-4-2-1 1-17 4-6 6-4 0 0 1-14 3 0 8 14 10-21-7-21-3-28-12-7-9 0-3 8-8 0-11 17-3 6-6 29 0 0-2-4-1-12-10 0-5 5-6-14-9 0-2 14-3 7-6 25 11 24 0 21 9 0 11-14 3-7 6-4 0 0 2 25 11 0 11 8 1 0-12 14-3 8-8 2 0-24-11 0-11 14-3 8-7 2-1 0-9 25 0 0-2 14-3-5-8 0-5 12-5 28 1 21 6 18 0 0-7-18-8-21-3 14-3 0-8-14-9zM1528 978l4 0 21 6 21 3 0 9-46 0-20-9 14-3zM1775 988l24 0 7 10 0 3-24 0-7 6-21-9 0-10zM1208 1006l25 0 20 3 0 20-20-7-18 0-7 7-7-10-14-9 0-1 14-3zM1578 999l4 0 20 7 21 3-14 3-25 0-6 6-21-9 0-10zM1652 999l3 0 21 7 21 3-14 3-7 6-24 0-21-9 0-10zM1726 1009l3 1 21 0 21 9 0 10-21 0-1 1-23-4-16-7-8-10zM1701 1038l25 0 6 3 0 3-6 6-25 0-7-9 0-3zM1524 1050l0 13 4 2 4-2 0-11zM1775 1043l24-1 12 10 0 5-12 5-3-1 0 13-14 3-7 6-29 0 0 11-20-6-21-3 0-31 22-1 23 5 18 2 0-11zM1652 1087l20 9 0 9-20 0-21-9 0-9zM1701 1107l49 1 21 9-14 3-25 0-6 7-4 1 24 11-14 3-6 0-21-3-25-11 0-9-2-2 0-10zM1282 1125l21 13 0 1 24 11 0 9-20 0-7-9-25-11-14-9 0-2 14-3zM1183 1130l7 9 14 9 0 2-14 3-7 6-6-9 0-14zM1479 1133l24 6 1 2 20 9 0 11 4 2 29 0 21 6 17 0 7-6 21 9 29 0 3 2 21 0 4-2 0-9 21 6 25 11 17 0 0-11 25 0 7-6 24 0 7 9 25 11 0 3-25 0-8 7-16 4-28-3-28-8-13 2-12 5-25-7-24 7-25 0-4-1-23 1-47-1-18 5 0 11-7 6-45-20 0-20 21 6 13-2 5-6-18-8-25-3-23-11 0-11 8-6zM1775 1147l13-2 11-5 12 10 0 5-12 5-24-1-7-9-14-9zM1183 1163l4 0 21 6 21 3 0 9 3 2 0 10-24 0-4-1-45 1-15-10 0-7 15-4 4 2 0-11zM1307 1163l26-1 23 5 18 2 31 0 21 3 0 9-25 0 0 2-14 3-31 0-13 2-36-2-21-3 0-20z" fill="#67f18b" fill-rule="evenodd"/>
<path transform="scale(.25)" d="M1183 909l12 1-8 2-4 4-3-6 0-1zM1233 927l11 5-8 2-15-2 8-1zM1454 949l4-4 21 3 14 6 0 6-10 5 0 2-25 0 0 9 8 5-12 0-3-5 0-22-8-5zM1627 952l25 0 11 2-8 2-24 0 0 11-29 0-11-2 0-5 11 3 21 0 0-11zM1775 949l13 0 11 3 4 2 0 2-28 0-12-2 0-5zM1183 960l4 5 8 5-15-5-8-5zM1331 963l11-4 14 0 21 6 0 9-17 4-25 0-4 3-4-5-7-5 0-6zM1307 985l11 2-8 1 0 11-28 0-12-7 25 0 0-5zM1405 985l25 0 11 2 0 5-11-4-21 0 0 10 21 9 21 0 3-4 4 6 8 5 0 5 13 6 13 0 23 5 13 6 4 5 21 9 11-4 14 0 20 4 0-10 25 0 4-4 25 0 3 5 8 5 0 6 13 2 21 9 0 9-21-3-11 0-10 5 8 5-36 0-4 4-9 2 0 11 25 11-8 1-8 8-21 0-21-9 0-10 17-3 0-9-20-9-15 2-6 7 8 5-37 0-11-5 0-11-13-6-13 0-12-3-21-13 0-9 17-3 0-10-21-9-20 0-4 4-13 0 0 5-8 2 21 18 11 2-7 2 0 9 7 5 0 6 38 17 25 0 24 10 25 0 36 16-8 2 0 9 21 10 15-3 10-4 25 7 11 1 0 16-24 0 0 11-12 0-49-22-50 0-11-5 0-11-13-5-4 4-21-4-25 0-20-4 0 9 7 6 0 21-24 0-24-5 0-5-9-6 8-6 0-5-8-9 9-2 0-10 8-2 4-4 13 0 12 4 24-8 13-1-37-17-4 4-42-7-3 3-13 0 0 6-8 1 0 10 8 5 0 16-8 2-8 8-24 0-21-4-14-6-11-9-12-1-13-6-3 4-18 3-3 4-13 0 0 5-8 2 0 9 8 6-24-6-37-16-4-7 7-8 0-11 18-3 3-3 38 0 0-6-13-3-10-8 0-4 6-7-8-5 0-6 8-1 4-4 25 11 24 0 12 5 0 11-8 2-4 3-13 0 0 6 25 11 0 11 13 5 13 0 0-16 8-2 7-8 10-1-25-11 0-11 8-2 7-7 10-2 0-5 24 0 0-6 8-1-6-10 0-4 10-4 13 3 24 0 12 4 21 0 0-9-21-10-12-1 8-2 0-9-8-5zM1528 982l13 0 24 5 0 5-37 0-11-5 8-2zM1775 992l24 0 4 7-24 0-4 4-12-5 0-6zM1208 1007l25 0 11 2 0 16-11-4-21 0-4 4-4-6-8-5 0-5zM1578 1003l13 0 23 6-8 1-25 0-3 4-12-5 0-6zM1652 1003l13 0 23 6-8 1-4 4-24 0-12-5 0-6zM1726 1010l12 4 12 0 12 5 0 6-12 0-3 4-21-4-14-6-8-9zM1701 1040l25 0 3 1 0 2-3 3-25 0-4-5 0-1zM1515 1046l0 17 13 6 13-6 0-11-13-6zM1775 1047l6-3 18 0 10 8 0 4-10 4-13-3 0 17-7 2-4 3-38 0 0 11-23-5 0-27 12 0 6-3 18 4 21 2 0-11zM1652 1091l11 5 0 5-11 0-12-5 0-5zM1701 1109l13 3 36 0 12 5-8 2-25 0-3 4-13 5 24 11-11 2-12-2-25-11 0-5-7-6 0-8zM1282 1127l12 7 0 5 24 11 0 5-11 0-4-5-25-11-8-5 0-6zM1183 1134l4 5 8 5 0 6-8 2-4 3-3-5 0-12zM1479 1133l21 6 4 6 11 5 0 11 13 6 38 0 12 3 20 0 4-3 12 5 13 2 25 0 13 4 11 0 13-6 0-5 12 3 25 11 20 0 0-11 25 0 4-3 24 0 4 5 25 11 0 2-25 0-7 7-17 3-16-1-13-6-13 0-11-3-16 2-9 4-25-6-24 7-25 0-13-4-12 0-6 3-18 0-13-3-12 0-13 6-8 1 0 11-4 4-36-16 0-16 12 3 15-2 6-7-21-9-25-4-21-9 0-11 8-6zM1775 1148l15-2 9-4 10 8 0 4-10 4-13-3-11 0-4-5-8-5zM1183 1167l13 0 24 5 0 5 9 6 0 9-21 0-13-4-12 0-3 4-21 0-14-9 0-6 14-3 13 4 0-11zM1307 1167l24 0 6-3 19 4 21 2 28 0 12 2 0 5-25 0 0 6-8 2-28 0-15 2-10 0-36-4 0-16z" fill="#52f03b" fill-rule="evenodd"/>
<path transform="scale(.25)" d="M1183 910l4 0-4 2-1-1zM1233 931l4 1-8 0zM1454 952l6-6 19 3 12 5 0 5-11 7-24 0 0 10 2 2-4 0-1-2 0-22-2-2zM1627 954l28 0-27 1 0 11-30-1 0-2 4 1 24 0 0-10zM1775 952l21 0 5 3-26 0-4-1 0-2zM1183 963l4 4-8-4zM1331 964l13-4 12 0 19 5 0 8-18 3-25 0-1 2-4-4 0-9zM1307 986l3 1-2 0 0 11-26 0-4-2 25 0 0-9zM1405 986l29 1 0 1-4-1-24 0 0 11 24 10 23 0 1-1 4 3 0 9 21 10 21 0 8 1 45 22 13-5 12 0 23 5 0-11 51-1 3 3 0 9 21 3 19 8 0 8-19-3-12 0-11 6 2 2-28 0-6 6-15 3 0 11 25 11-3 0-7 8-19 0-19-8 0-9 18-3 0-10-23-11-17 3-7 8 3 2-29 0-4-2 0-11-20-9-21 0-4-1-19-12 0-8 18-3 0-11-24-10-45 1 0 9-3 1 24 21 4 0-3 1 0 10 3 2 0 9 45 20 25 0 24 11 25 0 29 12-3 1 0 10 23 11 17-3 8-3 28 6 0 13-24 0 0 11-4 0-49-22-50 0-4-2 0-11-20-9-6 7-19-3-25 0-23-5 0 10 3 2 0 22-25 0-8-2 0-2-15-9 7-5 0-6-7-8 15-3 0-10 4-2 21 0 4 1 24-8 21-2-45-20-6 6-42-8-1 2-21 0 0 9-3 0 0 11 3 1 0 20-3 1-7 8-24 0-19-3-13-6-12-10-4 0-21-10-5 7-19 4-21 0 0 9-3 1 0 10 3 2-8-2-45-20-2-1 7-9 0-11 19-4 46 0 0-9-21-4-8-7 0-3 7-8-3-2 0-9 4-1 25 10 24 0 4 2 0 11-4 2-20 0 0 9 24 11 0 11 21 9 21 0 0-20 2-1 7-8 15-2-24-11 0-11 2 0 7-8 15-3 0-1 25 0 0-10 3 0-7-11 0-3 8-3 21 5 52 1 0-10-24-11-4 0 3-1 0-10-3-2zM1528 985l21 0 8 2 0 1-29 0-4-1zM1775 996l24 0 2 2-25 0-1 1-4-1 0-2zM1208 1008l29 1 0 12-4-1-24 0-1 1-4-3 0-9zM1578 1007l20 0 8 2-27 0-1 1-4-1 0-2zM1652 1007l20 0 8 2-4 1-24 0-4-1 0-2zM1726 1011l20 7 4 0 4 1 0 2-4 0-6 7-18-3-13-6-6-8zM1701 1041l25 0 1 1-1 1-25 0-1-2zM1508 1043l0 20 20 9 21-9 0-11-21-9zM1775 1050l9-5 15 0 8 7 0 4-8 3-20-5 0 20-4 2-46 0 0 11-7-2 0-24 4 0 9-5 39 6 0-10zM1652 1094l3 2 0 1-7-1 0-2zM1701 1111l21 5 28 0 4 1-27 1-22 10 24 11-3 1-4-1-25-11 0-1-11-10 0-6zM1282 1128l4 2 0 9 24 11 0 2-3 0-2-2-27-12 0-10zM1183 1138l4 3 0 9-4 2-1-2 0-11zM1479 1134l19 5 6 9 4 2 0 11 20 9 46 0 4 1 23 0 1-1 4 2 21 2 25 0 20 7 4 0 21-9 0-2 29 12 23 0 0-11 50-1 2 2 24 11-24 0-7 8-18 3-5 0-21-9-21 0-3-2-17 3-8 3-25-6-24 8-25 0-21-6-4 0-9 4-15 0-25-4-23 9 0 11-2 1-28-12 0-13 4 1 17-3 6-7-23-10-25-3-19-9 0-11 7-5zM1775 1150l17-3 7-3 8 6 0 4-8 3-24-5-4-4zM1183 1170l21 0 8 2 0 2 15 9 0 8-19 0-21-6-4 0-5 6-19 0-12-8 0-6 12-3 20 7 0-11zM1307 1170l24 0 10-5 38 6 26 0 4 1 0 2-25 0 0 9-2 0-26 0-17 3-8 0-28-3 0-13z" fill="#50f030" fill-rule="evenodd"/>
<path transform="scale(.25)" d="M1479 950l10 4 0 5-10 5-22-10 6-7zM1356 961l16 4 0 7-16 3-22-10 12-4zM1356 1015l18 4 0 8-18 0-5-8 0-2zM1726 1012l21 7-6 7-15-2-11-5-5-7zM1381 1033l2-1 22 0 22 19 0 23-6 7-38-7-24-11 0-10 24 0-2-4-18-8 0-8zM1331 1043l22 9 0 10-22 0-21-10 6-7zM1479 1043l22 9 0 10-22 0-16-10 0-7zM1578 1048l21 4 0 11 25 11-6 7-16 2-46-20 0-11 12-4zM1799 1048l5 4 0 2-5 2-17-4 8-4zM1208 1055l18 8 0 8-18-4-5-4 0-2zM1652 1053l24 3 16 7 0 7-16-3-14 0-10 6-22-10 0-10zM1750 1061l18 2 0 8-18 0-18-8 9-4zM1553 1066l18 8-13 2-5 6-18-8zM1331 1075l22 10 0 9-22 0-21-9 6-7zM1183 1086l50 0 21 10-6 7-15 2-28 0 0 11-22 0-21-9 6-7 0-11zM1454 1100l9 0 16-3 22 10 0 10-6 7-16-2-25 0-21-5 0-10zM1602 1097l22 10-6 7-16 0-15-7 0-7zM1307 1108l24 0 22 9-6 7-25 0-15-2-10-5-12-9zM1553 1108l22 9 0 21-22 0-22-10 0-20zM1701 1113l18 4-18 8-10-8 0-4zM1405 1119l22 9 0 21-22 0-16-10 6-4 0-7-6-7zM1479 1135l16 4 6 10 0 11-22-3-16-7 0-11 6-4zM1627 1135l18 4 0 8-18 0-18-8zM1799 1146l5 4 0 2-5 2-17-4zM1356 1170l18 2 0 8-18 0-18-8 8-4zM1159 1176l21 7-6 7-15 0-10-7 0-5zM1208 1173l16 10 0 7-16 0-22-7 0-10zM1331 1175l18 8-13 2-23-2 0-8zM1528 1175l18 8-8 4-10 4-18-8 13-2zM1578 1175l18 8-9 4-9 0-18-4 0-8zM1627 1176l25 0 21 7-21 7-25 0-22-7 0-10zM1701 1175l18 8-18 4-18-4zM1775 1173l21 10-5 7-16 2-22-9 0-10z" fill="#8bf040" fill-rule="evenodd"/>
<path transform="scale(.25)" d="M1479 950l8 4 0 4-8 4-18-8 5-6zM1356 961l13 4 0 6-13 2-18-8 10-4zM1356 1017l9 2 0 4-9 0-3-4zM1726 1014l17 5-5 6-12-2-9-4-4-5zM1381 1037l6-4 18 0 18 16 0 25-5 6-31-6-24-11 0-8 24 0 0-3-6-7-9-4 0-4zM1331 1044l18 8 0 8-18 0-18-8 5-6zM1479 1044l18 8 0 8-18 0-13-8 0-6zM1578 1048l17 4 0 11 25 11-5 6-13 2-42-19 0-11 9-4zM1799 1050l3 2-3 2-9-2 5-2zM1208 1059l9 4 0 4-9-2-2-2zM1652 1055l24 2 13 6 0 6-13-2-16 0-8 4-18-8 0-8zM1750 1062l9 1 0 4-9 0-9-4 4-2zM1553 1070l9 4-7 1-2 3-9-4zM1331 1077l18 8 0 8-18 0-18-8 5-6zM1183 1088l50 0 17 8-4 5-13 3-32 0 0 10-18 0-17-7 5-6 0-11zM1454 1101l12 0 13-2 18 8 0 10-5 6-13-2-25 0-17-4 0-10zM1602 1099l18 8-5 5-13 0-13-5 0-6zM1307 1110l24 0 18 7-5 6-25 0-12-2-9-4-9-7zM1553 1110l18 7 0 19-18 0-18-8 0-18zM1701 1115l9 2-9 4-5-4 0-2zM1405 1121l18 7 0 19-18 0-13-8 5-3 0-8-5-5zM1479 1136l13 3 5 8 0 11-18-2-13-6 0-11 5-3zM1627 1137l9 2 0 4-9 0-9-4zM1799 1148l3 2-3 2-9-2zM1356 1171l9 1 0 4-9 0-9-4 4-2zM1159 1177l17 6-4 6-13 0-8-6 0-4zM1208 1175l13 8 0 6-13 0-18-6 0-8zM1331 1179l9 4-6 1-12-1 0-4zM1528 1179l9 4-4 2-5 2-9-4 7-1zM1578 1179l9 4-5 2-13-2 0-4zM1627 1177l25 0 17 6-17 6-25 0-18-6 0-8zM1701 1179l9 4-9 2-9-2zM1775 1175l18 8-5 6-13 2-18-8 0-8z" fill="#c8f040" fill-rule="evenodd"/>
<path transform="scale(.25)" d="M1479 951l7 3 0 3-7 4-15-7 4-5zM1356 962l11 3 0 5-11 2-15-7 8-3zM1356 1019l2 1-2 0zM1726 1015l14 4-4 5-10-2-7-3-4-4zM1381 1040l9-5 15 0 15 13 0 26-4 5-26-5-24-11 0-7 24 0 0-4-12-11 0-1zM1331 1046l15 6 0 7-15 0-15-7 5-5zM1479 1046l15 6 0 7-15 0-11-7 0-5zM1578 1049l14 3 0 11 25 11-4 5-11 1-39-17 0-11 8-3zM1799 1052l0 1-2-1zM1208 1062l2 2-3-1zM1652 1056l24 2 11 5 0 5-11-2-18 0-6 4-15-7 0-7zM1750 1063l2 1-4-1zM1553 1073l2 1-2 1-2-1zM1331 1078l15 7 0 6-15 0-15-6 5-5zM1183 1089l50 0 14 7-4 4-10 2-35 0 0 11-15 0-14-6 4-5 0-11zM1454 1102l14 0 11-2 15 7 0 10-4 5-11-2-25 0-14-3 0-10zM1602 1100l15 7-4 4-11 0-10-4 0-5zM1307 1111l24 0 15 6-4 5-25 0-10-2-7-3-8-6zM1553 1111l15 6 0 18-15 0-15-7 0-17zM1701 1117l2 0-2 1-1-1zM1405 1122l15 6 0 18-15 0-11-7 4-3 0-8-4-4zM1479 1136l11 3 4 7 0 11-15-2-11-5 0-11 4-3zM1627 1139l2 1-4-1zM1799 1150l0 1-2-1zM1356 1172l2 1-4-1zM1159 1178l15 5-5 5-10 0-7-5 0-3zM1208 1176l11 7 0 5-11 0-15-5 0-7zM1331 1182l2 1-4 0 0-1zM1528 1182l3 1-3 1-2-1zM1578 1182l2 1-1 0-4 0 0-1zM1627 1178l25 0 14 5-14 5-25 0-15-5 0-7zM1701 1182l2 1-4 0zM1775 1176l15 7-4 5-11 1-15-6 0-7z" fill="#eee63f" fill-rule="evenodd"/>
<path transform="scale(.25)" d="M1479 952l6 2 0 2-6 3-12-5 4-4zM1356 963l8 2 0 4-8 1-12-5 6-2zM1726 1016l11 3-3 4-8-1-6-3-3-3zM1405 1036l12 10 0 28-3 4-21-4-24-11 0-5 24 0 0-6-9-9 0-2 9-5zM1331 1047l12 5 0 5-12 0-12-5 4-4zM1479 1047l12 5 0 5-12 0-8-5 0-4zM1578 1050l11 2 0 11 25 11-3 4-9 1-36-16 0-11 6-2zM1652 1058l24 1 9 4 0 4-9-2-19 0-5 3-12-5 0-5zM1331 1080l12 5 0 5-12 0-12-5 4-4zM1183 1090l50 0 11 6-3 3-8 2-38 0 0 11-12 0-11-5 3-4 0-11zM1454 1103l17 0 8-2 12 6 0 10-3 4-9-1-25 0-11-3 0-10zM1602 1101l12 6-3 3-9 0-8-3 0-4zM1307 1112l24 0 12 5-3 4-25 0-8-1-6-3-6-5zM1553 1112l12 5 0 17-12 0-12-6 0-16zM1405 1123l12 5 0 16-12 0-8-5 3-2 0-9-3-3zM1479 1137l9 2 3 5 0 11-12-1-8-4 0-11 3-2zM1159 1179l12 4-4 4-8 0-6-4 0-3zM1208 1178l9 5 0 4-9 0-12-4 0-5zM1627 1179l25 0 11 4-11 4-25 0-12-4 0-5zM1775 1178l12 5-4 4-8 1-12-5 0-5z" fill="#e89a35" fill-rule="evenodd"/>
<path transform="scale(.25)" d="M1479 952l4 2 0 2-4 2-8-4 2-2zM1356 963l6 2 0 2-6 1-8-3zM1726 1017l7 2-2 3-5-1-6-4zM1405 1038l8 7 0 29-2 2-14-2-24-11 0-3 24 0 0-8-6-6 0-5 6-3zM1331 1049l8 3 0 4-8 0-8-4 3-2zM1479 1049l8 3 0 4-8 0-6-4 0-2zM1578 1050l8 2 0 11 24 11-2 2-6 1-32-14 0-11zM1652 1060l24 0 6 3 0 3-27-1-3 1-8-3 0-3zM1331 1081l8 4 0 3-8 0-8-3 3-3zM1183 1092l50 0 8 4-3 2-5 1-42 0 0 11-8 0-8-3 3-3 0-11zM1454 1104l25-1 8 4 0 10-2 3-31-1-7-2 0-10zM1602 1103l8 4-2 2-6 0-5-2 0-3zM1307 1114l24 0 8 3-2 3-25 0-5-1-8-5zM1553 1114l8 3 0 15-8 0-8-4 0-14zM1405 1125l8 3 0 15-8 0-6-4 2-1 0-10-2-2zM1479 1138l6 1 2 4 0 11-8-1-6-3 0-11 2-1zM1159 1180l8 3-3 2-5 0-4-2 0-2zM1208 1179l6 4 0 2-6 0-8-2 0-4zM1627 1180l25 0 7 3-7 2-25 0-8-2 0-4zM1775 1179l8 4-2 2-6 1-8-3 0-4z" fill="#f04f22" fill-rule="evenodd"/>
<path transform="scale(.25)" d="M1479 953l2 1-2 2-4-2 1-1zM1356 964l3 1 0 1-3 1-4-2zM1726 1018l3 1-1 2-2-1-3-2zM1405 1039l4 4 0 31-1 1-7-1-24-11 0-2 24 0 0-9-3-3 0-8 3-2zM1331 1050l4 2 0 2-8-2zM1479 1050l4 2 0 2-4 0-3-2 0-1zM1578 1051l4 1 0 11 24 11-4 2-28-13 0-11zM1652 1061l20 0 7 2 0 1-26 0-1 1-4-2 0-2zM1331 1083l4 2 0 2-8-2zM1183 1094l50 0 4 2-4 1-46 0 0 11-4 0-4-1 2-2 0-11zM1454 1105l25 0 4 2 0 10-1 2-32-2 0-10zM1602 1105l4 2-1 1-6-1 0-2zM1307 1116l24 0 4 1-1 2-25 0-6-3zM1553 1116l4 1 0 13-8-2 0-12zM1405 1127l4 1 0 13-4 0-3-2 1-1 0-10-1-1zM1479 1138l4 3 0 11-7-2 0-11zM1159 1182l4 1-4 1-2-2zM1208 1181l3 3-7-1 0-2zM1627 1182l25 0 4 1-4 1-25 0-4-1 0-2zM1775 1181l4 2-4 2-4-2 0-2z" fill="#f02b19" fill-rule="evenodd"/>
<path transform="scale(.25)" d="M1479 954l0 1-2-1zM1356 965l1 1-3-1zM1405 1040l2 2-1 32-27-11 24-1-1-21zM1331 1051l2 2-4-1zM1479 1051l2 2-3-1zM1578 1052l1 0 0 11 25 11-2 1-26-12 0-11zM1652 1062l22 0 3 2-25 0-2-1zM1331 1084l2 2-4-1zM1183 1095l51 1-49 0 0 11-2 0-1 0 0-12zM1454 1106l25 0 2 1 0 10-28 0 0-10zM1602 1106l2 1-2 0-1 0zM1307 1117l26 0-25 1-3-1zM1553 1117l2 0 0 12-4-1 0-11zM1405 1128l2 0 0 12-3-1 0-11zM1479 1139l2 1 0 11-3-1 0-11zM1159 1182l1 1-1 0zM1208 1182l1 1-3 0zM1627 1182l26 1-26 0-2 0zM1775 1182l2 1-2 1-2-1z" fill="#f02818" fill-rule="evenodd"/>
</g>
<rect x="286.60" y="207.10" width="179.40" height="166.40" fill="none" stroke="#333" stroke-width="0.9"/>
<line x1="283.60" y1="373.50" x2="286.60" y2="373.50" stroke="#333" stroke-width="0.8"/>
<text x="281.20" y="376.90" font-size="9.9" text-anchor="end" fill="#111" stroke="#111" stroke-width="0.42" font-weight="bold">0</text>
<line x1="285.00" y1="359.63" x2="286.60" y2="359.63" stroke="#333" stroke-width="0.8"/>
<line x1="283.60" y1="345.77" x2="286.60" y2="345.77" stroke="#333" stroke-width="0.8"/>
<text x="281.20" y="349.17" font-size="9.9" text-anchor="end" fill="#111" stroke="#111" stroke-width="0.42" font-weight="bold">10</text>
<line x1="285.00" y1="331.90" x2="286.60" y2="331.90" stroke="#333" stroke-width="0.8"/>
<line x1="283.60" y1="318.03" x2="286.60" y2="318.03" stroke="#333" stroke-width="0.8"/>
<text x="281.20" y="321.43" font-size="9.9" text-anchor="end" fill="#111" stroke="#111" stroke-width="0.42" font-weight="bold">20</text>
<line x1="285.00" y1="304.17" x2="286.60" y2="304.17" stroke="#333" stroke-width="0.8"/>
<line x1="283.60" y1="290.30" x2="286.60" y2="290.30" stroke="#333" stroke-width="0.8"/>
<text x="281.20" y="293.70" font-size="9.9" text-anchor="end" fill="#111" stroke="#111" stroke-width="0.42" font-weight="bold">30</text>
<line x1="285.00" y1="276.43" x2="286.60" y2="276.43" stroke="#333" stroke-width="0.8"/>
<line x1="283.60" y1="262.57" x2="286.60" y2="262.57" stroke="#333" stroke-width="0.8"/>
<text x="281.20" y="265.97" font-size="9.9" text-anchor="end" fill="#111" stroke="#111" stroke-width="0.42" font-weight="bold">40</text>
<line x1="285.00" y1="248.70" x2="286.60" y2="248.70" stroke="#333" stroke-width="0.8"/>
<line x1="283.60" y1="234.83" x2="286.60" y2="234.83" stroke="#333" stroke-width="0.8"/>
<text x="281.20" y="238.23" font-size="9.9" text-anchor="end" fill="#111" stroke="#111" stroke-width="0.42" font-weight="bold">50</text>
<line x1="285.00" y1="220.97" x2="286.60" y2="220.97" stroke="#333" stroke-width="0.8"/>
<line x1="283.60" y1="207.10" x2="286.60" y2="207.10" stroke="#333" stroke-width="0.8"/>
<text x="281.20" y="210.50" font-size="9.9" text-anchor="end" fill="#111" stroke="#111" stroke-width="0.42" font-weight="bold">60</text>
<line x1="286.60" y1="373.50" x2="286.60" y2="376.50" stroke="#333" stroke-width="0.8"/>
<text x="286.60" y="386.90" font-size="10.0" text-anchor="middle" fill="#111" stroke="#111" stroke-width="0.42" font-weight="bold">0</text>
<line x1="317.40" y1="373.50" x2="317.40" y2="376.50" stroke="#333" stroke-width="0.8"/>
<text x="317.40" y="386.90" font-size="10.0" text-anchor="middle" fill="#111" stroke="#111" stroke-width="0.42" font-weight="bold">5</text>
<line x1="348.21" y1="373.50" x2="348.21" y2="376.50" stroke="#333" stroke-width="0.8"/>
<text x="348.21" y="386.90" font-size="10.0" text-anchor="middle" fill="#111" stroke="#111" stroke-width="0.42" font-weight="bold">10</text>
<line x1="379.01" y1="373.50" x2="379.01" y2="376.50" stroke="#333" stroke-width="0.8"/>
<text x="379.01" y="386.90" font-size="10.0" text-anchor="middle" fill="#111" stroke="#111" stroke-width="0.42" font-weight="bold">15</text>
<line x1="409.81" y1="373.50" x2="409.81" y2="376.50" stroke="#333" stroke-width="0.8"/>
<text x="409.81" y="386.90" font-size="10.0" text-anchor="middle" fill="#111" stroke="#111" stroke-width="0.42" font-weight="bold">20</text>
<line x1="440.62" y1="373.50" x2="440.62" y2="376.50" stroke="#333" stroke-width="0.8"/>
<text x="440.62" y="386.90" font-size="10.0" text-anchor="middle" fill="#111" stroke="#111" stroke-width="0.42" font-weight="bold">25</text>
<line x1="302.00" y1="373.50" x2="302.00" y2="375.10" stroke="#333" stroke-width="0.8"/>
<line x1="332.81" y1="373.50" x2="332.81" y2="375.10" stroke="#333" stroke-width="0.8"/>
<line x1="363.61" y1="373.50" x2="363.61" y2="375.10" stroke="#333" stroke-width="0.8"/>
<line x1="394.41" y1="373.50" x2="394.41" y2="375.10" stroke="#333" stroke-width="0.8"/>
<line x1="425.22" y1="373.50" x2="425.22" y2="375.10" stroke="#333" stroke-width="0.8"/>
<line x1="456.02" y1="373.50" x2="456.02" y2="375.10" stroke="#333" stroke-width="0.8"/>
<text x="376.30" y="403.90" font-size="10.6" text-anchor="middle" fill="#111" stroke="#111" stroke-width="0.42" font-weight="bold">Y (Å)</text>
<text x="0" y="0" font-size="10.6" font-weight="bold" text-anchor="middle" fill="#111" stroke="#111" stroke-width="0.42" transform="translate(266.30,290.30) rotate(-90)">Z (Å)</text>
<rect x="216.10" y="207.80" width="14.50" height="6.11" fill="#f02918"/>
<rect x="216.10" y="212.91" width="14.50" height="6.11" fill="#f02a19"/>
<rect x="216.10" y="218.01" width="14.50" height="6.11" fill="#f02c1a"/>
<rect x="216.10" y="223.12" width="14.50" height="6.11" fill="#f04620"/>
<rect x="216.10" y="228.22" width="14.50" height="6.11" fill="#ee6027"/>
<rect x="216.10" y="233.33" width="14.50" height="6.11" fill="#e9792e"/>
<rect x="216.10" y="238.44" width="14.50" height="6.11" fill="#e89e36"/>
<rect x="216.10" y="243.54" width="14.50" height="6.11" fill="#e9c43c"/>
<rect x="216.10" y="248.65" width="14.50" height="6.11" fill="#eee23f"/>
<rect x="216.10" y="253.76" width="14.50" height="6.11" fill="#e2f040"/>
<rect x="216.10" y="258.86" width="14.50" height="6.11" fill="#caf040"/>
<rect x="216.10" y="263.97" width="14.50" height="6.11" fill="#b0f040"/>
<rect x="216.10" y="269.07" width="14.50" height="6.11" fill="#93f040"/>
<rect x="216.10" y="274.18" width="14.50" height="6.11" fill="#73f03b"/>
<rect x="216.10" y="279.29" width="14.50" height="6.11" fill="#50f030"/>
<rect x="216.10" y="284.39" width="14.50" height="6.11" fill="#50f030"/>
<rect x="216.10" y="289.50" width="14.50" height="6.11" fill="#50f030"/>
<rect x="216.10" y="294.61" width="14.50" height="6.11" fill="#51f034"/>
<rect x="216.10" y="299.71" width="14.50" height="6.11" fill="#54f045"/>
<rect x="216.10" y="304.82" width="14.50" height="6.11" fill="#60f077"/>
<rect x="216.10" y="309.93" width="14.50" height="6.11" fill="#6ef19e"/>
<rect x="216.10" y="315.03" width="14.50" height="6.11" fill="#7bf5cc"/>
<rect x="216.10" y="320.14" width="14.50" height="6.11" fill="#72fefc"/>
<rect x="216.10" y="325.24" width="14.50" height="6.11" fill="#70feff"/>
<rect x="216.10" y="330.35" width="14.50" height="6.11" fill="#70fbff"/>
<rect x="216.10" y="335.46" width="14.50" height="6.11" fill="#53b3f6"/>
<rect x="216.10" y="340.56" width="14.50" height="6.11" fill="#4b9df2"/>
<rect x="216.10" y="345.67" width="14.50" height="6.11" fill="#448bf0"/>
<rect x="216.10" y="350.78" width="14.50" height="6.11" fill="#3764f0"/>
<rect x="216.10" y="355.88" width="14.50" height="6.11" fill="#201af6"/>
<rect x="216.10" y="360.99" width="14.50" height="6.11" fill="#1907f8"/>
<rect x="216.10" y="366.09" width="14.50" height="5.11" fill="#1806f8"/>
<rect x="216.10" y="207.80" width="14.50" height="163.40" fill="none" stroke="#222" stroke-width="0.8"/>
<line x1="230.60" y1="211.40" x2="232.40" y2="211.40" stroke="#222" stroke-width="0.8"/>
<text x="235.60" y="214.10" font-size="7.6" text-anchor="start" fill="#111" stroke="#111" stroke-width="0.42" font-weight="bold">0.10</text>
<line x1="230.60" y1="230.97" x2="232.40" y2="230.97" stroke="#222" stroke-width="0.8"/>
<text x="235.60" y="233.67" font-size="7.6" text-anchor="start" fill="#111" stroke="#111" stroke-width="0.42" font-weight="bold">0.09</text>
<line x1="230.60" y1="250.55" x2="232.40" y2="250.55" stroke="#222" stroke-width="0.8"/>
<text x="235.60" y="253.25" font-size="7.6" text-anchor="start" fill="#111" stroke="#111" stroke-width="0.42" font-weight="bold">0.08</text>
<line x1="230.60" y1="270.12" x2="232.40" y2="270.12" stroke="#222" stroke-width="0.8"/>
<text x="235.60" y="272.82" font-size="7.6" text-anchor="start" fill="#111" stroke="#111" stroke-width="0.42" font-weight="bold">0.06</text>
<line x1="230.60" y1="289.70" x2="232.40" y2="289.70" stroke="#222" stroke-width="0.8"/>
<text x="235.60" y="292.40" font-size="7.6" text-anchor="start" fill="#111" stroke="#111" stroke-width="0.42" font-weight="bold">0.05</text>
<line x1="230.60" y1="309.28" x2="232.40" y2="309.28" stroke="#222" stroke-width="0.8"/>
<text x="235.60" y="311.98" font-size="7.6" text-anchor="start" fill="#111" stroke="#111" stroke-width="0.42" font-weight="bold">0.04</text>
<line x1="230.60" y1="328.85" x2="232.40" y2="328.85" stroke="#222" stroke-width="0.8"/>
<text x="235.60" y="331.55" font-size="7.6" text-anchor="start" fill="#111" stroke="#111" stroke-width="0.42" font-weight="bold">0.03</text>
<line x1="230.60" y1="348.43" x2="232.40" y2="348.43" stroke="#222" stroke-width="0.8"/>
<text x="235.60" y="351.13" font-size="7.6" text-anchor="start" fill="#111" stroke="#111" stroke-width="0.42" font-weight="bold">0.01</text>
<line x1="230.60" y1="368.00" x2="232.40" y2="368.00" stroke="#222" stroke-width="0.8"/>
<text x="235.60" y="370.70" font-size="7.6" text-anchor="start" fill="#111" stroke="#111" stroke-width="0.42" font-weight="bold">0.00</text>
<rect x="475.60" y="207.60" width="14.70" height="6.19" fill="#f02918"/>
<rect x="475.60" y="212.79" width="14.70" height="6.19" fill="#f02a19"/>
<rect x="475.60" y="217.99" width="14.70" height="6.19" fill="#f02c1a"/>
<rect x="475.60" y="223.18" width="14.70" height="6.19" fill="#f04620"/>
<rect x="475.60" y="228.38" width="14.70" height="6.19" fill="#ee6027"/>
<rect x="475.60" y="233.57" width="14.70" height="6.19" fill="#e9792e"/>
<rect x="475.60" y="238.76" width="14.70" height="6.19" fill="#e89e36"/>
<rect x="475.60" y="243.96" width="14.70" height="6.19" fill="#e9c43c"/>
<rect x="475.60" y="249.15" width="14.70" height="6.19" fill="#eee23f"/>
<rect x="475.60" y="254.34" width="14.70" height="6.19" fill="#e2f040"/>
<rect x="475.60" y="259.54" width="14.70" height="6.19" fill="#caf040"/>
<rect x="475.60" y="264.73" width="14.70" height="6.19" fill="#b0f040"/>
<rect x="475.60" y="269.93" width="14.70" height="6.19" fill="#93f040"/>
<rect x="475.60" y="275.12" width="14.70" height="6.19" fill="#73f03b"/>
<rect x="475.60" y="280.31" width="14.70" height="6.19" fill="#50f030"/>
<rect x="475.60" y="285.51" width="14.70" height="6.19" fill="#50f030"/>
<rect x="475.60" y="290.70" width="14.70" height="6.19" fill="#50f030"/>
<rect x="475.60" y="295.89" width="14.70" height="6.19" fill="#51f034"/>
<rect x="475.60" y="301.09" width="14.70" height="6.19" fill="#54f045"/>
<rect x="475.60" y="306.28" width="14.70" height="6.19" fill="#60f077"/>
<rect x="475.60" y="311.48" width="14.70" height="6.19" fill="#6ef19e"/>
<rect x="475.60" y="316.67" width="14.70" height="6.19" fill="#7bf5cc"/>
<rect x="475.60" y="321.86" width="14.70" height="6.19" fill="#72fefc"/>
<rect x="475.60" y="327.06" width="14.70" height="6.19" fill="#70feff"/>
<rect x="475.60" y="332.25" width="14.70" height="6.19" fill="#70fbff"/>
<rect x="475.60" y="337.44" width="14.70" height="6.19" fill="#53b3f6"/>
<rect x="475.60" y="342.64" width="14.70" height="6.19" fill="#4b9df2"/>
<rect x="475.60" y="347.83" width="14.70" height="6.19" fill="#448bf0"/>
<rect x="475.60" y="353.02" width="14.70" height="6.19" fill="#3764f0"/>
<rect x="475.60" y="358.22" width="14.70" height="6.19" fill="#201af6"/>
<rect x="475.60" y="363.41" width="14.70" height="6.19" fill="#1907f8"/>
<rect x="475.60" y="368.61" width="14.70" height="5.19" fill="#1806f8"/>
<rect x="475.60" y="207.60" width="14.70" height="166.20" fill="none" stroke="#222" stroke-width="0.8"/>
<line x1="490.30" y1="211.20" x2="492.10" y2="211.20" stroke="#222" stroke-width="0.8"/>
<text x="495.30" y="213.90" font-size="7.6" text-anchor="start" fill="#111" stroke="#111" stroke-width="0.42" font-weight="bold">0.10</text>
<line x1="490.30" y1="231.12" x2="492.10" y2="231.12" stroke="#222" stroke-width="0.8"/>
<text x="495.30" y="233.82" font-size="7.6" text-anchor="start" fill="#111" stroke="#111" stroke-width="0.42" font-weight="bold">0.09</text>
<line x1="490.30" y1="251.05" x2="492.10" y2="251.05" stroke="#222" stroke-width="0.8"/>
<text x="495.30" y="253.75" font-size="7.6" text-anchor="start" fill="#111" stroke="#111" stroke-width="0.42" font-weight="bold">0.08</text>
<line x1="490.30" y1="270.98" x2="492.10" y2="270.98" stroke="#222" stroke-width="0.8"/>
<text x="495.30" y="273.68" font-size="7.6" text-anchor="start" fill="#111" stroke="#111" stroke-width="0.42" font-weight="bold">0.06</text>
<line x1="490.30" y1="290.90" x2="492.10" y2="290.90" stroke="#222" stroke-width="0.8"/>
<text x="495.30" y="293.60" font-size="7.6" text-anchor="start" fill="#111" stroke="#111" stroke-width="0.42" font-weight="bold">0.05</text>
<line x1="490.30" y1="310.83" x2="492.10" y2="310.83" stroke="#222" stroke-width="0.8"/>
<text x="495.30" y="313.53" font-size="7.6" text-anchor="start" fill="#111" stroke="#111" stroke-width="0.42" font-weight="bold">0.04</text>
<line x1="490.30" y1="330.75" x2="492.10" y2="330.75" stroke="#222" stroke-width="0.8"/>
<text x="495.30" y="333.45" font-size="7.6" text-anchor="start" fill="#111" stroke="#111" stroke-width="0.42" font-weight="bold">0.03</text>
<line x1="490.30" y1="350.68" x2="492.10" y2="350.68" stroke="#222" stroke-width="0.8"/>
<text x="495.30" y="353.38" font-size="7.6" text-anchor="start" fill="#111" stroke="#111" stroke-width="0.42" font-weight="bold">0.01</text>
<line x1="490.30" y1="370.60" x2="492.10" y2="370.60" stroke="#222" stroke-width="0.8"/>
<text x="495.30" y="373.30" font-size="7.6" text-anchor="start" fill="#111" stroke="#111" stroke-width="0.42" font-weight="bold">0.00</text>
<text x="33.3" y="222.20" font-size="12.6" fill="#ee1c1c" font-weight="bold">(b) 010</text>
<clipPath id="mdclip101"><rect x="523.60" y="206.00" width="159.70" height="171.20"/></clipPath>
<rect x="523.60" y="206.00" width="159.70" height="171.20" fill="#ffffff"/>
<g clip-path="url(#mdclip101)">
<path transform="scale(.1)" d="M5288 2125L5269 2146 5271 2166M5269 2146l-30 4M5376 2084L5390 2109 5416 2104M5390 2109l-12 28M5376 2084l-27 0M5464 2102L5446 2091 5425 2101M5446 2091l8-30M5464 2102l23-7M5490 2125L5491 2096 5464 2087M5490 2125l-25 16M5602 2069L5595 2091 5613 2106M5595 2091l-23 1M5602 2069l-13-16M5661 2082L5687 2080 5707 2068M5687 2080l13 22M5661 2082l-9-22M5710 2109L5709 2082 5682 2074M5709 2082l22-15M5796 2090L5821 2102 5843 2080M5796 2090l-9-30M5870 2074L5875 2099 5896 2115M5875 2099l-25 18M5870 2074l22-16M5942 2087L5959 2105 5986 2091M5959 2105l-5 23M5942 2087l-24 1M6026 2089L6004 2107 6020 2132M6004 2107l-19-6M6026 2089l22 12M6103 2067L6084 2083 6093 2104M6204 2098L6192 2125 6205 2145M6192 2125l-31-3M6204 2098l-15-20M6275 2133L6255 2140 6247 2162M6255 2140l-19-17M6300 2078L6311 2103 6340 2105M6311 2103l-15 16M6377 2080L6386 2105 6401 2121M6386 2105l-26 14M6377 2080l12-23M6451 2071L6476 2075 6493 2051M6546 2132L6536 2114 6515 2101M6536 2114l26-13M6605 2103L6601 2077 6582 2059M6605 2103l-20 20M6714 2097L6698 2076 6673 2075M6698 2076l9-27M6714 2097l-5 26M6790 2094L6763 2086 6750 2107M6763 2086l-14-17M6790 2094l16-17M5238 2128L5227 2153 5236 2173M5227 2153l-19 3M5238 2128l28-4M5285 2185L5299 2199 5323 2206M5299 2199l-10 27M5285 2185l9-28M5405 2149L5411 2175 5438 2188M5411 2175l-28 11M5487 2156L5479 2183 5498 2203M5479 2183l-27 7M5487 2156l-21-22M5561 2205L5542 2213 5544 2242M5542 2213l-20-20M5561 2205l11-29M5614 2186L5603 2212 5615 2229M5603 2212l-21 18M5614 2186l-17-23M5683 2189L5702 2199 5720 2176M5702 2199l0 25M5683 2189l-21 17M5712 2140L5730 2155 5758 2157M5730 2155l-10 19M5712 2140l3-23M5820 2193L5805 2174 5779 2178M5820 2193l-6 23M5956 2231L5939 2213 5916 2218M5939 2213l4-22M6033 2167L6006 2157 5988 2163M6033 2167l23-17M6072 2176L6070 2205 6096 2215M6070 2205l-29 2M6072 2176l-15-12M6148 2230L6151 2207 6133 2188M6151 2207l23-7M6203 2167L6180 2162 6158 2179M6203 2167l14-19M6318 2198L6297 2203 6297 2232M6361 2206L6377 2181 6366 2165M6377 2181l19-10M6475 2174L6450 2159 6432 2179M6450 2159l2-23M6475 2174l-1 20M6537 2233L6528 2213 6506 2212M6587 2144L6561 2153 6559 2176M6561 2153l-18-22M6658 2174L6648 2199 6663 2212M6648 2199l-30 0M6658 2174l23 0M6732 2135L6708 2153 6699 2179M6708 2153l-19-19M6779 2231L6777 2209 6752 2197M6779 2231l20 11M5259 2248L5282 2240 5285 2218M5282 2240l6 23M5259 2248l-2 24M5284 2244L5307 2230 5306 2204M5307 2230l14 26M5284 2244l6 29M5455 2288L5431 2288 5419 2311M5455 2288l15 26M5432 2233L5461 2229 5464 2206M5461 2229l8 23M5551 2314L5557 2287 5546 2270M5557 2287l27-13M5557 2265L5588 2268 5589 2245M5588 2268l8 18M5557 2265l-15 22M5695 2263L5717 2256 5718 2233M5695 2263l-23-20M5755 2268L5772 2281 5793 2267M5772 2281l-1 30M5755 2268l0-20M5849 2238L5823 2242 5829 2270M5823 2242l-18-7M5910 2278L5925 2263 5929 2234M5910 2278l-21-5M5972 2262L5990 2247 5982 2217M5990 2247l21 1M6060 2251L6090 2243 6095 2219M6060 2251l-2 24M6165 2296L6146 2288 6124 2295M6146 2288l10-26M6165 2296l24-19M6191 2249L6201 2226 6182 2215M6201 2226l17-14M6241 2224L6263 2227 6277 2209M6263 2227l4 26M6241 2224l-13 27M6314 2211L6332 2231 6348 2212M6332 2231l-2 25M6314 2211l-21 4M6426 2275L6418 2249 6400 2235M6418 2249l26-8M6426 2275l-14 24M6517 2256L6498 2271 6508 2290M6498 2271l-26-8M6578 2291L6587 2272 6577 2254M6650 2288L6640 2271 6615 2264M6640 2271l9-25M6650 2288l28 5M6728 2251L6726 2231 6704 2222M6726 2231l15-14M6817 2261L6799 2245 6771 2258M6799 2245l13-26M5285 2316L5311 2313 5325 2299M5311 2313l5 20M5385 2314L5365 2329 5360 2347M5365 2329l-22-9M5385 2314l28 5M5407 2319L5429 2298 5424 2279M5429 2298l25 4M5463 2359L5486 2368 5497 2345M5486 2368l0 28M5463 2359l-6-21M5580 2328L5605 2328 5615 2301M5605 2328l19 16M5580 2328l-7 21M5652 2316L5674 2315 5675 2291M5674 2315l13 20M5652 2316l-20-21M5753 2389L5750 2365 5731 2357M5753 2389l-18 16M5811 2351L5828 2330 5824 2307M5828 2330l26 2M5811 2351l4 19M5896 2358L5916 2363 5935 2353M5916 2363l13 25M5896 2358l-2-24M5942 2342L5928 2326 5898 2323M5928 2326l13-25M5942 2342l-12 21M6052 2315L6027 2316 6025 2339M6027 2316l-7-19M6052 2315l12-22M6131 2300L6112 2306 6119 2329M6112 2306l-24-19M6131 2300l17 19M6189 2379L6194 2358 6167 2348M6194 2358l28-11M6206 2364L6222 2346 6224 2323M6222 2346l25 10M6290 2359L6309 2342 6312 2320M6309 2342l30 5M6290 2359l3 29M6422 2384L6411 2367 6384 2358M6411 2367l19-13M6422 2384l28-1M6504 2295L6491 2320 6515 2330M6491 2320l-18 13M6504 2295l-10-29M6577 2318L6560 2306 6542 2322M6638 2346L6633 2326 6614 2319M6689 2297L6676 2313 6685 2335M6676 2313l-21 8M6689 2297l21-2M6751 2383L6747 2354 6717 2350M5224 2357L5235 2383 5257 2379M5235 2383l-9 19M5290 2440L5304 2423 5293 2397M5304 2423l28 4M5290 2440l-19-8M5429 2423L5406 2418 5390 2439M5520 2402L5500 2402 5491 2423M5500 2402l-5-23M5512 2363L5516 2383 5545 2394M5516 2383l-22 20M5512 2363l14-13M5638 2441L5622 2422 5592 2424M5622 2422l0-26M5727 2430L5722 2407 5703 2395M5722 2407l18-24M5765 2388L5749 2412 5764 2430M5879 2416L5870 2393 5846 2391M5870 2393l6-23M5879 2416l29 4M5965 2443L5943 2435 5937 2457M5943 2435l-15-15M6008 2429L5993 2404 5970 2398M5993 2404l17-24M6060 2385L6037 2377 6020 2395M6037 2377l-16-22M6060 2385l24-16M6090 2393L6105 2414 6132 2414M6105 2414l-7 22M6194 2434L6222 2442 6237 2425M6222 2442l8 23M6194 2434l-7-22M6313 2454L6289 2442 6263 2448M6356 2399L6349 2379 6322 2365M6349 2379l15-23M6385 2407L6400 2390 6400 2368M6400 2390l22 21M6385 2407l-23-4M6481 2441L6504 2441 6524 2421M6504 2441l9 28M6578 2401L6562 2386 6542 2381M6562 2386l7-28M6659 2419L6664 2397 6642 2393M6664 2397l24-7M6659 2419l-27 4M6709 2388L6727 2380 6735 2358M6709 2388l3 28M6815 2459L6820 2436 6803 2413M6820 2436l20-8M5346 2486L5330 2467 5302 2455M5346 2486l-12 21M5361 2487L5344 2465 5324 2469M5344 2465l16-16M5361 2487l19 1M5496 2498L5475 2477 5448 2483M5496 2498l26-4M5530 2440L5502 2454 5501 2477M5530 2440l20 12M5594 2473L5573 2475 5563 2501M5714 2533L5697 2507 5677 2507M5697 2507l19-13M5714 2533l29-8M5769 2518L5759 2498 5733 2490M5759 2498l12-18M5783 2482L5795 2500 5823 2496M5795 2500l-20 16M5783 2482l12-17M5854 2464L5871 2481 5891 2471M5871 2481l2 19M5913 2485L5932 2508 5959 2500M5932 2508l-3 19M6020 2461L6012 2486 6028 2502M6012 2486l-26-6M6098 2473L6121 2490 6140 2494M6214 2476L6195 2470 6173 2477M6195 2470l7-26M6214 2476l24-16M6295 2529L6276 2511 6252 2525M6276 2511l-1-27M6325 2497L6338 2514 6365 2524M6338 2514l-11 18M6325 2497l-20 7M6454 2438L6427 2447 6409 2466M6427 2447l-13-19M6489 2469L6489 2449 6477 2425M6489 2449l27-4M6489 2469l-24 16M6580 2466L6561 2470 6553 2498M6561 2470l-18-9M6580 2466l13-20M6673 2449L6648 2446 6633 2466M6648 2446l-3-20M6673 2449l14 26M6735 2463L6727 2446 6705 2446M6735 2463l24-3M6742 2415L6742 2443 6760 2450M6742 2443l-26 8M6742 2415l-22-14M5266 2558L5287 2577 5307 2564M5287 2577l5 19M5266 2558l-20 9M5381 2544L5356 2530 5341 2547M5356 2530l4-22M5381 2544l6 27M5393 2569L5415 2574 5434 2566M5486 2516L5491 2536 5513 2544M5491 2536l-12 17M5486 2516l-22-13M5555 2571L5580 2569 5578 2547M5580 2569l17 22M5657 2533L5635 2537 5619 2550M5635 2537l-20-21M5683 2553L5689 2572 5711 2577M5689 2572l-11 17M5683 2553l-27-8M5795 2542L5771 2552 5768 2572M5771 2552l-22-20M5795 2542l3-21M5893 2530L5871 2547 5868 2567M5871 2547l-25-15M5931 2499L5940 2519 5963 2513M5940 2519l-13 20M5974 2556L5992 2568 6014 2555M6050 2563L6031 2567 6034 2594M6031 2567l-19-19M6050 2563l8-24M6103 2566L6123 2562 6126 2534M6123 2562l11 17M6210 2502L6219 2526 6239 2529M6219 2526l-26 11M6330 2545L6313 2534 6296 2548M6330 2545l20-9M6321 2530L6333 2548 6353 2544M6321 2530l9-27M6380 2535L6402 2523 6393 2505M6402 2523l25 8M6514 2504L6522 2523 6548 2524M6522 2523l-3 22M6514 2504l-26-1M6602 2591L6581 2581 6566 2594M6581 2581l3-25M6602 2591l20-10M6633 2554L6648 2576 6669 2566M6648 2576l-11 22M6633 2554l-26-4M6742 2508L6747 2528 6770 2539M6747 2528l-20 13M6779 2596L6770 2574 6745 2564M6770 2574l19-18M6779 2596l-14 13M5354 2661L5333 2642 5316 2656M5333 2642l-3-23M5354 2661l-1 28M5402 2651L5384 2660 5394 2684M5384 2660l-22-2M5402 2651l-3-24M5489 2659L5472 2645 5452 2650M5472 2645l-1-27M5489 2659l-5 23M5569 2609L5557 2593 5534 2593M5557 2593l12-19M5569 2609l-9 22M5616 2656L5620 2632 5603 2623M5620 2632l16-10M5616 2656l18 20M5674 2601L5645 2608 5642 2628M5645 2608l-23-9M5774 2648L5765 2628 5738 2621M5765 2628l15-24M5824 2581L5828 2611 5855 2617M5828 2611l-16 15M5927 2638L5902 2654 5908 2676M5902 2654l-17-15M6001 2605L6003 2630 6023 2648M6003 2630l-22 6M6080 2615L6060 2596 6031 2603M6060 2596l1-20M6074 2639L6094 2631 6083 2602M6094 2631l23 5M6074 2639l-15-15M6214 2574L6213 2598 6233 2605M6220 2618L6242 2626 6259 2604M6220 2618l-5-28M6307 2590L6326 2600 6349 2599M6307 2590l2-27M6367 2620L6389 2621 6389 2593M6500 2623L6505 2602 6491 2586M6505 2602l22-19M6500 2623l22 21M6559 2581L6579 2595 6604 2581M6579 2595l2 20M6644 2636L6616 2639 6613 2658M6616 2639l-15-23M6669 2588L6673 2613 6688 2626M6673 2613l-22 9M6669 2588l21-20M6775 2615L6757 2606 6729 2620M5267 2699L5289 2716 5313 2700M5289 2716l-5 19M5267 2699l7-22M5386 2669L5412 2681 5425 2665M5412 2681l8 19M5501 2707L5482 2686 5464 2702M5559 2731L5550 2706 5533 2693M5611 2710L5595 2728 5592 2751M5595 2728l-19-7M5611 2710l-2-27M5695 2707L5692 2686 5673 2678M5692 2686l13-27M5745 2664L5757 2685 5784 2698M5745 2664l12-17M5792 2708L5811 2732 5834 2720M5811 2732l5 19M5912 2655L5930 2674 5958 2676M5930 2674l-19 19M5912 2655l-25 9M5983 2730L6000 2715 5998 2687M5983 2730l-17-11M6010 2649L6014 2671 6030 2683M6014 2671l-21 13M6093 2744L6115 2728 6107 2707M6115 2728l20 7M6093 2744l-26-15M6213 2662L6218 2681 6244 2696M6218 2681l-22 15M6263 2703L6263 2731 6279 2755M6263 2703l-28-12M6302 2664L6321 2671 6338 2650M6321 2671l16 24M6302 2664l-12 15M6380 2721L6408 2713 6413 2688M6408 2713l15 19M6380 2721l-2 30M6517 2701L6512 2727 6528 2740M6512 2727l-19 7M6506 2692L6528 2676 6528 2653M6528 2676l22 12M6506 2692l5 22M6591 2682L6609 2707 6638 2710M6609 2707l-23 16M6591 2682l8-22M6728 2729L6701 2731 6692 2758M6728 2729l16 21M6781 2679L6788 2708 6814 2702M5283 2824L5277 2802 5261 2789M5277 2802l16-16M5283 2824l21 6M5380 2812L5394 2797 5384 2779M5394 2797l29 3M5469 2773L5462 2749 5441 2743M5462 2749l20-18M5516 2772L5487 2763 5461 2776M5487 2763l-6-20M5516 2772l13-20M5628 2746L5605 2751 5584 2771M5605 2751l-9-29M5628 2746l20 13M5681 2775L5688 2799 5706 2808M5688 2799l-23 14M5681 2775l-21-6M5745 2794L5750 2772 5730 2753M5769 2800L5788 2796 5796 2769M5788 2796l15 15M5769 2800l-3 25M5835 2781L5863 2773 5873 2752M5994 2800L5975 2783 5963 2798M5975 2783l-1-22M6032 2776L6014 2801 6030 2825M6014 2801l-26-8M6032 2776l-8-25M6113 2747L6093 2767 6109 2786M6093 2767l-29-6M6113 2747l-6-29M6149 2775L6174 2788 6190 2772M6174 2788l0 27M6241 2794L6221 2783 6196 2799M6221 2783l-11-22M6241 2794l18-14M6307 2784L6324 2795 6343 2773M6307 2784l-19 7M6410 2780L6390 2778 6372 2797M6390 2778l-14-22M6410 2780l13 19M6522 2737L6503 2741 6498 2767M6503 2741l-17-11M6585 2791L6565 2771 6537 2767M6565 2771l16-18M6626 2749L6606 2757 6603 2778M6606 2757l-15-16M6626 2749l20 18M6699 2800L6674 2798 6657 2819M6674 2798l-5-26M6699 2800l14-20M6768 2812L6747 2807 6743 2831M6747 2807l-18-17M6768 2812l12-19M5248 2867L5270 2867 5282 2841M5370 2853L5363 2875 5388 2889M5363 2875l-19 7M5385 2864L5407 2861 5409 2841M5385 2864l-19-22M5486 2840L5473 2823 5448 2814M5473 2823l26-16M5594 2850L5572 2833 5545 2834M5572 2833l9-22M5613 2863L5637 2852 5651 2828M5720 2835L5741 2840 5764 2824M5811 2887L5799 2867 5771 2865M5799 2867l14-15M5811 2887l-8 23M5871 2895L5854 2883 5830 2896M5854 2883l3-27M5871 2895l-4 29M5940 2832L5914 2837 5903 2862M5940 2832l7-25M6026 2813L6040 2827 6063 2810M6040 2827l-15 27M6026 2813l13-27M6051 2816L6081 2822 6095 2805M6081 2822l10 24M6051 2816l-10-21M6210 2893L6197 2874 6172 2859M6197 2874l18-13M6210 2893l19-3M6223 2875L6212 2849 6192 2850M6212 2849l6-28M6266 2807L6290 2811 6305 2794M6290 2811l6 21M6266 2807l-14 21M6349 2874L6368 2861 6367 2833M6368 2861l18 4M6487 2844L6462 2831 6444 2840M6462 2831l-5-21M6517 2807L6538 2816 6549 2796M6517 2807l-14 13M6568 2817L6596 2817 6600 2797M6596 2817l23 18M6676 2831L6702 2838 6719 2821M6702 2838l-12 26M6784 2850L6768 2835 6747 2835M6768 2835l1-24M6784 2850l-8 21M5278 2933L5281 2902 5262 2901M5334 2956L5353 2940 5358 2918M5353 2940l17 16M5334 2956l-19-8M5420 2909L5395 2898 5366 2906M5395 2898l-3-22M5441 2914L5465 2919 5483 2897M5465 2919l17 18M5564 2933L5545 2922 5533 2942M5564 2933l-3 21M5645 2906L5622 2922 5626 2952M5645 2906l-6-19M5708 2919L5703 2938 5712 2956M5703 2938l-24-3M5799 2927L5812 2954 5836 2958M5841 2969L5862 2949 5856 2920M5862 2949l20-6M5841 2969l-20-9M5966 2887L5962 2908 5980 2931M5962 2908l-21 3M6018 2956L6043 2954 6055 2928M6018 2956l-11-20M6068 2964L6062 2939 6038 2939M6062 2939l9-26M6068 2964l-21 16M6146 2929L6171 2929 6183 2909M6171 2929l3 28M6146 2929l-18-24M6260 2926L6246 2904 6227 2917M6246 2904l14-26M6260 2926l-16 19M6321 2957L6327 2936 6312 2916M6321 2957l17 14M6378 2938L6358 2954 6359 2977M6465 2868L6468 2887 6487 2894M6468 2887l-18 8M6465 2868l26-16M6483 2912L6495 2896 6500 2868M6495 2896l27 8M6609 2962L6610 2936 6597 2919M6610 2936l29-7M6674 2949L6701 2948 6718 2934M6701 2948l12 29M6674 2949l-8-23M6735 2872L6727 2898 6750 2916M6727 2898l-30-1M6735 2872l25-11M6780 2927L6792 2912 6782 2885M6792 2912l28 10M6780 2927l-21-4M5298 3011L5269 3017 5264 3036M5269 3017l-16-18M5368 3035L5358 3016 5330 3014M5358 3016l8-30M5368 3035l-10 20M5436 3035L5448 3013 5426 3000M5448 3013l26-3M5436 3035l-26-5M5490 2968L5498 2987 5515 2999M5498 2987l-21 16M5490 2968l14-14M5584 3008L5573 2991 5545 2979M5573 2991l23-20M5584 3008l30 1M5657 3049L5656 3019 5639 3009M5741 2956L5730 2976 5729 2996M5730 2976l-31-3M5741 2956l30-5M5773 2972L5796 2990 5811 2974M5796 2990l4 20M5773 2972l-20 9M5866 2950L5840 2965 5842 2992M5840 2965l-19-15M5866 2950l3-19M5939 2999L5935 3025 5949 3042M5935 3025l-23 2M5939 2999l-16-14M6037 2985L6025 2961 6006 2949M6025 2961l23-13M6097 3025L6113 3010 6097 2995M6113 3010l27 4M6097 3025l2 25M6188 2965L6166 2957 6147 2974M6188 2965l21-14M6196 2986L6220 2981 6230 2957M6220 2981l21 17M6315 2987L6305 2966 6285 2962M6315 2987l-12 16M6406 2993L6388 3002 6395 3023M6388 3002l-29-12M6454 3021L6462 2993 6444 2981M6462 2993l24-5M6454 3021l21 19M6514 2953L6530 2965 6551 2965M6530 2965l-17 26M6623 3000L6621 3021 6643 3039M6621 3021l-29 1M6623 3000l-26-12M6712 3000L6697 3013 6706 3034M6707 2971L6730 2978 6749 2964M6730 2978l4 25M6707 2971l-3-30M6779 2989L6791 3015 6813 3022M6791 3015l-11 16M6779 2989l-25-6" fill="none" stroke="#4fdcd3" stroke-width="7" stroke-linecap="round" stroke-linejoin="round" opacity="0.82"/>
<path transform="scale(.1)" d="M6311 2103h0M6476 2075h0M6763 2086h0M5299 2199h0M5603 2212h0M6151 2207h0M6180 2162h0M6648 2199h0M6708 2153h0M5282 2240h0M6090 2243h0M6201 2226h0M5928 2326h0M6411 2367h0M6560 2306h0M5622 2422h0M5722 2407h0M5749 2412h0M5993 2404h0M6222 2442h0M6664 2397h0M5502 2454h0M5759 2498h0M5932 2508h0M6276 2511h0M6727 2446h0M5356 2530h0M5580 2569h0M5940 2519h0M6031 2567h0M6123 2562h0M6333 2548h0M5333 2642h0M5384 2660h0M5828 2611h0M6094 2631h0M6213 2598h0M5412 2681h0M5930 2674h0M6115 2728h0M6218 2681h0M6512 2727h0M5462 2749h0M5750 2772h0M6221 2783h0M6390 2778h0M5545 2922h0M6171 2929h0M6246 2904h0M5269 3017h0M5840 2965h0M6025 2961h0M6220 2981h0M6730 2978h0" stroke="#8a9898" stroke-width="10" stroke-linecap="round" fill="none"/>
<path transform="scale(.1)" d="M4958 2996l29-35M4958 2996l-2 51M4958 2996l-53-15M4958 2996l-54 47M4958 2996l-53-54M4958 2996l28-74M4958 2996l59 33M5142 3103l48-11M5142 3103l-16 44M5142 3103l-44-14M5142 3103l43-59M5142 3103l54 54M5142 3103l-36 66M5142 3103l-63-21M5217 3158l4-53M5217 3158l-7 43M5293 3064l46-21M5293 3064l-41 26M4954 3215l-34 39M4954 3215l33-41M5186 3037l31-31M5186 3037l-19 39M5147 3004l8 49M5147 3004l12-53M5290 3098l28-40M5290 3098l-17 56M5168 2967l44-16M5168 2967l-53 10M5142 3207l21 50M5142 3207l-18-57M5335 2989l28-46M5335 2989l23 38M5335 2989l-37-15M5335 2989l-53 53M5335 2989l-47-69M5335 2989l52-44M5335 2989l72 43M5522 3096l51 7M5522 3096l-31 30M5522 3096l1-49M5522 3096l23 74M5522 3096l-75 31M5522 3096l-20-74M5522 3096l67-1M5628 3067l49 6M5628 3067l-59-8M5593 2984l-41-30M5593 2984l54 18M5330 3107l-27-39M5330 3107l37 25M5465 3192l3 50M5465 3192l-3-47M5367 3081l-35 32M5367 3081l27-43M5500 3219l-24-45M5500 3219l22 37M5435 3210l-6 53M5435 3210l20-44M5536 2999l23-42M5536 2999l-20 42M5633 3096l-42 38M5633 3096l17-43M5713 3007l-35 22M5713 3007l15-47M5713 3007l39 19M5713 3007l62-48M5713 3007l26 64M5713 3007l-81 20M5713 3007l-18-81M5897 3093l-24 40M5897 3093l-3-43M5897 3093l50-2M5897 3093l27 60M5897 3093l-68 39M5897 3093l-34-60M5897 3093l66-12M5839 3204l-54-24M5839 3204l28 35M5907 3136l-49 2M5907 3136l44 7M5723 3077l54 2M5723 3077l-47 12M5841 3149l54 14M5841 3149l-53 2M6019 3183l32 30M6019 3183l-25-36M5883 3001l42-6M5883 3001l-46-9M5732 3047l51 6M5732 3047l-53-17M5873 3210l-9-42M5873 3210l33 48M5823 3004l-29 39M5823 3004l16-52M6074 2993l14-43M6074 2993l30 26M6074 2993l-42 15M6074 2993l-61-13M6074 2993l32-67M6074 2993l64 0M6074 2993l-17 82M6284 3103l-31 30M6284 3103l-18-45M6284 3103l51 11M6284 3103l-63-34M6284 3103l26-72M6284 3103l56 36M6284 3103l-35 57M6128 3153l-34-49M6128 3153l28 51M6106 3014l-44-2M6106 3014l45 15M6200 3177l45-29M6200 3177l-28 43M6182 3094l-36 42M6182 3094l28-53M6128 3252l-17 43M6128 3252l-8-57M6210 3117l41-19M6210 3117l-43 0M6426 3191l49-30M6426 3191l-43 36M6222 3018l26 46M6222 3018l-15-50M6130 3109l-21 47M6130 3109l-1-43M6449 3011l40 2M6449 3011l-32 30M6449 3011l-18-47M6449 3011l72 42M6449 3011l-49 65M6449 3011l-53-35M6449 3011l49-38M6665 3103l35 30M6665 3103l-50 10M6665 3103l12-40M6665 3103l23 63M6665 3103l-67 13M6665 3103l-18-76M6665 3103l66-43M6484 2989l37 44M6484 2989l-35-42M6519 3137l-36-36M6519 3137l32 50M6649 3119l34 48M6649 3119l-27-34M6607 3106l-52-20M6607 3106l39 21M6499 3222l53-24M6499 3222l-48 2M6634 3226l-8-47M6634 3226l7 50M6455 3244l54-0M6455 3244l-44-13M6812 3241l-34-28M6812 3241l33 49M6786 3068l-19 47M6786 3068l29-48M6813 2991l-44 1M6813 2991l20-46M6813 2991l20 35M6813 2991l69-29M6813 2991l28 70M6813 2991l-73 19M6813 2991l-16-71M7034 3090l46-16M7034 3090l7 54M7034 3090l-27-34M7034 3090l-76 22M7034 3090l3-75M7034 3090l75-7M7034 3090l-8 64M7185 3258l-31 48M7185 3258l26-36M6898 3224l2-54M6898 3224l-12 42M6874 3223l34-35M6874 3223l-32 34M7066 3149l-6-59M7066 3149l3 54M6941 3147l21-47M6941 3147l-16 43M7175 3094l22-43M7175 3094l-8 45M6979 2967l32-48M6979 2967l-30 43M7005 3133l43 14M7005 3133l-41-23M6879 3205l44-3M6879 3205l-58 2M7198 2990l42 33M7198 2990l-32 23M7198 2990l6-44M7198 2990l43 44M7198 2990l-58 13M7198 2990l-26-62M7198 2990l57-55M7413 3097l30 25M7413 3097l-37 21M7413 3097l23-49M7413 3097l-76-28M7413 3097l33-73M7413 3097l78 20M7413 3097l-37 53M7203 3213l36-40M7203 3213l-33 32M7461 3259l-31-46M7461 3259l34 44M7424 3107l28 42M7424 3107l-26-45M7201 3223l49-32M7201 3223l-31 45M7206 3218l-11-51M7206 3218l26 39M7390 3188l11 43M7390 3188l-7-57M7565 3244l-10-51M7565 3244l-5 59M7454 3194l-29 33M7454 3194l39-33M4983 3323l-52-5M4983 3323l13-49M4983 3323l27 38M4983 3323l-44-71M4983 3323l70-36M4983 3323l42 69M4983 3323l-65 22M5156 3428l44 19M5156 3428l-36 28M5156 3428l-13-45M5156 3428l59-11M5156 3428l20 63M5156 3428l-58 20M5156 3428l-34-63M5316 3441l12 53M5316 3441l-22-49M5242 3333l-47 33M5242 3333l33-44M5184 3453l-36-45M5184 3453l31 33M5297 3518l-47 7M5297 3518l53-8M5126 3376l-21 54M5126 3376l2-52M4971 3373l-39-19M4971 3373l56 9M5215 3389l7 57M5215 3389l11-56M5045 3458l-29 34M5045 3458l41-29M5310 3490l5 52M5310 3490l-17-48M5350 3330l37 25M5350 3330l-43 8M5350 3330l-5-49M5350 3330l57 49M5350 3330l-10 62M5350 3330l-54-26M5350 3330l30-58M5515 3410l17 46M5515 3410l-43 6M5515 3410l36-41M5515 3410l-71 2M5515 3410l-22-75M5515 3410l60-24M5515 3410l7 63M5577 3494l23-54M5577 3494l-39 42M5374 3454l-57 8M5374 3454l56-17M5660 3333l44 29M5660 3333l-47-11M5542 3544l-42-9M5542 3544l52-3M5601 3292l11-49M5601 3292l-24 39M5689 3530l36 36M5689 3530l-31-29M5699 3306l21-51M5699 3306l-14 47M5572 3434l7-59M5572 3434l1 55M5575 3540l-16 41M5575 3540l13-50M5733 3319l55 8M5733 3319l-34 37M5733 3319l-25-37M5733 3319l60-43M5733 3319l54 61M5733 3319l-61 28M5733 3319l-53-59M5894 3417l42-24M5894 3417l-3 39M5894 3417l-33-29M5894 3417l-59-22M5894 3417l18-71M5894 3417l68 3M5894 3417l-24 74M5750 3511l-18-41M5750 3511l25 38M5793 3330l-27 35M5793 3330l31-49M6001 3384l-49-24M6001 3384l40 17M5968 3299l44 37M5968 3299l-24-55M5762 3274l4-58M5762 3274l-20 56M6049 3490l42-27M6049 3490l-46 25M5801 3522l-39 21M5801 3522l38-43M5959 3543l32-45M5959 3543l-46 27M6041 3481l54-9M6041 3481l-37 22M6105 3329l-31-29M6105 3329l53-4M6105 3329l-23 42M6105 3329l31-65M6105 3329l49 51M6105 3329l-43 45M6105 3329l-62-38M6279 3409l55 2M6279 3409l-35 42M6279 3409l-24-48M6279 3409l77 16M6279 3409l-8 77M6279 3409l-75-6M6279 3409l27-67M6160 3345l-44-2M6160 3345l52-22M6114 3466l-11 51M6114 3466l17-53M6467 3529l0 48M6467 3529l-12-57M6208 3417l-49 10M6208 3417l47 12M6458 3381l-11-46M6458 3381l21 37M6420 3569l15-50M6420 3569l-4 45M6209 3506l26-37M6209 3506l-36 29M6410 3462l21 55M6410 3462l3-44M6394 3350l-46-26M6394 3350l41 17M6464 3325l43-19M6464 3325l25 49M6464 3325l-43-2M6464 3325l-32 56M6464 3325l-47-51M6464 3325l45-49M6464 3325l60 39M6651 3431l12 38M6651 3431l-51 1M6651 3431l28-45M6651 3431l-45-48M6651 3431l63-22M6651 3431l13 64M6651 3431l-76 35M6646 3526l30-37M6646 3526l-34 33M6491 3562l3 44M6491 3562l-5-44M6697 3365l-24 39M6697 3365l35-47M6557 3428l-22-50M6557 3428l3 52M6477 3441l-22 54M6477 3441l20-50M6520 3283l45-39M6520 3283l-39 20M6804 3305l39-40M6804 3305l-26 47M6542 3458l48-23M6542 3458l-36 33M6618 3554l-26 49M6618 3554l31-51M6854 3310l48 0M6854 3310l-22 35M6854 3310l-36-31M6854 3310l40-60M6854 3310l67 22M6854 3310l-43 57M6854 3310l-46-47M7019 3427l-17-36M7019 3427l37 17M7019 3427l-29 31M7019 3427l-37-59M7019 3427l61-37M7019 3427l6 68M7019 3427l-70 10M6913 3430l-44 10M6913 3430l43-17M6990 3509l-43-31M6990 3509l47 35M7156 3356l-16-57M7156 3356l-7 50M7219 3416l23 52M7219 3416l-8-43M6856 3494l15-49M6856 3494l8 46M7170 3357l23 38M7170 3357l-36-26M6962 3403l-11-50M6962 3403l-3 49M7068 3330l55-17M7068 3330l-50 12M7124 3266l37-41M7124 3266l-22 41M4962 3634l47-10M4962 3634l-25 35M4962 3634l-22-50M4962 3634l5 61M4962 3634l-73 22M4962 3634l-11-71M4962 3634l77-11M5155 3749l-49 5M5155 3749l35-32M5155 3749l19 35M5155 3749l3 65M5155 3749l-59-4M5155 3749l24-58M5155 3749l66 14M5314 3747l2 49M5314 3747l-8-49M5257 3749l12 47M5257 3749l-4-42M5177 3789l42-21M5177 3789l-54 24M4998 3883l-12-44M4998 3883l26 54M4990 3690l-10-53M4990 3690l22 41M5021 3806l-11-48M5021 3806l1 45M5325 3801l23-40M5325 3801l-23 54M4993 3841l49-30M4993 3841l-56 2M5208 3648l-41 16M5208 3648l48-34M5322 3643l6-48M5322 3643l45 24M5322 3643l-42 18M5322 3643l17 58M5322 3643l-57 19M5322 3643l-41-49M5322 3643l63-42M5533 3745l-1 40M5533 3745l-39-7M5533 3745l36-37M5533 3745l-72 41M5533 3745l-24-78M5533 3745l61-42M5533 3745l18 66M5375 3662l26 50M5375 3662l-16-44M5504 3737l23-48M5504 3737l-5 52M5675 3677l10 50M5675 3677l-37-40M5558 3740l-44 4M5558 3740l49 12M5431 3883l7 49M5431 3883l1-43M5429 3652l-2-44M5429 3652l7 53M5395 3611l-30 32M5395 3611l26-36M5413 3844l35-38M5413 3844l-19 44M5491 3629l41 12M5491 3629l-54-8M5709 3633l53-9M5709 3633l-16 38M5709 3633l-43-17M5709 3633l-79-9M5709 3633l6-69M5709 3633l72-22M5709 3633l6 67M5913 3747l41-1M5913 3747l-23 47M5913 3747l-14-53M5913 3747l45-63M5913 3747l54 39M5913 3747l-49 53M5913 3747l-58-28M5879 3699l-53-6M5879 3699l55 15M5974 3667l15-45M5974 3667l-28 32M5963 3631l56 20M5963 3631l-56-11M5941 3842l-31 34M5941 3842l41-42M5801 3775l38 29M5801 3775l-34-28M5944 3600l-36-28M5944 3600l15 43M5831 3683l29-39M5831 3683l-23 45M6041 3683l-41-27M6041 3683l49 19M5914 3761l-9 45M5914 3761l-5-52M6067 3640l-11 46M6067 3640l-31-27M6067 3640l42-9M6067 3640l60-33M6067 3640l48 38M6067 3640l-47 62M6067 3640l-62-44M6273 3751l-32-33M6273 3751l53 9M6273 3751l-25 42M6273 3751l32-59M6273 3751l56 29M6273 3751l-53 61M6273 3751l-51-66M6207 3661l-31-38M6207 3661l41 39M6188 3758l20 47M6188 3758l-22-44M6307 3629l5-55M6307 3629l-7 49M6242 3705l45-4M6242 3705l-46 6M6348 3643l-29-40M6348 3643l46 22M6170 3733l42-10M6170 3733l-46 13M6162 3701l44-2M6162 3701l-51 14M6332 3792l45-38M6332 3792l-38 32M6156 3885l-47-27M6156 3885l47 36M6452 3640l51-5M6452 3640l-24 43M6452 3640l-23-47M6452 3640l-74 19M6452 3640l-38-68M6452 3640l79-11M6452 3640l16 60M6646 3748l20 38M6646 3748l-40-13M6646 3748l44-26M6646 3748l69-19M6646 3748l-5 62M6646 3748l-59-10M6646 3748l-11-74M6487 3815l26 46M6487 3815l-34-26M6634 3808l-39 32M6634 3808l53-18M6463 3720l51-27M6463 3720l-48 22M6568 3718l-6-59M6568 3718l8 58M6776 3658l-54 22M6776 3658l42-28M6767 3645l-33-30M6767 3645l30 42M6739 3811l17 55M6739 3811l-24-46M6739 3629l59 6M6739 3629l-54-4M6559 3627l7 58M6559 3627l-1-60M6815 3651l4 40M6815 3651l-43-24M6815 3651l41-29M6815 3651l-69-26M6815 3651l17-82M6815 3651l63 47M6815 3651l-31 53M7028 3743l35 33M7028 3743l-44 8M7028 3743l10-39M7028 3743l-65 26M7028 3743l-23-69M7028 3743l77-27M7028 3743l43 59M7155 3679l8 51M7155 3679l-12-51M6922 3766l23 52M6922 3766l5-48M6843 3838l-53 6M6843 3838l56 3M6983 3598l-26-40M6983 3598l32 45M7104 3843l46-9M7104 3843l-50 26M7072 3837l-51 26M7072 3837l41-16M6931 3639l42-15M6931 3639l-43 22M6833 3657l41-34M6833 3657l-48 19M7073 3667l11 56M7073 3667l-11-52M7207 3641l-41-8M7207 3641l31-37M7207 3641l25 45M7207 3641l-53-54M7207 3641l59-36M7207 3641l35 61M7207 3641l-47 40M7403 3747l-34 27M7403 3747l-5-39M7403 3747l48 19M7403 3747l-51 55M7403 3747l-61-48M7403 3747l54-54M7403 3747l54 29M7304 3769l-43 1M7304 3769l52 6M7493 3652l-31-45M7493 3652l27 43M7312 3823l25-37M7312 3823l-24 52M7382 3722l48 28M7382 3722l-47-16M7357 3695l-39-41M7357 3695l15 52M7309 3647l56 8M7309 3647l-54-26M7275 3763l-27-38M7275 3763l43 22M7258 3630l26 40M7258 3630l-19-42M7514 3837l-14 45M7514 3837l16-42" stroke="#ee3a2a" stroke-width="9" fill="none"/>
<path transform="scale(.1)" d="M4987 2961h0M4956 3047h0M4906 2981h0M4904 3043h0M5017 3029h0M5189 3092h0M5126 3147h0M5098 3089h0M5185 3044h0M5196 3157h0M5106 3168h0M5079 3082h0M5221 3105h0M5211 3202h0M5339 3043h0M5252 3089h0M5153 2968h0M5052 2956h0M4920 3253h0M4986 3173h0M5217 3006h0M5167 3076h0M5155 3053h0M5318 3058h0M5273 3154h0M5116 2977h0M5163 3257h0M5125 3150h0M5102 3190h0M5107 3217h0M5148 3089h0M5168 3113h0M5242 3092h0M5235 3120h0M5236 3163h0M5223 3187h0M5243 3047h0M5223 3068h0M5007 3097h0M4980 3121h0M5359 3027h0M5299 2973h0M5282 3042h0M5407 3032h0M5574 3103h0M5491 3126h0M5523 3047h0M5545 3170h0M5447 3127h0M5503 3022h0M5589 3095h0M5677 3073h0M5569 3059h0M5647 3002h0M5303 3068h0M5367 3132h0M5467 3242h0M5462 3145h0M5332 3112h0M5394 3038h0M5475 3174h0M5522 3256h0M5430 3262h0M5456 3165h0M5560 2957h0M5516 3042h0M5591 3133h0M5650 3052h0M5656 2975h0M5637 2997h0M5658 2968h0M5357 3175h0M5350 3200h0M5415 2973h0M5392 2999h0M5644 3153h0M5628 3183h0M5542 3070h0M5572 3094h0M5678 3029h0M5728 2960h0M5752 3026h0M5776 2959h0M5739 3072h0M5632 3027h0M5873 3133h0M5894 3050h0M5947 3091h0M5924 3152h0M5829 3132h0M5863 3032h0M5962 3080h0M5785 3180h0M5867 3240h0M5857 3138h0M5950 3143h0M5777 3079h0M5676 3089h0M5895 3163h0M5789 3151h0M6051 3213h0M5994 3147h0M5925 2995h0M5837 2992h0M5783 3053h0M5679 3030h0M5864 3169h0M5906 3258h0M5794 3043h0M5981 3180h0M5988 3199h0M5703 3241h0M5712 3268h0M5919 3212h0M5908 3230h0M5857 3187h0M5830 3212h0M5929 3182h0M5934 3210h0M5709 3125h0M5708 3152h0M6104 3019h0M6032 3008h0M6012 2980h0M6138 2993h0M6057 3075h0M6253 3134h0M6266 3059h0M6335 3115h0M6221 3070h0M6310 3032h0M6340 3139h0M6248 3161h0M6094 3104h0M6156 3205h0M6063 3012h0M6151 3028h0M6245 3148h0M6172 3220h0M6146 3135h0M6209 3041h0M6111 3295h0M6119 3194h0M6250 3098h0M6167 3117h0M6475 3162h0M6382 3227h0M6248 3063h0M6208 2967h0M6109 3156h0M6128 3066h0M6121 3237h0M6123 3262h0M6332 3148h0M6316 3175h0M6242 3249h0M6261 3271h0M6449 3221h0M6428 3249h0M6434 3116h0M6433 3140h0M6128 3056h0M6145 3077h0M6489 3013h0M6417 3041h0M6431 2964h0M6521 3053h0M6400 3075h0M6396 2975h0M6498 2972h0M6700 3133h0M6615 3113h0M6677 3063h0M6687 3166h0M6598 3116h0M6647 3027h0M6731 3060h0M6522 3033h0M6484 3102h0M6551 3187h0M6683 3168h0M6622 3085h0M6555 3086h0M6646 3127h0M6552 3198h0M6451 3224h0M6626 3179h0M6641 3276h0M6509 3243h0M6411 3230h0M6779 3214h0M6845 3290h0M6766 3114h0M6815 3019h0M6495 3245h0M6472 3268h0M6795 2969h0M6783 2996h0M6729 2965h0M6743 2983h0M6769 3097h0M6742 3125h0M6521 3151h0M6514 3177h0M6617 3099h0M6615 3118h0M6769 2992h0M6833 3026h0M6882 2961h0M6841 3060h0M6740 3010h0M7080 3074h0M7040 3144h0M7007 3056h0M6957 3112h0M7036 3015h0M7109 3082h0M7026 3154h0M7154 3306h0M7211 3223h0M6900 3170h0M6886 3266h0M6908 3188h0M6842 3257h0M7060 3091h0M7069 3204h0M6962 3100h0M6925 3190h0M7197 3051h0M7167 3139h0M6949 3010h0M7048 3147h0M6964 3110h0M6922 3202h0M6820 3208h0M6937 3123h0M6912 3144h0M6945 2995h0M6929 3017h0M7195 2956h0M7208 2980h0M7038 3197h0M7021 3226h0M6902 2961h0M6913 2987h0M6836 3148h0M6862 3169h0M7240 3023h0M7166 3013h0M7241 3034h0M7140 3004h0M7443 3122h0M7376 3118h0M7436 3047h0M7337 3069h0M7446 3024h0M7491 3117h0M7376 3150h0M7239 3173h0M7170 3245h0M7429 3213h0M7495 3302h0M7451 3149h0M7397 3062h0M7250 3191h0M7170 3268h0M7195 3167h0M7231 3257h0M7401 3232h0M7383 3132h0M7555 3193h0M7560 3304h0M7425 3226h0M7493 3160h0M7365 2984h0M7217 3120h0M7226 3150h0M7420 3027h0M7434 3047h0M7381 2985h0M7366 3012h0M7312 3000h0M7314 3021h0M7533 3223h0M7525 3249h0M7255 3217h0M7260 3239h0M4931 3319h0M4996 3275h0M5010 3361h0M4939 3253h0M5053 3288h0M5025 3392h0M4918 3345h0M5200 3447h0M5120 3455h0M5144 3382h0M5215 3417h0M5177 3491h0M5098 3447h0M5122 3365h0M5328 3494h0M5294 3393h0M5195 3366h0M5275 3289h0M5148 3408h0M5215 3486h0M5251 3525h0M5351 3510h0M5106 3430h0M5128 3324h0M4932 3354h0M5028 3382h0M5222 3447h0M5226 3333h0M5016 3491h0M5086 3428h0M5314 3542h0M5293 3443h0M5042 3561h0M5029 3580h0M5107 3472h0M5106 3490h0M5036 3382h0M5028 3409h0M5332 3501h0M5338 3527h0M5204 3402h0M5206 3424h0M5303 3566h0M5294 3592h0M5387 3354h0M5306 3338h0M5345 3281h0M5406 3378h0M5339 3391h0M5295 3303h0M5379 3272h0M5532 3457h0M5472 3416h0M5551 3369h0M5444 3412h0M5493 3336h0M5575 3386h0M5523 3473h0M5600 3440h0M5538 3536h0M5318 3462h0M5430 3437h0M5703 3363h0M5612 3322h0M5500 3535h0M5594 3541h0M5612 3243h0M5576 3332h0M5725 3566h0M5657 3501h0M5720 3255h0M5684 3353h0M5579 3375h0M5573 3489h0M5559 3582h0M5587 3491h0M5442 3509h0M5452 3537h0M5480 3544h0M5492 3564h0M5570 3269h0M5575 3293h0M5631 3330h0M5638 3359h0M5526 3510h0M5529 3540h0M5351 3510h0M5356 3529h0M5788 3327h0M5699 3356h0M5708 3282h0M5793 3276h0M5787 3381h0M5672 3347h0M5680 3261h0M5936 3393h0M5891 3456h0M5861 3388h0M5836 3395h0M5912 3346h0M5962 3420h0M5871 3491h0M5732 3470h0M5776 3550h0M5767 3365h0M5824 3281h0M5952 3360h0M6041 3402h0M6012 3336h0M5944 3244h0M5766 3216h0M5742 3331h0M6091 3463h0M6003 3516h0M5762 3543h0M5839 3478h0M5991 3498h0M5914 3570h0M6094 3472h0M6004 3503h0M5907 3282h0M5922 3302h0M6038 3316h0M6041 3340h0M5857 3398h0M5859 3417h0M5754 3556h0M5739 3577h0M5883 3494h0M5907 3513h0M5998 3570h0M5988 3600h0M6074 3299h0M6158 3324h0M6081 3371h0M6136 3263h0M6153 3379h0M6061 3373h0M6043 3290h0M6334 3411h0M6244 3452h0M6255 3362h0M6357 3425h0M6271 3487h0M6204 3404h0M6307 3342h0M6117 3342h0M6212 3323h0M6103 3517h0M6131 3413h0M6467 3576h0M6454 3472h0M6159 3427h0M6255 3429h0M6448 3334h0M6480 3418h0M6435 3518h0M6416 3614h0M6236 3469h0M6173 3535h0M6431 3517h0M6413 3418h0M6347 3324h0M6434 3367h0M6245 3343h0M6234 3364h0M6239 3284h0M6250 3307h0M6365 3271h0M6335 3290h0M6105 3384h0M6088 3402h0M6345 3552h0M6327 3571h0M6348 3314h0M6318 3335h0M6507 3306h0M6489 3374h0M6420 3323h0M6432 3381h0M6417 3275h0M6509 3277h0M6524 3364h0M6663 3469h0M6600 3432h0M6679 3386h0M6606 3383h0M6714 3409h0M6664 3495h0M6575 3466h0M6676 3489h0M6612 3559h0M6494 3605h0M6486 3517h0M6673 3403h0M6732 3318h0M6536 3378h0M6561 3481h0M6454 3495h0M6496 3392h0M6565 3243h0M6482 3303h0M6843 3265h0M6778 3352h0M6590 3436h0M6507 3491h0M6591 3603h0M6648 3502h0M6786 3438h0M6801 3459h0M6702 3518h0M6696 3543h0M6721 3345h0M6719 3374h0M6575 3310h0M6578 3340h0M6526 3565h0M6529 3584h0M6582 3352h0M6580 3381h0M6903 3310h0M6833 3345h0M6818 3279h0M6895 3250h0M6922 3332h0M6811 3367h0M6808 3263h0M7002 3390h0M7055 3443h0M6989 3458h0M6981 3368h0M7079 3390h0M7025 3494h0M6948 3437h0M6869 3440h0M6956 3413h0M6946 3478h0M7037 3544h0M7140 3298h0M7149 3406h0M7243 3468h0M7211 3373h0M6871 3445h0M6864 3540h0M7192 3395h0M7134 3331h0M6951 3353h0M6959 3453h0M7124 3313h0M7018 3342h0M7161 3225h0M7102 3307h0M7153 3350h0M7164 3373h0M7092 3429h0M7065 3454h0M6928 3424h0M6928 3449h0M6988 3310h0M7014 3328h0M7204 3414h0M7194 3442h0M6969 3480h0M6949 3508h0M5009 3624h0M4937 3670h0M4940 3584h0M4967 3695h0M4889 3656h0M4951 3563h0M5039 3623h0M5106 3754h0M5190 3717h0M5175 3784h0M5158 3814h0M5096 3745h0M5179 3691h0M5221 3763h0M5317 3796h0M5307 3698h0M5269 3797h0M5253 3707h0M5220 3768h0M5123 3813h0M4986 3839h0M5024 3937h0M4980 3638h0M5012 3732h0M5010 3759h0M5023 3852h0M5348 3761h0M5302 3855h0M5042 3811h0M4937 3843h0M5166 3664h0M5255 3614h0M5260 3731h0M5240 3756h0M5232 3874h0M5218 3893h0M5019 3862h0M5042 3889h0M5183 3611h0M5161 3631h0M4958 3759h0M4943 3777h0M5272 3797h0M5250 3826h0M5328 3596h0M5368 3668h0M5281 3662h0M5339 3701h0M5265 3662h0M5282 3594h0M5385 3601h0M5533 3786h0M5494 3738h0M5569 3708h0M5461 3786h0M5509 3667h0M5594 3704h0M5551 3811h0M5401 3712h0M5359 3619h0M5527 3689h0M5500 3789h0M5685 3727h0M5638 3638h0M5514 3745h0M5607 3752h0M5438 3932h0M5432 3840h0M5427 3608h0M5435 3705h0M5364 3643h0M5420 3574h0M5448 3805h0M5394 3888h0M5533 3641h0M5437 3621h0M5541 3701h0M5531 3726h0M5520 3613h0M5503 3631h0M5534 3699h0M5508 3722h0M5407 3857h0M5429 3884h0M5498 3761h0M5494 3789h0M5522 3693h0M5505 3712h0M5762 3625h0M5693 3671h0M5666 3617h0M5630 3624h0M5715 3565h0M5780 3612h0M5715 3701h0M5954 3745h0M5890 3794h0M5899 3694h0M5958 3684h0M5967 3786h0M5864 3800h0M5855 3719h0M5825 3692h0M5934 3713h0M5989 3622h0M5945 3699h0M6019 3650h0M5907 3620h0M5910 3876h0M5982 3800h0M5838 3804h0M5766 3747h0M5907 3572h0M5959 3643h0M5860 3644h0M5808 3728h0M6000 3657h0M6090 3702h0M5905 3806h0M5909 3709h0M5985 3705h0M6012 3731h0M5805 3819h0M5817 3838h0M5727 3671h0M5703 3697h0M5800 3807h0M5777 3827h0M5773 3603h0M5756 3623h0M5755 3879h0M5767 3901h0M6056 3686h0M6036 3613h0M6109 3631h0M6127 3607h0M6115 3678h0M6020 3702h0M6005 3596h0M6241 3718h0M6326 3760h0M6248 3793h0M6305 3693h0M6329 3780h0M6219 3812h0M6222 3685h0M6176 3624h0M6247 3700h0M6208 3805h0M6166 3714h0M6313 3575h0M6300 3679h0M6287 3702h0M6196 3711h0M6319 3604h0M6394 3665h0M6212 3723h0M6124 3746h0M6206 3698h0M6111 3715h0M6377 3754h0M6294 3824h0M6109 3858h0M6203 3921h0M6222 3732h0M6204 3759h0M6330 3621h0M6326 3650h0M6076 3844h0M6096 3870h0M6108 3790h0M6137 3816h0M6268 3810h0M6283 3830h0M6217 3857h0M6229 3883h0M6503 3636h0M6428 3683h0M6429 3594h0M6378 3659h0M6414 3572h0M6531 3629h0M6469 3700h0M6666 3786h0M6605 3734h0M6690 3722h0M6715 3729h0M6640 3810h0M6587 3738h0M6634 3674h0M6513 3860h0M6454 3789h0M6595 3840h0M6688 3790h0M6514 3693h0M6415 3742h0M6562 3660h0M6575 3777h0M6722 3680h0M6818 3630h0M6734 3616h0M6797 3688h0M6756 3866h0M6715 3765h0M6798 3634h0M6685 3625h0M6566 3685h0M6558 3567h0M6593 3815h0M6612 3844h0M6705 3834h0M6686 3862h0M6548 3855h0M6572 3883h0M6807 3784h0M6827 3803h0M6452 3768h0M6423 3793h0M6678 3781h0M6651 3799h0M6820 3691h0M6772 3626h0M6856 3622h0M6746 3624h0M6832 3569h0M6878 3697h0M6784 3703h0M7063 3776h0M6984 3750h0M7038 3704h0M6963 3769h0M7005 3674h0M7105 3716h0M7071 3802h0M7163 3730h0M7143 3629h0M6946 3819h0M6928 3718h0M6789 3845h0M6898 3842h0M6958 3558h0M7016 3644h0M7151 3834h0M7055 3869h0M7021 3863h0M7113 3820h0M6973 3623h0M6888 3661h0M6874 3623h0M6785 3677h0M7084 3723h0M7062 3615h0M6855 3783h0M6857 3807h0M7146 3675h0M7171 3698h0M7072 3599h0M7091 3626h0M7080 3787h0M7099 3805h0M7136 3634h0M7149 3661h0M7156 3641h0M7157 3670h0M7166 3633h0M7238 3604h0M7231 3686h0M7154 3587h0M7266 3605h0M7241 3702h0M7160 3681h0M7369 3774h0M7398 3708h0M7451 3766h0M7352 3802h0M7342 3699h0M7457 3693h0M7457 3776h0M7261 3769h0M7355 3774h0M7462 3607h0M7520 3695h0M7337 3786h0M7288 3875h0M7430 3749h0M7335 3705h0M7319 3654h0M7372 3747h0M7365 3655h0M7255 3621h0M7248 3725h0M7318 3785h0M7284 3671h0M7239 3589h0M7500 3882h0M7530 3796h0M7284 3768h0M7268 3794h0M7463 3689h0M7453 3713h0M7509 3883h0M7535 3910h0M7479 3689h0M7451 3716h0M7339 3627h0M7357 3647h0M7275 3641h0M7255 3667h0M5635 2982h0M5832 2999h0M5407 2973h0M6564 2981h0M5490 2997h0M6247 3001h0M5760 3005h0M5630 2994h0M5611 2999h0M5512 2974h0M5928 3006h0M5526 2981h0M6216 2979h0M5700 3007h0M5518 2979h0M6043 2997h0M5861 2984h0M5449 3008h0M6070 3004h0M5980 2986h0M6332 2981h0M6494 2994h0" stroke="#e00e08" stroke-width="38" stroke-linecap="round" fill="none"/>
<path transform="scale(.1)" d="M4981 2955h0M4950 3041h0M4900 2975h0M4898 3037h0M5011 3023h0M5183 3086h0M5120 3141h0M5092 3083h0M5179 3038h0M5190 3151h0M5100 3162h0M5073 3076h0M5216 3100h0M5205 3196h0M5333 3037h0M5246 3084h0M5148 2962h0M5046 2950h0M4914 3248h0M4981 3168h0M5211 3001h0M5162 3071h0M5149 3047h0M5312 3053h0M5268 3148h0M5110 2972h0M5158 3251h0M5119 3144h0M5097 3185h0M5101 3212h0M5142 3083h0M5163 3108h0M5236 3086h0M5229 3115h0M5231 3157h0M5218 3181h0M5238 3041h0M5218 3063h0M5002 3092h0M4975 3116h0M5353 3021h0M5293 2967h0M5276 3036h0M5401 3026h0M5568 3097h0M5485 3120h0M5517 3041h0M5539 3164h0M5441 3121h0M5497 3016h0M5583 3089h0M5672 3067h0M5563 3053h0M5642 2997h0M5297 3063h0M5361 3126h0M5462 3236h0M5456 3140h0M5326 3107h0M5388 3032h0M5470 3169h0M5516 3250h0M5424 3257h0M5450 3160h0M5554 2952h0M5511 3036h0M5586 3128h0M5645 3047h0M5650 2969h0M5632 2991h0M5653 2963h0M5351 3170h0M5345 3195h0M5409 2967h0M5386 2994h0M5639 3147h0M5623 3177h0M5537 3064h0M5566 3089h0M5672 3023h0M5722 2954h0M5746 3020h0M5770 2953h0M5733 3066h0M5626 3021h0M5867 3127h0M5888 3044h0M5941 3085h0M5918 3146h0M5823 3126h0M5857 3026h0M5956 3074h0M5779 3174h0M5861 3234h0M5852 3132h0M5945 3137h0M5772 3074h0M5670 3083h0M5890 3158h0M5783 3145h0M6046 3208h0M5988 3142h0M5920 2989h0M5831 2986h0M5778 3047h0M5674 3024h0M5859 3163h0M5900 3253h0M5789 3037h0M5976 3175h0M5983 3194h0M5697 3235h0M5707 3263h0M5914 3206h0M5902 3225h0M5851 3182h0M5825 3206h0M5923 3176h0M5929 3205h0M5703 3120h0M5703 3146h0M6098 3013h0M6026 3002h0M6006 2974h0M6132 2987h0M6051 3069h0M6247 3128h0M6260 3053h0M6329 3109h0M6215 3064h0M6304 3026h0M6334 3133h0M6242 3155h0M6089 3099h0M6150 3199h0M6057 3007h0M6146 3023h0M6239 3143h0M6166 3215h0M6140 3130h0M6204 3035h0M6105 3289h0M6114 3189h0M6245 3093h0M6162 3112h0M6470 3156h0M6377 3222h0M6243 3058h0M6202 2962h0M6103 3150h0M6123 3061h0M6116 3232h0M6118 3257h0M6327 3143h0M6311 3170h0M6236 3243h0M6256 3266h0M6444 3215h0M6423 3243h0M6429 3111h0M6428 3135h0M6123 3051h0M6140 3072h0M6483 3007h0M6411 3035h0M6425 2958h0M6515 3047h0M6394 3069h0M6390 2969h0M6492 2966h0M6694 3127h0M6609 3107h0M6671 3057h0M6681 3160h0M6592 3110h0M6641 3021h0M6725 3054h0M6516 3028h0M6478 3096h0M6545 3181h0M6678 3162h0M6617 3080h0M6549 3081h0M6640 3122h0M6547 3192h0M6445 3218h0M6621 3173h0M6636 3270h0M6503 3238h0M6406 3225h0M6773 3208h0M6839 3285h0M6761 3109h0M6809 3014h0M6490 3240h0M6466 3263h0M6790 2963h0M6778 2991h0M6724 2959h0M6738 2978h0M6763 3091h0M6737 3120h0M6516 3145h0M6509 3172h0M6612 3093h0M6609 3113h0M6763 2986h0M6827 3020h0M6876 2955h0M6835 3054h0M6734 3004h0M7074 3068h0M7034 3138h0M7001 3050h0M6951 3106h0M7030 3009h0M7103 3076h0M7020 3148h0M7148 3301h0M7206 3217h0M6895 3164h0M6880 3260h0M6903 3183h0M6837 3251h0M7055 3085h0M7063 3198h0M6956 3095h0M6920 3185h0M7191 3046h0M7162 3134h0M6943 3005h0M7043 3141h0M6959 3105h0M6917 3196h0M6815 3202h0M6931 3117h0M6907 3139h0M6939 2989h0M6924 3012h0M7190 2951h0M7202 2974h0M7033 3191h0M7016 3220h0M6897 2955h0M6908 2982h0M6830 3142h0M6857 3164h0M7234 3017h0M7160 3007h0M7235 3028h0M7134 2998h0M7437 3116h0M7370 3112h0M7430 3041h0M7331 3063h0M7440 3018h0M7485 3111h0M7370 3144h0M7234 3168h0M7165 3240h0M7424 3207h0M7489 3297h0M7446 3143h0M7392 3057h0M7245 3185h0M7164 3262h0M7189 3161h0M7226 3252h0M7395 3226h0M7378 3126h0M7550 3188h0M7555 3298h0M7419 3221h0M7487 3155h0M7360 2978h0M7212 3114h0M7221 3144h0M7414 3022h0M7429 3041h0M7376 2980h0M7361 3007h0M7307 2995h0M7309 3016h0M7527 3218h0M7520 3244h0M7250 3211h0M7254 3234h0M4925 3313h0M4990 3269h0M5004 3355h0M4933 3247h0M5047 3282h0M5019 3386h0M4912 3339h0M5194 3441h0M5114 3449h0M5138 3376h0M5209 3411h0M5171 3485h0M5092 3441h0M5116 3359h0M5322 3489h0M5289 3387h0M5189 3361h0M5270 3284h0M5142 3403h0M5209 3481h0M5245 3519h0M5345 3504h0M5100 3424h0M5122 3318h0M4927 3348h0M5022 3377h0M5217 3441h0M5221 3328h0M5010 3486h0M5080 3423h0M5309 3537h0M5287 3437h0M5037 3555h0M5024 3575h0M5102 3466h0M5100 3485h0M5030 3376h0M5023 3404h0M5327 3496h0M5333 3522h0M5198 3397h0M5201 3419h0M5298 3560h0M5289 3587h0M5381 3348h0M5300 3332h0M5339 3275h0M5400 3372h0M5333 3385h0M5289 3297h0M5373 3266h0M5526 3451h0M5466 3410h0M5545 3363h0M5438 3406h0M5487 3330h0M5569 3380h0M5517 3467h0M5594 3434h0M5532 3530h0M5312 3456h0M5424 3431h0M5698 3357h0M5607 3316h0M5495 3529h0M5588 3536h0M5606 3237h0M5571 3326h0M5719 3560h0M5652 3495h0M5714 3249h0M5679 3348h0M5574 3369h0M5567 3483h0M5554 3576h0M5582 3485h0M5436 3504h0M5446 3532h0M5474 3539h0M5487 3559h0M5564 3263h0M5570 3287h0M5625 3325h0M5633 3354h0M5520 3505h0M5524 3535h0M5346 3504h0M5351 3524h0M5782 3321h0M5693 3350h0M5702 3276h0M5787 3270h0M5781 3375h0M5666 3341h0M5674 3255h0M5930 3387h0M5885 3450h0M5855 3382h0M5830 3389h0M5906 3340h0M5956 3414h0M5865 3485h0M5727 3465h0M5770 3544h0M5761 3359h0M5819 3275h0M5946 3355h0M6036 3396h0M6006 3331h0M5939 3239h0M5760 3211h0M5736 3325h0M6085 3458h0M5998 3510h0M5756 3537h0M5834 3473h0M5985 3492h0M5908 3565h0M6089 3467h0M5999 3498h0M5901 3276h0M5917 3297h0M6032 3311h0M6036 3335h0M5851 3393h0M5854 3412h0M5748 3550h0M5734 3572h0M5877 3488h0M5902 3508h0M5993 3565h0M5982 3595h0M6068 3293h0M6152 3318h0M6075 3365h0M6130 3257h0M6147 3373h0M6055 3367h0M6037 3284h0M6328 3405h0M6238 3446h0M6249 3356h0M6351 3419h0M6265 3481h0M6198 3398h0M6301 3336h0M6111 3337h0M6206 3317h0M6097 3511h0M6125 3407h0M6461 3571h0M6449 3467h0M6154 3421h0M6249 3424h0M6442 3329h0M6474 3412h0M6429 3513h0M6410 3608h0M6230 3463h0M6168 3529h0M6425 3511h0M6407 3412h0M6341 3318h0M6429 3361h0M6239 3337h0M6229 3359h0M6234 3278h0M6244 3302h0M6359 3266h0M6330 3285h0M6099 3378h0M6083 3396h0M6339 3547h0M6322 3565h0M6343 3308h0M6313 3329h0M6501 3300h0M6483 3368h0M6414 3317h0M6426 3375h0M6411 3269h0M6503 3271h0M6518 3358h0M6657 3463h0M6594 3426h0M6673 3380h0M6600 3377h0M6708 3403h0M6658 3489h0M6569 3460h0M6670 3483h0M6607 3553h0M6489 3600h0M6480 3512h0M6667 3398h0M6726 3312h0M6530 3373h0M6555 3475h0M6449 3490h0M6491 3386h0M6560 3238h0M6476 3297h0M6838 3260h0M6772 3347h0M6585 3430h0M6501 3486h0M6586 3598h0M6643 3497h0M6780 3432h0M6796 3454h0M6696 3513h0M6690 3538h0M6716 3340h0M6714 3368h0M6569 3304h0M6573 3334h0M6520 3559h0M6524 3579h0M6577 3346h0M6575 3376h0M6897 3304h0M6827 3339h0M6812 3273h0M6889 3244h0M6916 3326h0M6805 3361h0M6802 3257h0M6996 3384h0M7049 3437h0M6983 3452h0M6975 3362h0M7073 3384h0M7019 3488h0M6942 3431h0M6863 3434h0M6950 3407h0M6941 3472h0M7031 3538h0M7134 3293h0M7143 3400h0M7237 3463h0M7205 3368h0M6866 3439h0M6859 3534h0M7187 3390h0M7128 3326h0M6946 3348h0M6954 3447h0M7118 3308h0M7012 3337h0M7155 3220h0M7096 3302h0M7147 3344h0M7158 3368h0M7087 3424h0M7060 3449h0M6922 3418h0M6923 3444h0M6983 3305h0M7008 3323h0M7199 3408h0M7189 3436h0M6964 3474h0M6944 3503h0M5003 3618h0M4931 3664h0M4934 3578h0M4961 3689h0M4883 3650h0M4945 3557h0M5033 3617h0M5100 3748h0M5184 3711h0M5169 3778h0M5152 3808h0M5090 3739h0M5173 3685h0M5215 3757h0M5311 3791h0M5301 3693h0M5264 3791h0M5248 3702h0M5214 3763h0M5118 3808h0M4981 3833h0M5019 3932h0M4974 3632h0M5006 3726h0M5005 3753h0M5017 3846h0M5343 3755h0M5297 3849h0M5036 3805h0M4931 3838h0M5161 3658h0M5250 3608h0M5255 3726h0M5235 3750h0M5227 3869h0M5213 3888h0M5013 3857h0M5037 3884h0M5178 3606h0M5155 3626h0M4953 3753h0M4937 3772h0M5267 3792h0M5244 3820h0M5322 3590h0M5362 3662h0M5275 3656h0M5333 3695h0M5259 3656h0M5276 3588h0M5379 3595h0M5527 3780h0M5488 3732h0M5563 3702h0M5455 3780h0M5503 3661h0M5588 3698h0M5545 3805h0M5396 3707h0M5354 3613h0M5521 3684h0M5494 3783h0M5679 3722h0M5632 3632h0M5509 3739h0M5601 3747h0M5433 3927h0M5426 3834h0M5421 3602h0M5430 3699h0M5359 3638h0M5415 3569h0M5443 3800h0M5389 3882h0M5527 3635h0M5432 3615h0M5535 3696h0M5526 3720h0M5514 3608h0M5498 3626h0M5528 3694h0M5503 3717h0M5401 3852h0M5424 3879h0M5492 3755h0M5489 3784h0M5516 3688h0M5500 3706h0M5756 3619h0M5687 3665h0M5660 3611h0M5624 3618h0M5709 3559h0M5774 3606h0M5709 3695h0M5948 3739h0M5884 3788h0M5893 3688h0M5952 3678h0M5961 3780h0M5858 3794h0M5849 3713h0M5820 3687h0M5928 3708h0M5983 3616h0M5940 3693h0M6013 3645h0M5901 3614h0M5905 3870h0M5976 3794h0M5833 3799h0M5761 3741h0M5902 3566h0M5953 3637h0M5855 3639h0M5803 3723h0M5994 3651h0M6085 3697h0M5900 3801h0M5904 3704h0M5980 3699h0M6006 3726h0M5800 3813h0M5812 3833h0M5721 3665h0M5697 3691h0M5794 3801h0M5772 3822h0M5768 3597h0M5751 3617h0M5750 3873h0M5762 3896h0M6050 3680h0M6030 3607h0M6103 3625h0M6121 3601h0M6109 3672h0M6014 3696h0M5999 3590h0M6235 3712h0M6320 3754h0M6242 3787h0M6299 3687h0M6323 3774h0M6213 3806h0M6216 3679h0M6170 3618h0M6242 3695h0M6202 3799h0M6160 3708h0M6307 3569h0M6294 3673h0M6281 3696h0M6190 3705h0M6313 3598h0M6389 3660h0M6206 3717h0M6118 3741h0M6201 3693h0M6106 3709h0M6372 3748h0M6289 3819h0M6103 3853h0M6198 3916h0M6216 3727h0M6199 3754h0M6324 3616h0M6321 3645h0M6071 3838h0M6091 3865h0M6103 3785h0M6131 3811h0M6262 3805h0M6277 3825h0M6212 3852h0M6224 3878h0M6497 3630h0M6422 3677h0M6423 3588h0M6372 3653h0M6408 3566h0M6525 3623h0M6463 3694h0M6660 3780h0M6599 3728h0M6684 3716h0M6709 3723h0M6634 3804h0M6581 3732h0M6628 3668h0M6507 3855h0M6448 3783h0M6589 3835h0M6682 3784h0M6508 3688h0M6409 3736h0M6556 3654h0M6570 3771h0M6716 3675h0M6812 3625h0M6728 3610h0M6791 3682h0M6751 3861h0M6709 3760h0M6793 3629h0M6680 3619h0M6561 3679h0M6552 3562h0M6587 3809h0M6607 3839h0M6699 3828h0M6680 3857h0M6543 3850h0M6567 3877h0M6801 3778h0M6822 3797h0M6447 3763h0M6418 3788h0M6672 3775h0M6646 3793h0M6814 3685h0M6766 3620h0M6850 3616h0M6740 3618h0M6826 3563h0M6872 3691h0M6778 3697h0M7057 3770h0M6978 3744h0M7032 3698h0M6957 3763h0M6999 3668h0M7099 3710h0M7065 3796h0M7158 3724h0M7137 3623h0M6940 3813h0M6922 3713h0M6784 3839h0M6893 3836h0M6952 3553h0M7010 3638h0M7145 3828h0M7049 3864h0M7015 3857h0M7107 3815h0M6967 3618h0M6882 3656h0M6868 3617h0M6779 3671h0M7078 3718h0M7057 3610h0M6850 3778h0M6852 3802h0M7140 3670h0M7166 3693h0M7067 3593h0M7086 3621h0M7075 3782h0M7094 3800h0M7130 3628h0M7144 3656h0M7151 3636h0M7152 3665h0M7160 3627h0M7232 3598h0M7225 3680h0M7148 3581h0M7260 3599h0M7235 3696h0M7154 3675h0M7363 3768h0M7392 3702h0M7445 3760h0M7346 3796h0M7336 3693h0M7451 3687h0M7451 3770h0M7255 3764h0M7350 3769h0M7456 3601h0M7514 3689h0M7331 3781h0M7282 3869h0M7424 3744h0M7330 3700h0M7313 3648h0M7366 3741h0M7359 3650h0M7250 3615h0M7242 3719h0M7312 3780h0M7278 3665h0M7233 3583h0M7495 3877h0M7525 3790h0M7278 3763h0M7263 3789h0M7458 3684h0M7448 3708h0M7504 3877h0M7530 3905h0M7474 3683h0M7446 3711h0M7334 3622h0M7351 3642h0M7270 3636h0M7250 3661h0M5629 2977h0M5827 2994h0M5402 2968h0M6559 2976h0M5484 2991h0M6241 2996h0M5754 3000h0M5624 2989h0M5606 2993h0M5507 2969h0M5923 3001h0M5520 2975h0M6210 2973h0M5694 3002h0M5512 2974h0M6038 2992h0M5855 2978h0M5443 3003h0M6065 2998h0M5975 2980h0M6326 2976h0M6489 2989h0" stroke="#ff4030" stroke-width="21" stroke-linecap="round" fill="none"/>
<path transform="scale(.1)" d="M5217 3158h0M5293 3064h0M4954 3215h0M5186 3037h0M5147 3004h0M5290 3098h0M5142 3207h0M5628 3067h0M5330 3107h0M5465 3192h0M5367 3081h0M5500 3219h0M5435 3210h0M5536 2999h0M5633 3096h0M5839 3204h0M5907 3136h0M5723 3077h0M5841 3149h0M6019 3183h0M5883 3001h0M5732 3047h0M5873 3210h0M5823 3004h0M6128 3153h0M6106 3014h0M6200 3177h0M6182 3094h0M6128 3252h0M6210 3117h0M6426 3191h0M6222 3018h0M6130 3109h0M6484 2989h0M6519 3137h0M6649 3119h0M6607 3106h0M6499 3222h0M6634 3226h0M6455 3244h0M6812 3241h0M6786 3068h0M7185 3258h0M6898 3224h0M6874 3223h0M7066 3149h0M6941 3147h0M7175 3094h0M7005 3133h0M6879 3205h0M7203 3213h0M7461 3259h0M7424 3107h0M7201 3223h0M7206 3218h0M7390 3188h0M7565 3244h0M7454 3194h0M5316 3441h0M5242 3333h0M5184 3453h0M5297 3518h0M5126 3376h0M4971 3373h0M5215 3389h0M5045 3458h0M5310 3490h0M5577 3494h0M5374 3454h0M5660 3333h0M5542 3544h0M5601 3292h0M5689 3530h0M5699 3306h0M5572 3434h0M5575 3540h0M5750 3511h0M5793 3330h0M6001 3384h0M5968 3299h0M5762 3274h0M6049 3490h0M5801 3522h0M5959 3543h0M6041 3481h0M6160 3345h0M6114 3466h0M6467 3529h0M6208 3417h0M6458 3381h0M6420 3569h0M6209 3506h0M6410 3462h0M6394 3350h0M6646 3526h0M6491 3562h0M6697 3365h0M6557 3428h0M6477 3441h0M6520 3283h0M6804 3305h0M6542 3458h0M6618 3554h0M6913 3430h0M6990 3509h0M7156 3356h0M7219 3416h0M6856 3494h0M7170 3357h0M6962 3403h0M7068 3330h0M7124 3266h0M5314 3747h0M5257 3749h0M5177 3789h0M4998 3883h0M4990 3690h0M5021 3806h0M5325 3801h0M4993 3841h0M5208 3648h0M5375 3662h0M5504 3737h0M5675 3677h0M5558 3740h0M5431 3883h0M5429 3652h0M5395 3611h0M5413 3844h0M5491 3629h0M5879 3699h0M5974 3667h0M5963 3631h0M5941 3842h0M5801 3775h0M5944 3600h0M5831 3683h0M6041 3683h0M5914 3761h0M6207 3661h0M6188 3758h0M6307 3629h0M6242 3705h0M6348 3643h0M6170 3733h0M6162 3701h0M6332 3792h0M6156 3885h0M6487 3815h0M6634 3808h0M6463 3720h0M6568 3718h0M6776 3658h0M6767 3645h0M6739 3811h0M6739 3629h0M6559 3627h0M7155 3679h0M6922 3766h0M6843 3838h0M6983 3598h0M7104 3843h0M7072 3837h0M6931 3639h0M6833 3657h0M7073 3667h0M7304 3769h0M7493 3652h0M7312 3823h0M7382 3722h0M7357 3695h0M7309 3647h0M7275 3763h0M7258 3630h0M7514 3837h0" stroke="#cfb68c" stroke-width="49" stroke-linecap="round" fill="none"/>
<path transform="scale(.1)" d="M5210 3151h0M5285 3057h0M4946 3207h0M5179 3030h0M5139 2996h0M5283 3091h0M5135 3199h0M5621 3059h0M5322 3100h0M5457 3185h0M5359 3074h0M5492 3211h0M5428 3202h0M5529 2992h0M5626 3088h0M5831 3197h0M5899 3129h0M5716 3070h0M5834 3142h0M6012 3176h0M5876 2993h0M5725 3039h0M5866 3203h0M5816 2997h0M6121 3146h0M6099 3006h0M6192 3170h0M6174 3086h0M6120 3244h0M6202 3110h0M6418 3184h0M6215 3010h0M6122 3102h0M6477 2982h0M6512 3130h0M6642 3112h0M6599 3099h0M6491 3214h0M6627 3218h0M6448 3236h0M6805 3234h0M6778 3060h0M7177 3251h0M6891 3216h0M6867 3216h0M7058 3142h0M6934 3140h0M7168 3087h0M6998 3126h0M6871 3198h0M7196 3206h0M7453 3252h0M7416 3100h0M7194 3216h0M7198 3210h0M7383 3181h0M7558 3237h0M7446 3186h0M5309 3434h0M5235 3325h0M5177 3446h0M5290 3510h0M5119 3369h0M4964 3366h0M5208 3382h0M5037 3450h0M5302 3483h0M5570 3486h0M5367 3447h0M5652 3326h0M5535 3537h0M5593 3285h0M5681 3522h0M5691 3299h0M5565 3426h0M5567 3533h0M5743 3504h0M5786 3322h0M5994 3377h0M5961 3291h0M5755 3267h0M6041 3483h0M5794 3514h0M5952 3535h0M6033 3474h0M6153 3337h0M6107 3459h0M6459 3521h0M6201 3410h0M6451 3373h0M6413 3561h0M6202 3498h0M6402 3454h0M6386 3343h0M6639 3519h0M6484 3554h0M6690 3357h0M6550 3421h0M6469 3434h0M6513 3275h0M6797 3298h0M6535 3451h0M6610 3546h0M6906 3423h0M6982 3502h0M7148 3348h0M7212 3409h0M6848 3487h0M7162 3350h0M6955 3396h0M7061 3323h0M7117 3259h0M5307 3740h0M5250 3742h0M5170 3782h0M4991 3876h0M4983 3683h0M5014 3799h0M5318 3793h0M4985 3834h0M5200 3641h0M5368 3655h0M5497 3730h0M5667 3670h0M5551 3733h0M5424 3876h0M5421 3644h0M5387 3603h0M5406 3836h0M5484 3622h0M5871 3691h0M5966 3659h0M5956 3623h0M5934 3834h0M5793 3768h0M5936 3593h0M5824 3676h0M6034 3676h0M5907 3754h0M6200 3654h0M6181 3751h0M6300 3622h0M6234 3698h0M6340 3636h0M6162 3726h0M6155 3693h0M6325 3785h0M6149 3878h0M6480 3807h0M6627 3801h0M6455 3712h0M6560 3711h0M6769 3651h0M6759 3638h0M6732 3804h0M6732 3621h0M6552 3619h0M7148 3672h0M6915 3759h0M6835 3831h0M6976 3591h0M7097 3836h0M7065 3829h0M6924 3631h0M6825 3650h0M7065 3660h0M7296 3761h0M7486 3644h0M7304 3816h0M7375 3714h0M7350 3687h0M7302 3640h0M7267 3756h0M7251 3623h0M7507 3830h0" stroke="#eee0c2" stroke-width="27" stroke-linecap="round" fill="none"/>
<path transform="scale(.1)" d="M4958 2996h0M5142 3103h0M5335 2989h0M5522 3096h0M5713 3007h0M5897 3093h0M6074 2993h0M6284 3103h0M6449 3011h0M6665 3103h0M6813 2991h0M7034 3090h0M7198 2990h0M7413 3097h0M4983 3323h0M5156 3428h0M5350 3330h0M5515 3410h0M5733 3319h0M5894 3417h0M6105 3329h0M6279 3409h0M6464 3325h0M6651 3431h0M6854 3310h0M7019 3427h0M4962 3634h0M5155 3749h0M5322 3643h0M5533 3745h0M5709 3633h0M5913 3747h0M6067 3640h0M6273 3751h0M6452 3640h0M6646 3748h0M6815 3651h0M7028 3743h0M7207 3641h0M7403 3747h0" stroke="#48484c" stroke-width="54" stroke-linecap="round" fill="none"/>
<path transform="scale(.1)" d="M4950 2988h0M5133 3095h0M5327 2981h0M5514 3088h0M5705 2999h0M5889 3085h0M6066 2985h0M6276 3095h0M6441 3003h0M6657 3095h0M6805 2983h0M7026 3082h0M7190 2982h0M7405 3089h0M4975 3315h0M5148 3420h0M5341 3321h0M5507 3402h0M5725 3311h0M5886 3409h0M6097 3320h0M6271 3401h0M6456 3317h0M6643 3423h0M6846 3302h0M7010 3419h0M4954 3626h0M5147 3741h0M5314 3635h0M5525 3737h0M5701 3625h0M5905 3739h0M6059 3632h0M6265 3743h0M6444 3632h0M6637 3740h0M6807 3643h0M7020 3735h0M7199 3633h0M7395 3739h0" stroke="#77777d" stroke-width="30" stroke-linecap="round" fill="none"/>
<path transform="scale(.1)" d="M5110 3086h0M5124 3104h0M5265 3131h0M5279 3149h0M5407 3171h0M5421 3189h0M5734 3168h0M5748 3186h0M5896 3152h0M5910 3170h0M6209 3146h0M6223 3164h0M6279 3060h0M6293 3078h0M6526 3225h0M6540 3243h0M6931 3065h0M6945 3083h0M6970 3201h0M6984 3219h0M7481 3212h0M7495 3230h0M4998 3550h0M5012 3568h0M5708 3385h0M5722 3403h0M5606 3453h0M5620 3471h0M5806 3340h0M5820 3358h0M6310 3452h0M6324 3470h0M6160 3534h0M6174 3552h0M6724 3375h0M6738 3393h0M6903 3536h0M6917 3554h0M5226 3782h0M5240 3800h0M5346 3669h0M5360 3687h0M5891 3641h0M5905 3659h0M6329 3694h0M6343 3712h0M6718 3890h0M6732 3908h0M7062 3874h0M7076 3892h0M7409 3860h0M7423 3878h0" stroke="#d99a12" stroke-width="32" stroke-linecap="round" fill="none"/>
<path transform="scale(.1)" d="M5105 3082h0M5119 3100h0M5260 3126h0M5274 3144h0M5402 3166h0M5416 3184h0M5729 3163h0M5743 3181h0M5891 3147h0M5905 3165h0M6205 3141h0M6219 3159h0M6274 3055h0M6288 3073h0M6521 3220h0M6535 3238h0M6927 3060h0M6941 3078h0M6966 3196h0M6980 3214h0M7476 3207h0M7490 3225h0M4993 3545h0M5007 3563h0M5703 3380h0M5717 3398h0M5601 3449h0M5615 3467h0M5801 3336h0M5815 3354h0M6305 3448h0M6319 3466h0M6156 3529h0M6170 3547h0M6719 3371h0M6733 3389h0M6898 3531h0M6912 3549h0M5221 3777h0M5235 3795h0M5341 3664h0M5355 3682h0M5886 3636h0M5900 3654h0M6324 3690h0M6338 3708h0M6713 3885h0M6727 3903h0M7058 3869h0M7072 3887h0M7404 3855h0M7418 3873h0" stroke="#ffcf48" stroke-width="18" stroke-linecap="round" fill="none"/>
</g>
<rect x="523.60" y="206.00" width="159.70" height="171.20" fill="none" stroke="#3c4ff2" stroke-width="1.3"/>
<clipPath id="cp2L"><rect x="30.20" y="407.20" width="176.70" height="163.40"/></clipPath>
<g clip-path="url(#cp2L)"><rect x="30.20" y="407.20" width="176.70" height="163.40" fill="#1806f8"/>
<path transform="scale(.25)" d="M255 1649l49 0 16 7 0 7-65 0-16-7 0-7zM742 1671l25 0 16 7 0 7-41 0-16-7 0-7zM279 1681l25 0 16 8 0 7-41 0-16-7 0-8zM694 1681l24 0 24 11 25 0 16 8 0 7-41 0-24-11-24 0-17-7 0-8zM157 1692l25 0 16 8 0 7-41 0-16-7 0-8zM304 1703l24 0 16 7 0 8-24 0 0 3 8 3 49 0 19 8 0 9-49 0-3 2 27 11 0 9-2 2 0 18-25 0 0 4 8 3 6-1 24 0 3-2 0-8 24 0 0-10 46-2 3-2-8-4-6 2-43-2-16-7 0-7 16 0 6-1 27 1-3-4 0-19 43 0 19 8 0 9-3 2 0 7-16 0-5 2-3 2 8 4 6-1 24 0 3-3 0-7 16 0 5-4 0-8 3-3 0-7 16 0 25 10 24 1 16 7 0 11 25 11 8 2 49 2 16 7 0 7-71 1 0 11-43 1-8-2 3 4 5 3 41 18 0 11 24 11 0 18-16 0-6 2 6 6 27-3 0-11 22 0 5 2 3-3 0-7-3-4 0-8 43 0 19 8 0 20-27-2 3 4 5 4 17 7 16 4 0-11 16 0 41 18 0 62-25 0 3 3 0 19-19 0-5 3 5 4 41 18 0 7-25 0 0 11-16 0-16-7 0-22-8-3-6 0 0 11-43 0-8-1-71 1-2 3 0 7-41 0-24-10-73-1-25-11-32 0 0 11-114 0-5 1-3 3 0 7-41 0-16-7 0-11-49-22 0-7 25 0 0-4-9-2-29 0 0 21-3 3 0 18-41 0-16-7 0-7-3-4-21-11 0-7 16 0 3-3 0-10 5-2 0-7-3-4 0-30-2-2 0-32 2-1 0-8 19 0 6-3-6-4-24 0-16-7 0-7 24 0-3-4-5-3-16-8 0-18 16 0 24 10 49 1 16 7 0 8 3 3 0 9-3 2 27 11 0 11 14 4 16 0 16 7 17 4 0-26-8-2-3 1-22 0-21-10-3-3-16-8 0-7 16 0 16 7 14 3 0-3-22-11-14-2-19 0-18-8 0-20 43 0 43 20 6 3 5-1 0-11 24 0 3-2-8-4-24 0-17-7 0-8 25 0 0-10 24 0 0-4-27-11 0-8 3-3 0-7-3-4-5-3-25 0-16-8 0-7 24 0 0-11zM425 1703l25 0 16 7 0 8-41 0-16-8 0-7zM596 1703l24 10 25 0 19 8 0 9-68-1-16-8 0-18zM718 1714l24 0 17 7 0 8-41 0-16-8 0-7zM157 1723l25 1 19 8 0 20-3 2 0 7-16 0-44-18 0-8-2-3 0-9zM791 1725l41 18 0 7-17 0-40-18 0-7zM230 1736l25 0 16 7 0 18 5 4 0 10-46-2-18-8 0-8 2-3 0-18zM694 1736l16 7 0 7-16 0-17-7 0-7zM767 1746l45 19 3 4 17 7 0 18-17 0-5 1-3 3 0 7-89 0-16-7 0-8 24 0-4-3 0-9 50 0 3-2-27-11 0-19zM569 1764l-5 1 0 7 2 4 6 3 3-2 0-11 21 0 6 1 2-2-8-4zM157 1767l49 0 19 9 0 8-68 0-19-8 0-9zM442 1794l0 11-46 1 0 3 21 10 0 29 3 4 46 22 27 11 6 1 5-1-5-4-41-18 0-7 16 0 6-1 0-11 75 1-2-4-6-2-24-1-43-19-22-10 0-8 16 0 6-1 2-2-8-3-24 0zM515 1794l0 4 24 11 14 2 0-2-6-3-24-11zM694 1801l16 8 0 7-16 0-17-7 0-8zM371 1817l0 11-24 0 0 2 24 11 0 9-2 2 8 3 5-3 0-8 3-3 0-22-8-2zM450 1812l16 7 8 2 22 9 0 10-25 0-2 1 0 9-19 0-19-9 0-8-3-3 0-9 6-2 0-7zM517 1817l0 2 6 4 5-1-5-6zM591 1817l0 13 5 3 8-3 0-11-8-3zM791 1823l16 7 0 8-16 0-16-8 0-7zM564 1859l2 4 0 8-2 3 8 4 8 0 0-11-3-4-5-4zM344 1881l0 15 8 2 6 0 2-2 0-11-8-4zM423 1883l-3 2 11 2 3-2-9-3zM612 1881l0 4 8 3 6-1 27 1-3-3-5-4zM203 1894l0 13 3 3 24 0 3-2 6-1-25-11-8-3zM712 1893l-2 3 8 3 5-1 0-2-5-3zM324 1905l-4 2 16 3-3-3-5-4zM393 1903l3 4 0 10 5 2 24 0 6 1 3-3-27-10zM591 1915l0 2 11 3 2-3-8-3zM688 1915l0 2 6 4 16 7 13 3 25 0 0-11-6-5-8-1 3 3 0 9-19 0-24-12zM542 1926l0 2 24 11 0 20 6 4 3-1 0-11 2-1 0-8-5-6-17-8zM371 1937l0 2 6 4 5-1 0-3-5-3zM420 1948l0 2 5 3 9 1 24 0 0-4-8-3-6 1zM712 1948l0 2 11 3 0-3zM320 1957l0 4 8 2 4 0 1-2-5-4zM369 1957l2 4 6 4 5-2-5-6zM517 1959l-2 2 8 2 5 0-5-4zM425 1997l25 0 16 8 0 7-41 0-16-7 0-8zM425 2019l25 0 16 7 0 8-41 0-16-8 0-7z" fill="#2c40f0" fill-rule="evenodd"/>
<path transform="scale(.25)" d="M255 1651l49 0 11 5 0 5-60 0-12-5 0-5zM742 1673l25 0 12 5 0 5-37 0-12-5 0-5zM279 1683l25 0 11 6 0 5-36 0-12-5 0-6zM694 1683l24 0 24 11 25 0 12 6 0 5-37 0-24-11-24 0-12-5 0-6zM157 1694l25 0 12 6 0 5-37 0-12-5 0-6zM304 1705l24 0 12 5 0 6-25 0 0 5 13 4 49 0 16 7 0 7-49 0-4 4 12 4 16 7 0 7-4 4 0 16-24 0 0 6 12 5 9-1 24 0 4-4 0-6 25 0 0-10 11 0 9-2 24 0 4-4-12-6-9 2-40-2-12-5 0-5 12 0 8-2 16 0 13 2-4-6 0-18 40 0 16 7 0 7-4 4 0 5-12 0-8 2-4 4 12 6 9-2 24 0 4-4 0-5 12 0 8-6 0-7 4-4 0-5 12 0 25 9 12 2 12 0 12 5 0 11 24 11 13 4 24 0 13 2 12 0 11 5 0 5-11 0-9 2-49 0 0 11-40 2-12-4 4 6 8 5 36 16 0 11 25 11 0 16-12 0-9 2 9 10 8-2 16 0 5-2 0-11 20 0 8 2 4-4 0-5-4-6 0-7 40 0 16 7 0 18-16 0-12-2 4 6 8 6 25 9 12 1 0-10 12 0 36 16 0 60-24 0 4 5 0 18-16 0-8 4 8 6 36 16 0 5-24 0 0 11-12 0-12-5 0-22-12-4-9 0 0 11-40 0-13-2-11 0-9 2-49 0-4 4 0 5-36 0-24-9-25 0-12-2-36 0-25-11-37 0 0 11-109 0-8 2-5 4 0 5-36 0-12-5 0-11-48-22 0-5 24 0 0-6-13-4-32 0 0 22-4 4 0 16-37 0-12-5 0-5-4-6-8-6-12-5 0-5 12 0 4-4 0-11 8-2 0-5-4-6 0-29-4-3 0-31 4-2 0-7 16 0 9-4-9-5-24 0-12-6 0-5 24 0-4-6-8-5-12-6 0-16 12 0 24 9 25 0 12 2 12 0 12 5 0 6 4 5 0 7-4 4 12 4 16 7 0 11 21 6 12 0 25 9 12 1 0-27-12-4-5 2-20 0-20-9-4-5-12-6 0-5 12 0 12 5 21 4 0-4-9-5-12-6-21-3-16 0-15-7 0-18 40 0 40 18 9 5 8-2 0-11 24 0 4-3-12-6-24 0-12-5 0-6 24 0 0-10 24 0 0-6-12-4-16-7 0-7 4-4 0-5-4-6-8-5-25 0-12-6 0-5 25 0 0-11zM425 1705l25 0 12 5 0 6-37 0-11-6 0-5zM596 1705l24 9 25 0 16 7 0 8-41 0-12-2-12 0-12-6 0-16zM718 1716l24 0 12 5 0 6-36 0-12-6 0-5zM157 1723l9 2 16 0 16 7 0 18-4 4 0 5-12 0-41-16 0-7-4-4 0-9zM791 1727l36 16 0 5-12 0-36-16 0-5zM230 1738l25 0 12 5 0 16 8 6 0 9-45-2-15-7 0-7 4-4 0-16zM694 1738l11 5 0 5-11 0-12-5 0-5zM767 1747l44 18 4 6 12 5 0 16-12 0-8 2-4 4 0 5-85 0-12-5 0-6 24 0-6-5 0-8 51 1 4-4-12-4-16-7 0-18zM567 1763l-8 2 0 5 4 6 9 5 4-3 0-11 20 0 8 2 5-4-13-6-8 2-16 0zM157 1769l49 0 16 7 0 7-65 0-16-7 0-7zM437 1792l0 11-12 0-8 2-24 0 0 4 8 5 12 5 0 28 4 5 24 11 9 6 12 5 12 4 16 7 13 2 4-2-8-6-37-16 0-5 12 0 9-2 0-11 40 0 12 2 25 0-4-6-9-4-12-1-12 0-24-9-37-18 0-6 12 0 9-2 4-3-13-4-24 0zM510 1792l0 6 13 5 12 6 21 3 0-3-9-4-24-11zM694 1803l11 6 0 5-11 0-12-5 0-6zM368 1816l0 11-24 0 0 3 24 11 0 7-4 4 13 4 8-4 0-7 4-4 0-22-12-3zM450 1814l12 5 12 2 20 9 0 9-24 0-4 2 0 7-16 0-16-7 0-7-4-4 0-9 8-2 0-5zM515 1816l0 3 8 6 8-2-8-9zM588 1816l0 14 8 4 13-4 0-11-13-5zM791 1825l12 5 0 6-12 0-12-6 0-5zM559 1857l4 6 0 7-4 4 13 5 12 0 0-10-4-6-8-6zM340 1879l0 17 12 3 9 0 4-3 0-11-13-6zM421 1883l-4 2 17 4 4-4-13-4zM608 1879l0 6 12 5 9-1 16 0 12 1-4-5-8-6zM202 1894l0 13 4 5 24 0 5-3 8-2-24-11-13-4zM710 1892l-5 4 13 5 8-2 0-3-8-4zM322 1904l-7 3 13 3 12 2-4-5-8-6zM389 1901l4 6 0 10 8 2 24 0 9 2 4-4-13-3-16-7zM588 1914l0 3 16 4 5-4-13-5zM685 1914l0 3 9 6 11 5 21 4 25 0 0-11-9-7-12-2 4 5 0 8-16 0-16-8-8-5zM539 1925l0 3 24 11 0 18 9 8 4-2 0-11 4-2 0-7-8-9-12-6zM368 1936l0 3 9 6 8-2 0-4-8-5zM417 1946l0 4 8 4 13 2 24 0 0-6-12-5-9 1zM710 1946l0 4 16 4 0-4zM315 1955l0 6 13 4 6-1 2-3-8-6zM364 1955l4 6 9 6 8-2-8-10zM515 1957l-5 4 13 4 8 0-8-8zM425 1999l25 0 12 6 0 5-37 0-11-5 0-6zM425 2021l25 0 12 5 0 6-37 0-11-6 0-5z" fill="#4793f0" fill-rule="evenodd"/>
<path transform="scale(.25)" d="M255 1652l49 0 8 4 0 4-57 0-8-4 0-4zM742 1674l25 0 8 4 0 3-33 0-8-3 0-4zM279 1685l25 0 8 4 0 3-33 0-8-3 0-4zM694 1685l24 0 24 11 25 0 8 4 0 3-33 0-24-11-24 0-9-3 0-4zM157 1696l25 0 8 4 0 3-33 0-8-3 0-4zM304 1707l24 0 8 3 0 4-24 0 0 7 16 5 49 0 13 6 0 6-49 0-5 5 16 5 14 6 0 6-6 5 0 14-24 0 0 8 16 7 11-2 25 0 5-5 0-4 24 0 0-11 8 0 11-2 25 0 5-5-16-7-11 2-14 0-24-2-8-4 0-4 8 0 11-2 13 0 17 2-6-7 0-17 38 0 14 6 0 6-6 5 0 4-8 0-11 2-5 5 16 7 11-2 24 0 6-5 0-4 8 0 11-7 0-6 5-5 0-3 8 0 25 8 24 3 8 3 0 11 25 11 16 5 24 0 25 2 8 4 0 3-8 0-11 3-49 0 0 11-14 0-5 2-19 0-16-5 5 8 11 7 33 14 0 11 24 11 0 15-8 0-11 2 11 12 11-2 13 0 6-2 0-11 19 0 10 2 6-5 0-4-6-7 0-6 38 0 14 6 0 17-14 0-16-2 5 7 11 7 25 9 16 2 0-11 8 0 33 15 0 58-25 0 5 7 0 17-13 0-11 5 11 7 33 15 0 3-25 0 0 11-8 0-8-3 0-22-16-5-11 0 0 11-38 0-16-3-8 0-11 3-49 0-5 5 0 3-33 0-24-8-25 0-16-3-32 0-25-10-40 0 0 10-106 0-11 3-5 5 0 3-33 0-8-3 0-11-49-22 0-4 25 0 0-7-17-5-35 0 0 22-5 5 0 14-33 0-8-3 0-4-5-7-11-7-8-4 0-4 8 0 6-4 0-11 10-3 0-3-5-8 0-27-5-5 0-30 5-3 0-6 13 0 11-5-11-7-24 0-8-4 0-3 24 0-5-8-11-7-8-4 0-14 8 0 24 8 25 0 24 3 8 3 0 4 6 7 0 6-6 5 16 5 14 6 0 11 27 7 8 0 25 9 16 2 0-29-16-5-6 2-19 0-18-8-6-7-8-4 0-3 8 0 8 3 27 5 0-5-11-7-8-4-27-4-14 0-13-6 0-17 38 0 38 17 11 7 11-3 0-10 24 0 5-5-16-8-24 0-9-3 0-4 25 0 0-11 24 0 0-7-16-5-13-6 0-6 5-5 0-3-5-8-11-7-25 0-8-4 0-3 24 0 0-11zM425 1707l25 0 8 3 0 4-33 0-8-4 0-3zM596 1707l24 8 25 0 13 6 0 6-38 0-24-2-8-4 0-14zM718 1718l24 0 8 3 0 4-32 0-8-4 0-3zM157 1724l11 2 14 0 13 6 0 17-5 5 0 4-8 0-38-15 0-6-5-5 0-8zM791 1729l33 14 0 4-9 0-32-15 0-3zM230 1740l25 0 8 3 0 15 10 7 0 8-18 0-11-2-14 0-13-6 0-6 5-5 0-14zM694 1740l8 3 0 4-8 0-9-4 0-3zM767 1748l13 6 11 3 19 8 5 7 9 4 0 14-9 0-11 3-5 5 0 3-81 0-8-3 0-4 24 0-8-7 0-8 52 2 5-5-16-5-14-6 0-17zM566 1762l-11 3 0 4 6 7 11 7 6-5 0-10 18 0 11 2 5-5-16-7-11 2-13 0zM157 1770l49 0 14 6 0 6-63 0-13-6 0-6zM434 1790l0 11-9 0-10 3-25 0 0 5 11 7 8 3 0 26 6 7 24 11 11 7 38 15 11 2 5 0 5-2-10-7-33-15 0-4 8 0 11-2 0-11 38 0 16 2 25 0-6-7-11-5-24-2-38-15-11-7-8-3 0-4 8 0 11-2 5-5-16-5-24 0zM507 1790l0 8 24 11 27 4 0-4-11-5-24-11zM694 1805l8 4 0 3-8 0-9-3 0-4zM366 1815l0 10-25 0 0 5 25 11 0 6-6 5 17 5 11-5 0-6 5-5 0-22-16-4zM450 1816l8 3 16 3 19 8 0 9-25 0-5 2 0 6-13 0-14-6 0-6-5-5 0-8 11-3 0-3zM512 1815l0 4 11 8 11-3-11-12zM585 1815l0 15 11 5 16-5 0-11-16-7zM791 1827l8 3 0 4-8 0-8-4 0-3zM555 1856l6 7 0 6-6 5 17 7 16 0 0-11-5-7-11-7zM336 1878l0 18 16 5 11 0 6-5 0-11-17-7zM420 1882l-5 3 21 5 6-5-17-5zM604 1878l0 7 16 7 11-2 14 0 16 2-5-7-11-7zM200 1893l0 14 6 7 24 0 6-5 11-2-25-11-16-5zM707 1891l-5 5 16 7 11-2 0-5-11-5zM320 1903l-8 4 16 4 16 3-5-7-11-8zM385 1899l5 8 0 10 11 3 24 0 11 2 6-5-17-4-13-6zM585 1913l0 4 22 5 5-5-16-7zM683 1913l0 4 11 8 8 3 27 5 24 0 0-11-11-9-16-3 5 7 0 6-13 0-14-6-10-7zM536 1923l0 5 25 11 0 17 11 10 6-2 0-11 5-3 0-6-11-12-8-4zM366 1934l0 5 11 8 11-3 0-5-11-7zM415 1945l0 5 10 5 17 2 24 0 0-7-16-7-11 2zM707 1945l0 5 11 4 11 1 0-5zM312 1954l0 7 16 5 8-1 3-4-11-7zM360 1954l6 7 11 7 11-2-11-12zM512 1956l-5 5 16 5 11 0-11-10zM425 2001l25 0 8 4 0 3-33 0-8-3 0-4zM425 2023l25 0 8 3 0 4-33 0-8-4 0-3z" fill="#5bc7f7" fill-rule="evenodd"/>
<path transform="scale(.25)" d="M255 1654l49 0 4 2 0 2-53 0-5-2 0-2zM742 1676l25 0 4 2 0 2-29 0-4-2 0-2zM279 1687l25 0 4 2 0 2-29 0-4-2 0-2zM694 1687l24 0 24 11 25 0 4 2 0 2-29 0-24-11-24 0-5-2 0-2zM157 1698l25 0 4 2 0 2-29 0-4-2 0-2zM304 1709l24 0 4 1 0 2-24 0 0 9 20 6 49 0 11 5 0 5-49 0-7 6 20 6 11 5 0 5-6 6 0 13-25 0 0 9 20 9 14-3 24 0 7-6 0-2 24 0 0-11 18-3 24 0 7-6-20-9-14 3-11 0-24-3-4-2 0-2 18-3 10 0 20 3-6-9 0-16 35 0 11 5 0 5-6 6 0 2-18 3-7 6 20 9 14-3 24 0 7-6 0-2 4 0 13-9 0-5 7-6 0-2 4 0 25 8 24 3 4 2 0 11 25 11 20 6 24 0 25 3 4 2 0 2-18 3-49 0 0 11-11 0-7 2-17 0-20-5 7 9 13 9 29 12 0 11 24 11 0 13-18 3 14 15 13-3 11 0 7-3 0-11 18 0 13 3 7-6 0-2-7-9 0-5 35 0 11 5 0 16-11 0-20-3 7 9 13 9 25 8 20 3 0-11 4 0 29 13 0 56-25 0 7 9 0 16-11 0-13 6 13 9 29 13 0 2-25 0 0 11-4 0-4-2 0-22-20-6-14 0 0 11-35 0-20-3-18 3-49 0-6 6 0 2-29 0-24-8-25 0-20-3-28 0-25-11-44 0 0 11-102 0-13 3-7 6 0 2-29 0-4-2 0-11-49-22 0-2 24 0 0-9-20-6-37 0 0 22-7 6 0 13-29 0-4-2 0-2-7-9-17-11 0-2 4 0 7-6 0-11 13-3 0-2-7-9 0-26-6-6 0-30 6-3 0-5 11 0 14-6-14-9-24 0-4-2 0-2 24 0-7-9-17-11 0-12 4 0 24 8 25 0 24 2 4 2 0 2 7 9 0 5-7 6 20 6 11 5 0 11 34 9 4 0 25 8 20 3 0-31-20-6-8 3-17 0-17-8-7-9-5-2 0-2 43 8 0-6-18-11-34-6-11 0-10-4 0-16 35 0 35 16 14 8 13-2 0-11 24 0 7-6-20-9-24 0-5-2 0-2 25 0 0-11 24 0 0-9-20-6-11-5 0-5 7-6 0-2-7-9-13-9-25 0-4-2 0-2 24 0 0-10zM425 1709l25 0 4 1 0 2-29 0-4-2 0-1zM596 1709l24 8 25 0 11 4 0 5-36 0-24-3-4-2 0-12zM718 1719l24 0 5 2 0 2-29 0-4-2 0-2zM157 1725l14 2 11 0 11 5 0 16-7 6 0 2-4 0-36-13 0-5-6-6 0-7zM791 1730l29 13 0 2-5 0-28-13 0-2zM230 1741l25 0 4 2 0 13 13 9 0 8-17 0-14-3-11 0-10-5 0-5 6-6 0-13zM694 1741l4 2 0 2-4 0-5-2 0-2zM767 1749l11 5 13 3 17 8 7 9 5 2 0 13-18 3-7 6 0 2-77 0-4-2 0-2 24 0-10-9 0-7 52 2 7-6-20-6-11-5 0-16zM564 1762l-12 3 0 2 6 9 14 9 7-6 0-11 17 0 14 3 6-6-20-9-13 3-11 0zM157 1771l49 0 11 5 0 5-60 0-11-5 0-5zM430 1789l0 11-18 3-24 0 0 6 17 10 0 24 7 9 24 11 14 9 35 13 14 3 7 0 6-3-13-9-29-13 0-2 18-3 0-11 35 0 20 3 24 0-6-9-14-6-24-3-24-8-11-5-18-10 0-2 18-3 6-6-20-6-24 0zM503 1789l0 9 20 9 4 2 34 6 0-6-38-17zM694 1807l4 2 0 1-4 0-5-1 0-2zM363 1813l0 11-24 0 0 6 24 11 0 5-6 6 20 6 13-6 0-5 7-6 0-22-20-6zM450 1817l4 2 20 4 17 7 0 8-24 0-6 3 0 5-11 0-11-5 0-5-6-6 0-7 12-4 0-2zM509 1813l0 6 14 9 13-3-13-15zM583 1813l0 17 13 6 20-6 0-11-20-9zM791 1828l4 2 0 2-4 0-4-2 0-2zM552 1854l6 9 0 5-6 6 20 9 20 0 0-11-7-9-13-9zM332 1876l0 20 20 6 14 0 6-6 0-11-20-9zM418 1882l-6 3 27 6 6-6-20-6zM600 1876l0 9 20 9 14-3 11 0 20 3-7-9-13-9zM199 1892l0 15 7 9 24 0 8-6 12-3-24-11-20-6zM704 1890l-6 6 20 9 13-3 0-6-13-6zM318 1902l-10 5 20 6 20 3-7-9-13-9zM381 1898l7 9 0 10 13 4 24 0 14 2 6-6-20-6-10-4zM583 1911l0 6 27 6 6-6-20-8zM680 1911l0 6 18 11 33 6 25 0 0-11-14-12-20-2 7 8 0 5-11 0-11-5-13-8zM534 1922l0 6 24 11 0 16 6 6 8 6 7-3 0-11 6-3 0-5-13-15-5-2zM363 1933l0 6 14 9 13-3 0-6-13-9zM412 1944l0 6 13 6 20 3 25 0 0-9-20-9-14 3zM704 1944l0 6 14 5 13 1 0-6zM308 1952l0 9 20 6 10-2 3-4-13-9zM357 1952l6 9 14 9 13-3-13-15zM509 1955l-6 6 20 6 13 0-13-12zM425 2003l25 0 4 2 0 2-29 0-4-2 0-2zM425 2024l25 0 4 2 0 2-29 0-4-2 0-2z" fill="#70feff" fill-rule="evenodd"/>
<path transform="scale(.25)" d="M255 1655l49 0 1 2-50 0-1-1zM742 1677l25 0 1 1-26 0-1 0zM279 1688l25 0 1 1-26 0-1 0zM694 1688l24 0 24 11 25 0 1 1-26 0-24-11-24 0-2 0zM157 1699l25 0 1 1-26 0-1 0zM304 1710l25 0-24 1 0 10 23 7 49 0 9 4 0 4-49 0-8 7 23 7 9 4 0 4-7 7 0 11-25 0 0 11 23 10 16-3 24 0 8-8 24 0 0-11 17-3 24 0 8-7-23-10-16 3-9 0-25-4 17-4 8 0 24 4-8-11 0-15 33 0 9 4 0 4-8 8-16 3-8 7 23 10 16-3 24 0 8-7 16-11 0-4 9-7 25 7 24 4 1 0 0 11 25 11 23 7 24 0 26 4-17 4-49 0 0 11-9 0-8 3-16 0-23-7 8 11 15 10 26 11 0 11 24 11 0 12-17 3 16 17 15-3 9 0 9-3 0-11 16 0 15 3 8-7-8-11 0-4 33 0 9 4 0 15-9 0-23-3 8 10 15 10 25 8 23 3 0-11 1 0 26 12 0 55-25 0 8 10 0 15-9 0-16 7 16 10 26 12-25 0 0 11-1 0-1 0 0-22-23-7-16 0 0 11-33 0-24-4-16 4-49 0-7 7-26 0-24-7-25 0-23-4-25 0-25-11-47 0 0 11-99 0-16 4-7 7-26 0-1 0 0-11-49-22 25-1 0-10-24-7-39 0 0 22-8 7 0 11-27 0-7-11-17-11 9-7 0-11 15-4-7-11 0-25-8-7 0-29 8-4 0-4 8 0 16-7-16-10-25-1 24 0-7-11-17-11 0-11 25 7 25 0 24 4 9 11 0 4-8 7 23 7 9 4 0 11 65 18 23 3 0-32-23-7-9 3-16 0-16-7-9-11 41 7 0-7-17-11-39-7-9 0-8-3 0-15 33 0 33 15 16 10 15-4 0-10 25 0 7-7-23-11-26 0 25-1 0-11 24 0 0-10-23-7-9-4 0-4 8-7-8-11-15-10-26-1 24 0 0-11zM425 1710l25 0 1 1-26 0-1-1zM596 1710l24 7 25 0 9 4 0 4-34 0-24-3-1-1 0-11zM718 1721l24 0 2 1-26 0-1-1zM157 1725l16 3 9 0 9 4 0 15-9 8-33-12 0-4-8-7 0-7zM791 1732l26 12-27-12zM230 1743l26 0 0 12 15 10 0 7-16 0-16-3-9 0-8-4 0-4 7-7 0-11zM694 1743l1 1-3-1zM767 1750l8 4 16 4 16 7 10 11 0 11-17 4-8 7-75 0 24-1-12-10 0-6 53 2 8-7-23-7-9-4 0-15zM563 1761l-14 5 7 10 16 10 8-6 0-11 16 0 16 3 7-7-23-10-15 3-9 0zM157 1772l49 0 9 4 0 4-58 0-8-4 0-4zM427 1787l0 11-17 4-24 0 0 7 16 10 0 23 8 10 24 11 16 10 33 12 16 4 8 0 7-4-15-11-26-11 17-4 0-11 33 0 23 4 24 0-7-11-16-7-24-3-24-8-9-4-17-10 17-4 7-7-23-7-24 0zM500 1787l0 11 24 11 39 6 0-6-40-18zM694 1808l1 1-3 0zM361 1812l0 11-24 0 0 7 24 11 0 4-7 7 23 7 15-7 0-4 8-7 0-22-23-7zM450 1819l24 4 16 7 0 7-24 0-7 4 0 4-9 0-9-4 0-4-7-7 0-7zM507 1812l0 7 16 11 15-4-15-17zM581 1812l0 18 15 7 23-7 0-11-23-10zM791 1830l1 1-2-1zM549 1853l7 10 0 4-7 7 23 10 23 0 0-11-8-10-15-10zM329 1874l0 22 23 7 16 0 7-7 0-11-23-11zM417 1881l-7 4 31 7 8-7-24-7zM597 1874l0 11 23 10 16-3 9 0 23 3-8-10-15-11zM198 1892l0 15 8 10 24 0 9-7 15-3-25-11-23-7zM702 1889l-7 7 23 10 15-3 0-7-15-7zM317 1902l-12 5 23 7 23 3-7-10-16-11zM378 1896l8 11 0 10 15 4 24 0 16 3 8-7-24-6-8-4zM581 1911l0 6 31 7 7-7-23-10zM678 1911l0 6 17 11 38 7 25 0 0-11-16-13-23-4 8 10 0 4-9 0-9-4-15-10zM532 1921l0 7 24 11 0 15 7 7 9 7 8-3 0-11 7-4 0-4-15-17zM361 1932l0 7 16 11 15-4 0-7-15-10zM410 1943l0 7 15 7 24 3 24 0 0-10-23-10-16 3zM702 1943l0 7 16 5 15 2 0-7zM305 1951l0 10 23 7 11-2 5-5-16-10zM354 1951l7 10 16 10 15-3-15-17zM507 1954l-7 7 23 7 15 0-15-14zM425 2004l25 0 1 1-26 0-1 0zM425 2026l25 0 1 1-26 0-1-1z" fill="#80f8e2" fill-rule="evenodd"/>
<path transform="scale(.25)" d="M620 1718l25 0 7 3 0 3-32 0-20-3 0-9zM157 1726l18 3 7 0 6 3 0 14-6 6-4 0-27-9 0-3-9-8 0-6zM328 1729l49 0 6 3 0 3-48 0-7 6-7-9-14-9zM450 1729l24 0 7 3 0 3-7 6-4 0 0 2-13 3-7 6-7-9 0-14zM547 1734l4 0 21 6 20 3 0 11-14 3-6 0-25 7-23-10 8-7 9-4 0-3zM328 1745l4 0 20 6 7 3 0 3-7 6-4 0-20-6-7-3 0-3zM425 1751l21 3-14 3-27-3 14-3zM767 1751l6 3 18 4 15 7 8 10-23 0-31-10 0-14zM230 1756l2-1 23 0 15 10 0 7-15 0-18-4-7 0-6-3 0-3zM499 1762l17 0 7-6 24 11 7 9 18 12 6 10 14 9 0 2-14 3 0 18 18 8 24-7 24 10 0 11-17 3 17 18-48-1-7-9-16-11-8-11-18-8-20-3 14-3-17-18 41 7 0-7-42-19-28-5 0 11-21-6-24 0-21-3 0-11 14-3 24 0 7-6 4 0 0-2 14-3zM157 1773l49 0 7 3 0 3-56 0-6-3 0-3zM596 1769l18 4 6-6 4 0 21 6 24 0 21 3-14 3-49 0 0 11-7 0-9 3-15 0-23-6 8-7 0-11zM742 1782l18 2 24 0 7-6 21 9-14 3-7 6-49 1-11-10 0-5zM230 1795l25 0 31 14 14 9-21 0-1 1-41-7-7 0-6-3 0-14zM377 1795l17 0 7-7 21 10-14 3-25 0 0 8 14 9-20-6-18 0 0 10-24 0 0 8 24 11 0 3-7 6-28 0-20-6-10 4-15 0-15-7-8-10 41 7 0-8-14-9 24 0 0-2 14-3 0-10 25 0 6-7 4 0 0-1 14-3zM499 1799l20 10-14 3 0 7 14 10-27-10-14-9 0-1 14-3zM157 1816l25 0 20 3 4 2 7 9 0 3-7 7-49 0-6-10-14-9 0-11zM450 1820l24 4 15 6 0 7-24 0-8 4 0 3-7 0-7-3 0-3-8-8 0-6zM718 1838l24 0 7 3 0 14-27-3-4-2-7-9 0-3zM182 1843l1-1 23 0 31 10 0 11 67 19 20 3 0 9 2 2-22 10-23-10-6 0 29 12 3 0 21 6 20 3 25 11-14 3 0 8 14 9-21 0-1 2-47-2-4 2 0 9-21 0-24-11-4 0-21-6-42 0 0 22-7 7-3 1 0 9-21 0-6-9-17-11 8-7 0-11 15-3 4 1 0-2-4-1-6-10 0-24-9-8 0-29 9-4 0-3 6 0 18-8-14-9zM401 1843l7 9 24 11 14 9 0 11-21-6-17 8 35 8 8-8 3 0 0-9 27 9 18 4 9 0 8-4-14-9 0-2-24-11 14-3 0-11 31 0 20 3 4 2 7 9 0 3-7 6-4 2 25 11 8 2 20 0 24 10 4 0 0-1 14-3 27 3 25 11-14 3 0 7 14 10 0 1 4 2 1-1 41 7 24 0 0-11-18-15-20-3 14-3 0-8-18-8-18 0-6 6-25 0-7-9-13-9 0-2 13-3 7 0 10-4 0-11 15 0 17 4 7-6 7 9 13 9 0 2 29 8 20 3 25 11 0 42-25 0 0 1 4 2 7 9 0 14-7 0-18 8 14 9-20-6-18 0 0 11-31 0-28-5 0 2-14 3-49 0-7 6-28 0-20-6-25 0-20-3-4-2-24 0-21-9 0-9 24 0 21 6 18 0-18-16-18 0-6 6-21-9 0-43-8-2 0 11-24 0-27-9-41-11 0-11 3 0-49-22 0-9 24 0 21 6 17-8 0-3zM227 1883l0 11-21-6-9 3 0 16 8 10-3 0 4 2 24 0 10-8 19-4-25-11 0-9zM352 1904l18 0 7-7 6 10 0 10 18 5 24 0 18 3 7-6 20 9 0 10-20 0-1 1-17 3-24 0 0 8 17 8 21 3 0 9-21 0-3 2 0 9-21 0-20-9 13-3-16-18 16-4 0-8-17-12-25-11-6-9-14-10zM595 1906l-17 4 0 7 36 8 7-7-1-2-20-9-4-2zM718 1908l7 9 0 3-7 0-21-12zM530 1920l0 8 24 11 0 14 8 8 10 8 9-4 0-11 8-4 0-3-8-8-9-12-1 1zM619 1950l-2 0 4 1-1-3zM700 1942l0 8 18 6 18 2 0-8zM352 1952l7 9 16 11 0 10-47-1-21-9 0-9 21 6 13-2 5-6-14-9zM304 1974l20 9-14 3-6 6-21-9 0-9z" fill="#67f18b" fill-rule="evenodd"/>
<path transform="scale(.25)" d="M620 1720l25 0 4 1 0 2-29 0-11-2 0-5zM157 1726l29 6 0 13-4 3-13 0-15-5 0-2-10-9 0-6zM328 1731l49 0 3 1 0 2-48 0-4 3-4-5-8-5zM450 1731l24 0 4 1 0 2-4 3-13 0 0 6-7 2-4 3-4-5 0-12zM547 1738l13 0 23 5 0 11-11 2-25 7-21-9 8-6 10-5 0-2zM328 1749l13 0 15 5 0 2-4 3-12 0-16-5 0-2zM425 1752l12 2-8 2-15-2zM767 1752l24 7 13 6 8 9-21 0-28-9 0-13zM230 1760l4-4 21 0 13 9 0 6-13 0-25-4-3-2 0-2zM499 1763l20 0 4-3 24 11 4 5 8 5 0 6 13 5 3 6 8 5 0 6-8 1 0 20 21 10 24-8 21 9 0 10-17 3 17 18-21 0-12-4-12 0-4-5-17-11-7-11-21-9-11-2 8-1-18-19 42 8 0-9-45-21-12-1-12-6-13 0 0 11-12-4-24 0-12-1 0-11 8-2 24 0 4-3 13 0 0-6zM157 1774l49 0 4 2 0 2-53 0-3-2 0-2zM596 1770l21 4 3-3 13 0 12 3 24 0 12 2-8 2-49 0 0 10-4 0-11 5-13 0-21-6 8-6 0-11zM742 1783l21 2 24 0 4-3 12 5-8 1-4 4-24 0-6 3-19 0-9-8 0-4zM230 1796l25 0 28 13 8 5-12 0-3 4-46-8-3-1 0-13zM377 1796l20 0 4-4 12 6-8 1-25 0 0 10 8 5-11-4-21 0 0 11-24 0 0 9 24 11 0 2-4 3-37 0-11-3-11 4-14 0-13-6-8-9 42 8 0-10-8-5 24 0 0-6 8-1 0-11 25 0 3-4 13 0 0-5zM499 1803l11 6-8 1 0 9 8 6-15-6-8-5 0-5 8-2zM157 1818l25 0 11 1 13 6 4 7-4 3-49 0-3-5-8-5 0-11zM450 1821l24 3 14 6 0 6-25 0-9 5 0 2-4 0-4-2 0-1-9-10 0-6zM718 1840l24 0 4 1 0 13-15-2-13-6-4-5 0-1zM182 1847l3-4 21 0 28 9 0 11 42 11 28 9 11 2 0 5 7 6-18 8-25-10-13 2 38 16 12 0 24 5 24 11-8 2 0 9 8 5-12 0-3 5-21 0-13-5-11 0-4 5-9 1 0 5-12 0-24-11-13 0-12-3-44 0 0 22-8 7-9 2 0 5-12 0-3-5-17-11 7-6 0-11 13-3 13 4 0-6-13-5-3-6 0-23-10-9 0-28 10-5 0-2 3 0 21-9-8-5zM401 1847l4 5 24 11 8 5 0 11-12-3-20 9 41 9 7-8 10-1 0-5 36 10 11 0 9-5-8-5 0-6-24-11 8-2 0-11 28 0 11 2 13 6 4 5 0 2-4 3-13 6 25 11 13 1 13 5 11 0 24 10 13 0 0-5 8-2 15 2 25 11-8 1 0 9 8 6 0 5 13 6 3-4 42 8 24 0 0-11-10-10-11-9-11-1 8-2 0-9-21-10-21 0-3 4-25 0-4-5-7-5 0-6 11-2 11-4 0-11 14 0 20 4 4-3 4 5 7 5 0 6 13 6 13 0 23 5 25 11 0 38-25 0 0 5 13 6 4 5 0 13-4 0-21 9 8 5-11-3-21 0 0 11-28 0-12-2-12-6-13 0 0 6-8 2-49 0-4 3-37 0-11-3-25 0-11-2-13-6-24 0-12-5 0-5 24 0 12 3 21 0-21-18-21 0-3 3-12-5 0-43-13-2-13-4 0 11-24 0-57-16 0-10 10-1-49-22 0-5 24 0 12 3 20-9 0-2zM218 1879l0 11-12-4-11 5 0 16 8 9-10 1 13 6 24 0 4-6 8-5 26-5-25-11 0-5-9-6zM352 1905l21 0 4-4 3 6 0 10 21 5 24 0 21 5 4-4 11 5 0 6-11 0-4 4-17 3-24 0 0 9 20 9 12 2 0 5-12 0-3 4-9 2 0 5-12 0-11-5 7-2-17-18 17-4 0-9-17-11-3-5-25-11-3-5-8-6zM593 1905l-18 3 0 9 42 10 7-8-4-7-24-11zM718 1912l4 7-4 0-12-7zM527 1919l0 9 24 11 0 13 10 9 11 9 11-4 0-11 9-5 0-2-17-18-3-7-4 4zM617 1949l-9 1 16 2-4-8zM697 1941l0 9 21 7 21 2 0-9zM352 1956l4 5 15 11 0 8-19 0-12-3-12 0-12-5 0-5 12 3 15-2 6-7-8-5zM304 1978l11 5-8 2-3 3-12-5 0-5z" fill="#52f03b" fill-rule="evenodd"/>
<path transform="scale(.25)" d="M620 1721l25 0 1 1-26 0-3-1 0-1zM157 1727l26 5 0 12-1 1-21 0-5-2-11-11 0-5zM328 1732l49 0 1 1-49 0-1 1-4-3zM450 1732l24 0 1 1-1 1-20 0 0 9-4 2-1-2 0-11zM547 1741l21 0 8 2 0 11-29 8-18-8zM328 1752l20 0 6 3-2 1-20 0-5-2zM425 1754l4 0-2 1-5-1zM767 1754l24 6 12 5 7 8-19 0-26-8 0-11zM230 1763l6-6 19 0 12 8 0 5-12 0-25-4-1-1zM499 1764l23 0 1-1 24 11 4 4 0 9 21 9 4 3 0 10-3 0 0 21 23 11 24-8 19 8 0 9-17 3 17 18-19 0-20-6-4 0-19-13-7-11-23-10-4-1 3 0-17-19 41 8 0-10-47-22-4 0-20-9-21 0 0 10-4-1-28 0 0-11 49-2 0-9zM157 1775l49 0 1 1-50 0-1 0zM596 1771l23 4 1-1 21 0 4 1 28 1-51 0 0 11-14 5-12 0-19-5 7-6 0-10zM742 1783l23 3 25 0 1-1 4 2-4 1-24 0-10 5-15 0-7-6 0-4zM230 1797l25 0 28 13-4 0-5 7-44-8-1 0 0-12zM377 1797l23 0 1-1 4 2-27 0 0 11 3 1-4-1-23 0 0 11-25 0 0 10 25 11-2 2-45 0-3-1-13 5-12 0-12-6-7-8 42 8 0-11-2-1 24 0 0-10 3 0 0-11 46-1 0-9zM499 1807l3 2-2 0 0 10 2 2-7-3 0-9zM157 1819l29 0 20 10 1 2-1 1-49 0-3-3 0-11zM450 1822l24 3 12 5 0 6-24 0-12 6-12-12 0-5zM718 1841l26 0 0 12-6-1-20-9-1-2zM182 1850l5-6 19 0 26 8 0 11 42 11 33 11 0 2 11 9-14 6-15-6-10-3-20 3 45 20 20 0 8 1 24 11-2 1 0 10 2 2-4 0-5 7-19 0-21-7-3 0-6 7-19 4-24-11-72-1 0 22-7 7-19 5-18-13 6-5 0-11 12-3 21 6 0-9-21-9-1-2 0-22-11-10 0-27 11-7 14-4 10-6-2-2zM401 1850l1 2 27 13 0 11-4-2-23 11 47 10 6-8 15-2 0-2 29 7 12 0 11-5-3-2 0-9-24-11 2-1 0-10 30 0 20 9 2 2-11 7-11 4 24 11 21 2 20 7 4 0 24 11 21 0 0-9 8 0 24 11-3 0 0 10 3 2 0 9 21 10 5-7 42 8 24 0 0-11-23-21-4 0 3-1 0-10-23-11-49 2-4-4 0-9 17-5 0-11 12 0 23 4 1-1 4 4 0 9 20 9 21 0 8 2 24 11 0 34-24 0 0 9 20 9 1 2 0 12-13 4-11 6 3 2-4-1-23 0 0 10-26 0-4 0-20-9-21 0 0 9-3 0-94 2-4-2-29 0-20-9-24 0-4-2 0-2 51 1-23-20-23 0-1 1-4-2 0-43-21-3-20-7 0 11-25 0-47-12 0-9 15-2-49-22 0-2 25 0 4 1 12-4zM210 1876l0 11-4-2-12 5 0 17 6 8-14 2 20 10 24 0 6-7 0-3 7-5 12-3 20-2-24-11 0-2-15-9zM352 1906l23 0 2-1 1 2 0 10 23 6 24 0 24 5 1-1 4 1 0 2-4 0-6 7-17 3-25 0 0 10 23 10 4 1 0 2-4 0-5 6-19 5-4-2 3-1-18-18 18-3 0-11-18-11-5-9-25-11-4-3zM590 1904l-17 3 0 10 46 11 7-8 0-3-6-9-24-11zM718 1916l1 2-5-2zM524 1918l0 10 25 11 0 12 23 20 12-4 0-11 11-6-18-19 0-3-5-9-6 7zM615 1948l-15 2 26 3 0-3-6-9zM695 1940l0 10 23 8 23 2 0-10zM352 1959l15 13 0 7-15 0-28-7 0-2 4 1 17-2 6-8-3-2zM304 1981l3 2-3 2-4-2 0-2z" fill="#50f030" fill-rule="evenodd"/>
<path transform="scale(.25)" d="M157 1728l22 4 0 10-22 0-10-10 0-4zM547 1744l22 10-22 7-15-7zM255 1758l10 7 0 4-10 0-22-4 6-7zM791 1761l10 4 6 7-16 0-21-7 0-10zM596 1771l22 5 0 11-12 4-10 0-15-4 5-5 0-11zM742 1785l18 2-8 4-10 0-5-4 0-2zM255 1799l21 10-6 6-37-6 0-10zM547 1815l22 4 0 10-22 0-15-17zM450 1823l9 0 15 3 10 4 0 5-24 0-10 5-10-10 0-4zM279 1837l22 4-12 5-10 0-10-5-5-7zM620 1834l16 7 0 7-16 3-21-10zM206 1845l22 7 0 11 42 11 31 11 12 11-9 4-10-4-15-4-9 0-15 2-16-9-33-12-24 0-22-10 22-10 3 0 6-8zM596 1843l24 10 16 17-16 0-24-8-15-10-6-9zM401 1853l22 10 0 11-22 9-21-9 0-11zM523 1855l18 8-18 8-18-8 0-8zM694 1859l21 4 0 20-21 0-22-9 12-5 0-10zM157 1864l46 21-11 4 0 18 5 7-15 2-25-11-10-9 0-27zM401 1886l46 10 0 9-24 0-37-9 0-7zM474 1886l25 5 14 0 10-5 46 21 0 10-6 7-16-2-21-5-27-12-25-2-21-7 6-7zM572 1889l21 7-6 7-15 2-22-9 0-10zM767 1886l21 10 0 9-21 0-22-9 0-10zM255 1911l9 0 15-3 22 9 0 22-6 7-16 3-46-21 6-7 0-4 6-4zM645 1908l21 9 0 11 25 11 0 21-25 0 0 22-21 0-25-11-2 0 0 11-22 0-21-10 11-4 0-11 10-6 33 3 0-4-6-9 0-13 6-7 0-4-6-9zM767 1908l21 9 0 10-21 0-22-19zM182 1919l21 9 0 10-21 0-22-10 0-9zM328 1919l21 9 0 11-5 7-16 0-21-7 0-20zM401 1924l24 0 22 4-6 7-16 3-24 0-15-10-6-9zM596 1924l22 4 0 11-6 7-16 3-15-17 0-4-6-9zM523 1931l18 8 0 8-18 0-18-8 0-8zM718 1935l21 4 0 10-43-10 6-7zM157 1943l22 7 0 11-6 7-16 3-15-10 5-4 0-11zM767 1941l21 9 0 11-21 10-22-10 0-20zM401 1951l22 10-6 7-16 3-15-17zM547 1951l22 20-22 0-21-20zM718 1959l18 2 0 8 3 3 0 10-21 0-22-10 0-10 4-1 0-8zM352 1964l10 8 0 4-10 0-17-4 12-2z" fill="#8bf040" fill-rule="evenodd"/>
<path transform="scale(.25)" d="M157 1729l18 3 0 8-18 0-8-8 0-3zM547 1746l18 8-18 6-12-6zM255 1759l8 6 0 4-8 0-18-4 5-6zM791 1761l8 4 5 6-13 0-18-6 0-8zM596 1772l18 4 0 11-10 3-8 0-13-3 5-4 0-11zM742 1786l9 1-4 2-5 0-2-2 0-1zM255 1801l17 8-4 5-31-5 0-8zM547 1816l18 3 0 8-18 0-12-13zM450 1825l11 0 13 2 8 3 0 4-24 0-8 4-8-8 0-3zM279 1838l18 3-10 4-8 0-8-4-4-5zM620 1836l13 5 0 6-13 2-17-8zM206 1846l18 6 0 11 6 3 7 0 31 8 29 11 11 11-4 2-25-8-11 0-13 3-13-8-12-5-24-9-24 0-18-8 18-8 7 0 0-3 4-6zM596 1844l24 11 13 14-13 0-17-6-20-11-4-8zM401 1855l18 8 0 11-18 8-17-8 0-11zM523 1859l9 4-9 4-9-4 0-4zM694 1859l17 4 0 19-17 0-18-8 9-4 0-11zM157 1866l42 19-9 3 0 19 4 5-12 2-25-10-8-8 0-26zM401 1888l7 0 35 8 0 8-24 0-31-8 0-6zM474 1888l7 0 18 4 16 0 8-4 42 19 0 10-5 6-13-2-17-4-31-13-25-3-17-5 4-6zM572 1890l17 6-5 5-12 3-18-8 0-8zM767 1888l17 8 0 8-17 0-18-8 0-8zM255 1912l12 0 12-2 18 7 0 22-5 6-13 2-42-19 5-5 0-6 5-3zM645 1910l17 7 0 11 25 11 0 19-25 0 0 22-17 0-25-11-6 0 0 11-18 0-17-8 9-4 0-11 8-4 36 2 0-5-5-8 0-14 5-5 0-6-5-7zM767 1910l17 7 0 8-17 0-18-15zM182 1921l17 7 0 8-17 0-18-8 0-7zM328 1921l18 7 0 11-5 6-13 0-18-6 0-18zM401 1925l24 0 18 3-5 6-13 2-24 0-13-8-4-7zM596 1925l18 3 0 11-5 6-13 2-13-13 0-6-4-7zM523 1935l9 4 0 4-9 0-9-4 0-4zM718 1936l17 3 0 8-35-8 5-5zM157 1944l18 6 0 11-5 6-13 2-12-8 4-4 0-10zM767 1942l17 8 0 11-17 8-18-8 0-19zM401 1953l18 8-5 6-13 2-13-14zM547 1953l18 16-18 0-17-16zM718 1960l9 1 0 4 8 7 0 8-17 0-18-8 0-8 9-3 0-4zM352 1968l5 4 0 2-14-2 7-1z" fill="#c8f040" fill-rule="evenodd"/>
<path transform="scale(.25)" d="M157 1729l15 3 0 7-15 0-6-7 0-3zM547 1748l15 6-15 5-10-5zM255 1760l7 5 0 3-7 0-15-3 4-5zM791 1762l7 3 4 5-11 0-15-5 0-7zM596 1773l15 3 0 11-8 3-7 0-11-3 4-3 0-11zM255 1802l14 7-4 4-25-4 0-7zM547 1816l15 3 0 7-15 0-10-11zM450 1826l14 0 10 1 7 3 0 3-24 0-7 4-7-7 0-3zM279 1838l15 3-8 3-7 0-7-3-3-5zM620 1836l11 5 0 5-11 2-14-7zM206 1847l15 5 0 11 9 4 10 0 25 7 29 11 11 11-26-6-14 0-10 1-11-6-38-15-24 0-15-7 15-7 9 0 0-4 5-5zM596 1846l24 10 11 12-11 0-14-5-21-11-4-6zM401 1856l15 7 0 11-15 6-15-6 0-11zM523 1862l2 1-2 1-2-1 0-1zM694 1860l14 3 0 17-14 0-15-6 8-3 0-11zM157 1867l39 18-7 3 0 19 3 4-10 2-25-11-6-6 0-25zM401 1889l10 0 29 7 0 6-24 0-26-6 0-5zM474 1889l10 0 15 4 17 0 7-4 39 18 0 10-4 5-11-2-14-3-34-15-25-2-14-4 4-5zM572 1891l14 5-4 4-10 2-15-6 0-7zM767 1889l14 7 0 6-14 0-15-6 0-7zM255 1913l14 0 10-2 15 6 0 22-4 5-11 2-39-18 4-4 0-7 4-3zM645 1911l14 6 0 11 25 11 0 18-25 0 0 21-14 0-25-10-9 0 0 10-15 0-15-6 8-3 0-11 7-3 38 1 0-6-4-6 0-16 4-4 0-7-4-6zM767 1911l14 6 0 7-14 0-15-13zM182 1922l14 6 0 7-14 0-15-7 0-6zM328 1922l15 6 0 11-4 5-11 0-15-5 0-17zM401 1925l24 0 15 3-4 5-11 2-24 0-11-7-4-6zM596 1925l15 3 0 11-4 5-11 2-11-11 0-7-4-6zM523 1938l2 2-4-1 0-1zM718 1936l15 3 0 7-30-7 4-4zM157 1945l15 5 0 11-4 5-11 2-10-7 4-3 0-11zM767 1944l14 6 0 11-14 7-15-7 0-17zM401 1955l15 6-4 5-11 2-11-12zM547 1955l15 13-15 0-14-13zM718 1961l2 0 13 11 0 6-15 0-15-6 0-7 13-4 0-1zM352 1971l2 1-4 0z" fill="#eee63f" fill-rule="evenodd"/>
<path transform="scale(.25)" d="M157 1730l12 2 0 6-12 0-5-6 0-2zM547 1749l12 5-12 4-8-4zM255 1761l5 4 0 2-17-2 3-4zM791 1763l5 2 4 4-9 0-12-4 0-5zM596 1773l12 3 0 11-7 2-5 0-8-2 3-3 0-11zM255 1803l12 6-4 3-20-3 0-6zM547 1817l12 2 0 6-12 0-8-9zM450 1827l16 0 8 1 6 2 0 3-25 0-5 3-6-6 0-2zM279 1839l12 2-6 3-6 0-5-3-3-4zM620 1837l9 4 0 4-9 1-11-5zM206 1848l12 4 0 11 12 6 13 0 20 5 28 11 9 9-21-5-16 0-8 1-25-12-24-10-24 0-12-5 12-5 12 0 0-6 4-4zM596 1847l24 11 9 9-9 0-24-10-8-5-4-5zM401 1858l12 5 0 11-12 5-12-5 0-11zM694 1861l11 2 0 16-11 0-12-5 6-3 0-10zM157 1869l36 16-6 2 0 20 3 3-8 2-25-11-5-5 0-25zM401 1890l13 0 23 6 0 5-24 0-20-5 0-4zM474 1890l13 0 12 3 19 0 5-3 36 17 0 10-3 4-20-4-37-16-25-2-11-3 3-4zM572 1892l11 4-3 3-8 2-12-5 0-6zM767 1890l11 6 0 5-11 0-12-5 0-6zM255 1914l16 0 8-2 12 5 0 22-3 4-9 1-36-16 3-3 0-8 3-2zM645 1912l12 5 0 11 24 11 0 16-24 0 0 22-12 0-25-11-12 0 0 11-12 0-12-5 7-2 0-11 5-3 40 1 0-7-3-5 0-17 3-3 0-8-3-5zM767 1912l11 5 0 6-11 0-12-11zM182 1923l11 5 0 6-11 0-12-6 0-5zM328 1923l12 5 0 11-4 4-8 0-12-4 0-16zM401 1926l24 0 12 2-3 4-9 2-24 0-8-6-4-5zM596 1926l12 2 0 11-3 4-9 1-8-9 0-7-4-5zM718 1937l12 2 0 5-24-5 3-4zM157 1946l12 4 0 11-3 4-9 1-8-5 3-2 0-11zM767 1945l11 5 0 11-11 5-12-5 0-16zM401 1956l12 5-3 4-9 1-8-9zM547 1956l12 10-12 0-11-10zM718 1963l12 9 0 5-12 0-12-5 0-5z" fill="#e89a35" fill-rule="evenodd"/>
<path transform="scale(.25)" d="M157 1731l8 1 0 4-8 0-3-4 0-1zM547 1751l8 3-8 3-5-3zM255 1762l3 3 0 2-11-2 2-3zM791 1763l6 4-6 0-8-2 0-4zM596 1774l8 2 0 11-4 1-10-1 2-2 0-11zM255 1805l8 4-3 2-13-2 0-4zM547 1818l8 1 0 4-8 0-5-6zM450 1828l19 0 5 1 4 1 0 2-25 0-3 2-4-4 0-1zM279 1840l8 1-8 2-5-4zM620 1839l6 2 0 3-6 1-7-4zM206 1850l8 2 0 11 16 7 17 0 13 4 27 11 6 6-14-4-24 1-49-22-24 0-8-3 8-3 16 0 0-8 2-2zM596 1849l24 11 6 6-6 0-7-3-17-7-6-4-2-3zM401 1860l8 3 0 11-8 3-8-3 0-11zM694 1861l7 2 0 14-7 0-8-3 4-2 0-11zM157 1870l33 15-5 1 0 21 2 2-5 1-25-11-3-3 0-24zM401 1892l17 0 15 4 0 3-24 0-14-3 0-3zM474 1892l17 0 8 2 20 0 4-2 32 15 0 10-2 3-13-3-41-18-25-1-8-2 3-3zM572 1893l7 3-2 2-5 1-8-3 0-4zM767 1892l7 4 0 3-7 0-8-3 0-4zM255 1915l24-1 8 3 0 22-2 3-6 1-32-15 2-2 0-9zM645 1914l8 3 0 11 24 11 0 15-24 0 0 21-8 0-25-10-16 0 0 10-8 0-8-3 4-2 0-11 4-1 43 1 0-9-2-3 0-19 2-2 0-9-2-3zM767 1914l7 3 0 4-7 0-8-7zM182 1925l8 3 0 4-8 0-8-4 0-3zM328 1925l8 3 0 11-2 3-6 0-8-3 0-14zM401 1927l24 0 8 1-2 3-6 1-24 0-6-4-2-3zM596 1927l8 1 0 11-2 3-6 1-6-6 0-9-2-3zM718 1938l8 1 0 4-16-4 2-2zM157 1948l8 2 0 11-2 3-6 1-5-4 2-2 0-10zM767 1947l7 3 0 11-7 4-8-4 0-14zM401 1958l8 3-2 3-6 1-6-6zM547 1958l8 7-8 0-7-7zM718 1966l8 6 0 3-8 0-8-3 0-4z" fill="#f04f22" fill-rule="evenodd"/>
<path transform="scale(.25)" d="M157 1731l4 1 0 2-4 0-1-2zM547 1752l4 2-4 1-3-1zM255 1764l2 2-6-1zM791 1764l3 2-3 0-4-1 0-2zM596 1775l4 1 0 11-2 1-5-1 1-1 0-11zM255 1807l4 2-1 1-7-1 0-2zM547 1819l4 0 0 2-4 0-3-3zM450 1829l21 0 5 2-26 1-2-2zM279 1840l4 1-4 1-3-2zM620 1840l3 1 0 1-3 1-3-2zM206 1851l4 1 0 11 20 9 21 0 7 2 25 11 3 3-7-2-24 1-49-22-24 0-4-2 4-2 20 0 0-9zM596 1850l24 11 3 3-6-1-21-9-4-4zM401 1861l4 2 0 11-4 2-4-2 0-11zM694 1862l3 1 0 13-7-2 2-1 0-11zM157 1872l29 13-2 1 0 21 1 1-3 0-26-12 0-23zM401 1894l21 0 7 2 0 1-24 0-7-1 0-2zM474 1894l25 1 24-1 28 13 0 10-1 2-7-2-44-20-25 0-4-1zM572 1894l4 2-4 1-4-1 0-2zM767 1894l4 2 0 1-8-1 0-2zM255 1916l24 0 4 1 0 22-1 2-3 0-28-13 1-1 0-10zM645 1916l4 1 0 11 24 11 0 13-24 0 0 22-4 0-25-11-20 0 0 11-8-2 2-1 0-11 2-1 46 1 0-10-1-2 1-31-1-1zM767 1916l4 1 0 2-4 0-4-3zM182 1927l4 1 0 2-8-2 0-1zM328 1927l4 1 0 11-1 2-7-2 0-12zM401 1928l28 0-4 2-24 0-4-3zM596 1928l4 0 0 11-4 2-3-3 0-10-1-1zM718 1938l4 1 0 2-8-2 1-1zM157 1949l4 1 0 11-4 2-2-2 1-1 0-11zM767 1948l4 2 0 11-4 2-4-2 0-13zM401 1959l4 2-4 2-3-3zM547 1959l4 4-4 0-4-4zM718 1969l4 3 0 2-8-2 0-2z" fill="#f02b19" fill-rule="evenodd"/>
<path transform="scale(.25)" d="M157 1732l2 1-2 0zM547 1753l2 1-3 0zM255 1764l1 1-3 0zM791 1765l1 1-1 0-2-2zM596 1776l2 0 0 11-1 0-2 0zM255 1808l2 1-4 0zM547 1819l2 1-2 0-1-1zM450 1830l25 1-25 0zM620 1841l2 1-3-1zM206 1852l2 0 0 11 22 10 26 1 26 12-27 0-49-22-26-1 24-1 0-10zM596 1851l26 13-26-11-2-2zM401 1862l2 1 0 11-2 1-2-1 0-11zM694 1863l1 0 0 12-3-1zM157 1873l26 12 0 22-26-11zM401 1895l23 0 3 1-24 0-3 0zM474 1895l49 0 26 12 0 10-3 0-47-21-23 0-4 0zM572 1895l1 1-1 0-2 0zM767 1895l1 1-3 0zM255 1917l26 0-1 23-27-12 1-11zM645 1917l2 0 0 11 24 11 0 12-24 0 0 22-27-11-22 0 0 11-4-1 2-12 48 0-1-43zM767 1917l1 1-1 0-2-1zM182 1928l1 1-3-1zM328 1928l2 0-1 12-3-1 0-11zM401 1928l26 0-26 1-2-1zM596 1928l2 0 0 11-2 1-1-1-1-11zM718 1939l2 1-4-1zM157 1950l2 0 0 11-2 1-1-1zM767 1949l1 1 0 11-1 1-2-1 0-12zM401 1960l2 1-2 1-1-2zM547 1960l2 2-2 0-1-2zM718 1971l2 2-4-1z" fill="#f02818" fill-rule="evenodd"/>
</g>
<rect x="30.20" y="407.20" width="176.70" height="163.40" fill="none" stroke="#333" stroke-width="0.9"/>
<line x1="27.20" y1="570.60" x2="30.20" y2="570.60" stroke="#333" stroke-width="0.8"/>
<text x="24.40" y="574.00" font-size="9.9" text-anchor="end" fill="#111" stroke="#111" stroke-width="0.42" font-weight="bold">0</text>
<line x1="28.60" y1="556.98" x2="30.20" y2="556.98" stroke="#333" stroke-width="0.8"/>
<line x1="27.20" y1="543.37" x2="30.20" y2="543.37" stroke="#333" stroke-width="0.8"/>
<text x="24.40" y="546.77" font-size="9.9" text-anchor="end" fill="#111" stroke="#111" stroke-width="0.42" font-weight="bold">10</text>
<line x1="28.60" y1="529.75" x2="30.20" y2="529.75" stroke="#333" stroke-width="0.8"/>
<line x1="27.20" y1="516.13" x2="30.20" y2="516.13" stroke="#333" stroke-width="0.8"/>
<text x="24.40" y="519.53" font-size="9.9" text-anchor="end" fill="#111" stroke="#111" stroke-width="0.42" font-weight="bold">20</text>
<line x1="28.60" y1="502.52" x2="30.20" y2="502.52" stroke="#333" stroke-width="0.8"/>
<line x1="27.20" y1="488.90" x2="30.20" y2="488.90" stroke="#333" stroke-width="0.8"/>
<text x="24.40" y="492.30" font-size="9.9" text-anchor="end" fill="#111" stroke="#111" stroke-width="0.42" font-weight="bold">30</text>
<line x1="28.60" y1="475.28" x2="30.20" y2="475.28" stroke="#333" stroke-width="0.8"/>
<line x1="27.20" y1="461.67" x2="30.20" y2="461.67" stroke="#333" stroke-width="0.8"/>
<text x="24.40" y="465.07" font-size="9.9" text-anchor="end" fill="#111" stroke="#111" stroke-width="0.42" font-weight="bold">40</text>
<line x1="28.60" y1="448.05" x2="30.20" y2="448.05" stroke="#333" stroke-width="0.8"/>
<line x1="27.20" y1="434.43" x2="30.20" y2="434.43" stroke="#333" stroke-width="0.8"/>
<text x="24.40" y="437.83" font-size="9.9" text-anchor="end" fill="#111" stroke="#111" stroke-width="0.42" font-weight="bold">50</text>
<line x1="28.60" y1="420.82" x2="30.20" y2="420.82" stroke="#333" stroke-width="0.8"/>
<line x1="27.20" y1="407.20" x2="30.20" y2="407.20" stroke="#333" stroke-width="0.8"/>
<text x="24.40" y="410.60" font-size="9.9" text-anchor="end" fill="#111" stroke="#111" stroke-width="0.42" font-weight="bold">60</text>
<line x1="42.39" y1="570.60" x2="42.39" y2="573.60" stroke="#333" stroke-width="0.8"/>
<text x="42.39" y="584.00" font-size="10.0" text-anchor="middle" fill="#111" stroke="#111" stroke-width="0.42" font-weight="bold">0</text>
<line x1="72.85" y1="570.60" x2="72.85" y2="573.60" stroke="#333" stroke-width="0.8"/>
<text x="72.85" y="584.00" font-size="10.0" text-anchor="middle" fill="#111" stroke="#111" stroke-width="0.42" font-weight="bold">5</text>
<line x1="103.32" y1="570.60" x2="103.32" y2="573.60" stroke="#333" stroke-width="0.8"/>
<text x="103.32" y="584.00" font-size="10.0" text-anchor="middle" fill="#111" stroke="#111" stroke-width="0.42" font-weight="bold">10</text>
<line x1="133.78" y1="570.60" x2="133.78" y2="573.60" stroke="#333" stroke-width="0.8"/>
<text x="133.78" y="584.00" font-size="10.0" text-anchor="middle" fill="#111" stroke="#111" stroke-width="0.42" font-weight="bold">15</text>
<line x1="164.25" y1="570.60" x2="164.25" y2="573.60" stroke="#333" stroke-width="0.8"/>
<text x="164.25" y="584.00" font-size="10.0" text-anchor="middle" fill="#111" stroke="#111" stroke-width="0.42" font-weight="bold">20</text>
<line x1="194.71" y1="570.60" x2="194.71" y2="573.60" stroke="#333" stroke-width="0.8"/>
<text x="194.71" y="584.00" font-size="10.0" text-anchor="middle" fill="#111" stroke="#111" stroke-width="0.42" font-weight="bold">25</text>
<line x1="57.62" y1="570.60" x2="57.62" y2="572.20" stroke="#333" stroke-width="0.8"/>
<line x1="88.08" y1="570.60" x2="88.08" y2="572.20" stroke="#333" stroke-width="0.8"/>
<line x1="118.55" y1="570.60" x2="118.55" y2="572.20" stroke="#333" stroke-width="0.8"/>
<line x1="149.02" y1="570.60" x2="149.02" y2="572.20" stroke="#333" stroke-width="0.8"/>
<line x1="179.48" y1="570.60" x2="179.48" y2="572.20" stroke="#333" stroke-width="0.8"/>
<text x="118.55" y="601.00" font-size="10.6" text-anchor="middle" fill="#111" stroke="#111" stroke-width="0.42" font-weight="bold">X (Å)</text>
<text x="0" y="0" font-size="10.6" font-weight="bold" text-anchor="middle" fill="#111" stroke="#111" stroke-width="0.42" transform="translate(10.30,488.90) rotate(-90)">Z (Å)</text>
<clipPath id="cp2R"><rect x="286.60" y="407.10" width="179.40" height="164.90"/></clipPath>
<g clip-path="url(#cp2R)"><rect x="286.60" y="407.10" width="179.40" height="164.90" fill="#1806f8"/>
<path transform="scale(.25)" d="M1430 1671l24 0 25 10 25 0 16 8 0 7-41 0-25-11-24 0-17-7 0-7zM1233 1681l24 0 17 8 0 7-41 0-17-7 0-8zM1159 1692l24 0 17 8 0 7-41 0-17-7 0-8zM1405 1692l25 0 16 8 0 7-41 0-16-7 0-8zM1331 1703l25 10 25 0 19 8 0 9-25 0 0 2 6 4 5-1 25 0 2-3 0-7 66 0 17 7 0 8-25 0 3 3 0 9-93-2-6 4 0 9-3 2 0 7-16 0-66-29 0-7 17 0 3-2 5-2-8-3-25 0-16-8 0-7 41 0 24 11 6-1 0-3-6-3-16-8 0-7zM1528 1703l25 0 16 7 0 8-24 0 2 3 0 9-43 0-19-9 0-8 24 0 3-3 0-7zM1602 1703l17 7 0 8-17 0-16-8 0-7zM1652 1714l49-1 25 12 5-1 27 1 0-11 41 0 44 18 0 9-44 0-8-1-41 1-8-1 3 3 0 9-19 0-25-11-25-1-41-19 0-7zM1159 1725l24 0 25 11 49 0 41 18 0 7-16 0-6 2-2 2 0 7-25 0 3 4 0 8-3 3 0 18-16 0-25-10-25 0-19-8 0-30 25 0-6-7-41-18 0-7zM1553 1736l25 0 24 11 6-1 3-3 0-7 16 0 16 7 0 7 3 4 6 4 41 18 0 7-25 0 0 4 8 2 3-1 22 0 8 2-3-3 0-11-22-11 0-7 17 0 25 9 24 0 41 20 8 2 6 0 3-2-52-22 0-8 43 0 42 19 0 11 27 11 0 19-25 0 0 13 22 11 0 7-16 0-6 2 0 11-68 0-8-2 2 4 6 4 28-2 46 0 19 9 0 19-69 0-24-12-6 1 0 11-24 0 0 3 5 3 25 10 5 0-1-2 0-10 70 2 16 8 0 7-41 1-4 1-1 1 5 4 25 0 16 7 0 8 3 3 0 41-3 3 0 7-96 1-2 3 24 11 0 7-41 0-16-7 0-11-8-4-25 0-6 1-68-1-25-10-5 0-3 3 0 7-25 0 3 4 0 8-19 0-19-8 0-9 3-2-14-3-3 3 0 18-16 0-25-11-8 0 0 11-41 0-25-11-74 0-24-10-6 3 0 8-3 3 0 7-65 0-25-11-8 0 0 11-41 0-17-7 0-29 17 0 5-2 3-2-25-11 0-18 17 0 24 11 9 0 0-26-9-2-5 0-3 2 0 8-16 0-17-8 0-7-2-3 0-31 24 0 3-2-25-11 0-7 17 0 5-1 0-3-5-4-17-7 0-7 17 0 49 21 8 1-8-8-16-7 0-7 16 0 16 7 14 3 19 0 25 12 5-1 3-3-24-11 0-11-25-11 0-7 25 0 0-11 46-1 3-2 0-8-3-3 0-9 69 1 2-2 6-1 0-7-3-4 0-8 44 0 19 8 0 8-25 0-2 3 27 11 5 3 9 0 0-11 16 0 6-1 2-2 0-7 17 0 16 7 17 3 0-10-6-4 0-10 3-1 0-8 3-3 0-7zM1569 1750l3 4 25 11 0 8-19 0-9 3 0 11 9 2 24 0 19 9 0 8-49 0-3 3 0 10 25 11 0 8 5 3 0 10-5 1 27 11 0 11 6 2 8 2 0-11 25 0 0-11 24 0-2-4 0-8-6-6-24 0-44-19 0-8 24 0 3-2 0-8 17 0 5-1 0-2-5-4-41-18 0-7-3-4-6-4-24-11zM1824 1747l25 0 16 7 0 18-16 0-41-18 0-7zM1350 1795l-2 3 24 11 0 18-16 0-6 1-2 2 8 3 25 0 19 8 0 20-19 0-66-31-8-2-9-1 0 14 25 11 16 4 17 0 16 7 0 11 9 4 5-2 0-11 25 0 0-10-3-3 0-9 22 0 5 1 0-3-5-3-17-8 0-7 17 0 24 10 31 0 0-3-11-2-20 0-19-9 0-8 19 0 3-1 22 0 6 1 2-2-8-4-25 0-24-10-3 1-22 0-8-2zM1745 1795l-3 3 0 11 25 10 8 3 30 0 0-3-11-2-19 0-19-8 0-11-6-3zM1159 1812l24 0 17 7 0 8-41 0-17-8 0-7zM1520 1816l3 3 5 4 17 7 8 3 8-3-24-11zM1695 1817l0 11-2 2 13 3 28 1-3-4 0-8 3-3-8-3-6 1zM1627 1834l16 7 0 18-16 0-16-7 0-18zM1769 1839l-2 2 8 3 30 0 0-3-6-2zM1474 1850l0 2 5 3 3-2 71 2 8-3-8-2zM1254 1862l-5 1 8 2 6 0 3-2-9-2zM1326 1871l0 3 5 4 25 9 25 12 16 8 8 2 6 0 0-2-47-22-25-11zM1550 1883l-3 2 0 8 2 3 0 9-2 2 6 2 6 0-2-2-1-11 0-10 3-1-6-3zM1693 1881l0 4 8 3 5-1 0-2-5-4zM1253 1894l-1 2 0 11 5 2 6 0 0-13-6-3zM1668 1892l3 4 5 2 8 1 0-3-8-4zM1695 1926l-2 2 33 15 24 0 17 7 8 3 5 0 0-11 3-3 0-11-16-3-17 0-5 1-3 2 0 8-16 0-25-11zM1402 1938l-2 1 5 3 8 1-2-4-6-2zM1474 1948l0 2 5 4 25 9 4 0 1-2 0-8 19 0 9-3-9-3zM1697 1948l-2 2 0 11 6 4 8 0 0-15-8-3zM1279 1960l-3 1 11 2 3-2-8-2zM1356 2019l25 0 16 7 0 8-41 0-17-8 0-7z" fill="#2c40f0" fill-rule="evenodd"/>
<path transform="scale(.25)" d="M1430 1673l24 0 25 10 25 0 12 6 0 5-37 0-25-11-24 0-12-5 0-5zM1233 1683l24 0 12 6 0 5-36 0-12-5 0-6zM1159 1694l24 0 12 6 0 5-36 0-12-5 0-6zM1405 1694l25 0 12 6 0 5-37 0-12-5 0-6zM1331 1705l25 9 25 0 16 7 0 8-25 0 0 3 9 6 8-2 25 0 4-4 0-5 61 0 12 5 0 6-25 0 5 5 0 7-66 0-12-2-12 0-9 6 0 7-4 4 0 5-12 0-61-27 0-5 12 0 4-4 8-2-12-5-25 0-12-6 0-5 37 0 24 11 9-2 0-4-9-5-12-6 0-5zM1528 1705l25 0 12 5 0 6-25 0 5 5 0 8-41 0-16-8 0-7 24 0 4-4 0-5zM1602 1705l12 5 0 6-12 0-12-6 0-5zM1652 1716l24 0 9-2 16 0 16 7 9 6 8-2 16 0 13 2 0-11 36 0 41 16 0 7-41 0-12-1-37 1-12-1 4 5 0 7-16 0-25-11-13-1-12 0-36-17 0-5zM1159 1727l24 0 25 11 49 0 37 16 0 5-12 0-9 2-4 4 0 5-24 0 4 6 0 7-4 4 0 16-12 0-25-9-25 0-16-7 0-29 25 0-9-10-36-16 0-5zM1553 1738l25 0 24 11 9-2 4-4 0-5 12 0 12 5 0 5 4 6 9 6 36 16 0 5-24 0 0 6 12 4 5-2 20 0 13 3-5-5 0-11-8-6-12-5 0-5 12 0 25 9 24 0 37 18 12 4 9 0 4-4-53-22 0-7 40 0 37 18 0 11 13 4 16 7 0 18-25 0 0 14 9 6 12 5 0 6-12 0-9 1 0 11-65 0-13-2 4 6 9 6 8-2 23-1 43 1 16 7 0 18-22 1-44-1-16-7-8-6-9 2 0 11-24 0 0 4 8 5 25 9 8 0-2-3 0-9 68 3 12 6 0 5-37 2-6 1-2 2 8 6 25 0 12 5 0 6 4 5 0 40-4 4 0 5-62 0-8 2-25 0-4 4 25 11 0 5-37 0-12-5 0-11-12-6-25 0-9 2-40 0-13-2-12 0-25-9-8 0-4 4 0 5-25 0 4 6 0 7-16 0-16-7 0-7 4-4-21-4-4 4 0 16-12 0-25-11-13 0 0 11-36 0-25-11-74 0-24-9-9 4 0 7-4 4 0 5-61 0-25-11-13 0 0 11-36 0-12-5 0-27 12 0 8-2 4-4-24-11 0-16 12 0 24 11 13 0 0-28-13-3-8 0-4 3 0 6-12 0-12-6 0-5-4-5 0-29 24 0 4-4-24-11 0-5 12 0 8-2 0-4-8-5-12-6 0-5 12 0 49 20 13 2-8-6-5-5-12-6 0-5 12 0 12 5 21 4 16 0 16 7 9 6 8-2 5-4-25-11 0-11-25-11 0-5 25 0 0-11 12 0 8-2 25 0 4-3 0-6-4-5 0-7 41 0 13 1 12 0 4-3 8-2 0-5-4-6 0-7 41 0 16 7 0 7-25 0-4 4 13 4 16 7 8 5 13 0 0-11 12 0 9-1 4-4 0-5 12 0 24 9 13 1 0-10-8-6 0-9 4-2 0-7 4-4 0-5zM1565 1748l4 6 25 11 0 7-16 0-13 4 0 11 13 4 24 0 16 7 0 7-49 0-4 4 0 10 25 11 0 6 8 5 0 9-8 2 12 4 16 7 0 11 9 4 13 1 0-10 24 0 0-11 25 0-4-6 0-7-9-9-24 0-41-17 0-7 24 0 5-3 0-6 12 0 8-2 0-3-8-6-37-16 0-5-4-6-9-6-24-11zM1824 1749l25 0 12 5 0 16-12 0-37-16 0-5zM1347 1794l-4 4 25 11 0 16-12 0-9 2-4 3 13 4 25 0 16 7 0 18-16 0-41-18-9-5-12-6-12-3-13-2 0 16 25 11 25 6 12 0 12 5 0 11 13 5 8-1 0-11 25 0 0-11-4-4 0-9 20 0 8 2 0-4-8-5-12-6 0-5 12 0 24 9 34 0 0-4-17-3-17 0-16-8 0-7 16 0 5-1 20 0 9 1 4-3-13-6-25 0-24-9-5 2-20 0-12-4-12 0-9 2zM1742 1794l-4 4 0 11 24 10 13 4 33 0 0-4-9-2-8-1-16 0-16-7 0-11-9-4zM1159 1814l24 0 12 5 0 6-36 0-12-6 0-5zM1516 1814l4 5 8 6 12 5 13 4 13-4-25-11-13-3zM1692 1816l0 11-4 3 21 4 17 0 12 2-4-6 0-7 4-4-12-5-9 2zM1627 1836l12 5 0 16-12 0-12-5 0-16zM1766 1837l-4 4 13 4 33 0 0-4-9-4zM1471 1848l0 4 8 4 5-2 20 0 8 2 41 0 13-4-13-4zM1253 1861l-8 2 12 4 9 0 4-4-13-4zM1323 1870l0 4 8 5 25 10 37 18 12 3 9 0 0-3-25-11-8-6-12-5-25-11zM1548 1883l-3 2 0 7 2 4 0 8-2 3 8 3 9 0-3-3 0-9-1-2 0-9 4-2-9-4zM1688 1879l0 6 13 5 8-1 0-4-8-6zM1251 1893l-2 3 0 11 8 3 9 0 0-14-9-4zM1664 1890l4 6 8 3 13 2 0-5-13-6zM1692 1925l-4 3 38 17 24 0 25 9 8 0 0-11 4-4 0-11-12-3-13-2-12 0-8 2-4 3 0 6-12 0-25-11zM1401 1937l-4 2 8 4 13 2-4-6-9-3zM1471 1946l0 4 8 6 25 9 6-1 2-3 0-7 16 0 13-4-13-5zM1695 1947l-3 3 0 11 9 6 13 0 0-17-13-5zM1277 1959l-4 2 17 4 5-4-13-4zM1356 2021l25 0 12 5 0 6-37 0-12-6 0-5z" fill="#4793f0" fill-rule="evenodd"/>
<path transform="scale(.25)" d="M1430 1674l24 0 25 11 25 0 8 4 0 3-33 0-25-11-24 0-8-3 0-4zM1233 1685l24 0 9 4 0 3-33 0-9-3 0-4zM1159 1696l24 0 9 4 0 3-33 0-8-3 0-4zM1405 1696l25 0 8 4 0 3-33 0-8-3 0-4zM1331 1707l25 8 25 0 13 6 0 6-25 0 0 5 12 8 11-3 24 0 6-5 0-3 57 0 8 3 0 4-24 0 5 7 0 6-63 0-24-2-12 7 0 6-5 5 0 4-8 0-58-26 0-3 9 0 6-5 10-3-16-7-25 0-8-4 0-3 33 0 24 11 11-3 0-5-11-7-8-4 0-3zM1528 1707l25 0 8 3 0 4-24 0 5 7 0 6-38 0-14-6 0-6 25 0 5-5 0-3zM1602 1707l9 3 0 4-9 0-8-4 0-3zM1652 1718l24 0 11-3 14 0 13 6 12 8 11-3 13 0 17 3 0-11 32 0 39 14 0 6-39 0-16-2-8 0-11 2-14 0-16-2 5 7 0 6-13 0-25-11-25-2-33-15 0-3zM1159 1729l24 0 25 11 49 0 33 14 0 4-8 0-11 2-5 5 0 4-25 0 5 7 0 6-5 5 0 14-8 0-25-8-25 0-13-6 0-28 24 0-11-12-32-15 0-3zM1553 1740l25 0 24 10 11-2 6-5 0-3 8 0 8 3 0 4 6 7 11 7 32 15 0 3-24 0 0 8 16 5 6-3 19 0 16 5-5-7 0-11-11-7-8-4 0-4 8 0 25 9 24 0 33 17 16 5 11 0 6-5-25-11-16-5-14-6 0-6 38 0 33 17 0 11 17 5 13 6 0 17-24 0 0 15 11 8 8 3 0 4-8 0-11 2 0 11-63 0-17-2 6 7 11 7 11-2 21-1 42 1 13 6 0 17-21 1-42-1-13-6-11-7-11 2 0 11-25 0 0 5 11 7 25 8 11 0-3-4 0-8 41 2 25 2 8 4 0 3-8 0-11 3-14 0-8 1-3 3 11 8 25 0 8 3 0 4 5 7 0 39-5 5 0 3-58 0-11 3-24 0-6 5 25 11 0 3-33 0-8-3 0-11-16-8-25 0-11 3-38 0-25-3-25-8-11 0-5 5 0 3-25 0 6 8 0 6-14 0-14-6 0-6 6-5-28-5-5 5 0 14-8 0-25-11-16 0 0 11-33 0-25-11-74 0-24-8-11 5 0 6-6 5 0 3-57 0-25-11-16 0 0 11-33 0-8-3 0-26 8 0 11-2 5-5-24-11 0-14 8 0 24 11 17 0 0-30-17-4-11 0-5 4 0 4-8 0-8-4 0-3-6-7 0-28 25 0 5-5-24-11 0-4 8 0 11-2 0-5-11-7-8-4 0-3 8 0 24 8 25 11 16 2-10-7-6-7-8-4 0-3 8 0 8 3 28 5 13 0 14 6 11 7 11-2 5-5-24-11 0-11-25-11 0-3 25 0 0-11 8 0 11-2 25 0 5-5 0-4-5-7 0-6 38 0 25 2 5-5 11-2 0-4-5-7 0-6 38 0 13 6 0 6-24 0-6 5 17 5 13 6 11 7 17 0 0-11 8 0 11-2 6-5 0-4 8 0 24 9 17 2 0-11-11-7 0-8 5-3 0-6 6-5 0-3zM1561 1747l6 7 24 11 0 6-13 0-17 5 0 11 17 5 24 0 14 6 0 6-49 0-6 5 0 10 25 11 0 4 10 7 0 8-10 3 16 5 14 6 0 11 11 5 16 2 0-11 25 0 0-11 25 0-6-7 0-6-11-12-24 0-39-15 0-6 25 0 5-4 0-4 9 0 11-2 0-5-11-8-33-14 0-4-6-7-11-7-24-11zM1824 1750l25 0 8 4 0 15-8 0-33-15 0-4zM1345 1793l-6 5 25 11 0 14-8 0-11 2-6 5 17 5 25 0 13 6 0 17-13 0-39-17-11-7-24-9-17-2 0 18 25 11 33 7 8 0 8 4 0 11 17 7 11-2 0-11 24 0 0-11-5-5 0-8 19 0 11 2 0-5-11-7-8-4 0-3 8 0 24 8 36 0 0-5-22-5-14 0-13-6 0-6 13 0 6-2 19 0 11 2 6-4-17-8-25 0-24-8-6 2-19 0-16-5-8 0-12 3zM1739 1793l-5 5 0 11 16 7 25 8 35 0 0-5-22-4-13 0-14-6 0-11-11-5zM1159 1816l24 0 9 3 0 4-33 0-8-4 0-3zM1512 1812l5 7 11 8 9 3 16 5 16-5-24-11-17-4zM1690 1815l0 10-6 5 28 5 14 0 16 3-5-8 0-6 5-5-16-7-12 3zM1627 1838l8 3 0 15-8 0-8-4 0-14zM1764 1836l-6 5 17 5 35 0 0-5-11-5zM1468 1847l0 5 11 5 6-2 19 0 11 2 38 0 16-5-16-5zM1251 1860l-10 3 16 5 11 0 6-5-17-5zM1320 1869l0 5 11 7 25 9 33 17 16 4 11 0 0-4-24-11-11-8-33-14zM1547 1882l-5 3 0 6 3 5 0 7-3 4 11 4 11 0-3-4 0-8-2-3 0-9 5-2-11-5zM1684 1878l0 7 17 7 11-2 0-5-11-7zM1249 1892l-3 4 0 11 11 4 11 0 0-15-11-5zM1660 1888l5 8 11 5 17 2 0-7-17-8zM1690 1923l-6 5 42 19 24 0 25 8 11 0 0-11 5-5 0-11-16-5-25-2-11 2-5 5 0 4-8 0-25-11zM1399 1937l-5 2 11 5 17 3-6-8-11-5zM1468 1945l0 5 11 7 25 9 8-1 3-4 0-6 13 0 17-5-17-7-24 0-11 2zM1693 1947l-3 3 0 11 11 7 16 0 0-18-16-7zM1276 1958l-5 3 22 5 5-5-16-5zM1356 2023l25 0 8 3 0 4-33 0-8-4 0-3z" fill="#5bc7f7" fill-rule="evenodd"/>
<path transform="scale(.25)" d="M1430 1676l24 0 25 11 25 0 4 2 0 2-29 0-25-11-24 0-5-2 0-2zM1233 1687l24 0 5 2 0 2-29 0-5-2 0-2zM1159 1698l24 0 5 2 0 2-29 0-5-2 0-2zM1405 1698l25 0 4 2 0 2-29 0-4-2 0-2zM1331 1709l25 8 25 0 11 4 0 5-25 0 0 6 14 9 13-3 25 0 6-6 0-2 54 0 5 2 0 2-25 0 6 9 0 5-60 0-24-3-14 9 0 5-7 6 0 2-4 0-54-24 0-2 5 0 7-5 13-4-20-9-25 0-4-2 0-2 29 0 24 11 14-3 0-6-18-11 0-1zM1528 1709l25 0 4 1 0 2-24 0 6 9 0 5-35 0-11-5 0-4 24 0 7-7 0-1zM1602 1709l5 1 0 2-5 0-4-2 0-1zM1652 1719l24 0 14-2 11 0 11 4 14 9 13-3 11 0 20 3 0-11 29 0 36 13 0 5-36 0-20-3-18 3-11 0-20-3 7 9 0 5-11 0-25-11-25-3-29-13 0-2zM1159 1730l24 0 25 11 49 0 29 13 0 2-18 3-6 6 0 2-25 0 7 9 0 5-7 6 0 13-4 0-25-8-25 0-11-5 0-27 25 0-14-15-29-13 0-2zM1553 1741l25 0 24 11 14-3 7-6 0-2 4 0 4 2 0 2 7 9 14 9 29 13 0 2-25 0 0 9 20 6 8-3 17 0 20 6-7-9 0-11-18-11 0-2 5 0 25 8 24 0 11 5 18 11 20 6 14 0 7-6-25-11-20-6-11-5 0-5 35 0 11 5 19 11 0 11 20 6 11 5 0 15-25 0 0 17 18 11 0 2-18 3 0 11-60 0-20-3 6 9 14 9 13-3 21-2 40 2 11 5 0 16-21 1-40-1-11-5-13-9-14 3 0 11-24 0 0 6 13 9 25 8 13 0-3-6 0-7 39 2 25 3 4 2 0 2-39 4-4 4 14 9 25 0 4 2 0 2 7 9 0 38-7 6 0 2-54 0-13 3-25 0-6 6 24 11 0 2-29 0-4-2 0-11-20-9-25 0-14 3-35 0-25-3-25-8-13 0-7 6 0 2-25 0 7 9 0 5-11 0-11-5 0-5 7-6-34-6-7 6 0 13-4 0-25-11-20 0 0 11-29 0-25-11-74 0-24-8-14 6 0 5-7 6 0 2-53 0-25-11-20 0 0 11-29 0-5-2 0-24 18-3 7-6-25-11 0-13 5 0 24 11 21 0 0-31-21-6-13 0-7 6 0 2-4 0-5-2 0-1-6-9 0-27 24 0 7-6-25-11 0-2 18-3 0-6-18-11 0-2 5 0 24 8 25 11 20 3-13-9-7-9-4-2 0-2 42 8 11 0 11 5 14 9 14-3 6-6-24-11 0-11-25-11 0-2 25 0 0-10 18-3 24 0 7-6 0-2-7-9 0-5 36 0 25 3 7-6 13-3 0-2-7-9 0-5 36 0 11 5 0 5-25 0-6 6 20 6 11 5 13 9 21 0 0-11 18-3 6-6 0-2 5 0 24 8 21 3 0-11-13-9 0-8 6-3 0-5 7-6 0-2zM1557 1745l7 9 25 11 0 5-11 0-21 6 0 11 21 6 24 0 11 5 0 5-49 0-7 6 0 10 25 11 0 2 13 9 0 8-13 3 20 6 11 5 0 11 14 6 20 3 0-11 25 0 0-11 24 0-6-9 0-5-14-15-24 0-36-13 0-4 25 0 6-6 0-2 18-3 0-6-13-9-29-13 0-2-7-9-14-9-24-11zM1824 1752l25 0 4 2 0 13-4 0-29-13 0-2zM1342 1792l-6 6 24 11 0 12-18 3-6 6 20 6 25 0 11 5 0 16-11 0-36-16-18-11-20-6-21-3 0 20 25 11 45 9 4 2 0 11 21 9 13-3 0-11 25 0 0-11-7-6 0-8 18 0 13 3 0-6-18-11 0-2 5 0 24 8 39 0 0-6-28-6-11 0-11-5 0-4 11 0 8-3 17 0 14 3 6-6-20-9-25 0-24-8-8 2-17 0-20-5-18 3zM1737 1792l-7 6 0 11 20 8 25 8 38 0 0-6-27-6-11 0-11-4 0-11-14-6zM1159 1817l24 0 5 2 0 2-29 0-5-2 0-2zM1508 1810l7 9 18 11 20 6 20-6-24-11-21-6zM1687 1813l0 11-6 6 33 6 12 0 20 3-7-9 0-5 7-6-20-9-14 3zM1627 1839l4 2 0 13-4 0-4-2 0-13zM1761 1835l-6 6 20 6 38 0 0-6-14-6zM1465 1846l0 6 14 6 7-3 18 0 13 3 36 0 20-6-20-6zM1250 1860l-13 3 20 6 14 0 7-6-21-6zM1318 1868l0 6 13 9 25 8 11 5 18 11 20 6 14 0 0-6-25-11-18-11-25-11zM1546 1882l-7 3 0 5 4 6 0 6-4 5 14 6 14 0-4-6 0-7-3-4 0-8 7-3-14-6zM1681 1876l0 9 20 9 13-3 0-6-13-9zM1247 1891l-3 5 0 11 13 6 14 0 0-17-14-6zM1656 1887l7 9 13 6 20 3 0-9-20-9zM1687 1922l-6 6 45 20 24 0 25 8 13 0 0-11 7-6 0-11-20-6-25-3-13 3-7 6 0 2-4 0-25-11zM1398 1936l-6 3 13 6 20 3-6-9-14-6zM1465 1944l0 6 14 9 25 8 10-2 3-4 0-5 11 0 21-6-21-9-24 0-14 3zM1691 1946l-4 4 0 11 14 9 20 0 0-20-20-9zM1275 1958l-7 3 28 6 6-6-20-6zM1356 2024l25 0 4 2 0 2-29 0-5-2 0-2z" fill="#70feff" fill-rule="evenodd"/>
<path transform="scale(.25)" d="M1430 1677l24 0 25 11 25 0 1 1-26 0-25-11-24 0-1 0zM1233 1688l24 0 2 1-26 0-2 0zM1159 1699l24 0 2 1-26 0-2 0zM1405 1699l25 0 1 1-26 0-1 0zM1331 1710l25 7 25 0 8 4 0 4-24 0 0 7 16 11 15-4 25 0 8-7 50 0 1 1-24 0 7 10 0 4-58 0-24-3-16 10 0 4-9 8-51-23 10-7 15-4-23-10-26-1 26 0 24 11 16-4 0-7-17-11zM1528 1710l26 0-24 1 7 10 0 4-33 0-9-4 0-4 24 0zM1602 1710l2 1-3-1zM1652 1721l24 0 16-4 9 0 9 4 16 11 15-4 9 0 24 4 0-11 25 0 34 11 0 4-34 0-23-3-17 3-9 0-23-3 7 10 0 4-8 0-25-11-25-3-26-12zM1159 1732l24 0 25 11 49 0 26 12-17 3-7 8-25 0 8 10 0 4-8 7 0 11-26-7-25 0-9-4 0-26 25 0-16-17-26-12zM1553 1743l25 0 24 11 16-4 9-7 9 11 16 10 25 12-24 0 0 11 23 7 9-4 16 0 23 7-7-10 0-11-17-12 26 8 24 0 9 4 17 11 23 7 16 0 8-7-25-11-23-7-9-4 0-4 33 0 9 4 17 11 0 11 24 7 9 4 0 14-25 0 0 18 17 11-17 4 0 11-58 0-24-3 8 10 16 10 16-3 20-2 38 2 9 4 0 15-21 2-38-2-8-4-16-11-16 4 0 11-25 0 0 7 16 10 25 8 16 0-5-7 0-6 38 2 26 4-17 4-20 1-5 5 16 11 25 0 9 11 0 37-8 7-51 0-15 4-25 0-8 7 25 11-26 0-1 0 0-11-23-11-25 0-16 4-33 0-25-4-25-7-15 0-8 7-25 0 8 11 0 4-9 0-9-4 0-4 8-7-39-7-8 7 0 11-26-11-23 0 0 11-26 0-25-11-74 0-24-7-16 7 0 4-8 7-50 0-25-11-23 0 0 11-28 0 0-23 17-3 8-7-25-11 0-11 26 11 24 0 0-33-24-6-15 0-9 7-9-11 0-26 24 0 8-7-25-11 17-4 0-7-17-11 26 7 25 11 23 3-15-10-9-11 41 7 9 0 9 4 16 10 16-3 7-7-24-11 0-11-25-11 25 0 0-11 17-3 24 0 8-7-8-11 0-4 34 0 25 3 8-6 15-4-8-11 0-4 34 0 9 4 0 4-25 0-8 7 24 7 9 4 15 10 24 0 0-11 17-3 7-8 26 8 24 3 0-11-15-10 0-7 7-4 0-4zM1554 1744l8 10 25 11 0 4-9 0-24 7 0 11 24 7 24 0 9 4 0 4-49 0-8 7 0 10 25 11 15 11 0 7-15 4 23 7 9 4 0 11 16 7 23 3 0-11 25 0 0-11 25 0-8-10 0-4-16-17-24 0-34-12 0-4 25 0 7-7 17-3 0-7-15-11-26-11-8-11-16-10-24-11zM1824 1754l26 0 0 12-27-12zM1340 1791l-8 7 25 11 0 11-17 3-8 7 24 7 25 0 8 4 0 15-8 0-34-15-17-11-23-7-24-3 0 21 25 11 49 11 0 11 24 10 15-3 0-11 25 0 0-11-7-7 0-7 16 0 16 3 0-7-17-11 25 7 41 0 0-7-32-7-9 0-8-4 0-4 8 0 9-3 16 0 16 3 7-6-23-11-25 0-24-7-9 3-16 0-23-7-17 4zM1734 1791l-7 7 0 11 23 10 25 7 40 0 0-7-31-7-9 0-9-3 0-11-16-7zM1159 1819l24 0 2 1-26 0-2-1zM1505 1809l8 10 17 11 23 7 23-7-24-11-24-7zM1685 1812l0 11-8 7 40 7 9 0 23 4-8-11 0-4 8-7-23-10-16 3zM1627 1841l1 0 0 12-2-1 0-11zM1759 1834l-8 7 24 7 40 0 0-7-16-7zM1463 1845l0 7 16 7 9-3 16 0 15 3 34 0 23-7-23-7zM1249 1859l-15 4 23 7 16 0 8-7-24-7zM1316 1867l0 7 15 10 34 12 16 10 24 8 16 0 0-7-25-11-15-11-26-11zM1545 1881l-8 4 0 4 5 7 0 6-5 5 16 7 16 0-5-7 0-6-3-5 0-7 8-4-16-7zM1677 1874l0 11 24 10 16-3 0-7-16-11zM1246 1891l-4 5 0 11 15 7 16 0 0-18-16-7zM1653 1885l8 11 15 7 24 3 0-10-24-11zM1685 1921l-8 7 49 22 24 0 25 7 16 0 0-11 7-7 0-11-23-7-25-3-16 3-7 8-26-11zM1397 1936l-8 3 16 7 24 4-8-11-16-7zM1463 1943l0 7 16 10 25 8 11-2 4-5 0-4 9 0 24-7-24-10-24 0-16 3zM1689 1945l-4 5 0 11 16 10 23 0 0-21-23-10zM1273 1957l-7 4 32 7 7-7-23-7zM1356 2026l25 0 1 1-26 0-1-1z" fill="#80f8e2" fill-rule="evenodd"/>
<path transform="scale(.25)" d="M1356 1718l25 0 6 3 0 3-24 0 0 8 16 11-8 7-8 4 0 3-7 6-48-20 8-6 33-8 0-8-14-9zM1504 1718l18 0 6-6 7 9 0 3-31 0-7-3 0-3zM1701 1718l21 13 0 1 4 2 6 9 0 3-6 0-25-11-21-3 0-11 14-3zM1750 1729l21 3-14 3-28-3 14-3zM1799 1723l4 0 21 6 7 3 0 3-32 0-20-3 0-9zM1405 1740l18 0 7-6 24 0 7 9 0 3-56 0-21-3 14-3zM1208 1744l4 1 45 0 21 9-14 3-7 6-24 0-4 2 4 2 6 9 0 3-6 6-4 0 0 11-21-6-25 0-6-3 0-25 24 0-17-18zM1553 1745l7 9 24 11 0 3-6 0-25 7-15-10 0-7 8-4 0-3zM1627 1745l7 9 14 9 0 11-21 0-7-9-14-9 0-2 14-3zM1405 1762l25 0 7 3 0 3-25 0-7 6-7-9 0-3zM1775 1762l24 0 21 12-24 0-28-9 0-3zM1726 1773l24 0 21 12 0 2 28 8 18 0 7-7 4 0 28 10 0 14-25 0 0 18 14 10 0 1-14 3 0 11-56 0-21-3 0-9 21 6 42 0 0-8-18-8-42 0-7 7-7-10 0-3 7-6 4 0 21 6 42 0 0-8-35-7-7 0-7-3 0-11-18-8-18 0-6 6-7-9 0-11-14-9zM1331 1784l25 0 21 3-14 3-25 0-7 6-7-9 0-3zM1405 1776l25 8 21 12-21-6-10 3-15 0-23-6 8-7zM1504 1778l4 0 20 6 29 4 21 7 24 0 7 3 0 3-49 0-8 7-3 1 0 9-21-6-20-3-25-11 0-11 14-3zM1676 1795l10-4 15 0 23 7 0 10-16 4-25 0 0 10-7 7-28 0-28-10 0-3 25 0 7-6 3 0 0-1 14-3 0-8-14-10zM1307 1806l17 0 7-7 21 10 0 10-14 3-7 7-4 0-20-7-21-3 0-10 14-3zM1454 1816l10-3 15 0 18 3 7-6 7 9 17 13 4 0 21 6 25-7 15 10 0 7-15 4-25-8-92 0 0 8 18 8 10-4 15 0 18 4 31 0 25-7 31 10 0 11 18 8 21 3 4 2 6 9 18 8 21 3 0 10-14 3-7 7-4 1 27 11-11 5-5 6 0 11 14 9 0 13-14 3-31 0-21-3-29-8-18 0-6 6-27 1-23-5-17-2-7 6-21-9 0-9 21 6 13-2 5-6 0-3 6 0 25-7 4 1 0-2-25-11 0-22-28-12-4 0 0 2 24 10 0 21-24 0 0 1-14 3-25 0 0 8 14 9-21 0-24-11-7-9-18-8-18 8 18 8 21 3 0 9-45 0-4 2 0 20-21 0-49-22-4 0-21-6-18 8 36 8 7-6 20 9 0 9-20-6-18 8 0 3-7 6-49 0-21-9 0-20 25 0 0-11-4-4-21-9 0-22-29-7-17 0-7 6-7-9 0-25 25 0 6-6 4 0 0-2-24-11 14-3 0-8-14-9 20 6 25 11 29 5 20 6 18 0 7-6 4 0 0-2 14-3 8-7 46 10 0 10-23-5-18-2 0 8 14 9 0 2 36 11 18 12 3 0 21 6 18 0 0-7-25-11-14-9 0-2 14-3 0-11 25 0 0-11-8-8 0-7 15 0 18 4 0-8-14-9 20 6 43 0 0-8-36-8-7 0-6-3 0-3zM1356 1838l25 0 6 3 0 14-6 0-32-14-14-9zM1701 1835l18 3 27 3 0 9 3 2 8 11 14 9 0 2-14 3 0 11-25 0 0 8 14 9-20 0-21-9 14-3 0-8-14-9 24 0 0-13-7-2-21 0-7-9 0-3-17-18zM1233 1845l17 4 7 0 21 12-21-6-24 8-15-11-9-10zM1799 1871l13-2 37 2 7 3 0 14-20 2-37-2-20-12 0-2 14-3zM1543 1881l-8 4 0 3 5 8 0 5-5 6 18 7 18 0-5-7 0-6-3-5 0-7 8-4-18-8zM1244 1890l-5 6 0 11 18 7 18 0 0-18-18-8zM1626 1906l-3 1 0 10 8 2-2-2 0-10 2 0zM1799 1901l46 6-34 5-5 5 14 10-24 0-21-7-21-3 0-9 21 6 18 0-5-7 0-6zM1726 1908l20 9-14 3-6 7-21-10 0-9zM1574 1927l0 1 8 2 0-2-4-1zM1303 1938l0 1 4 2 24 11 4 0-4-4-24-10zM1849 1930l7 9 0 36-7 6-50 0-1 1-16 4-25 0-7 6-21-9 0-9-2-2 0-10 2-1 0-9 25 0 21 6 18 0 0-11 6-6 29 0 0-11zM1650 1949l-2 1 4 2 3 0 0-2-3-2zM1183 1963l21 9 0 9-21 0-20-9 14-3zM1454 1963l21 9 0 9-21 0-20-9 0-9zM1553 1985l7 9 0 3-7 0-7-3 0-3z" fill="#67f18b" fill-rule="evenodd"/>
<path transform="scale(.25)" d="M1356 1720l25 0 3 1 0 2-24 0 0 9 17 11-8 6-9 5 0 2-4 3-12-5-13-2-21-9 8-6 34-6 0-10-8-5zM1504 1720l21 0 3-4 4 7-28 0-4-2 0-1zM1701 1720l12 7 0 5 13 6 3 7-3 0-25-11-12-2 0-11zM1750 1731l12 1-8 2-16-2zM1799 1727l13 0 12 4 4 1 0 2-29 0-11-2 0-5zM1405 1741l21 0 4-3 24 0 4 7-53 0-12-2zM1208 1745l13 4 36 0 12 5-8 2-4 3-24 0-4 4-9 2 13 6 3 5 0 2-3 3-13 0 0 11-12-4-25 0-3-1 0-24 24 0-17-18zM1553 1749l4 5 24 11 0 2-3 0-25 7-13-9 0-6 9-5 0-2zM1627 1749l4 5 8 5 0 11-12 0-4-5-8-5 0-6 8-2zM1405 1763l25 0 4 2 0 2-25 0-4 3-4-5 0-2zM1775 1763l24 0 12 7-25 0-15-5 0-2zM1726 1774l24 0 12 7 0 6 13 5 13 0 11 4 21 0 4-4 13 0 16 6 0 12-25 0 0 20 8 5 0 6-8 2 0 11-53 0-12-2 0-5 12 3 45 0 0-9-21-9-45 0-4 3-4-5 0-1 4-4 13 0 12 4 45 0 0-10-49-10 0-11-21-10-21 0-3 4-4-5 0-11-8-5zM1331 1785l25 0 12 2-8 1-25 0-4 4-4-5 0-2zM1405 1777l25 8 11 7-11-4-11 5-14 0-21-6 8-6zM1504 1782l13 0 23 5 13 5 13 0 12 4 24 0 4 2 0 1-49 0-8 8-9 2 0 5-23-5-25-11 0-11 8-2zM1676 1796l11-4 14 0 21 6 0 9-17 3-25 0 0 11-4 4-37 0-16-6 0-1 25 0 4-4 13 0 0-5 7-2 0-9-7-6zM1307 1807l20 0 4-4 12 6 0 10-8 2-4 4-13 0-23-6 0-10zM1454 1818l12-5 13 0 21 5 4-4 4 5 7 6 0 5 13 6 13 0 12 4 25-8 13 9 0 6-13 4-25-8-95 0 0 9 21 9 11-4 14 0 21 4 28 0 25-7 28 9 0 11 21 9 12 2 13 6 3 5 21 9 12 2 0 10-8 2-4 4-13 5 13 3 19 8-9 4-6 7 0 11 8 5 0 17-8 2-28 0-12-2-13-6-13 0-12-3-21 0-3 3-25 0-6 3-19-4-20-2-4 3-12-5 0-5 12 3 15-2 6-7 0-2 3 0 25-7 13 4 0-6-25-11 0-22-37-16-13 0 0 6 24 10 0 17-24 0 0 5-8 2-25 0 0 9 8 5-12 0-24-11-4-5-21-9-21 9 21 9 12 2 0 5-36 0-13 6 0 16-12 0-49-22-13 0-12-3-21 9 42 9 4-3 11 5 0 5-11-3-21 9 0 2-4 3-49 0-12-5 0-16 25 0 0-11-10-6-3-6-12-5 0-22-13-5-13 0-12-4-20 0-4 4-4-5 0-24 25 0 3-3 13 0 0-6-24-11 8-2 0-9-8-5 11 3 25 11 12 2 13 6 13 0 11 3 21 0 4-3 13 0 0-6 8-2 10-6 37 8 0 8-19-4-21-2 0 9 8 5 0 6 26 6 16 5 8 5 0 6 13 5 12 0 12 4 21 0 0-9-25-11-8-5 0-6 8-2 0-11 25 0 0-11-10-9 0-6 14 0 21 4 0-9-8-5 11 4 46 0 0-10-46-9-3-2 0-1zM1356 1840l25 0 3 1 0 13-3 0-29-13-8-5zM1701 1835l36 6 0 5 10 6 7 11 8 5 0 6-8 2 0 10-25 0 0 10 8 5-11 0-12-5 8-2 0-9-8-5 24 0 0-17-12-2-13-4-12 0-4-7-17-18zM1233 1846l24 4 12 7-12-3-24 7-14-9-7-9zM1799 1872l16-2 34 2 4 2 0 12-19 3-35-3-11-6 0-6zM1542 1880l-10 5 6 11 0 4-6 7 21 9 21 0-6-9 0-5-4-6 0-6 10-5-21-9zM1242 1889l-6 7 0 11 21 9 21 0 0-20-21-10zM1623 1905l-9 2 0 10 13 6 13 0-7-6 0-8 7-2-13-3zM1799 1902l37 5-27 4-6 6 8 6-25 0-23-6 0-5 12 4 21 0-6-9 0-5zM1726 1912l11 5-8 2-3 4-12-6 0-5zM1565 1923l0 5 13 6 13 0 0-6-13-5zM1294 1934l0 5 13 6 24 11 13 0-13-12-11-5-13-5zM1849 1934l4 5 0 35-4 3-50 0-3 4-17 4-25 0-4 3-12-5 0-5-9-6 0-9 9-2 0-5 25 0 12 3 21 0 0-11 3-3 38 0 0-11zM1646 1947l-7 3 13 6 13 0 0-6-13-6zM1183 1967l12 5 0 5-12 0-11-5 8-2zM1454 1967l12 5 0 5-12 0-11-5 0-5zM1553 1989l4 6-8-1 0-2z" fill="#52f03b" fill-rule="evenodd"/>
<path transform="scale(.25)" d="M1356 1721l26 0-25 1 0 10 18 11-19 13-4-2-21-2-19-9 7-5 12-3 24-3 0-11-3-1zM1504 1721l23 0 1-1 2 2-26 0-2-1zM1701 1721l4 2 0 9 21 9 1 3-30-12 0-11zM1750 1732l4 0-3 1-5-1zM1799 1731l21 0 5 2-26 0-3-1 0-1zM1405 1743l49-2 2 3-51 0-4-1zM1208 1746l21 6 28 0 4 2-4 2-24 0-6 6-15 3 21 9 1 2-1 2-21 0 0 10-4-1-25 0-1 0 0-23 25 0-18-18zM1553 1752l1 2 25 12-26 7-12-8 0-5zM1627 1752l4 4 0 11-4 0-4-4 0-9zM1405 1764l25 0 1 2-25 0-1 1-1-2zM1775 1764l24 0 4 3-24 0-5-2zM1726 1775l24 0 4 3 0 9 21 9 21 0 3 1 46-1 5 2 0 11-25 0 0 21 3 2 0 9-3 1 0 11-54-1 0-2 4 2 48 0 0-11-24-10-48 0-1 1-1-2 1-1 73 1 0-11-48-10-1 0 0-11-24-11-23 0-1 1-2-1 0-11-2-2zM1331 1786l29 1-28 0-1 1-1-1zM1405 1778l29 10-4-1-13 5-12 0-19-5 7-6zM1504 1785l20 0 8 2 21 9 49 1 2 1-50 0-7 8-15 3 0 1-8-1-24-11 0-11zM1676 1797l13-5 12 0 19 6 0 8-18 3-25 0 0 11-1 1-45 0-5-2 46-1 0-9 3-1 0-10-3-2zM1307 1808l23 0 1-1 4 2 0 10-4 2-21 0-7-2 0-10zM1454 1819l13-5 12 0 23 5 2-1 4 3 0 9 20 10 21 0 4 1 25-8 12 8 0 6-12 3-25-8-97 0 0 10 23 10 13-4 12 0 23 4 26 0 25-7 26 8 0 11 23 10 4 1 45 21 4 1 0 10-25 11 21 5 15 6-7 4-7 7 0 11 3 2 0 20-32 0-21-9-21 0-4-1-49 1-10 5-15-4-23-2-1 1-4-2 0-2 4 1 17-2 6-9 26-7 21 6 0-9-25-11 0-22-45-20-21 0 0 10 25 10 0 13-25 0 0 9-3 1-24 0 0 10 2 2-4 0-49-23-23 10 23 11 4 0 0 2-28 0-21 9 0 13-4 0-49-22-21 0-4-1-23 10 46 10 2-1 3 2 0 2-3-1-13 4-12 8-49 0-4-2 0-13 24 0 0-11-15-9-5-9-4-2 0-22-21-9-21 0-4-1-23 0-1 1-2-1 0-23 47-1 0-9-25-11 3-1 0-10-3-2 54 22 20 0 4 1 46-1 0-9 13-7 30 7 0 7-38-6 0 10 2 2 0 9 46 10 4 2 0 10 21 9 48 1 0-10-28-13 0-9 3-1 0-11 25 0 0-11-11-10 0-5 12 0 23 5 0-11-2-1 3 1 48 0 0-11-48-10-1-1zM1356 1841l26 0 0 12-27-12-3-1zM1701 1836l28 5 0 2 15 9 7 11 3 2 0 9-3 0 0 11-24 0 0 11 2 1-7-1 2-1 0-10-2-2 24 0 0-20-20-3-21-6-4 0-19-21zM1233 1847l24 5 4 2-4-1-24 7-12-8-7-8zM1799 1873l17-3 8 0 25 3 1 1 0 11-18 3-33-3-3-2 0-9zM1540 1879l-10 6 6 11 0 3-6 8 23 10 23 0-6-10 0-4-4-7 0-6 10-5-23-11zM1240 1888l-6 8 0 11 23 10 24 0 0-21-24-11zM1621 1904l-15 3 0 10 21 10 21 0-11-10 0-6 11-4-21-5zM1799 1903l29 4-21 3-6 7 2 2-24 0-8-2 0-1 4 1 23 0-6-10 0-4zM1726 1916l3 1-3 2-4-2 0-1zM1557 1919l0 9 21 10 20 0 0-10-20-9zM1286 1930l0 9 21 9 24 11 21 0-21-18-24-11zM1849 1938l1 1 0 34-1 1-50 0-5 6-18 3-25 0-1 2-19-13 0-8 15-3 0-2 52 1 0-10 1-2 46 0 0-10zM1642 1946l-11 4 21 9 20 0 0-9-20-9zM1183 1970l4 2 0 2-8-2zM1454 1970l4 2 0 2-7-2 0-2zM1553 1992l1 2-2 0z" fill="#50f030" fill-rule="evenodd"/>
<path transform="scale(.25)" d="M1331 1736l9 0 16-2 16 9-16 10-25-3-15-7 5-4zM1208 1747l22 7-6 7-16 3-16-17zM1553 1755l22 10-22 7-10-7 0-4zM1405 1780l22 7-12 4-10 0-16-4 6-5zM1528 1788l22 10-6 7-16 2-21-9 0-10zM1701 1793l16 5 0 7-16 2-22-9 12-5zM1799 1799l22 10 0 9-43-9 0-10zM1479 1815l22 4 0 10-44-10 12-4zM1578 1834l10 7 0 5-10 2-22-7zM1701 1837l25 6 15 9 6 10-21-3-25-8-16-17zM1233 1848l21 4-21 7-10-7-6-7zM1430 1848l21 4 0 10-21 0-10-10 0-4zM1331 1861l10 2 0 4-28-4 9-4zM1504 1859l21 4 25 11-22 9-46-20 12-4zM1578 1856l21 7 0 10-21 0-22-10zM1824 1872l18 2 0 11-13 2-23-2 0-11zM1233 1877l18 8-13 2-5 6-18-8 0-8zM1454 1877l18 8 0 8-18 0-17-8 0-8zM1183 1888l18 8 0 8-18 0-18-8 0-8zM1307 1888l6 0 36 8 0 8-42 0-18-8 0-8zM1528 1888l5 8 0 2-5 6-18-8 0-8zM1578 1886l49 2 18 8 0 8-18-4-31 7 0 8-18 0-10-19 0-5zM1799 1904l18 3-13 2-5 6-4-8 0-3zM1307 1908l21 9 0 10-21 0-22-10 0-9zM1454 1908l25 0 22 9 0 10-47 0-21-10 0-9zM1652 1910l18 7-18 8-10-8 0-4zM1257 1919l22 9 0 22-22 10-15-10-6-9 0-22zM1356 1919l25 0 21 9-21 10-25 0-22-10 0-9zM1430 1919l21 9 0 10-21 0-22-10 0-9zM1627 1931l18 8-18 8-18-8 0-8zM1676 1935l10 4-5 2-5 6-18-8 0-8zM1356 1942l18 8-18 8-18-16zM1602 1941l22 9 0 21-22 0-21-10 0-20zM1553 1954l22 7 0 10-22 0-22-10zM1824 1953l18 8 0 8-18 0-18-8 0-8zM1282 1968l22 4-22 10-22-10 0-10zM1528 1964l18 8-8 4-28-4 13-2zM1652 1962l21 10 0 10-21 0-22-10 0-10zM1750 1962l25 0 21 10-5 7-16 3-25 0-16-10 0-7z" fill="#8bf040" fill-rule="evenodd"/>
<path transform="scale(.25)" d="M1331 1737l12 0 13-2 13 8-13 8-25-2-13-6 5-3zM1208 1748l18 6-5 6-13 2-13-14zM1553 1757l18 8-18 6-8-6 0-4zM1405 1781l18 6-10 3-8 0-13-3 5-4zM1528 1790l18 8-5 5-13 2-17-7 0-8zM1701 1794l13 4 0 5-13 2-18-7 10-4zM1799 1801l18 8 0 7-35-7 0-8zM1479 1816l18 3 0 8-36-8 10-3zM1578 1836l8 5 0 4-8 2-18-6zM1701 1838l18 3 7 3 12 8 5 8-17-2-25-9-13-13zM1233 1848l17 4-17 6-9-6-4-6zM1430 1848l18 4 0 8-18 0-8-8 0-4zM1331 1862l5 1 0 2-14-2 4-2zM1504 1859l17 4 25 11-18 8-42-19 10-4zM1578 1857l17 6 0 8-17 0-18-8zM1824 1873l9 1 0 11-6 1-12-1 0-11zM1233 1881l9 4-7 1-2 3-9-4 0-4zM1454 1881l9 4 0 4-9 0-9-4 0-4zM1183 1892l9 4 0 4-9 0-9-4 0-4zM1307 1892l15 0 9 2 9 2 0 4-33 0-9-4 0-4zM1528 1892l3 4-3 4-9-4 0-4zM1578 1888l24 0 16 4 9 0 9 4 0 4-9-2-12 3-20 3-8 3 0 4-9 0-9-15 0-4zM1799 1905l9 2-6 1-3 3-2-4 0-2zM1307 1910l17 7 0 8-17 0-18-8 0-7zM1454 1910l25 0 18 7 0 8-43 0-17-8 0-7zM1652 1914l9 3-9 4-5-4 0-2zM1257 1921l18 7 0 22-18 8-13-8-4-8 0-21zM1356 1921l25 0 17 7-17 8-25 0-18-8 0-7zM1430 1921l18 7 0 8-18 0-18-8 0-7zM1627 1935l9 4-4 2-5 2-9-4 0-4zM1676 1937l5 2-5 4-9-4 0-4zM1356 1946l9 4-9 4-9-8zM1602 1942l18 8 0 19-18 0-17-8 0-19zM1553 1955l18 6 0 8-18 0-18-8zM1824 1957l9 4 0 4-9 0-9-4 0-4zM1282 1968l18 4-18 8-18-8 0-8zM1528 1968l9 4-4 2-14-2 7-1zM1652 1964l17 8 0 8-17 0-18-8 0-8zM1750 1964l25 0 18 8-5 6-13 2-25 0-13-8 0-6z" fill="#c8f040" fill-rule="evenodd"/>
<path transform="scale(.25)" d="M1331 1738l14 0 11-1 11 6-11 7-25-2-10-5 3-3zM1208 1749l15 5-4 5-11 2-11-12zM1553 1758l15 7-15 5-7-5 0-3zM1405 1782l15 5-8 3-7 0-11-3 4-3zM1528 1791l15 7-4 4-11 2-14-6 0-7zM1701 1795l11 3 0 4-11 2-15-6 8-3zM1799 1802l15 7 0 6-29-6 0-7zM1479 1816l15 3 0 7-30-7 8-3zM1578 1836l6 5 0 3-6 2-15-5zM1701 1838l15 3 10 5 10 6 4 7-14-2-25-9-11-12zM1233 1849l14 3-14 5-7-5-4-5zM1430 1849l15 3 0 7-15 0-7-7 0-3zM1331 1863l1 1-3-1zM1504 1860l15 3 24 11-15 6-39-17 8-3zM1578 1858l14 5 0 7-14 0-15-7zM1824 1874l2 0 0 11-1 0-3 0 0-11zM1233 1884l2 1-2 1-3-1 0-1zM1454 1884l3 2-5-1 0-1zM1183 1895l3 2-5-1 0-1zM1307 1895l22 0 4 1 0 1-26 0-3-1 0-1zM1528 1895l0 2-2-1 0-1zM1578 1889l24 0 25 6 2 2-2-1-25 6-10 0-14 6-7-12 0-3zM1799 1906l3 1-3 1zM1307 1911l14 6 0 7-14 0-15-7 0-6zM1454 1911l25 0 15 6 0 7-40 0-14-7 0-6zM1652 1916l2 1-2 1-2-1zM1257 1922l15 6 0 22-15 7-10-7-4-6 0-22zM1356 1922l25 0 14 6-14 7-25 0-15-7 0-6zM1430 1922l15 6 0 7-15 0-15-7 0-6zM1627 1938l2 1-1 1-3-1 0-1zM1676 1939l1 0-1 1-2-1 0-1zM1356 1949l2 1-2 1-2-2zM1602 1944l15 6 0 18-15 0-14-7 0-17zM1553 1956l15 5 0 7-15 0-15-7zM1824 1960l2 2-4-1 0-1zM1282 1969l15 3-15 6-15-6 0-7zM1528 1971l3 1-5 0zM1652 1965l14 7 0 6-14 0-15-6 0-7zM1750 1965l25 0 15 7-4 5-11 1-25 0-11-6 0-5z" fill="#eee63f" fill-rule="evenodd"/>
<path transform="scale(.25)" d="M1331 1739l16 0 9-1 8 5-8 5-13 0-12-1-8-4 3-2zM1208 1750l12 4-3 4-9 1-9-9zM1553 1760l12 5-12 4-5-4 0-2zM1405 1783l12 4-6 2-6 0-8-2 3-3zM1528 1792l12 6-3 3-9 2-11-5 0-6zM1701 1795l8 3 0 3-8 2-12-5 6-3zM1799 1803l12 6 0 5-23-5 0-6zM1479 1817l12 2 0 6-24-6 7-2zM1578 1837l5 4 0 3-5 1-12-4zM1701 1839l12 2 13 6 8 5 3 5-11-1-25-10-9-9zM1233 1850l11 2-11 4-9-8zM1430 1850l12 2 0 5-12 0-6-5 0-2zM1504 1861l12 2 24 11-12 5-36-16 6-2zM1578 1859l11 4 0 5-11 0-12-5zM1578 1890l24 0 21 6-21 5-13 0-11 4-6-9 0-3zM1307 1912l11 5 0 6-11 0-12-6 0-5zM1454 1912l25 0 12 5 0 6-37 0-11-6 0-5zM1257 1923l12 5 0 22-12 5-8-5-4-5 0-22zM1356 1923l25 0 11 5-11 6-25 0-12-6 0-5zM1430 1923l12 5 0 6-12 0-12-6 0-5zM1602 1945l12 5 0 16-12 0-12-5 0-16zM1553 1957l12 4 0 5-12 0-12-5zM1282 1970l12 2-12 5-12-5 0-5zM1652 1967l11 5 0 5-11 0-12-5 0-5zM1750 1967l25 0 12 5-4 4-8 1-25 0-8-5 0-4z" fill="#e89a35" fill-rule="evenodd"/>
<path transform="scale(.25)" d="M1331 1741l25-1 6 3-6 4-17 0-8-1-5-3zM1208 1752l8 2-2 3-6 1-6-6zM1553 1761l8 4-8 2-4-2 0-2zM1405 1784l8 3-4 1-10-1zM1528 1794l8 4-2 2-6 1-8-3 0-4zM1701 1796l6 2 0 2-6 1-8-3zM1799 1805l8 4 0 3-15-3 0-4zM1479 1818l8 1 0 4-16-4zM1578 1839l3 2 0 2-3 1-8-3zM1701 1840l8 1 17 8 5 3 2 4-15-4-17-7-6-6zM1233 1850l8 2-8 3-6-5zM1430 1850l8 2 0 4-8 0-4-4 0-2zM1504 1861l8 2 24 11-8 3-32-14zM1578 1860l8 3 0 3-8 0-8-3zM1578 1892l24 0 14 4-14 3-16 0-8 3-4-6 0-2zM1307 1914l7 3 0 4-7 0-8-4 0-3zM1454 1914l25 0 8 3 0 4-33 0-7-4 0-3zM1257 1925l8 3 0 22-8 4-5-4-3-3 0-22zM1356 1925l25 0 7 3-7 4-25 0-8-4 0-3zM1430 1925l8 3 0 4-8 0-8-4 0-3zM1602 1947l8 3 0 15-8 0-8-4 0-14zM1553 1959l8 2 0 4-8 0-8-4zM1282 1970l8 2-8 3-8-3 0-4zM1652 1968l7 4 0 3-7 0-8-3 0-4zM1750 1968l25 0 8 4-2 2-6 1-25 0-6-3 0-3z" fill="#f04f22" fill-rule="evenodd"/>
<path transform="scale(.25)" d="M1331 1742l25-1 3 2-3 2-21 0-7-2zM1208 1753l4 1-4 2-3-3zM1553 1763l4 2-4 1-2-1zM1405 1785l4 2-7 0zM1528 1796l4 2-4 1-4-1 0-2zM1701 1797l3 1 0 1-3 0-4-1zM1799 1807l4 2 0 1-8-1 0-2zM1479 1819l4 0 0 2-8-2zM1578 1840l1 2-5-1zM1701 1840l25 10 3 4-7-2-21-9-3-3zM1233 1851l4 1-4 1-3-2zM1430 1851l4 1 0 2-4 0-2-2zM1504 1862l28 12-4 2-28-13zM1578 1862l4 1 0 2-8-2zM1578 1894l24 0 7 2-7 1-20 0-4 2-2-4zM1307 1916l4 1 0 2-8-2 0-1zM1454 1916l25 0 4 1 0 2-29 0-4-2 0-1zM1257 1927l4 1 0 22-4 2-4-4 0-21zM1356 1927l25 0 3 1-3 2-25 0-4-2 0-1zM1430 1927l4 1 0 2-8-2 0-1zM1602 1948l4 2 0 13-8-2 0-13zM1553 1960l4 1 0 2-8-2zM1282 1971l4 1-4 2-4-2 0-2zM1652 1970l4 2 0 2-8-2 0-2zM1750 1970l25 0 4 2-4 2-25 0-3-2 0-1z" fill="#f02b19" fill-rule="evenodd"/>
<path transform="scale(.25)" d="M1331 1743l26 0-24 1-3-1zM1208 1754l2 0-2 1-1-1zM1553 1764l2 1-2 1zM1405 1786l2 1-3 0zM1528 1797l2 1-2 0-1 0zM1701 1797l1 1-3 0zM1799 1808l2 1-3 0zM1479 1819l2 1-4-1zM1578 1841l0 1-2-1zM1701 1841l26 12-26-11-1-1zM1233 1852l1 0-1 1-2-1zM1430 1852l2 1-2 0zM1504 1863l26 11-2 1-26-12zM1578 1862l1 2-3-1zM1578 1895l27 1-27 1zM1307 1917l1 1-3-1zM1454 1917l25 0 2 1-27 0-1-1zM1257 1928l2 0 0 22-2 1-1-2 0-21zM1356 1928l26 0-26 1-2-1zM1430 1928l2 1-4-1zM1602 1949l2 1 0 12-3-1 0-12zM1553 1960l2 2-4-1zM1282 1972l2 0-2 1-2-2zM1652 1971l1 2-3-1zM1750 1971l27 1-27 1-1-1z" fill="#f02818" fill-rule="evenodd"/>
</g>
<rect x="286.60" y="407.10" width="179.40" height="164.90" fill="none" stroke="#333" stroke-width="0.9"/>
<line x1="283.60" y1="572.00" x2="286.60" y2="572.00" stroke="#333" stroke-width="0.8"/>
<text x="281.20" y="575.40" font-size="9.9" text-anchor="end" fill="#111" stroke="#111" stroke-width="0.42" font-weight="bold">0</text>
<line x1="285.00" y1="558.26" x2="286.60" y2="558.26" stroke="#333" stroke-width="0.8"/>
<line x1="283.60" y1="544.52" x2="286.60" y2="544.52" stroke="#333" stroke-width="0.8"/>
<text x="281.20" y="547.92" font-size="9.9" text-anchor="end" fill="#111" stroke="#111" stroke-width="0.42" font-weight="bold">10</text>
<line x1="285.00" y1="530.77" x2="286.60" y2="530.77" stroke="#333" stroke-width="0.8"/>
<line x1="283.60" y1="517.03" x2="286.60" y2="517.03" stroke="#333" stroke-width="0.8"/>
<text x="281.20" y="520.43" font-size="9.9" text-anchor="end" fill="#111" stroke="#111" stroke-width="0.42" font-weight="bold">20</text>
<line x1="285.00" y1="503.29" x2="286.60" y2="503.29" stroke="#333" stroke-width="0.8"/>
<line x1="283.60" y1="489.55" x2="286.60" y2="489.55" stroke="#333" stroke-width="0.8"/>
<text x="281.20" y="492.95" font-size="9.9" text-anchor="end" fill="#111" stroke="#111" stroke-width="0.42" font-weight="bold">30</text>
<line x1="285.00" y1="475.81" x2="286.60" y2="475.81" stroke="#333" stroke-width="0.8"/>
<line x1="283.60" y1="462.07" x2="286.60" y2="462.07" stroke="#333" stroke-width="0.8"/>
<text x="281.20" y="465.47" font-size="9.9" text-anchor="end" fill="#111" stroke="#111" stroke-width="0.42" font-weight="bold">40</text>
<line x1="285.00" y1="448.33" x2="286.60" y2="448.33" stroke="#333" stroke-width="0.8"/>
<line x1="283.60" y1="434.58" x2="286.60" y2="434.58" stroke="#333" stroke-width="0.8"/>
<text x="281.20" y="437.98" font-size="9.9" text-anchor="end" fill="#111" stroke="#111" stroke-width="0.42" font-weight="bold">50</text>
<line x1="285.00" y1="420.84" x2="286.60" y2="420.84" stroke="#333" stroke-width="0.8"/>
<line x1="283.60" y1="407.10" x2="286.60" y2="407.10" stroke="#333" stroke-width="0.8"/>
<text x="281.20" y="410.50" font-size="9.9" text-anchor="end" fill="#111" stroke="#111" stroke-width="0.42" font-weight="bold">60</text>
<line x1="286.60" y1="572.00" x2="286.60" y2="575.00" stroke="#333" stroke-width="0.8"/>
<text x="286.60" y="585.40" font-size="10.0" text-anchor="middle" fill="#111" stroke="#111" stroke-width="0.42" font-weight="bold">0</text>
<line x1="317.40" y1="572.00" x2="317.40" y2="575.00" stroke="#333" stroke-width="0.8"/>
<text x="317.40" y="585.40" font-size="10.0" text-anchor="middle" fill="#111" stroke="#111" stroke-width="0.42" font-weight="bold">5</text>
<line x1="348.21" y1="572.00" x2="348.21" y2="575.00" stroke="#333" stroke-width="0.8"/>
<text x="348.21" y="585.40" font-size="10.0" text-anchor="middle" fill="#111" stroke="#111" stroke-width="0.42" font-weight="bold">10</text>
<line x1="379.01" y1="572.00" x2="379.01" y2="575.00" stroke="#333" stroke-width="0.8"/>
<text x="379.01" y="585.40" font-size="10.0" text-anchor="middle" fill="#111" stroke="#111" stroke-width="0.42" font-weight="bold">15</text>
<line x1="409.81" y1="572.00" x2="409.81" y2="575.00" stroke="#333" stroke-width="0.8"/>
<text x="409.81" y="585.40" font-size="10.0" text-anchor="middle" fill="#111" stroke="#111" stroke-width="0.42" font-weight="bold">20</text>
<line x1="440.62" y1="572.00" x2="440.62" y2="575.00" stroke="#333" stroke-width="0.8"/>
<text x="440.62" y="585.40" font-size="10.0" text-anchor="middle" fill="#111" stroke="#111" stroke-width="0.42" font-weight="bold">25</text>
<line x1="302.00" y1="572.00" x2="302.00" y2="573.60" stroke="#333" stroke-width="0.8"/>
<line x1="332.81" y1="572.00" x2="332.81" y2="573.60" stroke="#333" stroke-width="0.8"/>
<line x1="363.61" y1="572.00" x2="363.61" y2="573.60" stroke="#333" stroke-width="0.8"/>
<line x1="394.41" y1="572.00" x2="394.41" y2="573.60" stroke="#333" stroke-width="0.8"/>
<line x1="425.22" y1="572.00" x2="425.22" y2="573.60" stroke="#333" stroke-width="0.8"/>
<line x1="456.02" y1="572.00" x2="456.02" y2="573.60" stroke="#333" stroke-width="0.8"/>
<text x="376.30" y="602.40" font-size="10.6" text-anchor="middle" fill="#111" stroke="#111" stroke-width="0.42" font-weight="bold">Y (Å)</text>
<text x="0" y="0" font-size="10.6" font-weight="bold" text-anchor="middle" fill="#111" stroke="#111" stroke-width="0.42" transform="translate(266.30,489.55) rotate(-90)">Z (Å)</text>
<rect x="216.10" y="407.80" width="14.50" height="6.11" fill="#f02918"/>
<rect x="216.10" y="412.91" width="14.50" height="6.11" fill="#f02a19"/>
<rect x="216.10" y="418.01" width="14.50" height="6.11" fill="#f02c1a"/>
<rect x="216.10" y="423.12" width="14.50" height="6.11" fill="#f04620"/>
<rect x="216.10" y="428.23" width="14.50" height="6.11" fill="#ee6027"/>
<rect x="216.10" y="433.33" width="14.50" height="6.11" fill="#e9792e"/>
<rect x="216.10" y="438.44" width="14.50" height="6.11" fill="#e89e36"/>
<rect x="216.10" y="443.54" width="14.50" height="6.11" fill="#e9c43c"/>
<rect x="216.10" y="448.65" width="14.50" height="6.11" fill="#eee23f"/>
<rect x="216.10" y="453.76" width="14.50" height="6.11" fill="#e2f040"/>
<rect x="216.10" y="458.86" width="14.50" height="6.11" fill="#caf040"/>
<rect x="216.10" y="463.97" width="14.50" height="6.11" fill="#b0f040"/>
<rect x="216.10" y="469.08" width="14.50" height="6.11" fill="#93f040"/>
<rect x="216.10" y="474.18" width="14.50" height="6.11" fill="#73f03b"/>
<rect x="216.10" y="479.29" width="14.50" height="6.11" fill="#50f030"/>
<rect x="216.10" y="484.39" width="14.50" height="6.11" fill="#50f030"/>
<rect x="216.10" y="489.50" width="14.50" height="6.11" fill="#50f030"/>
<rect x="216.10" y="494.61" width="14.50" height="6.11" fill="#51f034"/>
<rect x="216.10" y="499.71" width="14.50" height="6.11" fill="#54f045"/>
<rect x="216.10" y="504.82" width="14.50" height="6.11" fill="#60f077"/>
<rect x="216.10" y="509.93" width="14.50" height="6.11" fill="#6ef19e"/>
<rect x="216.10" y="515.03" width="14.50" height="6.11" fill="#7bf5cc"/>
<rect x="216.10" y="520.14" width="14.50" height="6.11" fill="#72fefc"/>
<rect x="216.10" y="525.24" width="14.50" height="6.11" fill="#70feff"/>
<rect x="216.10" y="530.35" width="14.50" height="6.11" fill="#70fbff"/>
<rect x="216.10" y="535.46" width="14.50" height="6.11" fill="#53b3f6"/>
<rect x="216.10" y="540.56" width="14.50" height="6.11" fill="#4b9df2"/>
<rect x="216.10" y="545.67" width="14.50" height="6.11" fill="#448bf0"/>
<rect x="216.10" y="550.78" width="14.50" height="6.11" fill="#3764f0"/>
<rect x="216.10" y="555.88" width="14.50" height="6.11" fill="#201af6"/>
<rect x="216.10" y="560.99" width="14.50" height="6.11" fill="#1907f8"/>
<rect x="216.10" y="566.09" width="14.50" height="5.11" fill="#1806f8"/>
<rect x="216.10" y="407.80" width="14.50" height="163.40" fill="none" stroke="#222" stroke-width="0.8"/>
<line x1="230.60" y1="411.40" x2="232.40" y2="411.40" stroke="#222" stroke-width="0.8"/>
<text x="235.60" y="414.10" font-size="7.6" text-anchor="start" fill="#111" stroke="#111" stroke-width="0.42" font-weight="bold">0.10</text>
<line x1="230.60" y1="430.98" x2="232.40" y2="430.98" stroke="#222" stroke-width="0.8"/>
<text x="235.60" y="433.68" font-size="7.6" text-anchor="start" fill="#111" stroke="#111" stroke-width="0.42" font-weight="bold">0.09</text>
<line x1="230.60" y1="450.55" x2="232.40" y2="450.55" stroke="#222" stroke-width="0.8"/>
<text x="235.60" y="453.25" font-size="7.6" text-anchor="start" fill="#111" stroke="#111" stroke-width="0.42" font-weight="bold">0.08</text>
<line x1="230.60" y1="470.12" x2="232.40" y2="470.12" stroke="#222" stroke-width="0.8"/>
<text x="235.60" y="472.82" font-size="7.6" text-anchor="start" fill="#111" stroke="#111" stroke-width="0.42" font-weight="bold">0.06</text>
<line x1="230.60" y1="489.70" x2="232.40" y2="489.70" stroke="#222" stroke-width="0.8"/>
<text x="235.60" y="492.40" font-size="7.6" text-anchor="start" fill="#111" stroke="#111" stroke-width="0.42" font-weight="bold">0.05</text>
<line x1="230.60" y1="509.27" x2="232.40" y2="509.27" stroke="#222" stroke-width="0.8"/>
<text x="235.60" y="511.97" font-size="7.6" text-anchor="start" fill="#111" stroke="#111" stroke-width="0.42" font-weight="bold">0.04</text>
<line x1="230.60" y1="528.85" x2="232.40" y2="528.85" stroke="#222" stroke-width="0.8"/>
<text x="235.60" y="531.55" font-size="7.6" text-anchor="start" fill="#111" stroke="#111" stroke-width="0.42" font-weight="bold">0.03</text>
<line x1="230.60" y1="548.42" x2="232.40" y2="548.42" stroke="#222" stroke-width="0.8"/>
<text x="235.60" y="551.12" font-size="7.6" text-anchor="start" fill="#111" stroke="#111" stroke-width="0.42" font-weight="bold">0.01</text>
<line x1="230.60" y1="568.00" x2="232.40" y2="568.00" stroke="#222" stroke-width="0.8"/>
<text x="235.60" y="570.70" font-size="7.6" text-anchor="start" fill="#111" stroke="#111" stroke-width="0.42" font-weight="bold">0.00</text>
<rect x="474.90" y="407.60" width="14.70" height="6.15" fill="#f02918"/>
<rect x="474.90" y="412.75" width="14.70" height="6.15" fill="#f02a19"/>
<rect x="474.90" y="417.89" width="14.70" height="6.15" fill="#f02c1a"/>
<rect x="474.90" y="423.04" width="14.70" height="6.15" fill="#f04620"/>
<rect x="474.90" y="428.19" width="14.70" height="6.15" fill="#ee6027"/>
<rect x="474.90" y="433.33" width="14.70" height="6.15" fill="#e9792e"/>
<rect x="474.90" y="438.48" width="14.70" height="6.15" fill="#e89e36"/>
<rect x="474.90" y="443.63" width="14.70" height="6.15" fill="#e9c43c"/>
<rect x="474.90" y="448.77" width="14.70" height="6.15" fill="#eee23f"/>
<rect x="474.90" y="453.92" width="14.70" height="6.15" fill="#e2f040"/>
<rect x="474.90" y="459.07" width="14.70" height="6.15" fill="#caf040"/>
<rect x="474.90" y="464.22" width="14.70" height="6.15" fill="#b0f040"/>
<rect x="474.90" y="469.36" width="14.70" height="6.15" fill="#93f040"/>
<rect x="474.90" y="474.51" width="14.70" height="6.15" fill="#73f03b"/>
<rect x="474.90" y="479.66" width="14.70" height="6.15" fill="#50f030"/>
<rect x="474.90" y="484.80" width="14.70" height="6.15" fill="#50f030"/>
<rect x="474.90" y="489.95" width="14.70" height="6.15" fill="#50f030"/>
<rect x="474.90" y="495.10" width="14.70" height="6.15" fill="#51f034"/>
<rect x="474.90" y="500.24" width="14.70" height="6.15" fill="#54f045"/>
<rect x="474.90" y="505.39" width="14.70" height="6.15" fill="#60f077"/>
<rect x="474.90" y="510.54" width="14.70" height="6.15" fill="#6ef19e"/>
<rect x="474.90" y="515.68" width="14.70" height="6.15" fill="#7bf5cc"/>
<rect x="474.90" y="520.83" width="14.70" height="6.15" fill="#72fefc"/>
<rect x="474.90" y="525.98" width="14.70" height="6.15" fill="#70feff"/>
<rect x="474.90" y="531.12" width="14.70" height="6.15" fill="#70fbff"/>
<rect x="474.90" y="536.27" width="14.70" height="6.15" fill="#53b3f6"/>
<rect x="474.90" y="541.42" width="14.70" height="6.15" fill="#4b9df2"/>
<rect x="474.90" y="546.57" width="14.70" height="6.15" fill="#448bf0"/>
<rect x="474.90" y="551.71" width="14.70" height="6.15" fill="#3764f0"/>
<rect x="474.90" y="556.86" width="14.70" height="6.15" fill="#201af6"/>
<rect x="474.90" y="562.01" width="14.70" height="6.15" fill="#1907f8"/>
<rect x="474.90" y="567.15" width="14.70" height="5.15" fill="#1806f8"/>
<rect x="474.90" y="407.60" width="14.70" height="164.70" fill="none" stroke="#222" stroke-width="0.8"/>
<line x1="489.60" y1="411.20" x2="491.40" y2="411.20" stroke="#222" stroke-width="0.8"/>
<text x="494.60" y="413.90" font-size="7.6" text-anchor="start" fill="#111" stroke="#111" stroke-width="0.42" font-weight="bold">0.10</text>
<line x1="489.60" y1="430.94" x2="491.40" y2="430.94" stroke="#222" stroke-width="0.8"/>
<text x="494.60" y="433.64" font-size="7.6" text-anchor="start" fill="#111" stroke="#111" stroke-width="0.42" font-weight="bold">0.09</text>
<line x1="489.60" y1="450.68" x2="491.40" y2="450.68" stroke="#222" stroke-width="0.8"/>
<text x="494.60" y="453.38" font-size="7.6" text-anchor="start" fill="#111" stroke="#111" stroke-width="0.42" font-weight="bold">0.08</text>
<line x1="489.60" y1="470.41" x2="491.40" y2="470.41" stroke="#222" stroke-width="0.8"/>
<text x="494.60" y="473.11" font-size="7.6" text-anchor="start" fill="#111" stroke="#111" stroke-width="0.42" font-weight="bold">0.06</text>
<line x1="489.60" y1="490.15" x2="491.40" y2="490.15" stroke="#222" stroke-width="0.8"/>
<text x="494.60" y="492.85" font-size="7.6" text-anchor="start" fill="#111" stroke="#111" stroke-width="0.42" font-weight="bold">0.05</text>
<line x1="489.60" y1="509.89" x2="491.40" y2="509.89" stroke="#222" stroke-width="0.8"/>
<text x="494.60" y="512.59" font-size="7.6" text-anchor="start" fill="#111" stroke="#111" stroke-width="0.42" font-weight="bold">0.04</text>
<line x1="489.60" y1="529.62" x2="491.40" y2="529.62" stroke="#222" stroke-width="0.8"/>
<text x="494.60" y="532.33" font-size="7.6" text-anchor="start" fill="#111" stroke="#111" stroke-width="0.42" font-weight="bold">0.03</text>
<line x1="489.60" y1="549.36" x2="491.40" y2="549.36" stroke="#222" stroke-width="0.8"/>
<text x="494.60" y="552.06" font-size="7.6" text-anchor="start" fill="#111" stroke="#111" stroke-width="0.42" font-weight="bold">0.01</text>
<line x1="489.60" y1="569.10" x2="491.40" y2="569.10" stroke="#222" stroke-width="0.8"/>
<text x="494.60" y="571.80" font-size="7.6" text-anchor="start" fill="#111" stroke="#111" stroke-width="0.42" font-weight="bold">0.00</text>
<text x="33.3" y="422.20" font-size="12.6" fill="#ee1c1c" font-weight="bold">(c) 001</text>
<clipPath id="mdclip102"><rect x="524.60" y="403.80" width="158.70" height="172.70"/></clipPath>
<rect x="524.60" y="403.80" width="158.70" height="172.70" fill="#ffffff"/>
<g clip-path="url(#mdclip102)">
<path transform="scale(.1)" d="M5290 4049L5275 4065 5274 4085M5275 4065l-21 0M5290 4049l-4-26M5373 4093L5354 4098 5342 4118M5354 4098l-14-23M5373 4093l3-25M5401 4076L5406 4098 5428 4101M5406 4098l-15 12M5482 4081L5492 4056 5477 4032M5492 4056l26-2M5482 4081l17 19M5552 4115L5563 4099 5563 4073M5563 4099l27 14M5552 4115l-25-8M5652 4128L5636 4118 5610 4131M5706 4062L5723 4081 5743 4079M5723 4081l-4 27M5706 4062l-28 5M5784 4080L5763 4062 5736 4069M5763 4062l-1-28M5899 4091L5875 4104 5884 4130M5875 4104l-16-12M5899 4091l0-30M5938 4111L5935 4085 5918 4078M5935 4085l16-20M5938 4111l22 10M6031 4070L6002 4069 5994 4091M6094 4044L6077 4064 6079 4085M6077 4064l-22-8M6094 4044l-8-21M6175 4114L6157 4099 6131 4114M6157 4099l4-22M6175 4114l24-13M6256 4068L6233 4071 6217 4090M6233 4071l-18-23M6257 4101L6269 4077 6259 4059M6269 4077l30-2M6257 4101l21 19M6371 4067L6382 4090 6406 4098M6382 4090l-9 22M6371 4067l16-18M6446 4061L6459 4085 6477 4071M6459 4085l3 26M6446 4061l-30 2M6522 4104L6509 4120 6535 4136M6549 4072L6568 4068 6570 4039M6568 4068l18 12M6651 4094L6669 4099 6690 4091M6669 4099l-7 20M6651 4094l-12-24M6755 4091L6732 4094 6718 4109M6755 4091l5-24M6794 4079L6806 4102 6828 4111M6806 4102l-20 19M6794 4079l-29-5M5340 4194L5343 4173 5318 4167M5343 4173l28-12M5340 4194l-23 8M5378 4171L5393 4196 5418 4200M5393 4196l-21 15M5378 4171l8-18M5482 4184L5465 4172 5442 4190M5465 4172l-9-27M5482 4184l25-14M5545 4180L5566 4177 5570 4150M5566 4177l23 20M5625 4161L5608 4181 5614 4200M5625 4161l27-2M5695 4167L5695 4194 5717 4214M5695 4194l-20 3M5758 4182L5770 4166 5763 4141M5758 4182l14 20M5856 4149L5867 4165 5890 4169M5867 4165l-12 27M5890 4178L5902 4195 5930 4182M5902 4195l-13 18M5890 4178l-28 5M5992 4142L6012 4139 6018 4109M6012 4139l25 9M6039 4167L6028 4190 6039 4215M6028 4190l-30-2M6039 4167l28-6M6158 4175L6155 4155 6127 4150M6158 4175l19 3M6208 4196L6187 4177 6162 4189M6187 4177l3-20M6208 4196l-7 18M6296 4120L6306 4142 6328 4137M6306 4142l-16 19M6316 4179L6347 4175 6361 4157M6316 4179l-12-18M6432 4157L6405 4157 6390 4178M6405 4157l1-20M6449 4178L6473 4162 6482 4139M6473 4162l15 14M6449 4178l5 18M6544 4110L6553 4132 6578 4139M6553 4132l-16 18M6544 4110l12-23M6617 4118L6637 4138 6661 4130M6672 4124L6692 4138 6716 4121M6672 4124l-26 17M6782 4130L6786 4150 6814 4151M6782 4130l17-21M5332 4207L5304 4218 5301 4242M5304 4218l-13-17M5362 4193L5362 4222 5381 4245M5501 4210L5473 4215 5471 4240M5531 4229L5528 4259 5554 4274M5528 4259l-16 17M5627 4260L5625 4234 5606 4221M5625 4234l14-14M5627 4260l30 9M5672 4261L5700 4247 5704 4223M5700 4247l18 6M5672 4261l-17-15M5707 4198L5732 4207 5756 4194M5732 4207l8 18M5790 4231L5802 4258 5831 4261M5802 4258l-8 27M5790 4231l-24-6M5874 4248L5890 4262 5912 4260M5890 4262l-6 22M5874 4248l3-31M5990 4293L6002 4268 5986 4242M6002 4268l26-15M6033 4184L6042 4201 6072 4203M6042 4201l-19 22M6112 4243L6103 4216 6080 4216M6103 4216l15-15M6112 4243l-21 21M6220 4235L6201 4252 6202 4273M6201 4252l-21-9M6270 4266L6293 4252 6292 4226M6362 4228L6369 4247 6389 4255M6362 4228l16-18M6402 4283L6410 4261 6389 4240M6410 4261l26-3M6464 4283L6470 4257 6465 4235M6470 4257l22-3M6565 4288L6574 4264 6560 4243M6574 4264l22-2M6565 4288l-26-2M6630 4203L6603 4214 6591 4241M6603 4214l-11-19M6717 4222L6735 4210 6740 4184M6717 4222l-24-12M6753 4247L6776 4244 6784 4223M6753 4247l-11-23M5311 4366L5317 4344 5305 4323M5311 4366l-27 12M5381 4298L5354 4283 5341 4297M5354 4283l-9-22M5381 4298l27-10M5474 4287L5466 4307 5485 4319M5474 4287l27-1M5474 4304L5495 4284 5481 4266M5495 4284l21 0M5474 4304l-17-10M5532 4294L5553 4316 5572 4307M5553 4316l0 23M5532 4294l2-28M5636 4335L5644 4314 5619 4303M5644 4314l24-13M5744 4293L5760 4309 5782 4305M5760 4309l-12 23M5744 4293l2-25M5813 4277L5836 4278 5843 4259M5836 4278l12 26M5813 4277l-11-24M5904 4300L5896 4329 5909 4348M5896 4329l-28 11M5904 4300l27-11M5995 4249L5983 4276 5999 4288M5995 4249l-23-20M6032 4344L6027 4314 6003 4298M6027 4314l11-19M6118 4325L6106 4308 6082 4322M6118 4325l-11 28M6177 4363L6158 4340 6129 4345M6158 4340l13-24M6293 4334L6272 4325 6259 4351M6272 4325l-8-27M6293 4334l0 19M6331 4310L6351 4314 6371 4298M6351 4314l6 26M6388 4338L6366 4324 6342 4342M6366 4324l-6-25M6457 4306L6441 4329 6453 4352M6441 4329l-29-4M6565 4270L6550 4289 6551 4308M6550 4289l-22-5M6565 4270l-10-17M6611 4288L6591 4278 6570 4285M6591 4278l4-30M6611 4288l3 31M6690 4348L6666 4345 6653 4361M6666 4345l-5-18M6690 4348l15 20M6723 4362L6743 4338 6746 4311M6723 4362l6 25M5273 4387L5255 4382 5247 4406M5331 4393L5330 4418 5353 4431M5330 4418l-20 17M5403 4403L5396 4382 5366 4389M5403 4403l29-1M5472 4380L5467 4355 5451 4342M5467 4355l15-17M5583 4350L5572 4372 5580 4390M5572 4372l-18-12M5583 4350l-9-24M5655 4377L5632 4398 5633 4420M5632 4398l-25-6M5655 4377l-5-26M5671 4379L5680 4351 5668 4329M5680 4351l24-9M5671 4379l-22 0M5812 4440L5793 4420 5764 4431M5812 4440l25-13M5834 4405L5822 4380 5800 4373M5822 4380l14-26M5951 4433L5960 4408 5935 4392M5960 4408l29-8M5951 4433l15 17M6049 4402L6033 4386 6014 4404M6033 4386l-1-21M6049 4402l-4 24M6134 4356L6105 4351 6096 4373M6130 4388L6146 4409 6165 4396M6201 4359L6214 4379 6242 4384M6214 4379l-11 19M6307 4397L6291 4375 6269 4377M6291 4375l14-25M6360 4408L6389 4418 6403 4401M6399 4370L6424 4371 6438 4349M6424 4371l13 22M6532 4377L6535 4402 6560 4413M6535 4402l-20 14M6532 4377l18-14M6632 4400L6609 4397 6593 4420M6632 4400l7 17M6680 4392L6690 4409 6712 4412M6690 4409l-8 21M6738 4344L6744 4368 6773 4368M6744 4368l-9 23M6738 4344l-25-2M6761 4415L6782 4410 6793 4391M6782 4410l7 26M6761 4415l-16-16M5361 4417L5345 4440 5359 4456M5345 4440l-24 2M5361 4417l18 5M5409 4512L5408 4489 5389 4481M5408 4489l19-16M5429 4403L5447 4422 5471 4406M5447 4422l-2 24M5429 4403l-28 13M5487 4437L5518 4437 5524 4413M5613 4504L5625 4481 5612 4462M5625 4481l29-3M5613 4504l-22-1M5684 4478L5708 4471 5724 4448M5708 4471l8 18M5684 4478l-9 26M5809 4515L5792 4492 5767 4486M5792 4492l19-18M5809 4515l23-4M5811 4475L5829 4488 5848 4481M5829 4488l-2 21M5811 4475l6-22M5942 4443L5921 4438 5894 4451M5921 4438l11-27M5942 4443l20-17M5998 4452L5986 4433 5961 4441M5986 4433l14-24M5998 4452l22-3M6039 4454L6047 4480 6071 4485M6039 4454l14-25M6075 4465L6095 4460 6103 4442M6095 4460l6 21M6075 4465l-12 23M6218 4430L6197 4441 6202 4469M6197 4441l-13-17M6257 4442L6246 4459 6257 4480M6246 4459l-26-3M6257 4442l-8-29M6318 4420L6337 4428 6362 4416M6337 4428l9 18M6402 4490L6415 4470 6391 4451M6402 4490l-29 3M6452 4496L6467 4478 6450 4463M6561 4437L6541 4455 6549 4473M6541 4455l-27 4M6561 4437l21 4M6647 4497L6633 4483 6611 4489M6633 4483l13-19M6727 4495L6741 4475 6720 4459M6741 4475l27-12M6772 4423L6775 4444 6793 4454M6775 4444l-20 11M6772 4423l18-11M5342 4531L5317 4541 5319 4568M5317 4541l-22-20M5342 4531l18 21M5416 4483L5405 4508 5428 4522M5405 4508l-18 15M5416 4483l21-6M5480 4566L5456 4564 5441 4582M5456 4564l-15-14M5480 4566l18-22M5548 4554L5526 4556 5506 4579M5548 4554l18 16M5605 4481L5588 4495 5585 4519M5588 4495l-14-15M5605 4481l-9-29M5663 4525L5684 4515 5680 4490M5684 4515l23 9M5663 4525l-15-16M5764 4530L5764 4550 5794 4552M5764 4550l-26 15M5810 4548L5801 4531 5770 4529M5801 4531l13-18M5810 4548l-11 22M5910 4575L5896 4560 5866 4563M5896 4560l1-28M6023 4578L6001 4559 5973 4559M6001 4559l11-20M6023 4578l20-8M6080 4539L6067 4519 6045 4526M6107 4535L6133 4534 6150 4509M6133 4534l9 25M6197 4541L6190 4515 6159 4515M6190 4515l18-14M6197 4541l-18 15M6308 4567L6282 4560 6264 4567M6282 4560l-3-19M6309 4542L6328 4520 6319 4500M6421 4530L6396 4521 6387 4546M6396 4521l-7-30M6421 4530l7 28M6503 4519L6485 4501 6466 4503M6503 4519l-13 24M6592 4537L6575 4519 6556 4519M6592 4537l-2 28M6679 4497L6660 4512 6670 4533M6660 4512l-17-11M6679 4497l22 4M6754 4566L6728 4566 6724 4587M6728 4566l-19-14M6754 4566l19-21M6765 4545L6764 4521 6737 4516M5294 4597L5321 4592 5324 4565M5400 4633L5378 4628 5357 4642M5378 4628l-14-25M5438 4645L5463 4632 5455 4612M5463 4632l28-1M5438 4645l-17-15M5553 4602L5552 4581 5533 4567M5630 4627L5654 4634 5675 4629M5654 4634l6 25M5736 4606L5711 4612 5695 4637M5711 4612l-21-18M5736 4606l16 17M5809 4636L5785 4637 5769 4661M5785 4637l-7-21M5809 4636l13-22M5802 4564L5822 4585 5848 4586M5822 4585l-10 23M5802 4564l-30 4M5945 4615L5933 4598 5911 4604M5933 4598l4-19M5999 4633L6021 4629 6037 4611M6021 4629l12 16M6044 4582L6064 4579 6065 4556M6064 4579l23 16M6151 4631L6143 4612 6124 4612M6143 4612l22-21M6151 4631l28 5M6228 4644L6215 4625 6192 4626M6215 4625l6-22M6228 4644l22-6M6266 4646L6281 4633 6275 4610M6281 4633l24 5M6266 4646l-23-7M6344 4561L6362 4579 6381 4564M6362 4579l-5 23M6467 4565L6451 4580 6446 4603M6451 4580l-26-6M6467 4565l-10-21M6501 4628L6530 4636 6546 4614M6530 4636l5 30M6501 4628l-10-29M6565 4557L6556 4582 6585 4592M6556 4582l-28 10M6684 4589L6663 4601 6662 4624M6663 4601l-18-14M6739 4633L6715 4623 6688 4628M6715 4623l6-21M6782 4600L6786 4577 6772 4558M6782 4600l-21 5M5344 4718L5321 4711 5309 4728M5321 4711l-13-25M5344 4718l3 23M5318 4706L5344 4696 5354 4677M5344 4696l9 18M5318 4706l-19-20M5423 4686L5432 4712 5455 4722M5432 4712l-24 15M5423 4686l-25-3M5490 4641L5510 4648 5536 4639M5510 4648l-10 26M5490 4641l-16 21M5586 4659L5579 4679 5591 4696M5579 4679l-21 11M5586 4659l-12-16M5620 4677L5642 4697 5663 4696M5642 4697l-11 22M5620 4677l8-25M5706 4702L5726 4695 5734 4669M5726 4695l8 25M5706 4702l-2 25M5798 4700L5793 4677 5772 4673M5798 4700l-24 14M5877 4675L5895 4656 5888 4630M5895 4656l30-3M5914 4699L5944 4703 5953 4678M5944 4703l12 15M5914 4699l-11-26M6003 4668L6024 4666 6038 4649M6024 4666l7 21M6089 4674L6113 4692 6131 4677M6113 4692l4 20M6193 4657L6202 4682 6229 4691M6202 4682l-10 17M6292 4684L6275 4706 6287 4725M6292 4684l-6-27M6345 4684L6354 4708 6376 4709M6345 4684l-23 0M6415 4716L6412 4692 6389 4675M6415 4716l20 10M6440 4642L6465 4649 6487 4633M6440 4642l0-21M6563 4687L6574 4671 6553 4653M6574 4671l23-8M6563 4687l7 26M6630 4673L6609 4681 6600 4708M6609 4681l-14-26M6630 4673l0-29M6691 4678L6710 4702 6738 4691M6710 4702l-12 20M6691 4678l9-19M6726 4680L6741 4698 6766 4702M6741 4698l-12 17M6726 4680l-22 5M5370 4805L5357 4784 5334 4776M5357 4784l16-20M5370 4805l28-1M5387 4793L5403 4780 5395 4758M5403 4780l21-2M5501 4760L5478 4777 5487 4800M5478 4777l-27-7M5501 4760l-3-26M5588 4759L5578 4742 5549 4743M5578 4742l7-26M5620 4759L5594 4769 5592 4790M5594 4769l-24-6M5704 4802L5722 4781 5703 4759M5722 4781l27-3M5704 4802l6 27M5768 4773L5764 4747 5738 4739M5768 4773l-22 11M5824 4758L5815 4777 5818 4799M5815 4777l-24 6M5824 4758l-14-20M5920 4732L5898 4723 5872 4738M5898 4723l-7-30M5920 4732l6 22M5946 4756L5960 4783 5977 4793M6043 4757L6054 4773 6072 4763M6054 4773l-12 20M6078 4739L6105 4750 6125 4745M6105 4750l4 22M6078 4739l-9-25M6244 4757L6223 4771 6227 4794M6223 4771l-29 4M6244 4757l26 9M6266 4730L6260 4750 6264 4769M6260 4750l-19-9M6266 4730l-15-26M6346 4774L6375 4781 6388 4762M6375 4781l13 21M6346 4774l-17 15M6375 4772L6401 4758 6409 4735M6401 4758l13 13M6504 4758L6527 4760 6542 4738M6527 4760l12 26M6614 4749L6593 4736 6582 4752M6593 4736l-1-21M6614 4749l25-13M6631 4729L6647 4715 6641 4689M6631 4729l-19-12M6763 4776L6741 4756 6715 4751M6763 4776l-2 19M6781 4762L6774 4784 6797 4798M6774 4784l-18 6M5220 4841L5241 4841 5249 4821M5241 4841l13 15M5220 4841l-9 22M5339 4851L5317 4836 5295 4838M5339 4851l24-13M5383 4772L5394 4790 5421 4794M5394 4790l-6 17M5383 4772l-30-5M5522 4816L5508 4833 5524 4849M5508 4833l-23 9M5597 4826L5576 4840 5573 4867M5576 4840l-17-23M5597 4826l-7-25M5653 4777L5653 4801 5669 4817M5653 4777l-19-8M5729 4825L5707 4831 5697 4854M5729 4825l1-26M5782 4837L5810 4835 5830 4816M5873 4867L5859 4848 5829 4857M5859 4848l14-22M5873 4867l-6 22M5931 4793L5956 4806 5981 4807M5956 4806l-7 23M5931 4793l-23 9M5973 4770L5985 4788 6007 4784M5973 4770l15-24M6080 4800L6104 4803 6124 4790M6104 4803l12 17M6130 4824L6159 4826 6178 4806M6159 4826l4 23M6130 4824l-14-19M6237 4879L6237 4857 6217 4846M6237 4857l20-15M6332 4788L6311 4800 6310 4824M6311 4800l-24-4M6332 4788l19 14M6389 4803L6369 4801 6344 4816M6369 4801l-13-26M6439 4818L6440 4842 6458 4855M6440 4842l-29 1M6511 4828L6531 4834 6544 4814M6531 4834l0 23M6511 4828l-24 14M6593 4870L6618 4861 6618 4833M6618 4861l23 20M6662 4861L6651 4839 6628 4849M6651 4839l11-16M6662 4861l21 5M6756 4819L6751 4790 6732 4790M6756 4819l-19 15M6828 4799L6847 4817 6875 4817M6847 4817l-10 24M6828 4799l5-22M5299 4866L5288 4892 5310 4914M5299 4866l19-4M5357 4958L5354 4932 5329 4924M5354 4932l17-22M5417 4845L5422 4867 5448 4865M5422 4867l-15 16M5522 4889L5541 4904 5567 4893M5541 4904l-4 22M5597 4904L5588 4930 5603 4946M5588 4930l-23 1M5597 4904l-21-15M5665 4892L5686 4894 5710 4884M5686 4894l5 19M5779 4916L5760 4930 5761 4953M5760 4930l-28-9M5779 4916l19 4M5825 4867L5844 4888 5871 4878M5844 4888l-7 20M5825 4867l8-24M5932 4868L5911 4878 5902 4901M5932 4868l23 12M5943 4958L5959 4934 5948 4916M5959 4934l26-2M5943 4958l11 17M6051 4909L6056 4891 6035 4878M6056 4891l24-18M6100 4879L6117 4893 6136 4888M6117 4893l11 28M6185 4916L6201 4900 6193 4881M6201 4900l19-4M6265 4873L6258 4892 6273 4917M6265 4873l19-5M6363 4940L6359 4921 6341 4910M6407 4869L6391 4891 6403 4912M6407 4869l25 10M6533 4909L6508 4915 6511 4940M6508 4915l-22-19M6552 4935L6561 4908 6541 4895M6561 4908l27-6M6601 4880L6608 4903 6634 4908M6608 4903l-18 23M6696 4904L6718 4894 6714 4868M6696 4904l-19-8M6769 4865L6769 4893 6788 4904M6769 4893l-16 22M5260 4999L5281 4995 5299 4975M5331 5011L5345 4992 5337 4968M5345 4992l21 15M5439 4932L5449 4953 5478 4955M5449 4953l-13 19M5519 4970L5504 4955 5475 4955M5504 4955l14-23M5519 4970l-3 27M5546 5018L5572 5008 5575 4980M5572 5008l28 4M5546 5018l-18-22M5640 4914L5653 4941 5682 4941M5653 4941l-8 19M5640 4914l-26-5M5750 4984L5751 5007 5769 5020M5751 5007l-23 11M5750 4984l-15-13M5785 4929L5800 4952 5820 4960M5800 4952l-10 16M5879 4971L5894 4959 5884 4937M5879 4971l4 26M5971 4950L5959 4977 5979 4991M5959 4977l-20 4M5971 4950l25 0M6097 4970L6068 4963 6053 4978M6068 4963l6-28M6071 4995L6099 4987 6108 4968M6071 4995l-15-19M6175 5024L6187 4999 6170 4986M6187 4999l27-3M6175 5024l-26 1M6280 4984L6251 4982 6239 5003M6280 4984l11-24M6310 4962L6329 4979 6352 4965M6329 4979l7 20M6310 4962l-21 5M6419 4967L6402 4947 6374 4941M6422 4954L6451 4964 6481 4959M6451 4964l2 30M6422 4954l-22 14M6611 4972L6582 4972 6569 4986M6582 4972l-19-18M6611 4972l15 19M6595 4974L6623 4968 6627 4948M6595 4974l-13 21M6707 4982L6714 4961 6692 4947M6707 4982l-19 4M6765 4982L6762 4959 6739 4945M6762 4959l18-9M6765 4982l23 4M5327 5010L5297 5010 5284 5025M5297 5010l-7-23M5327 5010l18 21M5426 4995L5400 5010 5402 5037M5400 5010l-30 1M5426 4995l21 7M5447 4984L5453 5010 5476 5021M5453 5010l-20 9M5447 4984l22-17M5523 5027L5534 5010 5519 4989M5534 5010l27 8M5523 5027l-23 1M5620 4990L5613 5010 5636 5031M5613 5010l-23-8M5620 4990l-17-17M5654 5012L5674 5010 5690 4985M5718 4989L5729 5010 5756 5001M5718 4989l-22-1M5810 5019L5831 5010 5843 4987M5810 5019l2 29M5933 5008L5910 5010 5895 5030M5933 5008l12-26M5992 5041L5987 5010 5960 4996M5987 5010l16-17M6045 4983L6041 5010 6057 5027M6041 5010l-16 13M6045 4983l22-3M6143 5014L6125 5009 6111 5026M6125 5009l-5-23M6143 5014l16-11M6183 4989L6188 5010 6216 5011M6188 5010l-19 10M6183 4989l24-17M6239 5039L6244 5010 6229 4987M6244 5010l22-9M6239 5039l-20 2M6344 4991L6343 5010 6371 5018M6343 5010l-19 7M6380 4994L6393 5009 6417 5003M6380 4994l11-19M6495 5001L6465 5010 6464 5033M6495 5001l12 17M6526 5028L6514 5010 6494 5008M6514 5010l9-20M6526 5028l-8 19M6634 4985L6635 5010 6651 5025M6635 5010l-22 9M6634 4985l18-10M6714 5033L6725 5010 6719 4981M6714 5033l10 17M6806 4993L6790 5010 6802 5033" fill="none" stroke="#4fdcd3" stroke-width="7" stroke-linecap="round" stroke-linejoin="round" opacity="0.82"/>
<path transform="scale(.1)" d="M5723 4081h0M5875 4104h0M6459 4085h0M6509 4120h0M6568 4068h0M5465 4172h0M5608 4181h0M5902 4195h0M6028 4190h0M6637 4138h0M6692 4138h0M6786 4150h0M5362 4222h0M5473 4215h0M6042 4201h0M6103 4216h0M6369 4247h0M6574 4264h0M5896 4329h0M6158 4340h0M6441 4329h0M6591 4278h0M6666 4345h0M5330 4418h0M5822 4380h0M6146 4409h0M6609 4397h0M5518 4437h0M5792 4492h0M5986 4433h0M6047 4480h0M6095 4460h0M6541 4455h0M6633 4483h0M6741 4475h0M5684 4515h0M6133 4534h0M6485 4501h0M5321 4592h0M5933 4598h0M6215 4625h0M5344 4696h0M5642 4697h0M6024 4666h0M6113 4692h0M6465 4649h0M6609 4681h0M5960 4783h0M6375 4781h0M6593 4736h0M6741 4756h0M5576 4840h0M5859 4848h0M5956 4806h0M5288 4892h0M5354 4932h0M5911 4878h0M6056 4891h0M6117 4893h0M6258 4892h0M6508 4915h0M6718 4894h0M6769 4893h0M5345 4992h0M6582 4972h0M5297 5010h0M5729 5010h0M5831 5010h0M5910 5010h0M6125 5009h0" stroke="#8a9898" stroke-width="10" stroke-linecap="round" fill="none"/>
<path transform="scale(.1)" d="M4956 4986l-44 4M4956 4986l29-45M4956 4986l30 45M4956 4986l-20 71M4956 4986l-49-43M4956 4986l50-55M4956 4986l54 32M5173 5076l40-21M5173 5076l6 51M5173 5076l-37-15M5173 5076l75-16M5173 5076l42 69M5173 5076l-51 39M5173 5076l-11-82M5166 5109l-10 59M5166 5109l23-50M5285 4969l-41-17M5285 4969l50 26M5307 5232l-33 39M5307 5232l29-39M5260 4954l60-4M5260 4954l-51 7M5216 5212l-15-53M5216 5212l2 50M5137 5035l-11 46M5137 5035l20-42M5036 4999l-44-21M5036 4999l42 31M5007 5047l26-46M5007 5047l-27 51M5285 4953l10 42M5285 4953l-12-48M5329 4984l-46 29M5329 4984l7-42M5329 4984l53 9M5329 4984l76 16M5329 4984l-15 81M5329 4984l-75-28M5329 4984l3-68M5523 5084l-34-43M5523 5084l49-0M5523 5084l2 43M5523 5084l40 51M5523 5084l-55 34M5523 5084l-36-69M5523 5084l54-52M5631 5148l55-18M5631 5148l-56 11M5424 5123l-54 3M5424 5123l44 11M5393 5109l-55 6M5393 5109l45-11M5445 4961l-55 19M5445 4961l42-38M5398 5181l-21 41M5398 5181l25-50M5501 5110l-47 3M5501 5110l44 6M5503 5167l-44-8M5503 5167l51 31M5349 5238l18-48M5349 5238l-31 46M5558 5237l-50-13M5558 5237l50 1M5707 4988l-42 6M5707 4988l26-31M5707 4988l17 50M5707 4988l-19 62M5707 4988l-65-6M5707 4988l-8-65M5707 4988l78-1M5905 5084l48-10M5905 5084l-30 30M5905 5084l-21-45M5905 5084l47-57M5905 5084l58 30M5905 5084l-28 61M5905 5084l-51-51M5974 5073l-53-18M5974 5073l55 0M5963 5127l-6-46M5963 5127l11 47M5969 4966l34 43M5969 4966l-23-39M5868 5121l-3-53M5868 5121l15 41M5722 5222l-46-31M5722 5222l36 27M5821 4994l-30 45M5821 4994l25-46M6069 5125l-49 3M6069 5125l41-11M6084 5164l-37-36M6084 5164l48 32M6092 4997l-3-41M6092 4997l49 16M6092 4997l-22 41M6092 4997l-37-61M6092 4997l36-50M6092 4997l32 56M6092 4997l-58 50M6278 5085l17-44M6278 5085l27 44M6278 5085l-38 10M6278 5085l-76-21M6278 5085l15-69M6278 5085l73 12M6278 5085l-8 76M6369 5188l3-50M6369 5188l-13 44M6224 5107l5 53M6224 5107l-13-43M6102 5100l-52 10M6102 5100l44-13M6190 5100l33-34M6190 5100l-33 42M6279 4983l34-40M6279 4983l-36 35M6209 5021l43-27M6209 5021l-43 28M6304 5086l22-45M6304 5086l-14 57M6122 4986l55-13M6122 4986l-53 17M6452 4985l-39-37M6452 4985l41-17M6452 4985l3 52M6452 4985l23-59M6452 4985l67-9M6452 4985l-17 73M6452 4985l-76-19M6652 5083l36-34M6652 5083l8 50M6652 5083l-43-25M6652 5083l56 36M6652 5083l-40 54M6652 5083l-50-50M6652 5083l31-52M6570 4963l42 19M6570 4963l-46-6M6588 5111l-2 58M6588 5111l4-48M6517 5153l47-14M6517 5153l-49-15M6700 5206l29 35M6700 5206l-24-37M6712 5039l57-10M6712 5039l-54 14M6781 4999l7 56M6781 4999l-9-48M6773 5240l-39-43M6773 5240l48 34M6561 5163l-33 41M6561 5163l20-50M6850 4975l38-17M6850 4975l-25 46M6850 4975l-39-35M6850 4975l-25 76M6850 4975l-54-41M6850 4975l24-71M6850 4975l70 14M7021 5073l16-44M7021 5073l39 25M7021 5073l-52-4M7021 5073l65-49M7021 5073l8 64M7021 5073l-66 35M7021 5073l-38-52M6951 5122l-52-14M6951 5122l57 17M7168 5104l-11 46M7168 5104l7-58M6944 5118l-12-55M6944 5118l-1 60M6962 5018l6-55M6962 5018l-5 50M7030 4998l8-46M7030 4998l-10 49M6927 5197l42 30M6927 5197l-48-17M6892 5007l59 5M6892 5007l-59 1M6974 5008l25-53M6974 5008l-30 46M7146 5103l16-45M7146 5103l-25 40M4981 5298l-50-23M4981 5298l25-34M4981 5298l16 40M4981 5298l-48-43M4981 5298l26-72M4981 5298l56 35M4981 5298l-20 65M5156 5397l-43-16M5156 5397l43-33M5156 5397l7 52M5156 5397l41 53M5156 5397l-61 41M5156 5397l-24-78M5156 5397l65-36M5041 5445l-43 29M5041 5445l36-28M5184 5377l0-43M5184 5377l14 58M5288 5454l-23-48M5288 5454l44 32M5214 5351l23 36M5214 5351l-37-34M5314 5512l-49-1M5314 5512l58 8M5283 5370l-41-17M5283 5370l52 13M5048 5447l-50 14M5048 5447l47-35M5270 5282l-49 18M5270 5282l44-13M5148 5357l51-9M5148 5357l-57 7M5351 5315l-3-54M5351 5315l29 32M5351 5315l-47 17M5351 5315l23-76M5351 5315l64 18M5351 5315l-42 70M5351 5315l-68-37M5516 5401l-24-33M5516 5401l46-26M5516 5401l-18 42M5516 5401l-65 43M5516 5401l-38-74M5516 5401l51-37M5516 5401l23 64M5400 5492l31-31M5400 5492l-52 18M5476 5351l-34 26M5476 5351l44-8M5370 5558l-43 25M5370 5558l42-21M5520 5532l54 15M5520 5532l-50-14M5723 5449l12-49M5723 5449l-28 37M5656 5524l-48 21M5656 5524l49-30M5606 5311l-39 45M5606 5311l42-43M5710 5257l16-43M5710 5257l-19 50M5433 5366l-2 60M5433 5366l18-49M5726 5307l1 53M5726 5307l-41-14M5726 5307l46-28M5726 5307l66-14M5726 5307l41 71M5726 5307l-65 1M5726 5307l-12-61M5891 5407l-46 22M5891 5407l5-42M5891 5407l33 24M5891 5407l-36-66M5891 5407l54-35M5891 5407l69 42M5891 5407l-53 30M5733 5472l-33-31M5733 5472l41 23M5979 5381l48-17M5979 5381l-47 23M5968 5476l-9-57M5968 5476l15 55M5972 5343l57-16M5972 5343l-42 19M5781 5494l-24 46M5781 5494l27-47M5791 5457l-7-47M5791 5457l1 52M5865 5544l18 43M5865 5544l-48-36M6041 5543l22-40M6041 5543l-27 46M5965 5475l-56 3M5965 5475l54 8M6119 5298l-15-39M6119 5298l49 8M6119 5298l-22 40M6119 5298l-5-79M6119 5298l67 17M6119 5298l-18 78M6119 5298l-70 4M6270 5398l-23 34M6270 5398l-24-38M6270 5398l44-3M6270 5398l-23-60M6270 5398l69-28M6270 5398l39 53M6270 5398l-75 29M6290 5429l44-10M6290 5429l-56-1M6476 5337l11-41M6476 5337l-10 49M6266 5494l48-13M6266 5494l-48 21M6367 5474l-16 40M6367 5474l20-43M6205 5251l-35-43M6205 5251l41 38M6169 5469l-53 7M6169 5469l51-25M6374 5494l-28 38M6374 5494l34-30M6347 5419l32 35M6347 5419l-36-30M6377 5488l31-36M6377 5488l-24 51M6480 5306l-11-43M6480 5306l46 27M6480 5306l-41 23M6480 5306l-70 24M6480 5306l-15-60M6480 5306l70-22M6480 5306l37 57M6647 5397l-23-40M6647 5397l51-7M6647 5397l-19 46M6647 5397l55-46M6647 5397l19 65M6647 5397l-54 27M6647 5397l-42-44M6663 5480l-18 50M6663 5480l7-52M6788 5466l-25-51M6788 5466l38 45M6834 5445l40-28M6834 5445l-50 30M6496 5410l-5-50M6496 5410l19 45M6484 5363l-9 43M6484 5363l15-53M6626 5260l8 42M6626 5260l-4-48M6836 5462l-11-54M6836 5462l3 52M6817 5402l-34-33M6817 5402l32 41M6638 5362l43 19M6638 5362l-50-3M6865 5310l28-36M6865 5310l28 40M6865 5310l-47-3M6865 5310l54-57M6865 5310l37 53M6865 5310l-54 30M6865 5310l-28-67M7028 5398l27 36M7028 5398l-53 2M7028 5398l8-52M7028 5398l-55 46M7028 5398l-54-52M7028 5398l47-47M7028 5398l60 54M7106 5360l59 4M7106 5360l-51-1M7074 5381l15-50M7074 5381l-23 55M7020 5521l-50 6M7020 5521l56-15M6969 5260l-42-17M6969 5260l51 25M7083 5307l1-55M7083 5307l-4 42M6939 5489l-43-23M6939 5489l45 34M6942 5454l-49 13M6942 5454l47-4M7196 5407l30-31M7196 5407l-37 45M7157 5385l-10 52M7157 5385l8-44M4948 5632l25 37M4948 5632l-52-1M4948 5632l26-46M4948 5632l-44-60M4948 5632l80-8M4948 5632l37 67M4948 5632l-74 28M5149 5735l18-44M5149 5735l25 40M5149 5735l-44-15M5149 5735l-57-51M5149 5735l27-64M5149 5735l45 48M5149 5735l-61 55M4985 5658l44-21M4985 5658l-47 34M5246 5829l1-43M5246 5829l-3 48M5238 5730l46 31M5238 5730l-49-23M5133 5795l33 33M5133 5795l-35-31M5278 5708l54-23M5278 5708l-49-4M5329 5572l2 57M5329 5572l1-52M5013 5858l-53 8M5013 5858l40-20M5304 5751l56 5M5304 5751l-44-5M5311 5822l-45-36M5311 5822l55 18M5324 5634l-18-35M5324 5634l49 3M5324 5634l-31 37M5324 5634l47 60M5324 5634l-62 46M5324 5634l-38-63M5324 5634l36-63M5548 5719l-34-30M5548 5719l44 6M5548 5719l-22 43M5548 5719l11 83M5548 5719l-68 6M5548 5719l7-68M5548 5719l74-10M5578 5736l-48-29M5578 5736l37 40M5680 5591l12-52M5680 5591l-3 46M5393 5856l30-32M5393 5856l-22 41M5668 5762l-43-19M5668 5762l50 19M5400 5707l40 16M5400 5707l-48-20M5546 5809l-22 41M5546 5809l1-49M5383 5660l16-56M5383 5660l-1 49M5588 5747l44 19M5588 5747l-48-4M5485 5595l25 36M5485 5595l-28-42M5708 5629l44-1M5708 5629l-5 47M5708 5629l-30-42M5708 5629l79-26M5708 5629l21 74M5708 5629l-64 49M5708 5629l-34-55M5915 5737l-7-40M5915 5737l52 16M5915 5737l-30 44M5915 5737l-29 58M5915 5737l-63-27M5915 5737l20-64M5915 5737l50 38M5827 5793l-38-21M5827 5793l54 21M5775 5820l-13 45M5775 5820l-1-51M5722 5837l36-23M5722 5837l-45 29M5715 5784l2-43M5715 5784l-20 55M5767 5645l55-0M5767 5645l-52 4M5886 5789l-57 1M5886 5789l44-12M5958 5817l38 26M5958 5817l-48-24M6013 5873l17 48M6013 5873l-6-42M6002 5569l56-9M6002 5569l-53 9M6091 5636l37-14M6091 5636l1 46M6091 5636l-28-43M6091 5636l-64-44M6091 5636l51-48M6091 5636l39 64M6091 5636l-39 59M6283 5717l39 20M6283 5717l-37 34M6283 5717l8-49M6283 5717l-46 47M6283 5717l-28-72M6283 5717l64-32M6283 5717l58 59M6110 5710l-15 55M6110 5710l3-52M6112 5868l-51-3M6112 5868l46 10M6396 5825l25-48M6396 5825l-29 35M6144 5698l-49-7M6144 5698l46 2M6165 5854l-12-49M6165 5854l34 38M6178 5747l-28 38M6178 5747l20-48M6112 5618l-0 59M6112 5618l1-47M6403 5610l-25 49M6403 5610l36-42M6142 5591l-58 12M6142 5591l56-6M6458 5624l51 16M6458 5624l-22 42M6458 5624l-23-32M6458 5624l37 47M6458 5624l-56 38M6458 5624l-60-52M6458 5624l47-62M6659 5729l-12 50M6659 5729l-14-53M6659 5729l48-9M6659 5729l76 33M6659 5729l-30 57M6659 5729l-77-28M6659 5729l37-50M6766 5776l-9-52M6766 5776l1 49M6725 5837l41 42M6725 5837l-28-32M6515 5691l-51 7M6515 5691l41-13M6526 5718l-45 28M6526 5718l36-36M6668 5587l-44 7M6668 5587l56-19M6650 5724l2-52M6650 5724l14 45M6711 5565l-6 51M6711 5565l16-53M6706 5726l22 52M6706 5726l-13-52M6596 5672l-26-36M6596 5672l30 40M6838 5630l53 12M6838 5630l-35 42M6838 5630l-9-53M6838 5630l43-58M6838 5630l41 68M6838 5630l-62 41M6838 5630l-43-44M7049 5729l38-31M7049 5729l10 51M7049 5729l-39-16M7049 5729l-28 65M7049 5729l-70-21M7049 5729l41-54M7049 5729l53 49M6931 5577l-4-46M6931 5577l16 44M7202 5881l-43 42M7202 5881l19-46M6917 5621l51-15M6917 5621l-58 7M7022 5824l51 27M7022 5824l-52-21M7128 5751l43 34M7128 5751l-40-25M7179 5683l-58 1M7179 5683l58-12M6993 5767l-51-12M6993 5767l48 6M6945 5800l46 14M6945 5800l-40-23M7141 5712l12 54M7141 5712l-4-48" stroke="#ee3a2a" stroke-width="9" fill="none"/>
<path transform="scale(.1)" d="M4911 4990h0M4984 4940h0M4986 5031h0M4936 5057h0M4907 4943h0M5009 5018h0M5212 5055h0M5179 5126h0M5135 5061h0M5248 5060h0M5214 5144h0M5121 5114h0M5161 4994h0M5155 5168h0M5189 5059h0M5244 4951h0M5334 4994h0M5274 5271h0M5336 5193h0M5319 4950h0M5208 4961h0M5201 5159h0M5218 5262h0M5125 5081h0M5156 4993h0M4992 4977h0M5078 5029h0M5033 5002h0M4980 5098h0M5295 4995h0M5266 5182h0M5281 5209h0M5288 4980h0M5314 4999h0M5316 5245h0M5297 5265h0M5136 5192h0M5142 5216h0M5060 4995h0M5076 5013h0M5037 5030h0M5027 5052h0M5283 5013h0M5335 4942h0M5381 4993h0M5405 5000h0M5314 5065h0M5254 4956h0M5490 5040h0M5572 5084h0M5525 5127h0M5563 5135h0M5469 5118h0M5487 5015h0M5577 5032h0M5686 5131h0M5575 5160h0M5370 5126h0M5468 5135h0M5338 5115h0M5438 5098h0M5391 4980h0M5376 5222h0M5422 5131h0M5454 5113h0M5545 5116h0M5459 5159h0M5555 5198h0M5367 5191h0M5318 5285h0M5507 5224h0M5607 5239h0M5568 5202h0M5545 5222h0M5372 5229h0M5353 5254h0M5484 5132h0M5476 5158h0M5401 5232h0M5391 5261h0M5618 5240h0M5596 5266h0M5640 5082h0M5645 5105h0M5665 4995h0M5734 4957h0M5724 5038h0M5688 5051h0M5642 4982h0M5786 4987h0M5953 5074h0M5875 5114h0M5884 5039h0M5952 5027h0M5963 5115h0M5877 5145h0M5854 5033h0M5921 5055h0M6029 5073h0M5957 5081h0M5973 5174h0M6003 5008h0M5835 4962h0M5865 5067h0M5883 5162h0M5676 5191h0M5758 5249h0M5791 5039h0M5846 4948h0M6020 5128h0M6111 5114h0M6047 5128h0M6132 5196h0M6027 5176h0M6016 5206h0M5978 5219h0M5987 5241h0M5994 5242h0M5984 5265h0M5982 5062h0M5966 5091h0M5933 5238h0M5916 5265h0M5798 5241h0M5808 5269h0M6089 4955h0M6141 5013h0M6070 5038h0M6128 4946h0M6124 5052h0M6034 5047h0M6296 5041h0M6306 5129h0M6240 5095h0M6202 5064h0M6294 5016h0M6351 5097h0M6270 5161h0M6372 5138h0M6356 5232h0M6229 5161h0M6211 5065h0M6050 5110h0M6146 5087h0M6215 4963h0M6223 5066h0M6157 5141h0M6313 4942h0M6243 5017h0M6252 4994h0M6166 5049h0M6327 5041h0M6290 5144h0M6176 4973h0M6068 5003h0M6177 4959h0M6177 4985h0M6143 5205h0M6139 5235h0M6414 4989h0M6426 5009h0M6388 5129h0M6381 5155h0M6306 5221h0M6318 5248h0M6225 5148h0M6216 5173h0M6413 4947h0M6493 4968h0M6455 5037h0M6519 4975h0M6435 5057h0M6376 4966h0M6689 5050h0M6660 5133h0M6610 5058h0M6708 5119h0M6612 5137h0M6602 5034h0M6684 5032h0M6612 4982h0M6524 4957h0M6585 5169h0M6591 5063h0M6564 5139h0M6468 5138h0M6730 5241h0M6677 5169h0M6769 5030h0M6658 5054h0M6787 5055h0M6772 4950h0M6734 5198h0M6821 5275h0M6761 4968h0M6529 5204h0M6581 5113h0M6578 5217h0M6570 5237h0M6518 4961h0M6504 4989h0M6665 5016h0M6683 5043h0M6761 4990h0M6762 5016h0M6789 5172h0M6799 5198h0M6518 5213h0M6515 5236h0M6888 4958h0M6825 5021h0M6811 4940h0M6825 5051h0M6920 4990h0M7037 5029h0M7060 5098h0M6969 5069h0M7087 5024h0M7029 5137h0M6955 5108h0M6983 5022h0M6898 5108h0M7008 5139h0M7157 5150h0M7175 5046h0M6933 5063h0M6944 5178h0M6968 4963h0M6957 5068h0M7038 4951h0M7020 5047h0M6969 5227h0M6879 5180h0M6950 5012h0M6832 5008h0M6999 4956h0M6943 5054h0M7161 5057h0M7121 5143h0M7036 5006h0M7012 5035h0M7082 5124h0M7090 5146h0M7147 5237h0M7118 5265h0M6888 5193h0M6910 5221h0M6972 5217h0M6968 5239h0M7090 5100h0M7080 5129h0M4932 5275h0M5007 5264h0M4997 5338h0M4933 5254h0M5007 5226h0M5038 5333h0M4961 5362h0M5113 5381h0M5199 5364h0M5163 5450h0M5197 5450h0M5095 5438h0M5132 5320h0M5221 5361h0M4998 5475h0M5076 5418h0M5184 5334h0M5198 5435h0M5265 5406h0M5333 5485h0M5237 5387h0M5177 5317h0M5265 5511h0M5372 5519h0M5241 5353h0M5335 5382h0M4999 5461h0M5095 5411h0M5222 5300h0M5315 5269h0M5199 5349h0M5091 5365h0M5223 5303h0M5212 5325h0M5310 5471h0M5309 5501h0M5303 5297h0M5331 5317h0M5312 5550h0M5301 5575h0M5135 5535h0M5123 5556h0M5331 5519h0M5302 5545h0M5348 5261h0M5380 5347h0M5304 5332h0M5374 5239h0M5414 5333h0M5309 5385h0M5283 5278h0M5492 5368h0M5563 5375h0M5498 5443h0M5451 5444h0M5478 5326h0M5568 5364h0M5540 5465h0M5431 5461h0M5347 5510h0M5442 5377h0M5520 5343h0M5326 5583h0M5412 5537h0M5574 5547h0M5470 5518h0M5735 5400h0M5695 5487h0M5608 5545h0M5704 5495h0M5567 5356h0M5648 5268h0M5726 5214h0M5691 5307h0M5432 5426h0M5451 5317h0M5360 5366h0M5365 5387h0M5611 5270h0M5624 5296h0M5587 5247h0M5614 5273h0M5435 5425h0M5443 5448h0M5377 5420h0M5406 5447h0M5409 5559h0M5411 5578h0M5728 5359h0M5685 5293h0M5772 5279h0M5792 5293h0M5768 5378h0M5661 5308h0M5714 5246h0M5845 5429h0M5896 5365h0M5924 5431h0M5856 5341h0M5946 5373h0M5960 5449h0M5838 5437h0M5700 5441h0M5775 5495h0M6026 5364h0M5931 5404h0M5959 5420h0M5983 5531h0M6029 5328h0M5931 5362h0M5757 5540h0M5808 5447h0M5784 5410h0M5792 5509h0M5883 5586h0M5817 5507h0M6063 5503h0M6015 5590h0M5909 5479h0M6019 5484h0M5984 5321h0M6009 5342h0M5738 5315h0M5751 5345h0M6101 5476h0M6131 5499h0M5892 5466h0M5905 5494h0M5892 5472h0M5889 5492h0M6027 5528h0M6050 5548h0M6104 5258h0M6168 5305h0M6097 5337h0M6114 5219h0M6186 5314h0M6101 5376h0M6049 5302h0M6247 5432h0M6246 5360h0M6314 5395h0M6247 5338h0M6339 5370h0M6309 5451h0M6195 5427h0M6334 5419h0M6234 5428h0M6488 5295h0M6466 5386h0M6314 5481h0M6218 5515h0M6350 5514h0M6387 5431h0M6170 5208h0M6246 5289h0M6115 5476h0M6220 5444h0M6346 5532h0M6409 5464h0M6379 5453h0M6312 5389h0M6408 5452h0M6353 5539h0M6366 5341h0M6339 5367h0M6437 5270h0M6426 5298h0M6385 5545h0M6378 5568h0M6168 5256h0M6182 5281h0M6269 5371h0M6286 5401h0M6121 5324h0M6100 5347h0M6469 5262h0M6527 5332h0M6439 5329h0M6411 5330h0M6466 5246h0M6550 5284h0M6517 5363h0M6623 5357h0M6698 5389h0M6628 5443h0M6701 5350h0M6665 5461h0M6592 5423h0M6605 5353h0M6645 5530h0M6671 5428h0M6763 5415h0M6826 5511h0M6873 5418h0M6784 5476h0M6491 5361h0M6514 5455h0M6474 5406h0M6499 5310h0M6634 5303h0M6622 5212h0M6825 5408h0M6839 5515h0M6783 5369h0M6848 5443h0M6681 5381h0M6589 5359h0M6575 5371h0M6546 5397h0M6653 5551h0M6663 5579h0M6485 5339h0M6474 5364h0M6745 5296h0M6760 5318h0M6646 5374h0M6663 5402h0M6650 5341h0M6644 5364h0M6893 5275h0M6894 5350h0M6818 5308h0M6919 5253h0M6902 5364h0M6812 5341h0M6838 5243h0M7055 5434h0M6975 5399h0M7035 5346h0M6973 5444h0M6974 5345h0M7075 5351h0M7088 5452h0M7164 5364h0M7055 5359h0M7089 5331h0M7051 5436h0M6969 5527h0M7076 5506h0M6927 5243h0M7021 5285h0M7084 5252h0M7079 5349h0M6896 5466h0M6984 5524h0M6893 5467h0M6989 5450h0M7226 5377h0M7159 5452h0M7147 5438h0M7165 5341h0M6880 5377h0M6859 5399h0M6932 5375h0M6932 5405h0M7228 5383h0M7201 5412h0M7074 5372h0M7047 5398h0M7032 5262h0M7038 5285h0M7017 5300h0M7040 5330h0M4973 5669h0M4896 5631h0M4974 5586h0M4904 5572h0M5028 5624h0M4985 5699h0M4874 5660h0M5167 5691h0M5174 5775h0M5105 5720h0M5092 5683h0M5176 5670h0M5194 5782h0M5088 5789h0M5029 5637h0M4938 5692h0M5247 5786h0M5243 5877h0M5284 5760h0M5189 5707h0M5166 5828h0M5098 5764h0M5332 5685h0M5229 5704h0M5331 5629h0M5329 5520h0M4960 5865h0M5052 5838h0M5359 5756h0M5260 5747h0M5266 5786h0M5366 5841h0M5289 5684h0M5267 5712h0M5004 5583h0M4986 5608h0M5319 5660h0M5335 5683h0M5155 5750h0M5143 5780h0M5195 5687h0M5169 5707h0M5306 5710h0M5299 5736h0M5306 5599h0M5373 5637h0M5293 5672h0M5371 5694h0M5262 5680h0M5286 5571h0M5360 5571h0M5514 5689h0M5593 5725h0M5527 5762h0M5559 5801h0M5480 5725h0M5555 5650h0M5623 5709h0M5530 5707h0M5615 5775h0M5693 5539h0M5677 5637h0M5423 5824h0M5371 5897h0M5625 5743h0M5718 5781h0M5439 5723h0M5352 5687h0M5524 5850h0M5547 5759h0M5399 5605h0M5381 5709h0M5632 5766h0M5541 5744h0M5510 5631h0M5457 5553h0M5687 5851h0M5700 5880h0M5571 5754h0M5572 5783h0M5421 5708h0M5427 5731h0M5697 5786h0M5671 5812h0M5500 5587h0M5470 5616h0M5474 5685h0M5473 5703h0M5752 5628h0M5703 5676h0M5678 5587h0M5786 5603h0M5729 5703h0M5644 5678h0M5674 5574h0M5907 5697h0M5967 5753h0M5885 5781h0M5886 5795h0M5852 5709h0M5934 5673h0M5965 5775h0M5789 5772h0M5881 5814h0M5762 5865h0M5774 5770h0M5758 5814h0M5677 5866h0M5717 5741h0M5695 5839h0M5822 5645h0M5715 5650h0M5829 5790h0M5930 5777h0M5996 5843h0M5909 5793h0M6030 5921h0M6008 5830h0M6058 5560h0M5949 5578h0M5775 5659h0M5791 5681h0M5862 5576h0M5850 5599h0M5881 5724h0M5894 5748h0M5909 5873h0M5891 5898h0M5963 5607h0M5966 5630h0M6062 5751h0M6087 5774h0M6129 5622h0M6092 5682h0M6064 5593h0M6028 5591h0M6143 5587h0M6131 5699h0M6053 5695h0M6322 5738h0M6246 5752h0M6291 5669h0M6236 5765h0M6255 5646h0M6347 5685h0M6341 5776h0M6095 5765h0M6113 5658h0M6061 5865h0M6158 5878h0M6421 5776h0M6367 5860h0M6096 5691h0M6190 5700h0M6153 5805h0M6199 5892h0M6150 5785h0M6197 5699h0M6111 5677h0M6113 5571h0M6378 5659h0M6439 5568h0M6084 5602h0M6198 5584h0M6209 5674h0M6230 5703h0M6422 5876h0M6433 5898h0M6437 5735h0M6416 5762h0M6156 5872h0M6180 5897h0M6447 5760h0M6440 5783h0M6202 5853h0M6220 5881h0M6508 5641h0M6436 5666h0M6435 5592h0M6495 5672h0M6401 5662h0M6397 5572h0M6505 5563h0M6648 5779h0M6645 5676h0M6707 5720h0M6736 5762h0M6630 5786h0M6582 5701h0M6697 5679h0M6758 5724h0M6767 5826h0M6766 5878h0M6697 5805h0M6464 5698h0M6556 5678h0M6481 5747h0M6561 5682h0M6624 5594h0M6725 5568h0M6652 5672h0M6664 5768h0M6705 5616h0M6728 5512h0M6728 5779h0M6694 5674h0M6569 5635h0M6625 5711h0M6603 5850h0M6613 5874h0M6715 5741h0M6727 5762h0M6589 5671h0M6588 5697h0M6480 5580h0M6454 5607h0M6468 5861h0M6488 5885h0M6616 5717h0M6645 5737h0M6891 5642h0M6803 5672h0M6829 5577h0M6881 5572h0M6879 5699h0M6776 5671h0M6795 5586h0M7087 5698h0M7060 5780h0M7010 5713h0M7021 5794h0M6979 5707h0M7090 5674h0M7103 5778h0M6927 5531h0M6947 5621h0M7159 5923h0M7221 5835h0M6968 5605h0M6859 5628h0M7073 5850h0M6970 5802h0M7171 5784h0M7087 5726h0M7121 5684h0M7237 5672h0M6942 5755h0M7041 5773h0M6991 5814h0M6905 5777h0M7153 5765h0M7137 5663h0M6840 5783h0M6835 5803h0M6856 5593h0M6886 5622h0M7139 5637h0M7137 5665h0M6905 5583h0M6892 5603h0M7178 5615h0M7151 5637h0M7107 5763h0M7123 5790h0M5669 4985h0M5257 4976h0M6089 4955h0M6408 4993h0M5417 4963h0M5912 4971h0M5289 4966h0M6120 4966h0M5370 4957h0M6116 4968h0M5699 4992h0M5861 4977h0M5435 4960h0M5905 4978h0M5862 4983h0M5490 4973h0M5800 4980h0M6673 4969h0M6301 4978h0M5410 4973h0M5512 4969h0M5922 4957h0" stroke="#e00e08" stroke-width="38" stroke-linecap="round" fill="none"/>
<path transform="scale(.1)" d="M4905 4984h0M4978 4934h0M4980 5025h0M4930 5051h0M4901 4937h0M5003 5012h0M5206 5049h0M5173 5120h0M5129 5055h0M5242 5054h0M5208 5138h0M5115 5108h0M5155 4988h0M5150 5162h0M5183 5053h0M5238 4946h0M5329 4989h0M5269 5266h0M5331 5188h0M5314 4945h0M5203 4956h0M5196 5153h0M5213 5257h0M5120 5076h0M5151 4988h0M4986 4972h0M5073 5024h0M5028 4996h0M4975 5093h0M5289 4990h0M5261 5177h0M5276 5204h0M5283 4975h0M5308 4993h0M5310 5239h0M5292 5259h0M5130 5187h0M5137 5211h0M5054 4989h0M5071 5008h0M5031 5025h0M5022 5047h0M5277 5007h0M5329 4936h0M5375 4987h0M5399 4994h0M5308 5059h0M5248 4950h0M5484 5034h0M5566 5078h0M5519 5121h0M5557 5129h0M5463 5112h0M5481 5009h0M5571 5026h0M5681 5125h0M5570 5154h0M5364 5120h0M5462 5129h0M5332 5109h0M5433 5092h0M5385 4974h0M5371 5216h0M5417 5126h0M5449 5108h0M5539 5111h0M5454 5154h0M5549 5193h0M5361 5185h0M5313 5279h0M5502 5218h0M5602 5233h0M5562 5196h0M5540 5217h0M5366 5223h0M5348 5249h0M5479 5127h0M5470 5153h0M5396 5226h0M5385 5256h0M5613 5234h0M5590 5261h0M5634 5076h0M5640 5100h0M5659 4989h0M5728 4951h0M5718 5032h0M5682 5045h0M5636 4976h0M5780 4981h0M5947 5068h0M5869 5108h0M5878 5033h0M5946 5021h0M5957 5109h0M5871 5139h0M5848 5027h0M5916 5049h0M6024 5067h0M5952 5076h0M5968 5168h0M5997 5003h0M5829 4956h0M5859 5062h0M5878 5156h0M5670 5185h0M5752 5243h0M5786 5034h0M5840 4942h0M6015 5123h0M6105 5108h0M6041 5122h0M6126 5191h0M6021 5171h0M6011 5201h0M5973 5213h0M5981 5235h0M5988 5237h0M5979 5260h0M5977 5056h0M5961 5085h0M5927 5232h0M5910 5260h0M5792 5235h0M5803 5264h0M6083 4949h0M6135 5007h0M6064 5032h0M6122 4940h0M6118 5046h0M6028 5041h0M6290 5035h0M6300 5123h0M6234 5089h0M6196 5058h0M6288 5010h0M6345 5091h0M6264 5155h0M6367 5133h0M6350 5226h0M6224 5155h0M6206 5059h0M6044 5105h0M6140 5081h0M6209 4957h0M6217 5060h0M6151 5136h0M6307 4937h0M6238 5012h0M6247 4989h0M6160 5044h0M6321 5036h0M6285 5138h0M6171 4968h0M6063 4997h0M6171 4953h0M6171 4980h0M6138 5200h0M6134 5230h0M6408 4984h0M6421 5004h0M6383 5124h0M6375 5149h0M6301 5216h0M6313 5243h0M6219 5142h0M6211 5168h0M6407 4941h0M6487 4962h0M6449 5031h0M6513 4969h0M6429 5051h0M6370 4960h0M6683 5044h0M6654 5127h0M6604 5052h0M6702 5113h0M6606 5131h0M6596 5028h0M6678 5026h0M6606 4976h0M6519 4951h0M6580 5164h0M6586 5058h0M6558 5134h0M6462 5133h0M6724 5235h0M6671 5163h0M6764 5024h0M6653 5048h0M6782 5049h0M6766 4945h0M6729 5192h0M6815 5269h0M6755 4962h0M6523 5199h0M6576 5107h0M6572 5211h0M6565 5232h0M6512 4956h0M6499 4984h0M6660 5011h0M6678 5037h0M6756 4984h0M6757 5010h0M6784 5166h0M6794 5193h0M6512 5208h0M6510 5231h0M6882 4952h0M6819 5015h0M6805 4934h0M6819 5045h0M6914 4984h0M7031 5023h0M7054 5092h0M6963 5063h0M7081 5018h0M7023 5131h0M6949 5102h0M6977 5016h0M6893 5103h0M7002 5134h0M7152 5144h0M7169 5040h0M6927 5058h0M6938 5172h0M6963 4958h0M6951 5062h0M7033 4946h0M7014 5041h0M6964 5222h0M6873 5175h0M6945 5007h0M6827 5003h0M6993 4950h0M6938 5049h0M7156 5052h0M7115 5137h0M7030 5000h0M7006 5030h0M7076 5119h0M7085 5141h0M7141 5232h0M7112 5260h0M6883 5187h0M6905 5216h0M6966 5212h0M6962 5234h0M7084 5094h0M7075 5124h0M4926 5269h0M5001 5258h0M4991 5332h0M4927 5248h0M5001 5220h0M5032 5327h0M4955 5356h0M5107 5375h0M5193 5358h0M5157 5444h0M5191 5444h0M5089 5432h0M5126 5314h0M5215 5355h0M4992 5469h0M5071 5412h0M5179 5328h0M5193 5429h0M5260 5400h0M5327 5480h0M5231 5381h0M5171 5311h0M5260 5505h0M5367 5514h0M5236 5347h0M5329 5377h0M4993 5456h0M5090 5406h0M5216 5294h0M5309 5264h0M5194 5343h0M5086 5359h0M5217 5297h0M5207 5320h0M5304 5466h0M5304 5496h0M5298 5292h0M5325 5312h0M5307 5545h0M5296 5569h0M5130 5529h0M5118 5551h0M5325 5514h0M5297 5540h0M5342 5255h0M5374 5341h0M5298 5326h0M5368 5233h0M5408 5327h0M5303 5379h0M5277 5272h0M5486 5362h0M5557 5369h0M5492 5437h0M5445 5438h0M5472 5320h0M5562 5358h0M5534 5459h0M5425 5455h0M5342 5504h0M5436 5371h0M5515 5337h0M5320 5578h0M5406 5531h0M5569 5541h0M5465 5512h0M5729 5395h0M5689 5481h0M5602 5539h0M5699 5489h0M5561 5351h0M5642 5263h0M5720 5208h0M5685 5301h0M5426 5420h0M5446 5312h0M5354 5360h0M5359 5382h0M5605 5265h0M5619 5291h0M5581 5241h0M5609 5268h0M5430 5419h0M5438 5443h0M5372 5414h0M5401 5442h0M5403 5554h0M5406 5573h0M5722 5353h0M5679 5287h0M5766 5273h0M5786 5287h0M5762 5372h0M5655 5302h0M5708 5240h0M5839 5423h0M5890 5359h0M5918 5425h0M5850 5335h0M5940 5367h0M5954 5443h0M5832 5431h0M5694 5436h0M5769 5489h0M6021 5359h0M5926 5398h0M5953 5414h0M5977 5526h0M6024 5322h0M5925 5357h0M5752 5534h0M5803 5441h0M5778 5405h0M5787 5503h0M5877 5581h0M5812 5502h0M6058 5497h0M6009 5584h0M5904 5473h0M6013 5478h0M5978 5315h0M6004 5336h0M5733 5309h0M5746 5339h0M6096 5470h0M6126 5494h0M5886 5461h0M5900 5489h0M5886 5466h0M5884 5486h0M6022 5523h0M6045 5542h0M6098 5252h0M6162 5299h0M6091 5331h0M6108 5213h0M6180 5308h0M6095 5370h0M6043 5296h0M6241 5426h0M6240 5354h0M6308 5389h0M6241 5332h0M6333 5364h0M6303 5445h0M6189 5421h0M6329 5413h0M6229 5423h0M6482 5290h0M6460 5381h0M6309 5476h0M6212 5509h0M6345 5508h0M6381 5425h0M6164 5202h0M6241 5284h0M6110 5471h0M6214 5438h0M6341 5526h0M6403 5458h0M6374 5448h0M6306 5383h0M6403 5446h0M6348 5533h0M6361 5336h0M6334 5362h0M6432 5264h0M6421 5293h0M6379 5539h0M6373 5562h0M6162 5250h0M6177 5276h0M6263 5366h0M6281 5396h0M6115 5318h0M6095 5342h0M6463 5256h0M6521 5326h0M6433 5323h0M6405 5324h0M6460 5240h0M6544 5278h0M6511 5357h0M6617 5351h0M6692 5383h0M6622 5437h0M6695 5344h0M6659 5455h0M6586 5417h0M6599 5347h0M6640 5525h0M6665 5423h0M6758 5409h0M6820 5506h0M6868 5412h0M6778 5470h0M6485 5355h0M6509 5449h0M6469 5400h0M6493 5305h0M6628 5297h0M6616 5207h0M6820 5403h0M6833 5509h0M6777 5363h0M6843 5438h0M6676 5375h0M6583 5353h0M6570 5365h0M6541 5391h0M6647 5546h0M6658 5574h0M6480 5334h0M6469 5358h0M6740 5290h0M6755 5313h0M6640 5369h0M6657 5397h0M6644 5335h0M6638 5359h0M6887 5269h0M6888 5344h0M6812 5302h0M6913 5247h0M6896 5358h0M6806 5335h0M6832 5237h0M7049 5428h0M6969 5393h0M7029 5340h0M6967 5438h0M6968 5339h0M7069 5345h0M7082 5446h0M7159 5359h0M7050 5353h0M7084 5325h0M7045 5431h0M6964 5521h0M7071 5501h0M6922 5237h0M7015 5279h0M7079 5246h0M7073 5344h0M6890 5460h0M6978 5518h0M6887 5461h0M6983 5444h0M7220 5371h0M7153 5446h0M7142 5432h0M7159 5335h0M6874 5371h0M6853 5393h0M6927 5370h0M6927 5399h0M7222 5377h0M7196 5407h0M7069 5367h0M7042 5392h0M7027 5256h0M7032 5279h0M7011 5295h0M7035 5324h0M4967 5663h0M4890 5625h0M4968 5580h0M4898 5566h0M5022 5618h0M4979 5693h0M4868 5654h0M5161 5685h0M5168 5769h0M5099 5714h0M5086 5677h0M5170 5664h0M5188 5776h0M5082 5783h0M5024 5632h0M4933 5686h0M5242 5780h0M5238 5871h0M5279 5755h0M5183 5701h0M5160 5823h0M5092 5759h0M5327 5679h0M5224 5699h0M5326 5624h0M5324 5514h0M4954 5860h0M5047 5833h0M5354 5750h0M5254 5741h0M5260 5781h0M5360 5835h0M5283 5679h0M5262 5706h0M4999 5578h0M4981 5603h0M5313 5655h0M5330 5678h0M5149 5745h0M5137 5775h0M5189 5681h0M5164 5702h0M5300 5704h0M5294 5730h0M5300 5593h0M5367 5631h0M5287 5666h0M5365 5688h0M5256 5674h0M5280 5565h0M5354 5565h0M5508 5683h0M5587 5719h0M5521 5756h0M5553 5795h0M5474 5719h0M5549 5644h0M5617 5703h0M5525 5701h0M5609 5770h0M5687 5534h0M5672 5632h0M5418 5818h0M5365 5891h0M5620 5738h0M5713 5775h0M5434 5718h0M5346 5681h0M5519 5844h0M5542 5754h0M5394 5599h0M5376 5703h0M5626 5761h0M5535 5738h0M5505 5626h0M5452 5547h0M5682 5845h0M5695 5875h0M5565 5748h0M5567 5778h0M5415 5702h0M5422 5726h0M5691 5780h0M5666 5806h0M5495 5581h0M5465 5610h0M5469 5679h0M5468 5698h0M5746 5622h0M5697 5670h0M5672 5581h0M5780 5597h0M5723 5697h0M5638 5672h0M5668 5568h0M5901 5691h0M5961 5747h0M5879 5775h0M5880 5789h0M5846 5703h0M5928 5667h0M5959 5769h0M5783 5766h0M5875 5808h0M5757 5860h0M5768 5764h0M5752 5809h0M5672 5861h0M5712 5736h0M5690 5833h0M5816 5639h0M5709 5644h0M5823 5785h0M5924 5772h0M5990 5838h0M5904 5787h0M6025 5915h0M6002 5825h0M6052 5554h0M5943 5572h0M5769 5653h0M5785 5676h0M5857 5570h0M5845 5594h0M5875 5718h0M5889 5742h0M5903 5867h0M5885 5893h0M5957 5601h0M5961 5625h0M6056 5745h0M6082 5769h0M6123 5616h0M6086 5676h0M6058 5587h0M6022 5585h0M6137 5581h0M6125 5693h0M6047 5689h0M6316 5732h0M6240 5746h0M6285 5663h0M6230 5759h0M6249 5640h0M6341 5679h0M6335 5770h0M6089 5759h0M6107 5653h0M6056 5860h0M6153 5872h0M6415 5771h0M6361 5854h0M6090 5686h0M6185 5694h0M6147 5800h0M6193 5886h0M6144 5780h0M6192 5693h0M6106 5672h0M6107 5566h0M6372 5654h0M6433 5563h0M6079 5597h0M6193 5579h0M6203 5668h0M6225 5698h0M6416 5870h0M6427 5893h0M6432 5729h0M6411 5757h0M6151 5866h0M6175 5891h0M6441 5755h0M6435 5778h0M6197 5847h0M6215 5876h0M6502 5635h0M6430 5660h0M6429 5586h0M6489 5666h0M6395 5656h0M6391 5566h0M6499 5557h0M6642 5773h0M6639 5670h0M6701 5714h0M6730 5756h0M6624 5780h0M6576 5695h0M6691 5673h0M6752 5719h0M6762 5820h0M6760 5873h0M6691 5799h0M6458 5693h0M6550 5673h0M6475 5741h0M6556 5676h0M6619 5589h0M6719 5563h0M6646 5666h0M6659 5763h0M6700 5611h0M6722 5507h0M6723 5773h0M6688 5669h0M6564 5630h0M6620 5706h0M6597 5844h0M6607 5869h0M6709 5736h0M6722 5757h0M6583 5666h0M6582 5691h0M6474 5574h0M6449 5601h0M6463 5855h0M6483 5880h0M6611 5712h0M6639 5732h0M6885 5636h0M6797 5666h0M6823 5571h0M6875 5566h0M6873 5693h0M6770 5665h0M6789 5580h0M7081 5692h0M7054 5774h0M7004 5707h0M7015 5788h0M6973 5701h0M7084 5668h0M7097 5772h0M6922 5525h0M6942 5615h0M7153 5917h0M7215 5830h0M6962 5600h0M6854 5623h0M7067 5845h0M6965 5797h0M7165 5779h0M7082 5721h0M7116 5679h0M7231 5666h0M6937 5750h0M7035 5768h0M6986 5809h0M6899 5772h0M7148 5760h0M7132 5658h0M6835 5778h0M6830 5798h0M6851 5588h0M6880 5617h0M7134 5632h0M7132 5659h0M6900 5578h0M6886 5598h0M7172 5610h0M7145 5631h0M7102 5758h0M7118 5785h0M5663 4980h0M5251 4970h0M6083 4950h0M6402 4988h0M5411 4958h0M5906 4965h0M5284 4960h0M6115 4960h0M5365 4952h0M6111 4963h0M5694 4987h0M5855 4972h0M5429 4955h0M5899 4973h0M5857 4977h0M5484 4968h0M5794 4974h0M6668 4963h0M6295 4973h0M5404 4968h0M5506 4963h0M5917 4951h0" stroke="#ff4030" stroke-width="21" stroke-linecap="round" fill="none"/>
<path transform="scale(.1)" d="M5166 5109h0M5307 5232h0M5216 5212h0M5137 5035h0M5036 4999h0M5007 5047h0M5631 5148h0M5424 5123h0M5393 5109h0M5398 5181h0M5501 5110h0M5503 5167h0M5349 5238h0M5558 5237h0M5974 5073h0M5963 5127h0M5868 5121h0M5722 5222h0M5821 4994h0M6069 5125h0M6084 5164h0M6369 5188h0M6224 5107h0M6102 5100h0M6190 5100h0M6279 4983h0M6209 5021h0M6304 5086h0M6122 4986h0M6588 5111h0M6517 5153h0M6700 5206h0M6712 5039h0M6781 4999h0M6773 5240h0M6561 5163h0M6951 5122h0M7168 5104h0M6944 5118h0M6962 5018h0M7030 4998h0M6927 5197h0M6892 5007h0M6974 5008h0M7146 5103h0M5041 5445h0M5184 5377h0M5288 5454h0M5214 5351h0M5314 5512h0M5283 5370h0M5048 5447h0M5270 5282h0M5148 5357h0M5400 5492h0M5476 5351h0M5370 5558h0M5520 5532h0M5723 5449h0M5656 5524h0M5606 5311h0M5710 5257h0M5433 5366h0M5733 5472h0M5979 5381h0M5968 5476h0M5972 5343h0M5781 5494h0M5791 5457h0M5865 5544h0M6041 5543h0M5965 5475h0M6290 5429h0M6476 5337h0M6266 5494h0M6367 5474h0M6205 5251h0M6169 5469h0M6374 5494h0M6347 5419h0M6377 5488h0M6663 5480h0M6788 5466h0M6834 5445h0M6496 5410h0M6484 5363h0M6626 5260h0M6836 5462h0M6817 5402h0M6638 5362h0M7106 5360h0M7074 5381h0M7020 5521h0M6969 5260h0M7083 5307h0M6939 5489h0M6942 5454h0M7196 5407h0M7157 5385h0M4985 5658h0M5246 5829h0M5238 5730h0M5133 5795h0M5278 5708h0M5329 5572h0M5013 5858h0M5304 5751h0M5311 5822h0M5578 5736h0M5680 5591h0M5393 5856h0M5668 5762h0M5400 5707h0M5546 5809h0M5383 5660h0M5588 5747h0M5485 5595h0M5827 5793h0M5775 5820h0M5722 5837h0M5715 5784h0M5767 5645h0M5886 5789h0M5958 5817h0M6013 5873h0M6002 5569h0M6110 5710h0M6112 5868h0M6396 5825h0M6144 5698h0M6165 5854h0M6178 5747h0M6112 5618h0M6403 5610h0M6142 5591h0M6766 5776h0M6725 5837h0M6515 5691h0M6526 5718h0M6668 5587h0M6650 5724h0M6711 5565h0M6706 5726h0M6596 5672h0M6931 5577h0M7202 5881h0M6917 5621h0M7022 5824h0M7128 5751h0M7179 5683h0M6993 5767h0M6945 5800h0M7141 5712h0" stroke="#cfb68c" stroke-width="49" stroke-linecap="round" fill="none"/>
<path transform="scale(.1)" d="M5158 5101h0M5300 5225h0M5209 5204h0M5129 5028h0M5028 4991h0M5000 5040h0M5624 5141h0M5416 5116h0M5385 5102h0M5390 5173h0M5494 5103h0M5496 5160h0M5342 5231h0M5550 5230h0M5967 5065h0M5955 5120h0M5861 5114h0M5714 5214h0M5813 4987h0M6062 5118h0M6076 5156h0M6361 5181h0M6217 5100h0M6094 5093h0M6183 5092h0M6272 4975h0M6202 5014h0M6297 5079h0M6114 4979h0M6580 5104h0M6510 5146h0M6693 5198h0M6705 5032h0M6773 4991h0M6766 5233h0M6554 5156h0M6943 5114h0M7161 5097h0M6937 5111h0M6954 5011h0M7022 4990h0M6920 5190h0M6884 5000h0M6966 5001h0M7138 5095h0M5033 5438h0M5177 5369h0M5281 5446h0M5206 5344h0M5306 5504h0M5275 5362h0M5041 5439h0M5263 5275h0M5141 5350h0M5392 5484h0M5469 5344h0M5362 5551h0M5512 5525h0M5715 5442h0M5648 5517h0M5599 5304h0M5702 5250h0M5426 5359h0M5726 5465h0M5971 5373h0M5961 5469h0M5965 5336h0M5774 5487h0M5784 5449h0M5858 5536h0M6034 5536h0M5958 5468h0M6283 5422h0M6469 5329h0M6259 5487h0M6360 5466h0M6198 5244h0M6161 5462h0M6367 5487h0M6340 5411h0M6370 5481h0M6656 5473h0M6781 5459h0M6826 5438h0M6488 5403h0M6476 5356h0M6618 5253h0M6829 5455h0M6809 5395h0M6631 5354h0M7099 5352h0M7067 5374h0M7012 5514h0M6962 5253h0M7076 5299h0M6932 5482h0M6934 5446h0M7188 5400h0M7150 5378h0M4978 5650h0M5239 5822h0M5231 5722h0M5125 5788h0M5270 5701h0M5321 5565h0M5005 5850h0M5296 5744h0M5303 5815h0M5571 5728h0M5673 5584h0M5386 5849h0M5661 5754h0M5392 5700h0M5539 5801h0M5376 5653h0M5581 5740h0M5478 5588h0M5819 5785h0M5768 5813h0M5714 5830h0M5708 5777h0M5759 5638h0M5879 5782h0M5950 5810h0M6006 5865h0M5994 5562h0M6103 5703h0M6105 5861h0M6388 5817h0M6137 5691h0M6157 5847h0M6170 5740h0M6105 5611h0M6395 5602h0M6135 5583h0M6759 5769h0M6717 5829h0M6508 5683h0M6518 5711h0M6661 5579h0M6643 5716h0M6704 5558h0M6699 5719h0M6588 5664h0M6924 5569h0M7194 5874h0M6910 5614h0M7015 5816h0M7120 5743h0M7171 5676h0M6986 5760h0M6938 5793h0M7134 5704h0" stroke="#eee0c2" stroke-width="27" stroke-linecap="round" fill="none"/>
<path transform="scale(.1)" d="M4956 4986h0M5173 5076h0M5329 4984h0M5523 5084h0M5707 4988h0M5905 5084h0M6092 4997h0M6278 5085h0M6452 4985h0M6652 5083h0M6850 4975h0M7021 5073h0M4981 5298h0M5156 5397h0M5351 5315h0M5516 5401h0M5726 5307h0M5891 5407h0M6119 5298h0M6270 5398h0M6480 5306h0M6647 5397h0M6865 5310h0M7028 5398h0M4948 5632h0M5149 5735h0M5324 5634h0M5548 5719h0M5708 5629h0M5915 5737h0M6091 5636h0M6283 5717h0M6458 5624h0M6659 5729h0M6838 5630h0M7049 5729h0" stroke="#48484c" stroke-width="54" stroke-linecap="round" fill="none"/>
<path transform="scale(.1)" d="M4948 4978h0M5164 5068h0M5321 4976h0M5515 5076h0M5699 4980h0M5897 5076h0M6084 4989h0M6270 5077h0M6444 4977h0M6644 5075h0M6842 4967h0M7013 5065h0M4973 5290h0M5148 5389h0M5343 5307h0M5508 5393h0M5718 5299h0M5883 5399h0M6111 5289h0M6262 5390h0M6472 5297h0M6638 5388h0M6857 5302h0M7020 5389h0M4940 5624h0M5141 5726h0M5316 5626h0M5540 5711h0M5700 5621h0M5907 5729h0M6083 5628h0M6275 5709h0M6450 5616h0M6651 5721h0M6830 5622h0M7041 5721h0" stroke="#77777d" stroke-width="30" stroke-linecap="round" fill="none"/>
<path transform="scale(.1)" d="M5192 5140h0M5206 5158h0M5367 5118h0M5381 5136h0M5727 5030h0M5741 5048h0M6093 5025h0M6107 5043h0M6397 5189h0M6411 5207h0M6530 5228h0M6544 5246h0M6838 5023h0M6852 5041h0M5089 5331h0M5103 5349h0M5400 5468h0M5414 5486h0M5743 5365h0M5757 5383h0M6273 5401h0M6287 5419h0M6827 5385h0M6841 5403h0M7041 5439h0M7055 5457h0M7066 5562h0M7080 5580h0M5171 5696h0M5185 5714h0M5394 5697h0M5408 5715h0M5480 5728h0M5494 5746h0M5786 5834h0M5800 5852h0M6367 5805h0M6381 5823h0M6519 5834h0M6533 5852h0M7154 5667h0M7168 5685h0M5486 4119h0M5806 4272h0M6587 4282h0" stroke="#d99a12" stroke-width="32" stroke-linecap="round" fill="none"/>
<path transform="scale(.1)" d="M5187 5136h0M5201 5154h0M5362 5113h0M5376 5131h0M5722 5026h0M5736 5044h0M6088 5020h0M6102 5038h0M6392 5184h0M6406 5202h0M6525 5223h0M6539 5241h0M6833 5018h0M6847 5036h0M5084 5327h0M5098 5345h0M5395 5463h0M5409 5481h0M5738 5361h0M5752 5379h0M6268 5396h0M6282 5414h0M6822 5380h0M6836 5398h0M7036 5435h0M7050 5453h0M7061 5557h0M7075 5575h0M5167 5691h0M5181 5709h0M5389 5692h0M5403 5710h0M5475 5723h0M5489 5741h0M5781 5829h0M5795 5847h0M6362 5801h0M6376 5819h0M6514 5829h0M6528 5847h0M7149 5663h0M7163 5681h0M5482 4115h0M5802 4268h0M6583 4278h0" stroke="#ffcf48" stroke-width="17" stroke-linecap="round" fill="none"/>
</g>
<rect x="524.60" y="403.80" width="158.70" height="172.70" fill="none" stroke="#3c4ff2" stroke-width="1.3"/>
</svg></body></html>
